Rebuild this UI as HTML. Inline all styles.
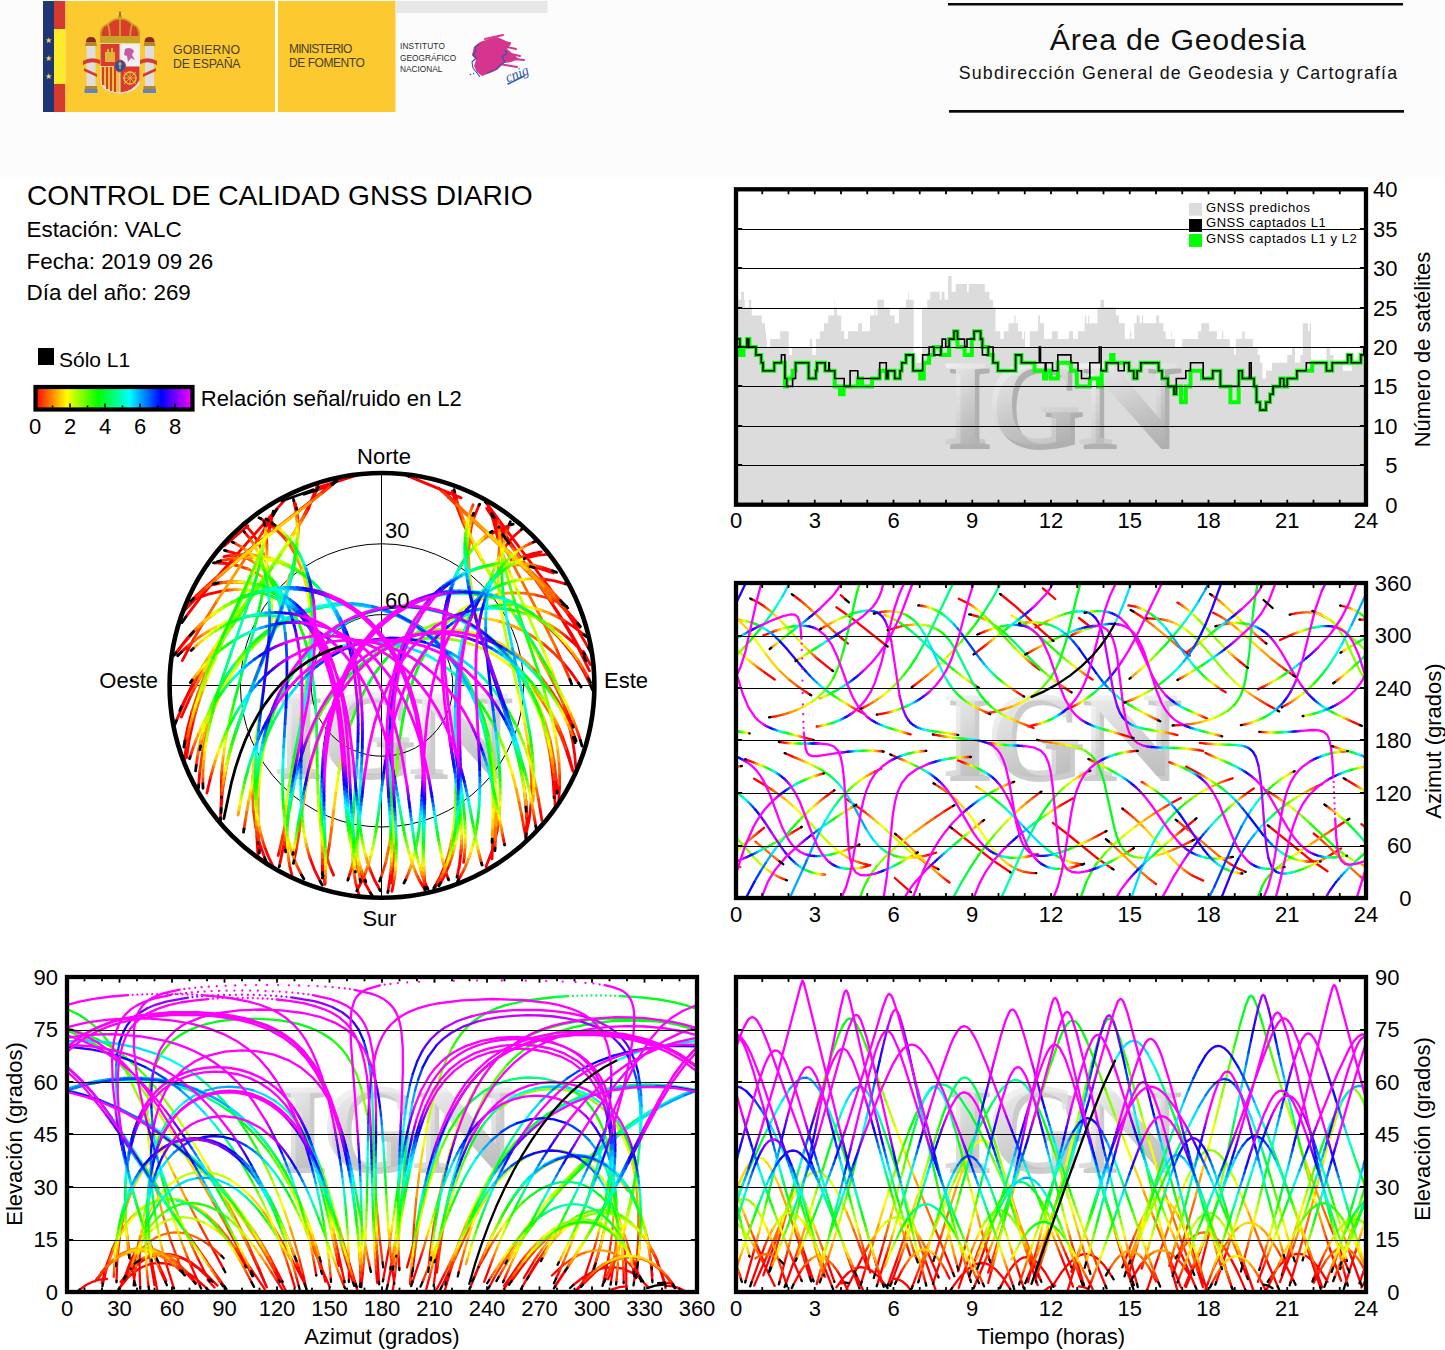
<!DOCTYPE html>
<html><head><meta charset="utf-8"><title>Control de calidad GNSS diario - VALC</title>
<style>html,body{margin:0;padding:0;background:#fff;} svg{display:block;}</style></head>
<body><svg width="1445" height="1350" viewBox="0 0 1445 1350">
<rect x="0" y="0" width="1445" height="177" fill="#fcfcfc"/>
<rect x="43" y="1" width="11" height="111" fill="#1f3676"/>
<text x="48.5" y="43" font-size="8" fill="#f3d34a" text-anchor="middle" font-family="'Liberation Sans', Arial, Helvetica, sans-serif">★</text>
<text x="48.5" y="61" font-size="8" fill="#f3d34a" text-anchor="middle" font-family="'Liberation Sans', Arial, Helvetica, sans-serif">★</text>
<text x="48.5" y="79" font-size="8" fill="#f3d34a" text-anchor="middle" font-family="'Liberation Sans', Arial, Helvetica, sans-serif">★</text>
<rect x="54" y="1" width="11.5" height="28" fill="#d53a2e"/>
<rect x="54" y="29" width="11.5" height="55" fill="#f9ec2b"/>
<rect x="54" y="84" width="11.5" height="28" fill="#d53a2e"/>
<rect x="65.5" y="1" width="209.5" height="111" fill="#fdc931"/>
<rect x="275" y="1" width="3" height="111" fill="#fffdf0"/>
<rect x="278" y="1" width="117.5" height="111" fill="#fdc931"/>
<rect x="395.5" y="1" width="152" height="12" fill="#e7e7e7"/>
<g>
<path d="M101,38 Q99,27 108,24 Q114,18 120,19 Q126,18 132,24 Q141,27 139,38 Z" fill="#d93b2c"/>
<path d="M101,38 Q99,27 108,24 Q114,18 120,19 Q126,18 132,24 Q141,27 139,38 M108,24 Q110,31 110,38 M132,24 Q130,31 130,38 M120,19 L120,38" fill="none" stroke="#c9a227" stroke-width="1.8"/>
<circle cx="120" cy="17" r="2.2" fill="#c9a227"/><rect x="119.2" y="11.5" width="1.6" height="5" fill="#8a6a1a"/>
<rect x="100" y="36" width="40" height="7" rx="1.5" fill="#c9a227"/>
<path d="M100,43.5 L140,43.5 L140,79 Q140,92 120,93.5 Q100,92 100,79 Z" fill="#e4e4e4"/>
<rect x="100.5" y="44" width="19" height="22" fill="#d93b2c"/>
<path d="M105,62 L105,52 L107,52 L107,49 L109,49 L109,52 L111,52 L111,48 L113,48 L113,52 L115,52 L115,62 Z" fill="#e2b23a"/>
<rect x="120.5" y="44" width="19" height="22" fill="#f0f0f0"/>
<path d="M125,49 Q131,46 134,51 L132,55 L135,60 L131,58 L128,62 L127,56 L124,55 Z" fill="#c75aa0"/>
<path d="M100.5,66.5 L119.5,66.5 L119.5,92.5 Q106,91 100.5,80 Z" fill="#e8c13a"/>
<path d="M103,67 L103,85 M107,67 L107,89 M111,67 L111,91 M115,67 L115,92" stroke="#d93b2c" stroke-width="2"/>
<path d="M120.5,66.5 L139.5,66.5 L139.5,80 Q134,91 120.5,92.5 Z" fill="#d93b2c"/>
<circle cx="130" cy="78" r="6" fill="none" stroke="#e8c13a" stroke-width="1.6"/>
<path d="M124,72 L136,84 M136,72 L124,84 M130,71 L130,85 M123,78 L137,78" stroke="#e8c13a" stroke-width="0.9"/>
<ellipse cx="120" cy="66" rx="5.5" ry="6" fill="#2d4fa3" stroke="#d93b2c" stroke-width="1"/>
<path d="M118,64 L122,64 M120,62 L120,69" stroke="#e8c13a" stroke-width="1.2"/>
<rect x="86.5" y="46" width="9" height="41" fill="#dedede"/>
<rect x="145" y="46" width="9" height="41" fill="#dedede"/>
<path d="M85,46 L97,46 L96,42 L86,42 Z M143.5,46 L155.5,46 L154.5,42 L144.5,42 Z" fill="#b5872c"/>
<path d="M86,42 Q86,37 91,37 Q96,37 96,42 Z M144.5,42 Q144.5,37 149.5,37 Q154.5,37 154.5,42 Z" fill="#8c2a1f"/>
<rect x="85" y="86" width="12" height="3" fill="#b5872c"/>
<rect x="143.5" y="86" width="12" height="3" fill="#b5872c"/>
<rect x="84.5" y="89" width="13" height="4" fill="#5f86c0"/>
<rect x="143" y="89" width="13" height="4" fill="#5f86c0"/>
<path d="M83,61 Q91,56 100,60 L100,64 Q91,60 83,65 Z M84,68 L97,74 L97,77 L84,71 Z" fill="#d93b2c"/>
<path d="M157,61 Q149,56 140,60 L140,64 Q149,60 157,65 Z M156,68 L143,74 L143,77 L156,71 Z" fill="#d93b2c"/>
</g>
<g font-family="'Liberation Sans', Arial, Helvetica, sans-serif" font-size="12.3" fill="#45422c" letter-spacing="0.1"><text x="173" y="54.2">GOBIERNO</text><text x="173" y="68" letter-spacing="-0.25">DE ESPAÑA</text></g>
<g font-family="'Liberation Sans', Arial, Helvetica, sans-serif" font-size="12" fill="#45422c" letter-spacing="-0.45"><text x="289" y="53" letter-spacing="-0.75">MINISTERIO</text><text x="289" y="67">DE FOMENTO</text></g>
<g font-family="'Liberation Sans', Arial, Helvetica, sans-serif" font-size="8.3" fill="#2a2a2a"><text x="400" y="48.8" letter-spacing="0.15">INSTITUTO</text><text x="400" y="60.6">GEOGRÁFICO</text><text x="400" y="71.8">NACIONAL</text></g>
<g>
<path d="M474,47 L480,42 L489,39 L497,37 L504,40 L511,44 L507,49 L513,54 L519,59 L511,62 L504,63 L498,69 L490,73 L482,76 L477,72 L474,66 L476,60 L472,55 Z" fill="#d5358c"/>
<path d="M492,40 L510,43 M497,45 L516,49 M503,52 L520,56 M504,58 L524,60 M499,64 L517,67 M485,39 L503,35" stroke="#d5358c" stroke-width="2" stroke-linecap="round"/>
<path d="M479,44 L475,47 L476,51 L473,55 L476,58 L472,62 L473,68 L477,73 L480,77 M487,73 L493,71 L497,69 L500,65 L505,62 L502,57 L507,53 L505,50" fill="none" stroke="#2a55b0" stroke-width="1.1" stroke-linejoin="round"/>
<circle cx="470.5" cy="74.5" r="0.8" fill="#2a55b0"/><circle cx="473.5" cy="73.5" r="0.7" fill="#2a55b0"/>
<text x="505" y="78" font-family="'Liberation Serif', 'Times New Roman', serif" font-style="italic" font-size="14" fill="#2a55b0" transform="rotate(-22 518 74)">cnig</text>
<path d="M508,84 Q516,80 524,76" fill="none" stroke="#2a55b0" stroke-width="1.5" stroke-linecap="round"/>
</g>
<rect x="948" y="3" width="455" height="2.5" fill="#0a0a0a"/>
<rect x="949" y="110" width="455" height="2.7" fill="#0a0a0a"/>
<text x="1178" y="50" text-anchor="middle" font-family="'Liberation Sans', Arial, Helvetica, sans-serif" font-size="30.3" letter-spacing="0.77" fill="#111">Área de Geodesia</text>
<text x="1178.5" y="79" text-anchor="middle" font-family="'Liberation Sans', Arial, Helvetica, sans-serif" font-size="17.8" letter-spacing="1.2" fill="#111">Subdirección General de Geodesia y Cartografía</text>
<g font-family="'Liberation Sans', Arial, Helvetica, sans-serif" fill="#000">
<text x="27" y="204.7" font-size="28.15">CONTROL DE CALIDAD GNSS DIARIO</text>
<text x="26.5" y="236.5" font-size="22.4">Estación: VALC</text>
<text x="26.5" y="268.5" font-size="22.4">Fecha: 2019 09 26</text>
<text x="26.5" y="299.5" font-size="22.4">Día del año: 269</text>
<rect x="38" y="348" width="16" height="17" fill="#000"/>
<text x="59" y="366.5" font-size="21">Sólo L1</text>
<defs><linearGradient id="cb" x1="0" x2="1" y1="0" y2="0"><stop offset="0" stop-color="#ff0000"/><stop offset="0.2" stop-color="#ffff00"/><stop offset="0.4" stop-color="#00ff00"/><stop offset="0.6" stop-color="#00ffff"/><stop offset="0.8" stop-color="#0000ff"/><stop offset="1" stop-color="#ff00ff"/></linearGradient></defs>
<rect x="35.5" y="387" width="157" height="22.5" fill="url(#cb)" stroke="#000" stroke-width="4.2"/>
<rect x="51.7" y="405.5" width="1.6" height="2" fill="#000"/>
<rect x="69.2" y="403.5" width="1.6" height="4" fill="#000"/>
<rect x="86.7" y="405.5" width="1.6" height="2" fill="#000"/>
<rect x="104.2" y="403.5" width="1.6" height="4" fill="#000"/>
<rect x="121.7" y="405.5" width="1.6" height="2" fill="#000"/>
<rect x="139.2" y="403.5" width="1.6" height="4" fill="#000"/>
<rect x="156.7" y="405.5" width="1.6" height="2" fill="#000"/>
<rect x="174.2" y="403.5" width="1.6" height="4" fill="#000"/>
<text x="35.0" y="433.8" font-size="22" text-anchor="middle">0</text>
<text x="70.0" y="433.8" font-size="22" text-anchor="middle">2</text>
<text x="105.0" y="433.8" font-size="22" text-anchor="middle">4</text>
<text x="140.0" y="433.8" font-size="22" text-anchor="middle">6</text>
<text x="175.0" y="433.8" font-size="22" text-anchor="middle">8</text>
<text x="200.8" y="406" font-size="22.05">Relación señal/ruido en L2</text>
</g>
<polygon points="736 504.7 738.1 299.7 741.1 299.7 741.1 291.8 744.1 291.8 744.1 299.7 744.7 299.7 744.7 307.6 748.8 307.6 748.8 299.7 751.2 299.7 751.2 307.6 751.8 307.6 751.8 315.5 761.8 315.5 761.8 323.3 765.0 323.3 765.0 331.2 766.0 331.2 766.0 339.1 766.9 339.1 766.9 347.0 770.1 347.0 770.1 339.1 780.2 339.1 780.2 331.2 788.7 331.2 788.7 354.9 792.1 354.9 792.1 347.0 809.8 347.0 809.8 339.1 812.2 339.1 812.2 354.9 815.8 354.9 815.8 339.1 819.9 339.1 819.9 331.2 824.0 331.2 824.0 323.3 828.2 323.3 828.2 315.5 834.1 315.5 834.1 307.6 834.5 307.6 834.5 299.7 834.9 299.7 834.9 307.6 837.1 307.6 837.1 315.5 841.2 315.5 841.2 331.2 844.2 331.2 844.2 339.1 848.0 339.1 848.0 331.2 858.2 331.2 858.2 323.3 862.0 323.3 862.0 331.2 870.0 331.2 870.0 315.5 874.4 315.5 874.4 307.6 875.6 307.6 875.6 315.5 877.4 315.5 877.4 299.7 883.9 299.7 883.9 307.6 890.0 307.6 890.0 315.5 894.7 315.5 894.7 323.3 898.9 323.3 898.9 307.6 906.0 307.6 906.0 299.7 908.4 299.7 908.4 291.8 909.0 291.8 909.0 299.7 913.7 299.7 913.7 362.8 922.0 362.8 922.0 307.6 927.3 307.6 927.3 299.7 930.3 299.7 930.3 291.8 939.8 291.8 939.8 299.7 941.5 299.7 941.5 291.8 944.5 291.8 944.5 299.7 948.1 299.7 948.1 276.0 951.6 276.0 951.6 291.8 955.8 291.8 955.8 283.9 967.0 283.9 967.0 291.8 968.8 291.8 968.8 283.9 984.8 283.9 984.8 291.8 989.5 291.8 989.5 299.7 993.1 299.7 993.1 307.6 995.5 307.6 995.5 331.2 1000.2 331.2 1000.2 339.1 1003.7 339.1 1003.7 331.2 1008.5 331.2 1008.5 323.3 1014.4 323.3 1014.4 315.5 1015.6 315.5 1015.6 323.3 1018.0 323.3 1018.0 331.2 1022.1 331.2 1022.1 339.1 1023.9 339.1 1023.9 331.2 1025.1 331.2 1025.1 347.0 1029.8 347.0 1029.8 331.2 1038.1 331.2 1038.1 315.5 1039.9 315.5 1039.9 323.3 1044.0 323.3 1044.0 339.1 1046.0 339.1 1046.0 339.1 1051.9 339.1 1051.9 331.2 1057.8 331.2 1057.8 339.1 1069.1 339.1 1069.1 331.2 1073.0 331.2 1073.0 339.1 1078.0 339.1 1078.0 331.2 1084.5 331.2 1084.5 323.3 1085.1 323.3 1085.1 315.5 1086.3 315.5 1086.3 323.3 1088.1 323.3 1088.1 315.5 1089.2 315.5 1089.2 323.3 1097.5 323.3 1097.5 307.6 1100.5 307.6 1100.5 299.7 1104.1 299.7 1104.1 307.6 1115.9 307.6 1115.9 315.5 1118.9 315.5 1118.9 323.3 1124.8 323.3 1124.8 339.1 1130.1 339.1 1130.1 331.2 1131.3 331.2 1131.3 339.1 1134.3 339.1 1134.3 323.3 1136.6 323.3 1136.6 315.5 1139.6 315.5 1139.6 323.3 1142.0 323.3 1142.0 315.5 1143.2 315.5 1143.2 323.3 1156.2 323.3 1156.2 315.5 1159.2 315.5 1159.2 323.3 1163.3 323.3 1163.3 331.2 1165.7 331.2 1165.7 339.1 1171.0 339.1 1171.0 331.2 1171.6 331.2 1171.6 339.1 1175.1 339.1 1175.1 347.0 1182.3 347.0 1182.3 339.1 1198.3 339.1 1198.3 331.2 1201.2 331.2 1201.2 323.3 1202.0 323.3 1202.0 323.3 1209.1 323.3 1209.1 331.2 1216.8 331.2 1216.8 339.1 1222.1 339.1 1222.1 331.2 1223.3 331.2 1223.3 339.1 1229.8 339.1 1229.8 347.0 1234.0 347.0 1234.0 354.9 1235.8 354.9 1235.8 339.1 1242.3 339.1 1242.3 331.2 1244.7 331.2 1244.7 339.1 1252.9 339.1 1252.9 347.0 1257.7 347.0 1257.7 354.9 1260.1 354.9 1260.1 362.8 1262.4 362.8 1262.4 378.5 1266.0 378.5 1266.0 370.7 1271.9 370.7 1271.9 362.8 1287.3 362.8 1287.3 354.9 1292.0 354.9 1292.0 347.0 1295.0 347.0 1295.0 362.8 1300.3 362.8 1300.3 354.9 1302.7 354.9 1302.7 323.3 1308.0 323.3 1308.0 331.2 1309.8 331.2 1309.8 323.3 1311.0 323.3 1311.0 362.8 1326.4 362.8 1326.4 347.0 1330.0 347.0 1330.0 354.9 1333.5 354.9 1333.5 362.8 1343.0 362.8 1343.0 370.7 1351.9 370.7 1351.9 362.8 1358.4 362.8 1358.4 354.9 1360.8 354.9 1360.8 347.0 1363.8 347.0 1363.8 347.0 1366.0 347.0 1366 504.7" fill="#dcdcdc"/>
<defs><linearGradient id="wmg" x1="0" x2="0.3" y1="0" y2="1"><stop offset="0" stop-color="#fff" stop-opacity="1"/><stop offset="0.5" stop-color="#e2e2e2" stop-opacity="0.75"/><stop offset="1" stop-color="#b0b0b0" stop-opacity="0.55"/></linearGradient></defs>
<g font-family="'Liberation Serif', 'Times New Roman', serif" font-weight="bold" font-size="123"><text x="946.0" y="448.6" fill="#000" fill-opacity="0.2">I</text><text x="990.5" y="448.6" fill="#000" fill-opacity="0.2">G</text><text transform="translate(1081.0 448.6) scale(1.15 1)" fill="#000" fill-opacity="0.2">N</text><text x="941.5" y="444.1" fill="url(#wmg)">I</text><text x="986.0" y="444.1" fill="url(#wmg)">G</text><text transform="translate(1076.5 444.1) scale(1.15 1)" fill="url(#wmg)">N</text></g>
<path d="M738.1 339.1L739.9 339.1L739.9 354.9L743.5 354.9L743.5 347.0L747.0 347.0L747.0 339.1L749.4 339.1L749.4 347.0L755.9 347.0L755.9 354.9L761.3 354.9L761.3 362.8L763.0 362.8L763.0 370.7L774.3 370.7L774.3 362.8L781.4 362.8L781.4 362.8L784.9 362.8L784.9 386.4L786.7 386.4L786.7 378.5L792.6 378.5L792.6 370.7L795.6 370.7L795.6 362.8L808.6 362.8L808.6 378.5L815.8 378.5L815.8 370.7L816.9 370.7L816.9 362.8L825.2 362.8L825.2 370.7L834.7 370.7L834.7 386.4L840.0 386.4L840.0 394.3L843.6 394.3L843.6 386.4L857.8 386.4L857.8 378.5L862.0 378.5L862.0 386.4L872.0 386.4L872.0 378.5L879.7 378.5L879.7 370.7L886.3 370.7L886.3 378.5L888.0 378.5L888.0 370.7L890.0 370.7L890.0 370.7L894.7 370.7L894.7 378.5L900.1 378.5L900.1 370.7L901.8 370.7L901.8 362.8L906.0 362.8L906.0 354.9L913.1 354.9L913.1 370.7L920.2 370.7L920.2 378.5L923.8 378.5L923.8 362.8L929.1 362.8L929.1 354.9L933.8 354.9L933.8 347.0L940.9 347.0L940.9 354.9L949.2 354.9L949.2 339.1L954.0 339.1L954.0 331.2L957.5 331.2L957.5 347.0L964.6 347.0L964.6 354.9L971.8 354.9L971.8 339.1L974.1 339.1L974.1 331.2L980.6 331.2L980.6 339.1L982.4 339.1L982.4 347.0L988.3 347.0L988.3 354.9L993.1 354.9L993.1 362.8L997.8 362.8L997.8 370.7L1008.5 370.7L1008.5 370.7L1015.6 370.7L1015.6 354.9L1021.5 354.9L1021.5 362.8L1034.5 362.8L1034.5 370.7L1044.0 370.7L1044.0 378.5L1046.0 378.5L1046.0 370.7L1050.7 370.7L1050.7 378.5L1057.8 378.5L1057.8 362.8L1070.9 362.8L1070.9 370.7L1076.8 370.7L1076.8 386.4L1089.8 386.4L1089.8 378.5L1098.1 378.5L1098.1 386.4L1101.7 386.4L1101.7 370.7L1106.4 370.7L1106.4 362.8L1111.2 362.8L1111.2 354.9L1113.5 354.9L1113.5 362.8L1128.9 362.8L1128.9 370.7L1133.7 370.7L1133.7 378.5L1137.2 378.5L1137.2 370.7L1140.8 370.7L1140.8 362.8L1158.6 362.8L1158.6 370.7L1162.1 370.7L1162.1 378.5L1168.0 378.5L1168.0 386.4L1174.0 386.4L1174.0 394.3L1176.3 394.3L1176.3 386.4L1181.1 386.4L1181.1 402.2L1185.8 402.2L1185.8 386.4L1190.5 386.4L1190.5 370.7L1202.0 370.7L1202.0 378.5L1206.7 378.5L1206.7 378.5L1212.7 378.5L1212.7 370.7L1220.4 370.7L1220.4 386.4L1230.4 386.4L1230.4 402.2L1238.7 402.2L1238.7 370.7L1242.3 370.7L1242.3 378.5L1254.1 378.5L1254.1 386.4L1256.5 386.4L1256.5 402.2L1260.1 402.2L1260.1 410.1L1266.0 410.1L1266.0 402.2L1270.1 402.2L1270.1 394.3L1273.1 394.3L1273.1 386.4L1280.2 386.4L1280.2 378.5L1283.8 378.5L1283.8 386.4L1287.3 386.4L1287.3 378.5L1296.8 378.5L1296.8 370.7L1306.3 370.7L1306.3 370.7L1312.2 370.7L1312.2 362.8L1326.4 362.8L1326.4 370.7L1332.3 370.7L1332.3 362.8L1339.4 362.8L1339.4 362.8L1347.7 362.8L1347.7 354.9L1351.3 354.9L1351.3 362.8L1360.8 362.8L1360.8 354.9L1363.8 354.9L1363.8 354.9L1366.0 354.9" fill="none" stroke="#00ff00" stroke-width="4" stroke-linejoin="miter"/>
<path d="M738.1 339.1L739.9 339.1L739.9 347.0L747.0 347.0L747.0 339.1L748.8 339.1L748.8 347.0L755.9 347.0L755.9 354.9L761.3 354.9L761.3 362.8L763.0 362.8L763.0 370.7L774.3 370.7L774.3 362.8L781.4 362.8L781.4 354.9L784.9 354.9L784.9 378.5L786.7 378.5L786.7 386.4L792.6 386.4L792.6 378.5L795.6 378.5L795.6 362.8L808.6 362.8L808.6 378.5L815.8 378.5L815.8 370.7L816.9 370.7L816.9 362.8L825.2 362.8L825.2 370.7L828.8 370.7L828.8 362.8L829.4 362.8L829.4 370.7L834.7 370.7L834.7 378.5L844.2 378.5L844.2 386.4L850.1 386.4L850.1 370.7L857.8 370.7L857.8 378.5L862.0 378.5L862.0 378.5L872.0 378.5L872.0 378.5L879.7 378.5L879.7 362.8L886.3 362.8L886.3 378.5L888.0 378.5L888.0 370.7L890.0 370.7L890.0 370.7L894.7 370.7L894.7 378.5L900.1 378.5L900.1 370.7L901.8 370.7L901.8 362.8L906.0 362.8L906.0 354.9L913.1 354.9L913.1 370.7L922.6 370.7L922.6 354.9L929.1 354.9L929.1 347.0L933.8 347.0L933.8 354.9L940.9 354.9L940.9 347.0L942.1 347.0L942.1 339.1L945.7 339.1L945.7 347.0L949.2 347.0L949.2 339.1L954.0 339.1L954.0 331.2L957.5 331.2L957.5 339.1L964.6 339.1L964.6 347.0L967.0 347.0L967.0 339.1L971.8 339.1L971.8 339.1L974.1 339.1L974.1 331.2L980.6 331.2L980.6 339.1L982.4 339.1L982.4 354.9L988.3 354.9L988.3 347.0L993.1 347.0L993.1 362.8L997.8 362.8L997.8 370.7L1008.5 370.7L1008.5 370.7L1015.6 370.7L1015.6 354.9L1021.5 354.9L1021.5 362.8L1033.4 362.8L1033.4 362.8L1039.3 362.8L1039.3 347.0L1040.5 347.0L1040.5 362.8L1045.2 362.8L1045.2 370.7L1046.0 370.7L1046.0 362.8L1052.5 362.8L1052.5 370.7L1057.8 370.7L1057.8 354.9L1070.9 354.9L1070.9 362.8L1078.0 362.8L1078.0 370.7L1081.5 370.7L1081.5 378.5L1089.8 378.5L1089.8 362.8L1098.1 362.8L1098.1 362.8L1099.3 362.8L1099.3 347.0L1101.1 347.0L1101.1 370.7L1106.4 370.7L1106.4 362.8L1111.2 362.8L1111.2 362.8L1118.3 362.8L1118.3 370.7L1124.2 370.7L1124.2 362.8L1128.9 362.8L1128.9 370.7L1133.7 370.7L1133.7 378.5L1137.2 378.5L1137.2 370.7L1140.8 370.7L1140.8 362.8L1158.6 362.8L1158.6 370.7L1162.1 370.7L1162.1 378.5L1168.0 378.5L1168.0 386.4L1174.0 386.4L1174.0 394.3L1176.3 394.3L1176.3 378.5L1185.8 378.5L1185.8 370.7L1190.5 370.7L1190.5 362.8L1202.0 362.8L1202.0 362.8L1203.2 362.8L1203.2 378.5L1206.7 378.5L1206.7 378.5L1212.7 378.5L1212.7 370.7L1220.4 370.7L1220.4 386.4L1238.7 386.4L1238.7 370.7L1242.3 370.7L1242.3 378.5L1249.4 378.5L1249.4 362.8L1251.2 362.8L1251.2 378.5L1254.1 378.5L1254.1 386.4L1256.5 386.4L1256.5 402.2L1260.1 402.2L1260.1 410.1L1266.0 410.1L1266.0 402.2L1270.1 402.2L1270.1 394.3L1273.1 394.3L1273.1 386.4L1280.2 386.4L1280.2 378.5L1283.8 378.5L1283.8 386.4L1287.3 386.4L1287.3 378.5L1296.8 378.5L1296.8 370.7L1306.3 370.7L1306.3 362.8L1312.2 362.8L1312.2 362.8L1326.4 362.8L1326.4 370.7L1332.3 370.7L1332.3 362.8L1347.7 362.8L1347.7 354.9L1351.3 354.9L1351.3 362.8L1360.8 362.8L1360.8 354.9L1363.8 354.9L1363.8 347.0L1366.0 347.0" fill="none" stroke="#000" stroke-width="1.6" stroke-linejoin="miter"/>
<g font-family="'Liberation Serif', 'Times New Roman', serif" font-weight="bold" font-size="123"><text x="946.0" y="780.6" fill="#000" fill-opacity="0.2">I</text><text x="990.5" y="780.6" fill="#000" fill-opacity="0.2">G</text><text transform="translate(1081.0 780.6) scale(1.15 1)" fill="#000" fill-opacity="0.2">N</text><text x="941.5" y="776.1" fill="url(#wmg)">I</text><text x="986.0" y="776.1" fill="url(#wmg)">G</text><text transform="translate(1076.5 776.1) scale(1.15 1)" fill="url(#wmg)">N</text></g>
<g font-family="'Liberation Serif', 'Times New Roman', serif" font-weight="bold" font-size="123"><text x="281.0" y="1172.6" fill="#000" fill-opacity="0.2">I</text><text x="325.5" y="1172.6" fill="#000" fill-opacity="0.2">G</text><text transform="translate(416.0 1172.6) scale(1.15 1)" fill="#000" fill-opacity="0.2">N</text><text x="276.5" y="1168.1" fill="url(#wmg)">I</text><text x="321.0" y="1168.1" fill="url(#wmg)">G</text><text transform="translate(411.5 1168.1) scale(1.15 1)" fill="url(#wmg)">N</text></g>
<g font-family="'Liberation Serif', 'Times New Roman', serif" font-weight="bold" font-size="123"><text x="946.0" y="1172.6" fill="#000" fill-opacity="0.2">I</text><text x="990.5" y="1172.6" fill="#000" fill-opacity="0.2">G</text><text transform="translate(1081.0 1172.6) scale(1.15 1)" fill="#000" fill-opacity="0.2">N</text><text x="941.5" y="1168.1" fill="url(#wmg)">I</text><text x="986.0" y="1168.1" fill="url(#wmg)">G</text><text transform="translate(1076.5 1168.1) scale(1.15 1)" fill="url(#wmg)">N</text></g>
<g font-family="'Liberation Serif', 'Times New Roman', serif" font-weight="bold" font-size="123"><text x="277.0" y="778.6" fill="#000" fill-opacity="0.2">I</text><text x="321.5" y="778.6" fill="#000" fill-opacity="0.2">G</text><text transform="translate(412.0 778.6) scale(1.15 1)" fill="#000" fill-opacity="0.2">N</text><text x="272.5" y="774.1" fill="url(#wmg)">I</text><text x="317.0" y="774.1" fill="url(#wmg)">G</text><text transform="translate(407.5 774.1) scale(1.15 1)" fill="url(#wmg)">N</text></g>

<circle cx="382.0" cy="685.4" r="141.60" fill="none" stroke="#000" stroke-width="1"/>
<circle cx="382.0" cy="685.4" r="70.80" fill="none" stroke="#000" stroke-width="1"/>
<rect x="381" y="473.0" width="1" height="424.8" fill="#000"/>
<rect x="169.6" y="685" width="424.8" height="1" fill="#000"/>
<defs><clipPath id="cp"><circle cx="382.0" cy="685.4" r="211.4"/></clipPath></defs><g fill="none" stroke-width="2.8" stroke-linecap="round" stroke-linejoin="round" clip-path="url(#cp)">
<path stroke="#ff0000" d="M544.2 579.2l10.5 1.7 10.7 2.9M273 515.6l-11.1 17.9M193.7 639l-11.4 21.6M405.4 880.2l1.3-2.9M233.5 542.6l2 1M300.2 872.4l1.3 2.5M558.7 801l1-15.9M218.2 582.9l12.5-1.2M358.6 868l5.2 13 6.5 11.8M584.1 656.8l-12.6-22.8-15.5-24.8-52.5-75.4-16.8-25.4M534.6 819l1.2 7M294.1 860.5l2.3-11.9M564.6 713.3l5.3 11.5 4.9 12.4M210.3 585.4l7.6-1.8M364.4 878.4l0.8 1.9M590.3 664.7l-6.9-13.3M181.5 651.9l6.6-6M419.4 880.3l5.6 9.8M279.4 865.9l4.5-21.5M562.1 735.8l5.8 16.4 4.9 18M435.3 885.6l5-9.3 4.1-9.7M525.5 558.1l11.3-2.8 12-1.1M272 521.6l-2.8 8.8M191.9 711.8l-4.1 15.2-2.9 14M525.5 836.1l3.7-16.7 2-17.5M501.4 538.1l2.2-7.4M245 524.6l7.2 8.2 6.1 9.7M255.6 826.7l3.8 16 5.3 15.1M278.2 855.5l1.3-5.2M565.8 748.8l7.1 22.5M357.3 890l6.3-12.6M564.6 620.8l9.8 6.5 9.5 7.4M193.5 720.2l-4.2 19.2-2.7 18.2M440.7 882.8l4.6-8.9 3.9-9.3M524 556.4l8.6-2.7 8.6-1.8M272.8 514.1l-4.4 17.3M575.8 767.6l-1.1-12.9-2-13.4-6.3-27.6M497.9 538.9l-5.6-22.5M226.3 550.8l10.1 2.8 9.9 4.3M310 858l4.6 12.1 5.5 11.1M523.7 826.1l2.4 12.9M264.4 846.3l4.2 10.8 5 10.4M507.1 530.5l2.1-5.9M244.7 532.3l4.4 5.3M370.1 869.7l4.4 10.3 5.1 9.4M588.1 647.4l-13.9-23.7-17.5-26.2-70.6-94.8M195.4 598.9l14.2-5.1 14.6-3.2M481.1 861.8l0.4 1.4M190.1 757l1.5-4.7M244 829l0.1-0.5M539.8 807l2.1 13.4M284.4 500.3l-66.8 76.2-17 20.8-14.6 19.4M557.1 601.7l5.3 2.4M424.7 881.8l2.4 5.7M503.2 838l1.3 6.5M206.9 793l3.7-15.9M323.1 875.7l3.9-16.4M563.7 663.3l7.6 9.3 7.3 10.6M458.5 879.8l3.1-5.5M530.4 543.5l3.3-1.5M207.8 584.8l12.1-2.2 12.3-0.6M356.8 866.1l2.4 6.3M589.5 670.8l-12.7-25.8-16.5-28.2-15.3-23.7-35.9-52.8-14.8-22.6M564.9 635.4l9.8 8.6 8.8 9.1M247.9 525.7l-23.7 20.3M348.3 878.7l2.2-7M186.2 745.7l-1.5 12.9M433.7 889.8l4.7-7.6M215.1 562.9l11 0.6 10.6 1.8M330.2 867.1l3.4 8M500.9 538.8l-7.8-18.7-5.7-17.1M446.1 872.8l2 5.8M264.7 525.3l2 15M221.4 778.8l0 18M486 866.7l6.7-17.4 4.5-18.6M505.3 546.3l7.4-9 8.6-7.6M289.7 865.7l2.6 11.3M580.3 740.1l-1.9-5.8M456.9 500.8l-2.3-8.9M223.9 556.6l7.2-1.1M355.8 883l3.4 12.8M579.8 627.4l-12.4-14.5M448.5 497.5l0 0M451.1 498.9l0 0M176 652.7l11.5-14.8 13.2-13.5M423.4 872.8l1.4 15.1M198.7 784.8l1-12.9M259.2 850.2l-0.5-10.4M556.3 779.8l0.7 11.2M325 884.4l0.1-2.3M587 675.4l1.8 3.6M333 484.1l-3.8 3.2M197.1 596.4l-11.9 12M388.1 890.9l2.6-17.6M528.3 566.3l2 0.4M309 507.9l-2.8 5.1M193.4 682.7l-12.1 24.3M457.3 876l2.1-11.1 1.4-11.8M490 534.6l13.6-7M295.4 503.6l1.6 8.4 0.9 8.7M223.3 782.1l-2 15.6M526.4 833.7l0.5-15.3-0.9-16.7M331.9 484l-19.5 16.1M212.4 582.7l-14.5 13.9-13.6 13.8M391.9 891.4l1.7-8.3M541.3 567.1l11.2 3.8M317 490l-7.4 15.5-9.4 17.1M200 672l-13.4 25.2-10.2 23.4M459.1 868.3l2.2-18.8M487.4 536.2l11.7-6.8 12.4-4.8M296.6 509.2l1.5 14.7M222.4 790.7l-1.2 17.8M473.9 517.5l5.2-12.5M261 518.8l6.5 4.1 6.5 4.9M577.8 623.3l-13.6-15.6M452.5 500.1l-8.5-8.3M175.8 653.9l7-9.4 7.5-8.8M424.6 879l0.9 8.3M461.1 497.9l-52.1-21.5M258 856.4l-1.2-20.3M554.2 779.4l1 28.4M332.5 484.8l-16.2 5.3M324.5 883l0-21.2M562.1 640.5l7.8 9.6 7.6 11 6.8 11.7 6.1 12.3M492.8 841l-0.8 17.9M258 843l-0.6-13.4M551.8 767.3l1.5 15 0.8 14.9M359.6 474.3l-42.8 13.5M322.3 872.5l0-8.9M557.3 635.9l7 7.9 7.2 9M334.5 482.5l-95.3 75.3-25 21.4-20.7 19.2M391.3 882.8l1.8-16.2M517.9 564.3l17.7 2.9 17.7 5.8M317.2 486l-4.9 12.1-5.8 12.4M191.1 695.2l-9.7 21.8M463.6 862.3l0.6-5M293.9 501l2 9.9M221.3 796.7l-0.8 21.3M526.5 818.7l-0.1-2.8M268.2 520.4l7.5 5.5 6.8 6.3M284.9 840.2l0.5 9.7M572.5 725.1l-9-21.8M462.4 521.3l-5.9-15.6-4.3-14.5M220.7 560.9l1.4-0.4M442.3 491.5l-3.6-3.4M424.2 883l0.5 4.4M196.2 765.5l0.2-1.6"/>
<path stroke="#ff3500" d="M538.9 578.8l5.3 0.4M261.9 533.5l-8.2 12.6M202.9 623.4l-9.2 15.6M406.7 877.3l1.8-4.3M498.7 524.9l0-3.9M235.5 543.6l5.5 3.1M296.4 864.5l3.8 7.9M559.7 785.1l-0.1-11.9M230.7 581.7l5.2 0M357.1 863.5l1.5 4.5M533.7 813.5l0.9 5.5M296.4 848.6l2.9-17.7M549.9 688.7l7.8 12 6.9 12.6M553 603.2l-2-2.9M513.3 549l-4.3-5.8M217.9 583.6l5.3-0.9M362.7 874l1.7 4.4M188.1 645.9l7.3-6M416.7 874.7l2.7 5.6M283.9 844.4l0.8-4.6M559.5 729.4l2.6 6.4M444.4 866.6l3.2-9.4M518 560.9l7.5-2.8M269.2 530.4l-4.9 13.7M198 693.1l-6.1 18.7M531.2 801.9l0.5-18.9M499.2 550.2l2.2-12.1M258.3 542.5l4.6 9.8M253.3 809.8l2.3 16.9M279.5 850.3l3.9-17.8M555.5 724.3l5.5 12.1 4.8 12.4M363.6 877.4l2.2-5.5M556.6 616.5l8 4.3M196.2 710.4l-2.7 9.8M449.2 864.6l1.8-5.2M519.7 558.2l4.3-1.8M268.4 531.4l-2 6.8M566.4 713.7l-3.1-10.3M500.2 546.4l-2.3-7.5M246.3 557.9l3.6 2M308.4 852.7l1.6 5.3M521.3 813.3l2.4 12.8M250.2 539l1.4 2.2M262.3 839.4l2.1 6.9M505.9 534.8l1.2-4.3M249.1 537.6l2.5 3.5M368.6 865.3l1.5 4.4M224.2 590.6l5.2-0.6M480 857.6l1.1 4.2M191.6 752.3l2.2-6.4M244.1 828.5l1.4-9.2M538 796.7l1.8 10.3M380.9 877.8l4.9-15.6M534.1 594.6l11.8 2.9 11.2 4.2M423.1 877.8l1.6 4M502.2 832.9l1 5.1M210.6 777.1l1.7-6.3M327 859.3l2.8-17M542.8 643.4l10.6 9.2 10.3 10.7M202.9 777l0 6.6M461.6 874.3l2.9-5.7M526.3 545.5l4.1-2M232.2 582l5.1 0.2M355.4 861.6l1.4 4.5M559.1 631l5.8 4.4M350.5 871.7l1.1-3.9M187.8 736.3l-1.6 9.4M438.4 882.2l2.9-5.4M236.7 565.3l10.9 3.5M326.1 854.7l4.1 12.4M569.9 679.5l-14-31.8M513.9 565.9l-13-27.1M445 869.1l1.1 3.7M572.9 736.2l0.4 1.2M266.7 540.3l0.2 4.9M221.8 771.1l-0.4 7.7M497.2 830.7l0.9-5.9M503.1 549.7l2.2-3.4M471.7 508.2l1.4-3.4M288.9 860.7l0.8 5M578.4 734.3l-2.5-7.2M460 510.4l-3.1-9.6M231.1 555.5l11.6-0.9M354.3 875l1.5 8M567.4 612.9l-16.8-18.2M463.5 511.9l-15-14.4M200.7 624.4l6.7-5.8M423.2 868.2l0.2 4.6M199.7 771.9l3-21.3M495.5 839.5l-0.4 8.5M258.7 839.8l-0.5-14.1M554 760.3l2.3 19.5M325.1 882.1l0.2-4.5M582.3 667.1l4.7 8.3M329.2 487.3l-8.4 6.8M206.5 587.6l-9.4 8.8M390.7 873.3l0.3-4.1M521.7 565.2l6.6 1.1M306.2 513l-3.6 6.3M197.9 674.6l-4.5 8.1M460.8 853.1l0.3-5.1M486.3 537.1l3.7-2.5M297.9 520.7l0.2 4.5M224.4 775.8l-1.1 6.3M526 801.7l-0.7-6.2M312.4 500.1l-11.6 9.3M225 571.5l-12.6 11.2M393.6 883.1l0.8-4.6M534.7 565.5l6.6 1.6M300.2 522.6l-4.2 6.9M204.7 663.9l-4.7 8.1M461.3 849.5l0.2-5.1M483.8 538.8l3.6-2.6M298.1 523.9l0.1 4.5M226.7 764.6l-4.3 26.1M526 807.1l-2.1-20.8M470 534.4l1.6-8.6 2.3-8.3M274 527.8l6.3 5.9 5.7 6.5M564.2 607.7l-9.3-10M460.8 508.1l-8.3-8M190.3 635.7l6.2-6.6M424.3 875l0.3 4M256.8 836.1l-0.2-6.1M553.5 771.9l0.7 7.5M324.5 861.8l-0.1-5M556 633.7l6.1 6.8M493.2 831.7l-0.4 9.3M257.4 829.6l-0.3-10.2M550.3 756.9l1.5 10.4M322.3 863.6l0-6.1M545.9 625.2l11.4 10.7M393.1 866.6l0.4-7.8M507 564l10.9 0.3M306.5 510.5l-2.9 5.6M195.3 686.9l-4.2 8.3M464.2 857.3l0.5-5M489.9 532.8l0.5-0.3M295.9 510.9l0.6 4.3M222 790.3l-0.7 6.4M526.4 815.9l-0.2-5.5M472.3 516.8l0.5-1.5M282.5 532.2l5.4 6.1M284.8 831.1l0.1 9.1M563.5 703.3l-6.6-13.8M467.4 532.4l-5-11.1M222.1 560.5l11.7-2.1M560.5 600.4l-6.1-6.3M456.5 504.6l-14.2-13.1M423.9 878.4l0.3 4.6M196.4 763.9l1.3-8.3"/>
<path stroke="#ff6a00" d="M533.8 578.7l5.1 0.1M253.7 546.1l-13.4 19.9M217.2 600.6l-14.3 22.8M408.5 873l1.8-4.9M499 530.7l-0.3-5.8M241 546.7l4.8 3.3M293.1 856l3.3 8.5M559.6 773.2l-0.7-12.4M499.2 532.8l-0.4-5.4M235.9 581.7l5 0.3M355.8 858.9l1.3 4.6M532.7 807.9l1 5.6M299.3 830.9l2.6-18M532 667.2l9.4 10.3 8.5 11.2M551 600.3l-37.7-51.3M223.2 582.7l5.3-0.6M361.2 869.6l1.5 4.4M195.4 639.9l7.5-5.3M414.5 869.4l2.2 5.3M284.7 839.8l0.8-4.7M556.8 723.2l2.7 6.2M447.6 857.2l2.4-9.2M510.8 564.5l7.2-3.6M264.3 544.1l-6.6 16.3M206 672.1l-8 21M531.7 783l-1.1-19M498 563l1.2-12.8M262.9 552.3l3.6 10.8M252.5 793.3l0.8 16.5M283.4 832.5l3.5-17.8M542 701l7 11.1 6.5 12.2M365.8 871.9l2-5.6M548.9 613l7.7 3.5M199.4 700.1l-3.2 10.3M451 859.4l1.7-5.4M515.9 560.1l3.8-1.9M266.4 538.2l-2.5 7.4M563.3 703.4l-3.3-10.3M502.9 554.4l-2.7-8M249.9 559.9l3.5 2.2M307 847.2l1.4 5.5M518.7 800.2l2.6 13.1M251.6 541.2l2.2 3.3M260.4 832.4l1.9 7M504.8 539.2l1.1-4.4M251.6 541.1l0.5 0.8M367.2 860.9l1.4 4.4M229.4 590l5.1-0.3M479 853.4l1 4.2M193.8 745.9l2.4-6.3M479 853.3l0.7 2.9M245.5 819.3l1.6-9.5M535.9 786.3l2.1 10.4M385.8 862.2l3.5-17.1M513 592.8l10.5 0.3 10.6 1.5M421.7 873.7l1.4 4.1M501.4 828.2l0.8 4.7M212.3 770.8l1.6-5.7M329.8 842.3l2.1-16.7M520.4 629.4l11.2 6.2 11.2 7.8M203.2 767.8l-0.3 9.2M464.5 868.6l2.7-6.3M522.8 547.5l3.5-2M237.3 582.2l4.9 0.5M354 857l1.4 4.6M553.1 626.9l6 4.1M351.6 867.8l1.1-4.4M189.9 726.3l-2.1 10M441.3 876.8l2.4-5.1M247.6 568.8l10.1 5M323.1 842.3l3 12.4M555.9 647.7l-12.3-24.8-29.7-57M192.2 680l0.4-0.5M443.8 864.9l1.2 4.2M570.1 729.2l2.8 7M266.9 545.2l0.1 5.5M222.5 763.4l-0.7 7.7M498.1 824.8l0.9-6.6M500.8 553.6l2.3-3.9M470.2 512.2l1.5-4M288.2 855.6l0.7 5.1M575.9 727.1l-3-7.8M463.9 520.7l-3.9-10.3M242.7 554.6l10 0.3M353.4 867.4l0.9 7.6M550.6 594.7l-27.7-27.4M489.9 536.5l-26.4-24.6M207.4 618.6l6.3-4.9M423 864.1l0.2 4.1M202.7 750.6l4.5-20.3M496 825.5l-0.5 14M258.2 825.7l-0.1-14.5M550.2 740.2l3.8 20.1M325.3 877.6l0.1-4.1M577.3 659.1l5 8M320.8 494.1l-10.4 8.3M217.2 577.9l-10.7 9.7M391 869.2l0.3-4.2M515.8 564.5l5.9 0.7M302.6 519.3l-4.1 6.9M203 665.9l-5.1 8.7M461.1 848l0.2-4.4M482.8 539.8l3.5-2.7M298.1 525.2l0.1 4.5M225.9 768.7l-1.5 7.1M525.3 795.5l-0.7-5.6M300.8 509.4l-17.9 14.3M243.9 555.4l-18.9 16.1M394.4 878.5l0.5-4M528.2 564.2l6.5 1.3M296 529.5l-4.7 7.5M210.5 654.7l-5.8 9.2M461.5 844.4l0.1-4.4M480.4 541.6l3.4-2.8M298.2 528.4l0 4.6M233.5 738.6l-6.8 26M523.9 786.3l-4.6-24.4M468.5 553.8l1.5-19.4M286 540.2l4.7 6.6 4.5 7.7M554.9 597.7l-11.6-12M471.6 518.1l-10.8-10M196.5 629.1l6.6-6.1M424 870.4l0.3 4.6M200.6 745.9l1.6-7.6M492.3 837.1l-0.1 2M256.6 830l-0.2-5.5M552.6 763.6l0.9 8.3M324.4 856.8l-0.2-4.3M549.5 627.4l6.5 6.3M493.4 821.6l-0.2 10.1M257.1 819.4l-0.1-11.2M548.3 745.8l2 11.1M322.3 857.5l-0.1-6.1M533.2 615.5l12.7 9.7M393.5 858.8l0.2-7.3M497 564.6l10-0.6M303.6 516.1l-3.4 6.4M199.6 678.8l-4.3 8.1M464.7 852.3l0.4-5.1M486.3 535.4l3.6-2.6M296.5 515.2l0.4 4.3M223 783.2l-1 7.1M526.2 810.4l-0.4-6.3M471.1 520.9l1.2-4.1M287.9 538.3l4.6 6.2M285.1 821.9l-0.3 9.2M556.9 689.5l-8.1-15.6M473.5 545l-6.1-12.6M233.8 558.4l11-0.8M358.9 871.8l1.1 7.5M554.4 594.1l-23.5-22.8M479.2 524.9l-22.7-20.3M193.6 631.5l4.3-4.4M423.7 874.4l0.2 4M197.7 755.6l1.4-8.4"/>
<path stroke="#ff9f00" d="M528.7 578.8l5.1-0.1M240.3 566l-23.1 34.6M410.3 868.1l1.5-4.5M245.8 550l4.5 3.6M290.6 848.3l2.5 7.7M558.9 760.8l-1.4-12.4M500 540.8l-0.8-8M240.9 582l4.5 0.5M354.6 854.3l1.2 4.6M238.1 815l0.9-4.9M531.7 802.4l1 5.5M301.9 812.9l3-18.6M511.1 650l10.8 8 10.1 9.2M228.5 582.1l5.3-0.3M359.8 865.1l1.4 4.5M202.9 634.6l7.2-4.4M412.5 863.9l2 5.5M285.5 835.1l0.7-4.2M553.5 716.5l3.3 6.7M450 848l1.9-9.4M504.1 568.7l6.7-4.2M257.7 560.4l-11.2 24.7M218.5 643.7l-12.5 28.4M530.6 764l-2.4-20.3M498 578.1l0-15.1M266.5 563.1l2.8 12.4M252.7 776l-0.2 17.3M286.9 814.7l3.9-18.4M525.9 680.6l8.4 9.8 7.7 10.6M367.8 866.3l1.8-5.8M541.1 610.1l7.8 2.9M202.9 689.9l-3.5 10.2M452.7 854l1.3-4.9M512.3 562.1l3.6-2M263.9 545.6l-3 8.1M560 693.1l-4.1-11.4M506.4 563.8l-3.5-9.4M253.4 562.1l3.8 2.7M305.9 842.2l1.1 5M515.7 786.9l3 13.3M253.8 544.5l2.1 3.9M258.9 825.4l1.5 7M533 801.3l0.5-7.5M503.8 544.2l1-5M365.9 856.4l1.3 4.5M234.5 589.7l5.1 0M478.7 852.4l0.3 1M196.2 739.6l2.7-6.8M477.9 848.9l1.1 4.4M247.1 809.8l1.7-9.5M533.4 775.3l2.5 11M389.3 845.1l2.3-16.8M493.7 595.3l9.5-1.8 9.8-0.7M420.6 869.9l1.1 3.8M193.3 648.4l5.4-4.9M500.5 823.5l0.9 4.7M213.9 765.1l2-6.3M331.9 825.6l2.1-17.5M497.6 620.9l11.8 3.7 11 4.8M265.7 528.4l-0.4 3.9M203.9 758.6l-0.7 9.2M467.2 862.3l2.1-5.4M519 549.9l3.8-2.4M242.2 582.7l4.9 0.8M352.8 852.4l1.2 4.6M547.6 623.5l5.5 3.4M352.7 863.4l0.9-3.9M192.4 716.5l-2.5 9.8M443.7 871.7l2.3-5.6M257.7 573.8l9 5.9M321 830.2l2.1 12.1M192.6 679.5l4.6-5.9M442.7 860.6l1.1 4.3M567.3 722.9l2.8 6.3M293.2 852.4l0.1-0.5M267 550.7l-0.1 5.6M223.5 755.1l-1 8.3M499 818.2l0.6-6M498.8 557.3l2-3.7M469 516.3l1.2-4.1M275.1 525.4l2.2 1.7M287.7 850.5l0.5 5.1M572.9 719.3l-3-7M468.6 531.9l-4.7-11.2M252.7 554.9l9.7 1.3M352.7 859.6l0.7 7.8M522.9 567.3l-33-30.8M213.7 613.7l7.2-4.9M423 859.9l0 4.2M207.2 730.3l6.5-20.4M496.3 811.7l-0.3 13.8M258.1 811.2l0.3-15.4M544.7 720.5l5.5 19.7M325.4 873.5l0.1-4.6M571.4 650.8l5.9 8.3M310.4 502.4l-13 10.3M231.2 565.8l-14 12.1M391.3 865l0.1-4.1M509.4 564.2l6.4 0.3M298.5 526.2l-4.7 7.5M208.3 657.3l-5.3 8.6M461.3 843.6l0-5.2M479.4 542.7l3.4-2.9M298.2 529.7l-0.2 5.2M227.3 762.4l-1.4 6.3M524.6 789.9l-1-6.3M282.9 523.7l-39 31.7M394.9 874.5l0.5-4.7M521.7 563.3l6.5 0.9M291.3 537l-5.8 8.9M217.2 644.2l-6.7 10.5M461.6 840l0-5.2M477.1 544.6l3.3-3M298.2 533l-0.3 5.2M289.8 574.5l-1.5 6.4M243.4 708.5l-9.9 30.1M519.3 761.9l-6.6-25.9M469.5 575.2l-1-21.4M295.2 554.5l6.8 15.6M355 869.2l0.3 2.3M543.3 585.7l-17-16.6M487 532.4l-15.4-14.3M203.1 623l6.8-5.7M423.9 866.3l0.1 4.1M202.2 738.3l4.2-15.7M492.7 827.7l-0.4 9.4M256.4 824.5l-0.1-6.2M551.5 756.1l1.1 7.5M324.2 852.5l-0.2-4.4M542.8 621.5l6.7 5.9M493.6 811.3l-0.2 10.3M257 808.2l0.2-10.5M545.7 734.7l2.6 11.1M322.2 851.4l-0.2-6.3M521.1 608.1l12.1 7.4M393.7 851.5l-0.1-8.1M487.3 566.2l9.7-1.6M300.2 522.5l-3.9 6.9M204.2 670.7l-4.6 8.1M465.1 847.2l0.1-4.5M482.9 538.2l3.4-2.8M296.9 519.5l0.2 4.5M224 776.8l-1 6.4M525.8 804.1l-0.5-6.2M470 525.1l1.1-4.2M292.5 544.5l4 6.7M285.7 813.2l-0.6 8.7M548.8 673.9l-10.1-18.2M482 560.9l-8.5-15.9M244.8 557.6l10.6 0.3M358.1 864.1l0.8 7.7M530.9 571.3l-51.7-46.4M197.9 627.1l6.6-6.1M423.5 870.4l0.2 4M199.1 747.2l1.8-8.2"/>
<path stroke="#ffd400" d="M523.7 579.3l5-0.5M411.8 863.6l1.2-4.1M250.3 553.6l4.3 4M288.3 839.9l2.3 8.4M557.5 748.4l-2.1-13M501.3 549.6l-1.3-8.8M245.4 582.5l5 0.8M353.7 850.1l0.9 4.2M239 810.1l1-5.6M530.6 796.7l1.1 5.7M304.9 794.3l3.6-18.5M489 638l11.3 5.4 10.8 6.6M233.8 581.8l5.2 0M358.5 860.5l1.3 4.6M210.1 630.2l7.9-4.1M410.6 858.2l1.9 5.7M286.2 830.9l0.7-4.8M550.4 710.5l3.1 6M451.9 838.6l1.4-9M497.9 573.6l6.2-4.9M246.5 585.1l-28 58.6M528.2 743.7l-3.7-22.1M499.3 596.2l-1.3-18.1M269.3 575.5l1.7 13.7M253.9 758l-1.2 18M290.8 796.3l4.5-18.9M507.2 663.5l9.6 8.1 9.1 9M369.6 860.5l1.6-5.9M533.3 607.8l7.8 2.3M207.4 677.8l-4.5 12.1M454 849.1l1.3-5.4M508.4 564.6l3.9-2.5M260.9 553.7l-3.6 9.4M555.9 681.7l-5-13.2M510.5 574.3l-4.1-10.5M257.2 564.8l3.2 2.6M304.8 836.7l1.1 5.5M512.2 773.4l3.5 13.5M255.9 548.4l2 4M257.7 818.8l1.2 6.6M533.5 793.8l0.3-8.2M503.1 548.9l0.7-4.7M364.8 852.3l1.1 4.1M239.6 589.7l5.1 0.3M198.9 732.8l2.8-6.1M477 844.5l0.9 4.4M248.8 800.3l2-10.2M530.6 764.9l2.8 10.4M391.6 828.3l1.6-17M476.5 601.3l8.4-3.4 8.8-2.6M419.4 865.6l1.2 4.3M198.7 643.5l5.6-4.7M499.6 818.7l0.9 4.8M215.9 758.8l2.1-6.2M334 808.1l2.1-17.4M475.3 617.7l11.4 1 10.9 2.2M265.3 532.3l-0.6 6.1M204.9 750.1l-1 8.5M469.3 856.9l2-6M515.8 552.3l3.2-2.4M247.1 583.5l4.3 0.9M351.8 848.2l1 4.2M541.9 620.5l5.7 3M353.6 859.5l0.8-4.1M266.8 533.7l-1.6 4.7M195.2 706.7l-2.8 9.8M446 866.1l1.9-5.2M521.6 559.6l2.7-1M266.7 579.7l7.9 6.9M319.5 817.8l1.5 12.4M197.2 673.6l4.7-5.7M441.8 856.7l0.9 3.9M564.1 716.2l3.2 6.7M293.3 851.9l0.9-4.5M266.9 556.3l-0.3 6.2M224.7 746.8l-1.2 8.3M499.6 812.2l0.4-6.6M496.9 561.5l1.9-4.2M467.9 520.5l1.1-4.2M277.3 527.1l3.3 2.8M287.4 845.3l0.3 5.2M569.9 712.3l-3.4-7.7M474.5 544.4l-5.9-12.5M262.4 556.2l9.4 2.1M352.4 851.7l0.3 7.9M220.9 608.8l6.7-4M422.9 855.1l0.1 4.8M213.7 709.9l9.2-20.9M496.1 797l0.2 14.7M258.4 795.8l0.9-15M537.2 700.8l7.5 19.7M325.5 868.9l0-4.2M565.7 643.6l5.7 7.2M297.4 512.7l-26.1 20.5M258.3 543.5l-27.1 22.3M391.4 860.9l0.1-4.3M503.6 564.2l5.8 0M293.8 533.7l-5.3 8.2M214.6 647.4l-6.3 9.9M461.3 838.4l0-4.5M476.5 545.3l2.9-2.6M298 534.9l-0.2 4.7M228.9 756.1l-1.6 6.3M523.6 783.6l-1-5.5M395.4 869.8l0.3-4.1M515.9 562.9l5.8 0.4M285.5 545.9l-6.8 10.1M225 632.5l-7.8 11.7M461.6 834.8l-0.1-4.5M474.3 547.3l2.8-2.7M297.9 538.2l-0.4 5.3M288.3 580.9l-5.6 19.7-7.5 22.9M260.5 662.9l-17.1 45.6M512.7 736l-9.1-30.4M473.8 602.5l-4.3-27.3M302 570.1l4.8 17.8M354.5 865l0.5 4.2M526.3 569.1l-39.3-36.7M209.9 617.3l6.4-4.7M423.8 862.2l0.1 4.1M206.4 722.6l5.2-15.3M493 817.5l-0.3 10.2M256.3 818.3l-0.1-5.5M550 747.9l1.5 8.2M324 848.1l-0.2-4.5M536.4 616.5l6.4 5M493.5 800.9l0.1 10.4M257.2 797.7l0.6-11.4M542.6 723.8l3.1 10.9M322 845.1l-0.2-6.3M508.5 602.2l12.6 5.9M393.6 843.4l-0.1-7.5M478.4 568.6l8.9-2.4M296.3 529.4l-4.5 7.6M209.7 661.3l-5.5 9.4M465.2 842.7l0.1-5.1M479.6 541.1l3.3-2.9M297.1 524l0.1 5M225.3 770.5l-1.3 6.3M525.3 797.9l-0.8-6.3M469.1 529.3l0.9-4.2M296.5 551.2l3.3 6.5M286.6 803.8l-0.9 9.4M538.7 655.7l-15-25.2M495.4 584l-13.4-23.1M255.4 557.9l9.8 1.3M357.6 856.3l0.5 7.8M204.5 621l6.9-5.7M423.4 865.7l0.1 4.7M200.9 739l2.1-8.2"/>
<path stroke="#f4ff00" d="M518.7 580l5-0.7M413 859.5l1.3-4.6M254.6 557.6l4 4.3M286.7 832l1.6 7.9M555.4 735.4l-2.8-13.5M503.1 559.1l-1.8-9.5M250.4 583.3l4.8 1.1M352.7 845.3l1 4.8M240 804.5l1-5.6M529.4 791.1l1.2 5.6M308.5 775.8l4.5-18.6M466.1 631.1l11.3 2.7 11.6 4.2M239 581.8l5.1 0.3M357.5 856.3l1 4.2M218 626.1l7.5-3.3M408.9 852.4l1.7 5.8M286.9 826.1l0.8-4.8M547 704.6l3.4 5.9M453.3 829.6l1.1-9.1M492.4 578.8l5.5-5.2M524.5 721.6l-6.1-29M503.1 622.1l-3.8-25.9M271 589.2l0.8 15.6M256.1 738.5l-2.2 19.5M295.3 777.4l5.4-18.4M486.2 650.4l10.7 6 10.3 7.1M371.2 854.6l1.3-5.6M526 606.3l7.3 1.5M212.9 664l-5.5 13.8M455.3 843.7l1-5M505 567l3.4-2.4M257.3 563.1l-4.8 11.7M550.9 668.5l-6.9-16.7M516.6 589.1l-6.1-14.8M260.4 567.4l3.2 2.7M303.9 831.6l0.9 5.1M508.2 760.6l4 12.8M257.9 552.4l1.9 4.2M256.8 812.3l0.9 6.5M533.8 785.6l0-7.5M502.5 554.2l0.6-5.3M363.9 848.2l0.9 4.1M244.7 590l4.9 0.5M201.7 726.7l2.9-6.1M476 840l1 4.5M250.8 790.1l2.1-9.8M527.4 754.5l3.2 10.4M393.2 811.3l1.3-17.5M461.6 610l7.3-4.7 7.6-4M418.4 861.7l1 3.9M204.3 638.8l5.3-3.9M498.6 813.9l1 4.8M218 752.6l2.1-5.7M336.1 790.7l2.7-17.7M454.8 618.9l10.2-1.1 10.3-0.1M264.7 538.4l-0.9 6.1M206.3 741l-1.4 9.1M471.3 850.9l1.6-5.5M512.3 555.2l3.5-2.9M251.4 584.4l4.7 1.3M350.8 843.5l1 4.7M536.2 617.8l5.7 2.7M354.4 855.4l0.8-4.1M265.2 538.4l-2.8 8M198.5 696.4l-3.3 10.3M447.9 860.9l1.6-4.8M517.8 561.3l3.8-1.7M274.6 586.6l7.1 7.8M318.5 805.6l1 12.2M201.9 667.9l5-5.4M440.9 852.3l0.9 4.4M561 710.1l3.1 6.1M294.2 847.4l0.8-4.5M266.6 562.5l-0.6 6.4M226.1 738.5l-1.4 8.3M500 805.6l0.2-6M495.2 565.4l1.7-3.9M467 524.7l0.9-4.2M280.6 529.9l3.2 3.1M287.3 840.1l0.1 5.2M566.5 704.6l-3.6-7.6M482.4 559.7l-7.9-15.3M271.8 558.3l8.5 2.9M352.3 843.6l0.1 8.1M227.6 604.8l6.8-3.6M422.9 850.8l0 4.3M222.9 689l11-18.7M495.4 782.1l0.7 14.9M259.3 780.8l1.7-15.8M527.3 681.5l9.9 19.3M325.5 864.7l0-4.2M559.6 636.8l6.1 6.8M271.3 533.2l-13 10.3M391.5 856.6l0-4.3M497.9 564.5l5.7-0.3M288.5 541.9l-6.4 9.4M222 636.4l-7.4 11M461.3 833.9l-0.1-5.2M473.4 548.5l3.1-3.2M297.8 539.6l-0.5 5.3M230.6 749.8l-1.7 6.3M522.6 778.1l-1.3-6.3M395.7 865.7l0.3-4.2M510.2 562.8l5.7 0.1M278.7 556l-10.4 15.1M236 616.5l-11 16M461.5 830.3l-0.2-4.6M471.3 550.6l3-3.3M297.5 543.5l-0.5 4.8M275.2 623.5l-14.7 39.4M503.6 705.6l-19.9-63.5-5.6-20.7-4.3-18.9M306.8 587.9l2.8 19.3M354.1 860.3l0.4 4.7M216.3 612.6l6.6-4.4M423.7 858l0.1 4.2M211.6 707.3l6.3-14.8M493.1 807.1l-0.1 10.4M256.2 812.8l0-6.3M548.2 739.7l1.8 8.2M323.8 843.6l-0.3-5.1M529.2 611.6l7.2 4.9M493.1 790.3l0.4 10.6M257.8 786.3l0.9-11.5M538.9 713.1l3.7 10.7M321.8 838.8l-0.2-6.5M498.2 598.4l10.3 3.8M393.5 835.9l-0.4-7.7M469.9 571.7l8.5-3.1M291.8 537l-5.1 8.3M215.8 651.4l-6.1 9.9M465.3 837.6l0-4.5M476.4 544.2l3.2-3.1M297.2 529l-0.1 4.6M226.6 764.2l-1.3 6.3M524.5 791.6l-0.8-5.6M468.2 534.3l0.9-5M299.8 557.7l3.2 7.4M287.7 795l-1.1 8.8M523.7 630.5l-28.3-46.5M265.2 559.2l9.4 2.1M357.4 848.3l0.2 8M211.4 615.3l6.5-4.7M423.4 861.5l0 4.2M203 730.8l2.3-8.2"/>
<path stroke="#bfff00" d="M514.4 580.8l4.3-0.8M414.3 854.9l1.1-4.7M258.6 561.9l3.6 4.6M285.3 824l1.4 8M552.6 721.9l-3.5-14.1M505.6 570l-2.5-10.9M255.2 584.4l4.3 1.2M351.9 841.1l0.8 4.2M241 798.9l1.1-5.1M528.3 785.9l1.1 5.2M313 757.2l5.7-18.5M443.7 629.2l11.5 0.4 10.9 1.5M244.1 582.1l5.1 0.6M356.5 851.6l1 4.7M225.5 622.8l7.1-2.5M407.4 846.5l1.5 5.9M287.7 821.3l0.7-4.4M543.1 698.3l3.9 6.3M454.4 820.5l0.7-9.3M487.3 584.5l5.1-5.7M518.4 692.6l-10.1-44.7-5.2-25.8M271.8 604.8l-0.6 21M259.4 715.3l-3.3 23.2M300.7 759l6.8-18.8M464.1 641.9l11 3.6 11.1 4.9M372.5 849l1.3-6.2M518.2 605.2l7.8 1.1M220.2 646.8l-7.3 17.2M456.3 838.7l0.8-5.1M501.7 569.6l3.3-2.6M252.5 574.8l-6.7 15.3M220.3 646.7l-0.8 1.8M544 651.8l-27.4-62.7M263.6 570.1l3 2.9M303.2 826.5l0.7 5.1M503.5 747.2l4.7 13.4M259.8 556.6l1.6 4.3M256.1 805l0.7 7.3M533.8 778.1l-0.2-8.2M502.1 559.6l0.4-5.4M362.9 843.5l1 4.7M249.6 590.5l4.5 0.7M204.6 720.6l3.3-6.5M475.2 836l0.8 4M252.9 780.3l2.4-9.7M523.6 743.6l3.8 10.9M394.5 793.8l1.3-17.3M448.8 620.6l12.8-10.6M417.3 857.3l1.1 4.4M209.6 634.9l5.9-4M497.7 809l0.9 4.9M220.1 746.9l2.4-6.1M338.8 773l3.3-17.3M435.5 623.9l9.8-3 9.5-2M263.8 544.5l-1.2 6.8M208.1 731.3l-1.8 9.7M472.9 845.4l1.5-6.2M509.3 557.9l3-2.7M256.1 585.7l4.2 1.3M350 839.2l0.8 4.3M530.4 615.4l5.8 2.4M355.2 851.3l0.7-4.1M262.4 546.4l-3.1 8.1M202.5 684.9l-4 11.5M449.5 856.1l1.5-5.3M513.7 563.4l4.1-2.1M281.7 594.4l6.4 8.7M317.9 793.3l0.6 12.3M206.9 662.5l4.7-4.7M440.1 848.3l0.8 4M557.3 703.6l3.7 6.5M295 842.9l0.8-4.1M266 568.9l-0.7 6.5M227.8 729.5l-1.7 9M500.2 799.6l0.1-6.1M493.6 569.9l1.6-4.5M466.2 529.1l0.8-4.4M283.8 533l3 3.1M287.2 835.6l0.1 4.5M562.9 697l-4.1-8.2M494.6 581.6l-12.2-21.9M280.3 561.2l8.1 3.5M352.4 836l-0.1 7.6M234.4 601.2l6.3-2.9M422.9 846.5l0 4.3M233.9 670.3l6.9-9.6 7.1-8.5M494 767l1.4 15.1M261 765l2.6-16.5M514.6 662.6l6.4 8.9 6.3 10M325.5 860.5l-0.1-4.9M553.3 630.4l6.3 6.4M391.5 852.3l0-4.3M492.3 565.1l5.6-0.6M282.1 551.3l-8.7 12.6M231.2 622.9l-9.2 13.5M461.2 828.7l-0.3-4.5M470.4 551.9l3-3.4M297.3 544.9l-0.6 5.5M232.5 743.4l-1.9 6.4M521.3 771.8l-0.7-3.5M396 861.5l0.1-4.2M504.5 563l5.7-0.2M268.3 571.1l-32.3 45.4M461.3 825.7l-0.3-4.6M468.5 554.1l2.8-3.5M297 548.3l-0.7 5.5M309.6 607.2l0.9 24.5M353.9 856l0.2 4.3M222.9 608.2l6.7-3.9M423.7 853.1l0 4.9M217.9 692.5l7.9-14.7M492.9 796.5l0.2 10.6M256.2 806.5l0.1-6.4M546.4 732.4l1.8 7.3M323.5 838.5l-0.2-4.5M521.8 607.1l7.4 4.5M233.2 667.6l6.6-8.9M492.4 779.6l0.7 10.7M258.7 774.8l1.3-11.6M534.5 702l4.4 11.1M321.6 832.3l-0.2-6.5M393.1 828.2l-0.3-7.9M462.3 575.3l7.6-3.6M286.7 545.3l-6.1 9.6M222.4 640.9l-6.6 10.5M465.3 833.1l-0.1-5.3M473.4 547.5l3-3.3M297.1 533.6l-0.2 5.3M228.2 757.8l-1.6 6.4M523.7 786l-1-6.2M467.6 538.7l0.6-4.4M303 565.1l2.6 7.7M289 786.1l-1.3 8.9M274.6 561.3l8.5 2.9M357.4 840.9l0 7.4M217.9 610.6l6.6-4.3M423.4 857.3l0 4.2M205.3 722.6l2.9-8.7"/>
<path stroke="#8aff00" d="M509.6 582l4.8-1.2M415.4 850.2l0.9-4.3M262.2 566.5l3.4 4.9M284.3 815.8l1 8.2M549.1 707.8l-4.4-15.9M509.1 583.4l-3.5-13.4M259.5 585.6l4.1 1.4M351.2 836.7l0.7 4.4M242.1 793.8l1.2-5.6M527 780.2l1.3 5.7M318.7 738.7l7.2-18.6M421.5 631.9l11.3-2 10.9-0.7M249.2 582.7l5 0.8M355.7 847.4l0.8 4.2M232.6 620.3l7.6-2.2M406.1 841l1.3 5.5M288.4 816.9l0.8-5M539.4 692.8l3.7 5.5M455.1 811.2l0.5-9.4M482.7 590.6l4.6-6.1M271.2 625.8l-3.5 34-8.3 55.5M307.5 740.2l8.2-18.3M441.7 638.2l11.3 1.3 11.1 2.4M373.8 842.8l1.1-5.7M511.5 604.8l6.7 0.4M221.6 643.7l-1.4 3.1M457.1 833.6l0.9-5.6M498.6 572.4l3.1-2.8M245.8 590.1l-25.5 56.6M266.6 573l2.8 3.1M302.6 821.3l0.6 5.2M497.9 734.1l5.6 13.1M261.4 560.9l1.5 4.4M255.6 798.4l0.5 6.6M533.6 769.9l-0.6-8.2M501.9 565.6l0.2-6M362 839.2l0.9 4.3M254.1 591.2l4.8 1M207.9 714.1l3.3-5.8M474.3 831.3l0.9 4.7M255.3 770.6l2.8-9.8M519.3 733l4.3 10.6M395.8 776.5l1.6-17.6M437.5 633.3l11.3-12.7M416.5 853.3l0.8 4M215.5 630.9l5.5-3.3M496.7 804.1l1 4.9M222.5 740.8l2.5-6.1M342.1 755.7l4.2-17.3M418.3 632l8.7-4.5 8.5-3.6M262.6 551.3l-1.5 6.9M210.2 721.6l-2.1 9.7M474.4 839.2l1.2-5.6M506.2 561.2l3.1-3.3M260.3 587l4.1 1.6M349.2 834.3l0.8 4.9M524.6 613.3l5.8 2.1M355.9 847.2l0.7-4.2M259.3 554.5l-3.9 9.9M207.1 672.9l-4.6 12M451 850.8l1.4-5.5M510.1 565.6l3.6-2.2M288.1 603.1l5.7 9.5M317.5 780.1l0.4 13.2M211.6 657.8l5.3-4.8M439.3 844.2l0.8 4.1M553.8 697.9l3.5 5.7M295.8 838.8l0.8-4.7M265.3 575.4l-1.1 7.7M229.7 720.6l-1.9 8.9M500.3 793.5l0-6.8M492.1 574.5l1.5-4.6M465.6 533.5l0.6-4.4M286.8 536.1l2.9 3.4M287.3 830.3l-0.1 5.3M558.8 688.8l-4.2-8.2M524.4 632l-29.8-50.4M288.4 564.7l7.2 4M352.6 828.3l-0.2 7.7M240.7 598.3l7-2.8M423 842.1l-0.1 4.4M247.9 652.2l8-8.5 8.5-7.7M491.7 751.2l2.3 15.8M263.6 748.5l3.8-16.4M499.6 645.8l7.5 7.9 7.5 8.9M325.4 855.6l-0.1-4.3M546.7 624.4l6.6 6M391.5 848l-0.1-4.4M486.8 566l5.5-0.9M273.4 563.9l-42.2 59M460.9 824.2l-0.2-4.6M468 554.9l2.4-3M296.7 550.4l-0.8 5.5M234.6 736.4l-2.1 7M396.1 857.3l0.1-4.3M498.9 563.4l5.6-0.4M461 821.1l-0.3-4.6M466.1 557.2l2.4-3.1M296.3 553.8l-1 6.2M310.5 631.7l-0.8 18.7-1.9 19.8-3 22.3-4.6 27.5M353.7 851.8l0.2 4.2M229.6 604.3l6.8-3.5M423.7 848.8l0 4.3M225.8 677.8l9-13.8M492.5 785.9l0.4 10.6M256.3 800.1l0.2-5.7M544.1 724.3l2.3 8.1M323.3 834l-0.2-4.6M514.9 603.5l6.9 3.6M239.8 658.7l10.7-12M491.4 768.9l1 10.7M260 763.2l2-12.2M529.4 691.2l5.1 10.8M321.4 825.8l-0.2-6.7M392.8 820.3l-0.5-7.3M455 579.5l7.3-4.2M280.6 554.9l-8.4 12.7M231.8 626.6l-9.4 14.3M465.2 827.8l-0.3-4.5M470.9 550.5l2.5-3M296.9 538.9l-0.4 5.3M229.8 751.5l-1.6 6.3M522.7 779.8l-1.1-5.6M467.2 543.3l0.4-4.6M305.6 572.8l2.1 7.5M290.6 776.5l-1.6 9.6M283.1 564.2l7.6 3.3M357.6 832.6l-0.2 8.3M224.5 606.3l6.8-3.9M423.4 853l0 4.3M208.2 713.9l3-7.8"/>
<path stroke="#55ff00" d="M505.4 583.4l4.2-1.4M416.3 845.9l0.9-4.8M265.6 571.4l3.2 5.2M283.6 808.2l0.7 7.6M544.7 691.9l-6.3-20.1M514.3 600.5l-5.2-17.1M263.6 587l4.1 1.7M350.6 832.3l0.6 4.4M243.3 788.2l1.3-5.7M525.5 774.5l1.5 5.7M325.9 720.1l9.5-18.8M399.6 639.3l10.8-4.3 11.1-3.1M254.2 583.5l4.4 1M354.9 843.1l0.8 4.3M240.2 618.1l7.2-1.4M404.8 835.4l1.3 5.6M289.2 811.9l0.8-4.4M535.4 687.4l4 5.4M455.6 801.8l0.2-9.5M478.4 597.3l4.3-6.7M315.7 721.9l10.2-17.9M419.1 639l11.3-1 11.3 0.2M374.9 837.1l1-5.9M504.3 604.8l7.2 0M458 828l0.6-5.2M495.6 575.3l3-2.9M269.4 576.1l2.8 3.2M302.1 816.1l0.5 5.2M491.3 720.9l6.6 13.2M262.9 565.3l1.3 4.6M255.3 791.7l0.3 6.7M533 761.7l-0.7-8.2M501.9 571.3l0-5.7M361.3 834.9l0.7 4.3M258.9 592.2l4.2 1.2M211.2 708.3l3.5-5.7M473.4 826.6l0.9 4.7M258.1 760.8l3.1-9.7M514.7 723l4.6 10M397.4 758.9l2-17.7M427.7 647.9l9.8-14.6M415.7 849.2l0.8 4.1M221 627.6l5.6-3M495.7 799.2l1 4.9M225 734.7l2.5-5.5M346.3 738.4l5.2-17M402.8 642.7l7.6-5.7 7.9-5M261.1 558.2l-1.7 7.6M212.5 712l-2.3 9.6M475.6 833.6l1.1-5.7M503.5 564.2l2.7-3M264.4 588.6l3.9 1.8M348.5 830l0.7 4.3M519.3 611.8l5.3 1.5M356.6 843l0.6-4.3M255.4 564.4l-5.3 12.3M213.2 657.9l-6.1 15M452.4 845.3l1-4.9M506.6 567.9l3.5-2.3M293.8 612.6l5.2 10.9M317.3 766.8l0.2 13.3M216.9 653l5-4.1M438.6 840l0.7 4.2M549.7 691.8l4.1 6.1M296.6 834.1l0.7-4.2M264.2 583.1l-1.4 8.4M232.1 710.5l-2.4 10.1M500.3 786.7l-0.2-6.1M490.8 579.3l1.3-4.8M465.2 538.1l0.4-4.6M289.7 539.5l2.7 3.5M287.5 825.7l-0.2 4.6M554.6 680.6l-4.5-8.1M295.6 568.7l6.8 4.6M353 820.5l-0.4 7.8M247.7 595.5l6.4-2.1M423 837.7l0 4.4M264.4 636l9.1-7 9.4-6.1M488.5 735.4l3.2 15.8M267.4 732.1l5.4-17.6M481.6 630.8l9 6.9 9 8.1M325.3 851.3l-0.1-4.4M540.4 619.3l6.3 5.1M391.4 843.6l-0.2-4.4M481.9 567.1l4.9-1.1M460.7 819.6l-0.4-4.7M465.3 558.6l2.7-3.7M295.9 555.9l-1 5.5M236.9 729.4l-2.3 7M396.2 853l0.1-4.3M493.4 564.2l5.5-0.8M460.7 816.5l-0.5-5.3M463.5 561l2.6-3.8M295.3 560l-1.1 5.6M353.6 847.5l0.1 4.3M236.4 600.8l6.9-3.1M423.7 844.5l0 4.3M234.8 664l10.1-12.7M491.8 775.1l0.7 10.8M256.5 794.4l0.3-6.4M541.6 716.4l2.5 7.9M323.1 829.4l-0.2-4.7M507.9 600.3l7 3.2M250.5 646.7l12.1-11.3M489.9 757.4l1.5 11.5M262 751l2.5-12.3M523.6 680.7l5.8 10.5M321.2 819.1l-0.1-6.7M493.5 597.9l1.9 0.6M392.3 813l-0.4-8M448 584.3l7-4.8M272.2 567.6l-40.4 59M464.9 823.3l-0.2-4.7M468.2 554l2.7-3.5M296.5 544.2l-0.6 5.4M231.8 744.5l-2 7M521.6 774.2l-1.3-6.3M466.9 547.9l0.3-4.6M307.7 580.3l1.8 8.4M292.2 767.4l-1.6 9.1M290.7 567.5l7.8 4.3M357.9 824.9l-0.3 7.7M231.3 602.4l6.9-3.5M423.5 848.7l-0.1 4.3M211.2 706.1l3.6-8.4"/>
<path stroke="#20ff00" d="M501.3 584.9l4.1-1.5M417.2 841.1l0.7-4.4M268.8 576.6l2.8 5.5M283 799.9l0.6 8.3M538.4 671.8l-24.1-71.3M267.7 588.7l4 1.8M350 827.9l0.6 4.4M244.6 782.5l1.3-5.1M524 768.8l1.5 5.7M335.4 701.3l7.2-11.7 8.1-11M376.1 653.5l11.7-8 11.8-6.2M258.6 584.5l4.3 1.2M354.3 838.7l0.6 4.4M247.4 616.7l7.2-1M403.7 829.6l1.1 5.8M290 807.5l0.7-4.5M530.9 681.7l4.5 5.7M455.8 792.3l0.1-9.6M474.5 604.3l3.9-7M325.9 704l7-10.1 7.2-9.1M395 645.2l11.9-3.8 12.2-2.4M375.9 831.2l0.9-5.9M497.8 605.4l6.5-0.6M458.6 822.8l0.5-5.2M492.7 578.4l2.9-3.1M272.2 579.3l2.6 3.4M301.7 810.9l0.4 5.2M483.7 708.2l7.6 12.7M264.2 569.9l1.2 4.7M255.1 785l0.2 6.7M532.3 753.5l-0.9-8.2M502 578.1l-0.1-6.8M360.6 830.6l0.7 4.3M263.1 593.4l4.2 1.3M214.7 702.6l4-6M472.6 822.4l0.8 4.2M261.2 751.1l3.7-10.2M509.3 712.9l5.4 10.1M399.4 741.2l3-19.5M418.9 665.2l8.8-17.3M415 845.1l0.7 4.1M226.6 624.6l5.6-2.7M494.6 794.2l1.1 5M227.5 729.2l3-5.9M351.5 721.4l6.6-17.1M389.1 655.5l13.7-12.8M259.4 565.8l-2.3 8.8M215.4 701.1l-2.9 10.9M476.7 827.9l0.8-5.8M501 567.5l2.5-3.3M268.3 590.4l3.9 2M347.9 825.5l0.6 4.5M513.4 610.4l5.9 1.4M357.2 838.7l0.6-4.3M250.1 576.7l-8.5 18.9M222.4 637.1l-9.2 20.8M453.4 840.4l1-5M503.3 570.4l3.3-2.5M299 623.5l4.5 12.1M317.1 752.7l0.2 14.1M221.9 648.9l5.7-4.2M437.9 835.8l0.7 4.2M545.7 686.4l4 5.4M297.3 829.9l0.8-4.8M262.8 591.5l-1.9 9.7M234.8 699.7l-2.7 10.8M500.1 780.6l-0.2-6.2M489.6 584.2l1.2-4.9M524.1 771.5l-0.6-2.8M464.9 543.2l0.3-5.1M292.4 543l2.2 3.2M287.8 820.4l-0.3 5.3M550.1 672.5l-5.3-9.4M302.4 573.3l6.5 5.2M353.5 812.6l-0.5 7.9M254.1 593.4l7.1-1.9M423.1 833.2l-0.1 4.5M282.9 622.9l10.5-5.7 10.8-4.6M483.8 718.4l4.7 17M272.8 714.5l7.1-17.6M459.9 618.2l11.1 5.8 10.6 6.8M325.2 846.9l-0.2-4.4M533.4 614.3l7 5M391.2 839.2l-0.1-3.8M477.2 568.4l4.7-1.3M460.3 814.9l-0.4-4.6M463 561.8l2.3-3.2M294.9 561.4l-1.2 6.3M239.3 722.4l-2.4 7M396.3 848.7l0-4.3M488 565.3l5.4-1.1M460.2 811.2l-0.5-4.7M461.4 564.4l2.1-3.4M294.2 565.6l-1.3 6.4M353.5 843.1l0.1 4.4M243.3 597.7l6.4-2.4M423.8 840.1l-0.1 4.4M244.9 651.3l11.8-11.9M490.6 763.6l1.2 11.5M256.8 788l0.4-6.5M538.4 707.9l3.2 8.5M322.9 824.7l-0.2-4.7M500.8 597.6l7.1 2.7M262.6 635.4l13.8-10M488 745.9l1.9 11.5M264.5 738.7l3.1-12.1M516.9 670.2l6.7 10.5M321.1 812.4l-0.1-6.1M483.7 595.5l9.8 2.4M391.9 805l-0.5-7.5M441.9 589.3l6.1-5M464.7 818.6l-0.4-4.6M465.9 557.3l2.3-3.3M295.9 549.6l-0.8 5.5M233.7 738.2l-1.9 6.3M520.3 767.9l-1.4-6.2M466.8 552.6l0.1-4.7M309.5 588.7l1.4 8.6M294 757.6l-1.8 9.8M298.5 571.8l6.4 4.2M358.3 817.7l-0.4 7.2M238.2 598.9l7-3M423.6 844.3l-0.1 4.4M214.8 697.7l3.9-8.2"/>
<path stroke="#00ff15" d="M497.3 586.6l4-1.7M417.9 836.7l0.7-4.3M271.6 582.1l2.8 6.2M282.7 791.6l0.3 8.3M271.7 590.5l3.9 2M349.5 823.5l0.5 4.4M245.9 777.4l1.5-5.7M522.3 763.1l1.7 5.7M350.7 678.6l12-13.5 13.4-11.6M262.9 585.7l4.2 1.4M353.7 834.4l0.6 4.3M254.6 615.7l7.2-0.4M402.5 823.8l1.2 5.8M290.7 803l0.9-5M526.6 676.8l4.3 4.9M455.9 782.7l0-9.7M470.9 612.3l3.6-8M340.1 684.8l12.3-12.8 13.5-11.1 14.1-8.9 15-6.8M376.8 825.3l0.8-5.5M491.3 606.3l6.5-0.9M459.1 817.6l0.4-4.6M489.9 581.7l2.8-3.3M274.8 582.7l2.4 3.6M301.4 805.6l0.3 5.3M475.2 696.1l8.5 12.1M265.4 574.6l1.1 5.3M255.2 777.6l-0.1 7.4M531.4 745.3l-1.2-8.9M502.4 585l-0.4-6.9M360 826.2l0.6 4.4M267.3 594.7l4.2 1.6M218.7 696.6l3.9-5.3M471.7 817.6l0.9 4.8M264.9 740.9l4-9.5M503 702.6l6.3 10.3M402.4 721.7l3.2-15.7 3.8-14.6 4.5-13.7 5-12.5M414.3 840.9l0.7 4.2M232.2 621.9l5.8-2.3M493.5 789.2l1.1 5M230.5 723.3l3.1-5.8M358.1 704.3l5.1-11 5.5-10M374.7 673.7l6.9-9.4 7.5-8.8M257.1 574.6l-2.9 10.1M219 689.1l-3.6 12M477.5 822.1l0.7-5.8M498.3 571.2l2.7-3.7M272.2 592.4l3.8 2.1M347.3 821.1l0.6 4.4M508 609.4l5.4 1M357.8 834.4l0.5-4.4M241.6 595.6l-19.2 41.5M454.4 835.4l0.8-5.1M499.7 573.3l3.6-2.9M303.5 635.6l4.1 13.9M316.9 736.7l0.2 16M227.6 644.7l5.3-3.6M437.2 831.6l0.7 4.2M541.2 680.7l4.5 5.7M298.1 825.1l0.7-4.3M260.9 601.2l-2.7 11.7M238.5 685.8l-3.7 13.9M499.9 774.4l-0.5-6.8M488.6 589.2l1-5M523.5 768.7l-1.3-5.6M464.8 547.9l0.1-4.7M294.6 546.2l2.4 3.7M288.1 815.8l-0.3 4.6M544.8 663.1l-5.9-10M308.9 578.5l5.6 5.3M354 804.6l-0.5 8M261.2 591.5l6.5-1.3M423.2 829.4l-0.1 3.8M304.2 612.6l11.8-3.8 12-2.7M477.2 700.5l6.6 17.9M279.9 696.9l10.3-19.3M434.6 609.6l12.5 3.5 12.8 5.1M325 842.5l-0.1-5.1M526.7 610.1l6.7 4.2M391.1 835.4l-0.2-4.5M472 570.1l5.2-1.7M459.9 810.3l-0.5-4.7M460.6 565.8l2.4-4M293.7 567.7l-1.4 6.4M241.8 715.4l-2.5 7M396.3 844.4l-0.1-4.4M483.2 566.5l4.8-1.2M459.7 806.5l-0.5-4.7M459.4 567.9l2-3.5M292.9 572l-1.4 5.7M353.5 838.7l0 4.4M249.7 595.3l7.1-2.2M423.8 835.7l0 4.4M256.7 639.4l12.7-10.5M489.1 752.7l1.5 10.9M257.2 781.5l0.5-5.7M535.2 700.2l3.2 7.7M322.7 820l-0.2-4.7M493.6 595.3l7.2 2.3M276.4 625.4l14-8M485.5 734.4l2.5 11.5M267.6 726.6l4.1-12.6M509.4 660.2l7.5 10M321 806.3l0-6.9M474.4 594.1l9.3 1.4M391.4 797.5l-0.4-7.6M436 594.8l5.9-5.5M464.3 814l-0.5-5.3M463.5 561.1l2.4-3.8M295.1 555.1l-0.9 5.5M235.9 731.2l-2.2 7M518.9 761.7l-1.5-6.3M466.8 558l0-5.4M310.9 597.3l0.9 9M295.9 747.7l-1.9 9.9M304.9 576l6.5 5.2M358.7 809.7l-0.4 8M245.2 595.9l7.1-2.6M423.7 839.9l-0.1 4.4M218.7 689.5l3.9-7.3"/>
<path stroke="#00ff4a" d="M493.4 588.6l3.9-2M418.6 832.4l0.6-5M274.4 588.3l2.3 6M282.6 783.7l0.1 7.9M275.6 592.5l3.8 2.2M349 818.9l0.5 4.6M247.4 771.7l1.4-5.2M520.5 757.4l1.8 5.7M267.1 587.1l4.6 1.8M353.2 829.9l0.5 4.5M261.8 615.3l6.6 0.1M401.5 817.9l1 5.9M291.6 798l0.9-4.5M522.1 672l4.5 4.8M455.9 773l-0.1-10.5M467.7 620.7l3.2-8.4M377.6 819.8l0.9-6.1M484.9 607.8l6.4-1.5M459.5 813l0.3-5.3M487.3 585.1l2.6-3.4M277.2 586.3l2.4 3.7M301.1 800.3l0.3 5.3M465.4 684.6l9.8 11.5M266.5 579.9l0.9 4.9M255.3 770.8l-0.1 6.8M530.2 736.4l-1.5-9.4M503.1 592.7l-0.7-7.7M359.4 821.8l0.6 4.4M271.5 596.3l4 1.8M222.6 691.3l4-5.2M470.9 813.3l0.8 4.3M268.9 731.4l4.6-9.8M496.5 693.3l6.5 9.3M413.6 836.6l0.7 4.3M238 619.6l5.7-2M492.3 784.2l1.2 5M233.6 717.5l2.9-5.2M368.7 683.3l6-9.6M254.2 584.7l-3.8 12M223.6 674.7l-4.6 14.4M478.2 816.3l0.5-5.3M496 574.7l2.3-3.5M276 594.5l3.7 2.4M346.8 816.6l0.5 4.5M502.6 608.7l5.4 0.7M358.3 830l0.5-3.8M455.2 830.3l0.7-5.1M496.6 576.2l3.1-2.9M307.6 649.5l4 19.8M316.2 715.7l0.7 21M232.9 641.1l5.4-3.3M436.6 827.3l0.6 4.3M536.9 675.7l4.3 5M298.8 820.8l0.7-4.4M258.2 612.9l-4.8 19.1M244.2 665.2l-5.7 20.6M499.4 767.6l-0.5-6.9M487.8 594.4l0.8-5.2M522.2 763.1l-1.6-6.3M464.8 552.7l0-4.8M297 549.9l2 3.4M288.6 811.1l-0.5 4.7M538.9 653.1l-7.6-12.6M314.5 583.8l5.3 5.7M354.6 797.1l-0.6 7.5M267.7 590.2l5.9-0.9M423.3 824.8l-0.1 4.6M328 606.1l12.8-1.4 13.6-0.1M467.7 680.8l9.5 19.7M290.2 677.6l7.5-11.4 8.4-10.7M403.6 606.5l15.5 0.6 15.5 2.5M324.9 837.4l-0.2-4.6M519.3 606l7.4 4.1M390.9 830.9l-0.2-3.9M467.4 571.9l4.6-1.8M459.4 805.6l-0.5-4.7M458.7 569.3l1.9-3.5M292.3 574.1l-1.8 7.1M244.6 707.7l-2.8 7.7M396.2 840l-0.1-3.8M478.6 567.9l4.6-1.4M459.2 801.8l-0.6-4.8M457.2 572l2.2-4.1M353.6 834.9l-0.1 3.8M256.8 593.1l6.5-1.6M423.9 831.2l-0.1 4.5M269.4 628.9l14.3-9.2M486.8 740.4l2.3 12.3M257.7 775.8l0.6-6.6M531.4 692.1l3.8 8.1M322.5 815.3l-0.1-4.8M487 593.6l6.6 1.7M290.4 617.4l16-6.5M482 721.7l3.5 12.7M271.7 714l5.3-13.7M500.8 650.4l8.6 9.8M321 799.4l0.1-6.9M465.2 593.4l9.2 0.7M391 789.9l-0.5-7.6M430.6 600.7l5.4-5.9M463.8 808.7l-0.5-4.7M461.5 564.5l2-3.4M294.2 560.6l-1.3 6.3M238.2 724.1l-2.3 7.1M517.4 755.4l-1.5-5.6M467 563.5l-0.2-5.5M311.8 606.3l0.7 10.4M298.1 736.9l-2.2 10.8M311.4 581.2l5.8 5.2M359.3 801.7l-0.6 8M252.3 593.3l6.5-1.9M423.8 835.4l-0.1 4.5M222.6 682.2l4.7-7.7"/>
<path stroke="#00ff80" d="M489.6 590.7l3.8-2.1M419.2 827.4l0.5-4.5M276.7 594.3l2.2 6.7M282.7 775.2l-0.1 8.5M279.4 594.7l3.7 2.4M348.6 814.4l0.4 4.5M248.8 766.5l1.7-5.6M518.6 751.7l1.9 5.7M271.7 588.9l3.6 1.7M352.7 825.4l0.5 4.5M268.4 615.4l6.5 0.5M400.4 812l1.1 5.9M292.5 793.5l1-5.2M517.4 667.5l4.7 4.5M455.8 762.5l-0.2-10.5M464.7 630l3-9.3M378.5 813.7l0.7-5.6M479.1 609.5l5.8-1.7M459.8 807.7l0.3-5.3M484.8 588.7l2.5-3.6M279.6 590l2.2 3.8M301 794.9l0.1 5.4M453.8 673.3l11.6 11.3M267.4 584.8l0.7 5.6M255.7 763.4l-0.4 7.4M528.7 727l-1.9-10.7M504.1 601l-1-8.3M358.8 817.3l0.6 4.5M275.5 598.1l3.9 1.9M226.6 686.1l4.2-5M470.1 809l0.8 4.3M273.5 721.6l5.2-9.5M489 684l7.5 9.3M244.9 617.2l4.2-1.2M413 832.3l0.6 4.3M243.7 617.6l5.3-1.5M491 779.2l1.3 5M236.5 712.3l3.5-5.6M250.4 596.7l-6.6 19.9M231 653l-7.4 21.7M478.7 811l0.5-5.9M493.9 578.4l2.1-3.7M279.7 596.9l3.6 2.5M346.4 812l0.4 4.6M497.3 608.3l5.3 0.4M358.8 826.2l0.5-4.5M455.9 825.2l0.6-5.1M493.7 579.2l2.9-3M311.6 669.3l2.8 21.3 1.8 25.1M238.3 637.8l5.5-2.9M435.9 823l0.7 4.3M532 670.4l4.9 5.3M299.5 816.4l0.8-4.9M253.4 632l-9.2 33.2M498.9 760.7l-0.6-6.8M487 600.2l0.8-5.8M520.6 756.8l-1.7-6.3M465 558.2l-0.2-5.5M299 553.3l2.1 4.1M289.2 805.7l-0.6 5.4M531.3 640.5l-11.1-17.7M319.8 589.5l5 6.2M355.1 789.6l-0.5 7.5M273.6 589.3l6.5-0.6M423.4 820.2l-0.1 4.6M354.4 604.6l16.1 1.9 16.4 4.2M451.2 656.3l8.5 11.6 8 12.9M306.1 655.5l10.2-10.8 10.6-9.3 11.8-8.5 12-6.8 13.1-5.8 13-4 13.3-2.6 13.5-1.2M324.7 832.8l-0.1-4.5M512.4 602.6l6.9 3.4M390.7 827l-0.3-4.6M463 573.9l4.4-2M458.9 800.9l-0.6-4.8M456.8 572.9l1.9-3.6M290.5 581.2l-2.1 7.8M247.8 699.2l-3.2 8.5M396.1 836.2l-0.2-4.5M473.5 569.8l5.1-1.9M458.6 797l-0.6-4.7M455.4 575.7l1.8-3.7M353.6 834.3l0 0.6M263.3 591.5l6.5-1.2M424 827.3l-0.1 3.9M283.7 619.7l15.2-7.2M484.1 729l2.7 11.4M258.3 769.2l0.8-6.5M527.6 684.8l3.8 7.3M322.4 810.5l-0.2-4.8M479.6 592.2l7.4 1.4M306.4 610.9l16.5-4.3M477.8 709.2l4.2 12.5M277 700.3l6.3-13.2M491.6 641.4l9.2 9M321.1 792.5l0.1-6.3M456 593.5l9.2-0.1M390.5 782.3l-0.3-7.8M425.8 606.5l4.8-5.8M463.3 804l-0.5-4.8M459.4 568.6l2.1-4.1M292.9 566.9l-1.4 6.3M240.9 716.4l-2.7 7.7M515.9 749.8l-1.9-7.1M467.3 568.4l-0.3-4.9M312.5 616.7l0.1 10.8M300.4 724.7l-2.3 12.2M317.2 586.4l5.3 5.8M359.8 794.2l-0.5 7.5M258.8 591.4l6.5-1.6M424 830.9l-0.2 4.5M227.3 674.5l4.9-7.4"/>
<path stroke="#00ffb5" d="M485.9 593l3.7-2.3M419.7 822.9l0.5-4.5M278.9 601l1.9 7M282.9 766.1l-0.2 9.1M283.1 597.1l3.2 2.3M348.2 809.8l0.4 4.6M250.5 760.9l1.9-5.7M516.6 746.1l2 5.6M275.3 590.6l4 2M352.3 820.9l0.4 4.5M274.9 615.9l6.5 0.9M399.5 806.5l0.9 5.5M293.5 788.3l0.9-4.5M512.1 662.8l5.3 4.7M455.6 752l-0.2-11.8M462.1 640.2l2.6-10.2M379.2 808.1l0.8-6.2M472.9 611.7l6.2-2.2M460.1 802.4l0.2-5.3M482.5 592.4l2.3-3.7M281.8 593.8l2.1 3.9M300.9 789.6l0.1 5.3M439.7 662.6l14.1 10.7M268.1 590.4l0.7 6.3M256.1 756l-0.4 7.4M526.8 716.3l-2.2-11.4M505.4 610.7l-1.3-9.7M358.3 812.8l0.5 4.5M279.4 600l3.9 2.2M230.8 681.1l4.4-4.7M469.1 804.1l1 4.9M278.7 712.1l5.9-9.8M480.8 675.4l8.2 8.6M249.1 616l5.3-1.2M412.5 828.5l0.5 3.8M249 616.1l0 0M489.8 774.7l1.2 4.5M240 706.7l3.6-5.4M243.8 616.6l-12.8 36.4M479.2 805.1l0.3-5.9M491.7 582.6l2.2-4.2M283.3 599.4l3.1 2.4M345.9 807.5l0.5 4.5M492 608.2l5.3 0.1M359.3 821.7l0.4-3.9M456.5 820.1l0.5-5.2M490.8 582.4l2.9-3.2M243.8 634.9l5.6-2.7M435.3 818.6l0.6 4.4M527.3 665.9l4.7 4.5M300.3 811.5l0.8-4.4M498.3 753.9l-0.8-7.5M486.4 606.1l0.6-5.9M518.9 750.5l-1.8-6.3M465.3 563.1l-0.3-4.9M301.1 557.4l1.7 3.6M289.7 801l-0.5 4.7M520.2 622.8l-4.1-6.5M324.8 595.7l4.2 6M355.7 781.3l-0.6 8.3M280.1 588.7l6.4-0.3M423.5 815.6l-0.1 4.6M386.9 610.7l8.9 3.3 8.7 4 8.4 4.7 8.7 5.7 7.7 5.9 7.9 6.9 14 15.1M324.6 828.3l-0.2-4.7M506 600l6.4 2.6M390.4 822.4l-0.2-4M458.6 576.1l4.4-2.2M458.3 796.1l-0.6-4.8M455 576.6l1.8-3.7M288.4 589l-2.6 8.6M251.5 689.4l-3.7 9.8M395.9 831.7l-0.1-3.8M469.1 571.7l4.4-1.9M458 792.3l-0.5-4.2M453.8 579.5l1.6-3.8M269.8 590.3l6.5-0.9M424.1 822.7l-0.1 4.6M298.9 612.5l16.3-5.4M480.4 716.3l3.7 12.7M259.1 762.7l1-6.5M523.1 677.1l4.5 7.7M322.2 805.7l-0.1-4.8M473 591.4l6.6 0.8M322.9 606.6l17.5-2M472.6 696.3l5.2 12.9M283.3 687.1l8.9-15M481.1 632.9l10.5 8.5M321.2 786.2l0.3-7M447.5 594.1l8.5-0.6M390.2 774.5l-0.3-7.8M421 613.3l4.8-6.8M462.8 799.2l-0.6-4.7M457.6 572.3l1.8-3.7M291.5 573.2l-1.7 7.1M243.7 708.7l-2.8 7.7M514 742.7l-1.8-6.3M467.8 574l-0.5-5.6M312.6 627.5l-0.4 13.8M303.1 711l-2.7 13.7M322.5 592.2l5.1 6.1M360.3 786.6l-0.5 7.6M265.3 589.8l6.6-1.2M424.1 826.3l-0.1 4.6M232.2 667.1l1.7-2.4"/>
<path stroke="#00ffea" d="M482.3 595.5l3.6-2.5M420.2 818.4l0.4-4.6M280.8 608l1.6 7.3M283.2 756.9l-0.3 9.2M286.3 599.4l3.5 2.8M347.8 805.2l0.4 4.6M252.4 755.2l1.9-5.7M514.4 740.5l2.2 5.6M279.3 592.6l3.8 2.2M351.9 816.4l0.4 4.5M281.4 616.8l6.4 1.4M398.4 800.4l1.1 6.1M294.4 783.8l1-4.6M507.1 658.8l5 4M455.4 740.2l-0.2-13.7M459.7 652.5l2.4-12.3M380 801.9l0.7-5.7M467.4 614.2l5.5-2.5M460.3 797.1l0.1-5.4M480.3 596.2l2.2-3.8M283.9 597.7l1.9 4.1M300.8 784.1l0.1 5.5M341.2 646.3l10.7-2.5M421.5 652.5l9 4.5 9.2 5.6M268.8 596.7l0.4 6.3M256.8 747.9l-0.7 8.1M524.6 704.9l-3-14.4M507.5 623.5l-2.1-12.8M357.8 808.3l0.5 4.5M283.3 602.2l3.3 2.1M235.2 676.4l4.9-5M468.3 799.7l0.8 4.4M284.6 702.3l6.6-9.2M471.7 667.2l9.1 8.2M254.4 614.8l5.9-1.1M411.9 824.2l0.6 4.3M488.4 769.7l1.4 5M243.6 701.3l3.8-5.3M479.5 799.2l0.2-5.4M489.8 586.6l1.9-4M286.4 601.8l3.3 2.9M345.6 802.9l0.3 4.6M487.2 608.3l4.8-0.1M359.7 817.8l0.5-4.5M457 814.9l0.4-5.2M488.2 585.7l2.6-3.3M249.4 632.2l5.7-2.3M434.6 814.2l0.7 4.4M522.5 661.6l4.8 4.3M301.1 807.1l0.7-4.5M497.5 746.4l-0.8-7.6M486 612.7l0.4-6.6M517.1 744.2l-1.9-6.3M465.8 568.7l-0.5-5.6M302.8 561l1.8 4.2M290.4 796.3l-0.7 4.7M329 601.7l4 6.4M356.3 773.6l-0.6 7.7M286.5 588.4l5.8 0.1M423.5 811.6l0 4M324.4 823.6l-0.1-4.6M498.9 597.5l7.1 2.5M390.2 818.4l-0.4-4.6M454.9 578.2l3.7-2.1M457.7 791.3l-0.7-4.8M453.2 581l1.8-4.4M285.8 597.6l-3.2 10M255.9 678.2l-4.4 11.2M395.8 827.9l-0.2-4.6M464.8 573.8l4.3-2.1M457.5 788.1l-0.7-4.8M452.2 583.4l1.6-3.9M276.3 589.4l5.8-0.4M424.2 818.1l-0.1 4.6M315.2 607.1l17.5-3.1M475.8 703.1l4.6 13.2M260.1 756.2l1.1-6.5M518.2 669.6l4.9 7.5M322.1 800.9l0-4.2M466.3 590.9l6.7 0.5M340.4 604.6l9.5-0.1 10 0.8M465.5 682l7.1 14.3M292.2 672.1l12-16.1M470 625.4l11.1 7.5M321.5 779.2l0.3-6.4M439.2 595.5l8.3-1.4M389.9 766.7l-0.3-7.8M416.9 619.8l4.1-6.5M462.2 794.5l-0.7-4.8M456 576.1l1.6-3.8M289.8 580.3l-1.9 7.2M246.8 700.3l-3.1 8.4M512.2 736.4l-1.9-6.3M468.5 580.4l-0.7-6.4M312.2 641.3l-1.8 21.9M306.9 688.5l-3.8 22.5M327.6 598.3l4.3 6M360.8 778.9l-0.5 7.7M271.9 588.6l6.5-0.8M424.3 821.7l-0.2 4.6"/>
<path stroke="#00dfff" d="M479.2 597.9l3.1-2.4M420.6 813.8l0.4-4.6M282.4 615.3l1.5 8.5M283.7 747l-0.5 9.9M289.8 602.2l3 2.6M347.5 801.1l0.3 4.1M254.3 749.5l1.9-5M512 735l2.4 5.5M283.1 594.8l3.8 2.5M351.6 812.4l0.3 4M287.8 618.2l5.8 1.6M397.5 794.8l0.9 5.6M295.4 779.2l1.2-5.2M502 655l5.1 3.8M455.2 726.5l0.1-19.9M457.2 671.2l2.5-18.7M380.7 796.2l0.7-5.8M462 617l5.4-2.8M460.4 791.7l0.1-5.4M478.2 600.2l2.1-4M285.8 601.8l2.1 4.7M300.8 778.7l0 5.4M351.9 643.8l17.5-1.9 17.6 0.8 17.3 3.5 17.2 6.3M269.2 603l0.3 7.1M257.5 739.8l-0.7 8.1M521.6 690.5l-5.7-26M512.5 648.6l-5-25.1M357.4 804.3l0.4 4M286.6 604.3l3.7 2.5M240.1 671.4l4.8-4.3M467.3 795.3l1 4.4M291.2 693.1l7.1-8.8M462 659.8l9.7 7.4M260.3 613.7l5.3-0.7M411.3 819.7l0.6 4.5M486.9 764.6l1.5 5.1M247.4 696l4-5.1M479.7 793.8l0.1-6M487.9 591.1l1.9-4.5M289.7 604.7l3.3 3M345.2 798.2l0.4 4.7M481.9 608.8l5.3-0.5M360.2 813.3l0.4-4M457.4 809.7l0.3-5.3M485.6 589.2l2.6-3.5M255.1 629.9l5.3-1.9M433.9 809.8l0.7 4.4M517.5 657.5l5 4.1M301.8 802.6l0.9-4.5M496.7 738.8l-1.1-8.8M485.7 620l0.3-7.3M515.2 737.9l-1.9-6.4M466.5 574.4l-0.7-5.7M304.6 565.2l1.5 3.8M291.1 791.5l-0.7 4.8M333 608.1l3.9 7.2M356.8 765.8l-0.5 7.8M292.3 588.5l5.8 0.4M423.6 806.9l-0.1 4.7M324.3 819l-0.1-4.7M491.7 595.5l7.2 2M389.8 813.8l-0.2-4.1M450.8 580.7l4.1-2.5M457 786.5l-0.7-4.8M451.7 584.9l1.5-3.9M282.6 607.6l-5.5 15.7M262 662.8l-6.1 15.4M395.6 823.3l-0.2-3.9M461.1 575.8l3.7-2M456.8 783.3l-0.7-4.8M450.6 587.9l1.6-4.5M282.1 589l6.5-0.2M424.2 813.5l0 4.6M332.7 604l9.5-0.6 9.5 0.1M469.6 689l6.2 14.1M261.2 749.7l1.5-7.2M512.6 661.9l5.6 7.7M322.1 796.7l0-4.9M459.7 590.7l6.6 0.2M359.9 605.3l10.7 1.7 11.1 2.9M454.9 664.8l10.6 17.2M304.2 656l10.6-11.5 11.1-9.7M457.1 618.6l12.9 6.8M321.8 772.8l0.5-7.1M430.9 597.4l8.3-1.9M389.6 758.9l-0.1-7.9M413.4 626l3.5-6.2M461.5 789.7l-0.6-4.8M454.4 579.9l1.6-3.8M287.9 587.5l-2.5 8.5M250.2 691.2l-3.4 9.1M510.3 730.1l-2.3-7.8M469.4 586.8l-0.9-6.4M310.4 663.2l-3.5 25.3M331.9 604.3l4.4 6.9M361.2 771.2l-0.4 7.7M278.4 587.8l6.5-0.4M424.4 817.1l-0.1 4.6"/>
<path stroke="#00aaff" d="M475.8 600.7l3.4-2.8M421 809.2l0.3-4M283.9 623.8l1.3 9.3M284.3 736.4l-0.6 10.6M292.8 604.8l3.3 3.1M347.2 796.4l0.3 4.7M256.2 744.5l2.2-5.6M509.6 729.5l2.4 5.5M286.9 597.3l3.2 2.3M351.3 807.7l0.3 4.7M293.6 619.8l5.7 2M396.5 789.2l1 5.6M296.6 774l1.1-4.6M496.7 651.5l5.3 3.5M455.3 706.6l0.6-18.5 1.3-16.9M381.4 790.4l0.8-5.8M457.2 619.9l4.8-2.9M460.5 786.3l0-5.4M476.2 604.3l2-4.1M287.9 606.5l1.7 4.3M300.9 772.6l-0.1 6.1M269.5 610.1l0.1 7.7M258.5 730.5l-1 9.3M515.9 664.5l-3.4-15.9M357 799.7l0.4 4.6M290.3 606.8l3.6 2.7M244.9 667.1l4.8-4.1M466.3 790.3l1 5M298.3 684.3l8.5-9M450.8 652.9l11.2 6.9M265.6 613l5.4-0.3M410.8 815.8l0.5 3.9M485.3 759.6l1.6 5M251.4 690.9l3.8-4.5M479.8 787.8l0.1-6M486.3 595.3l1.6-4.2M293 607.7l2.8 2.9M344.9 794.1l0.3 4.1M477.2 609.4l4.7-0.6M360.6 809.3l0.5-4.6M457.7 804.4l0.3-5.3M483.1 592.8l2.5-3.6M260.4 628l5.8-1.7M433.4 805.8l0.5 4M512.4 653.8l5.1 3.7M302.7 798.1l0.8-4.5M495.6 730l-1.1-8.8M485.7 628.5l0-8.5M513.3 731.5l-2.3-7M467.5 580.8l-1-6.4M306.1 569l1.5 4.5M291.9 786l-0.8 5.5M336.9 615.3l3.3 7M357.2 758l-0.4 7.8M298.1 588.9l5.7 0.7M423.6 802.1l0 4.8M324.2 814.3l-0.1-4.8M485.1 594.1l6.6 1.4M389.6 809.7l-0.3-4M447.3 583.2l3.5-2.5M456.3 781.7l-0.7-4.9M450.3 588.9l1.4-4M277.1 623.3l-15.1 39.5M395.4 819.4l-0.3-4.7M456.9 578.2l4.2-2.4M456.1 778.5l-0.8-4.9M449.3 592l1.3-4.1M288.6 588.8l5.8 0.2M424.3 809.5l-0.1 4M351.7 603.5l10.1 0.9 10.6 1.9M461.2 673.7l8.4 15.3M262.7 742.5l1.5-6.5M507.1 655.1l5.5 6.8M322.1 791.8l0-4.9M453.1 591l6.6-0.3M381.7 609.9l9.6 3.4 9.3 4.1 9.1 4.9 9.2 6.1M428.2 635.6l14.2 13.7 12.5 15.5M325.9 634.8l9.6-7 9.5-5.8 10.4-5.2 10.2-4M443 613l14.1 5.6M322.3 765.7l0.6-7.1M422.9 599.9l8-2.5M389.5 751l0-7.3M409.9 633.1l3.5-7.1M460.9 784.9l-0.8-4.8M452.8 584.5l1.6-4.6M285.4 596l-3.4 10.7M254.6 679.9l-4.4 11.3M508 722.3l-2.2-7M470.5 593.4l-1.1-6.6M336.3 611.2l3.7 6.7M361.7 763.4l-0.5 7.8M284.9 587.4l5.9-0.1M424.5 813l-0.1 4.1"/>
<path stroke="#0075ff" d="M421.4 803.9l0.2-3.4M472.8 603.4l3-2.7M421.3 805.2l0.3-4.7M285.2 633.1l1 11.3M285 724l-0.7 12.4M296.1 607.9l2.9 2.8M346.9 791.7l0.3 4.7M258.4 738.9l2.4-5.5M506.9 724.1l2.7 5.4M290.1 599.6l3.6 2.8M351 803.1l0.3 4.6M299.3 621.8l6.1 2.6M395.4 782.9l1.1 6.3M297.7 769.4l1.2-4.6M491.3 648.3l5.4 3.2M382.2 784.6l0.8-5.8M452.1 623.3l5.1-3.4M460.5 780.9l0-5.5M474.3 608.6l1.9-4.3M289.6 610.8l1.7 5M301 767.1l-0.1 5.5M269.6 617.8l-0.1 8.5M259.7 720.5l-1.2 10M356.5 795.1l0.5 4.6M293.9 609.5l3 2.5M249.7 663l5-3.8M465.2 785.8l1.1 4.5M306.8 675.3l9.5-8.6M439 647.2l11.8 5.7M271 612.7l4.7-0.2M410.3 811.3l0.5 4.5M483.6 754.5l1.7 5.1M255.2 686.4l4.3-4.8M479.9 781.8l-0.1-6.1M484.7 600.1l1.6-4.8M295.8 610.6l2.7 2.9M344.5 789.4l0.4 4.7M472.6 610.2l4.6-0.8M361.1 804.7l0.4-4M458 799.1l0.1-5.3M481.1 596.2l2-3.4M266.2 626.3l5.3-1.3M432.7 801.3l0.7 4.5M506.7 649.9l5.7 3.9M303.5 793.6l0.9-4.5M494.5 721.2l-1.4-11.3M485.9 638.5l-0.2-10M511 724.5l-2.3-7.1M468.6 587.3l-1.1-6.5M307.6 573.5l1.2 4M292.7 781.2l-0.8 4.8M340.2 622.3l3 7.2M357.6 750.1l-0.4 7.9M303.8 589.6l5.6 1M423.6 798l0 4.1M324.1 809.5l-0.1-4.7M478.5 593l6.6 1.1M389.3 805.7l-0.3-4.1M443.4 586.1l3.9-2.9M455.6 776.8l-0.7-4.8M449 593l1.3-4.1M395.1 814.7l-0.2-3.9M452.9 580.9l4-2.7M455.3 773.6l-0.7-4.9M448.1 596.2l1.2-4.2M294.4 589l5.7 0.5M424.3 804.7l0 4.8M372.4 606.3l13.1 3.7 12.6 5.1M446.6 653.2l7.5 9.6 7.1 10.9M264.2 736l1.8-7.1M500.7 648.2l6.4 6.9M322.1 786.9l0.1-5M446.5 591.7l6.6-0.7M418.9 628.4l9.3 7.2M426.4 608.8l16.6 4.2M322.9 758.6l0.8-7.2M415 603l7.9-3.1M389.5 743.7l0.1-7.9M406.9 639.9l3-6.8M460.1 780.1l-0.7-4.9M451.5 588.5l1.3-4M282 606.7l-4.9 14.2M260.3 665.2l-5.7 14.7M505.8 715.3l-2.7-8.5M471.9 600.6l-1.4-7.2M340 617.9l3.4 7M362 755.5l-0.3 7.9M290.8 587.3l6.5 0.3M424.6 808.3l-0.1 4.7"/>
<path stroke="#0040ff" d="M421.6 800.5l0.3-4.7M469.7 606.6l3.1-3.2M421.6 800.5l0.1-1.1M286.2 644.4l0.7 15.8M286 707.2l-1 16.8M299 610.7l3 3.4M346.6 787l0.3 4.7M260.8 733.4l2.5-5.4M504.2 718.8l2.7 5.3M293.7 602.4l3.1 2.6M350.8 798.9l0.2 4.2M305.4 624.4l5 2.5M394.4 777.2l1 5.7M298.9 764.8l1.3-4.6M485.7 645.4l5.6 2.9M383 778.8l0.8-5.9M447.6 626.8l4.5-3.5M460.5 775.4l-0.1-5.5M472.4 613.4l1.9-4.8M291.3 615.8l1.4 4.6M301.1 761l-0.1 6.1M269.5 626.3l-0.5 11M261.2 708.6l-1.5 11.9M356.2 791l0.3 4.1M296.9 612l3.4 3M254.7 659.2l5.2-3.6M464.2 781.3l1 4.5M316.3 666.7l11.7-8.6M424.6 642.2l14.4 5M275.7 612.5l5.3 0.2M409.8 807.4l0.5 3.9M481.8 749.5l1.8 5M259.5 681.6l4.5-4.5M479.8 775.7l-0.1-6.1M483.3 605l1.4-4.9M298.5 613.5l3 3.5M344.2 784.7l0.3 4.7M468 611.3l4.6-1.1M361.5 800.7l0.5-4.1M458.1 793.8l0.2-4.8M478.9 600.1l2.2-3.9M271.5 625l5.3-1M432 796.8l0.7 4.5M501.3 646.7l5.4 3.2M304.4 789.1l0.9-4.6M493.1 709.9l-1.9-14.5M486.6 652.2l-0.7-13.7M508.7 717.4l-2.6-7.8M470 594.5l-1.4-7.2M308.8 577.5l1.1 4.1M293.6 776.3l-0.9 4.9M343.2 629.5l2.7 7.5M357.9 741.4l-0.3 8.7M309.4 590.6l5.6 1.3M423.6 793.2l0 4.8M324 804.8l0-4.2M471.9 592.3l6.6 0.7M389 801.6l-0.3-4.8M440.1 588.8l3.3-2.7M454.9 772l-0.8-5M447.7 597.8l1.3-4.8M394.9 810.8l-0.3-4.1M449.5 583.4l3.4-2.5M454.6 768.7l-0.8-4.9M446.9 601l1.2-4.8M300.1 589.5l5.7 0.7M424.3 800l0 4.7M398.1 615.1l13.3 7.2 12.5 8.8 11.7 10.1 11 12M266 728.9l2.1-7.1M494 641.6l6.7 6.6M322.2 781.9l0.1-5M440.7 592.6l5.8-0.9M408.2 606.8l18.2 2M323.7 751.4l0.9-7.2M407.9 606.4l7.1-3.4M389.6 735.8l0.2-8M404 647.5l2.9-7.6M459.4 775.2l-0.8-4.9M450.4 592.7l1.1-4.2M277.1 620.9l-16.8 44.3M503.1 706.8l-2.8-8.5M473.8 609.4l-1.9-8.8M343.4 624.9l3.1 7.2M362.3 747.6l-0.3 7.9M297.3 587.6l5.7 0.6M424.7 803.6l-0.1 4.7"/>
<path stroke="#000bff" d="M421.9 795.8l0.3-4.8M466.9 609.5l2.8-2.9M286.9 660.2l0 21.1-0.9 25.9M302 614.1l2.7 3.2M346.4 782.8l0.2 4.2M263.3 728l2.7-5.4M501.2 713.6l3 5.2M296.8 605l2.9 2.8M350.5 794.2l0.3 4.7M310.4 626.9l5.3 3M393.3 771.5l1.1 5.7M300.2 760.2l1.5-5.2M480.1 642.7l5.6 2.7M383.8 772.9l0.8-5.9M443.2 630.5l4.4-3.7M460.4 769.9l-0.1-5.5M470.8 617.9l1.6-4.5M292.7 620.4l1.5 5.2M301.3 754.8l-0.2 6.2M269 637.3l-1.2 16M263.4 691.2l-2.2 17.4M355.7 786.3l0.5 4.7M300.3 615l2.9 2.9M259.9 655.6l5.3-3.3M463.1 776.8l1.1 4.5M328 658.1l14.8-8.4M407.1 638.7l17.5 3.5M281 612.7l4.7 0.4M409.2 802.8l0.6 4.6M479.9 744.6l1.9 4.9M264 677.1l4.7-4.4M479.7 769.6l-0.2-6.7M481.9 610l1.4-5M301.5 617l2.5 3.2M343.9 779.9l0.3 4.8M463.5 612.6l4.5-1.3M362 796.6l0.4-4.1M458.3 789l0-5.4M476.6 604.5l2.3-4.4M276.8 624l5.4-0.8M431.3 792.8l0.7 4M496.3 644.1l5 2.6M305.3 784.5l1-4.5M491.2 695.4l-4.6-43.2M506.1 709.6l-3-8.5M471.7 601.9l-1.7-7.4M309.9 581.6l1.1 4.8M294.4 771.4l-0.8 4.9M345.9 637l2.4 7.7M358.1 733.5l-0.2 7.9M315 591.9l5.5 1.6M423.6 789.1l0 4.1M324 800.6l0-4.8M465.3 592l6.6 0.3M388.7 796.8l-0.3-4.1M436.8 591.7l3.3-2.9M454.1 767l-0.8-4.9M446.6 602.1l1.1-4.3M394.6 806.7l-0.3-4.7M446.2 586l3.3-2.6M453.8 763.8l-0.8-5M445.9 605.4l1-4.4M305.8 590.2l5.6 1.1M424.3 795.9l0 4.1M268.1 721.8l2.3-7M486.3 635.1l7.7 6.5M322.3 776.9l0.2-5M434.3 593.9l6.4-1.3M383.3 608.5l12.7-1.5 12.2-0.2M324.6 744.2l1.1-7.1M400.5 610.6l7.4-4.2M389.8 727.8l0.4-8M401.6 654.6l2.4-7.1M458.6 770.3l-0.8-4.9M449.1 597.5l1.3-4.8M500.3 698.3l-3.7-11.4M476.2 619.6l-2.4-10.2M346.5 632.1l2.5 6.9M362.4 739l-0.1 8.6M303 588.2l5.7 0.9M424.8 799.4l-0.1 4.2"/>
<path stroke="#2a00ff" d="M422.2 791l0.3-4.7M464 613l2.9-3.5M304.7 617.3l2.5 3.3M346.1 778l0.3 4.8M266 722.6l2.8-5.3M497.8 707.9l3.4 5.7M299.7 607.8l3.3 3.2M350.3 790l0.2 4.2M315.7 629.9l5.2 3.4M392.1 765.7l1.2 5.8M301.7 755l1.4-4.5M474.4 640.4l5.7 2.3M384.6 767l0.9-5.9M438.6 634.8l4.6-4.3M460.3 764.4l-0.1-6.1M469.2 623l1.6-5.1M294.2 625.6l1.5 5.8M301.4 748.6l-0.1 6.2M267.8 653.3l-4.4 37.9M355.4 782.2l0.3 4.1M303.2 617.9l2.8 2.9M265.2 652.3l5.3-3M461.8 771.7l1.3 5.1M342.8 649.7l15.8-6.3 15.7-3.8 16.7-1.6 16.1 0.7M285.7 613.1l5.2 0.6M408.7 798.8l0.5 4M477.9 739.6l2 5M268.7 672.7l4.8-4.1M479.5 762.9l-0.3-6.2M480.7 615.7l1.2-5.7M304 620.2l2.8 3.8M343.6 775.1l0.3 4.8M459 614.1l4.5-1.5M362.4 792.5l0.5-4.7M458.3 783.6l0.1-5.4M474.6 608.7l2-4.2M282.2 623.2l5.3-0.5M430.6 788.2l0.7 4.6M490.7 641.4l5.6 2.7M306.3 780l1.1-5.2M503.1 701.1l-3.4-9.9M474 611.3l-2.3-9.4M311 586.4l0.9 4.2M295.5 765.8l-1.1 5.6M348.3 644.7l2.3 8.6M358.2 724.7l-0.1 8.8M320.5 593.5l4.8 1.6M423.5 784.2l0.1 4.9M324 795.8l0-4.9M458.8 592.1l6.5-0.1M388.4 792.7l-0.2-4.2M433.7 594.7l3.1-3M453.3 762.1l-0.8-4.9M445.6 606.4l1-4.3M394.3 802l-0.2-4.1M442.5 589.2l3.7-3.2M453 758.8l-0.9-5.7M445 609.8l0.9-4.4M311.4 591.3l5.6 1.4M424.3 791l0 4.9M270.4 714.8l2.5-6.9M478.4 629.2l7.9 5.9M322.5 771.9l0.3-5M428.6 595.5l5.7-1.6M352.7 617.8l15.4-5.8 15.2-3.5M325.7 737.1l1.3-7.2M393.3 615.3l7.2-4.7M390.2 719.8l0.6-8M399.2 662.6l2.4-8M457.8 765.4l-0.8-4.9M448.2 601.8l0.9-4.3M496.6 686.9l-4.9-14.9M480.3 634.7l-4.1-15.1M349 639l2.8 8.3M362.5 731l-0.1 8M308.7 589.1l5.7 1.1M424.8 794.6l0 4.8"/>
<path stroke="#6000ff" d="M422.5 786.3l0.2-4.2M461.4 616.2l2.6-3.2M307.2 620.6l2.8 3.8M345.9 773.2l0.2 4.8M268.8 717.3l3-5.2M494.6 702.9l3.2 5M303 611l2.7 3.1M350.1 785.3l0.2 4.7M320.9 633.3l4.7 3.3M390.9 759.9l1.2 5.8M303.1 750.5l1.7-5.2M468.6 638.4l5.8 2M385.5 761.1l1-5.9M434.6 639l4-4.2M460.2 758.3l-0.1-6.2M467.7 628.2l1.5-5.2M295.7 631.4l1.2 6M301.6 741.8l-0.2 6.8M355 777.4l0.4 4.8M306 620.8l3.1 3.5M270.5 649.3l5-2.5M460.5 767.2l1.3 4.5M290.9 613.7l4.7 0.8M408.2 794.7l0.5 4.1M475.8 734.7l2.1 4.9M273.5 668.6l5-3.9M479.2 756.7l-0.3-7.4M479.5 621.5l1.2-5.8M306.8 624l2.3 3.5M343.3 770.3l0.3 4.8M454.6 615.8l4.4-1.7M362.9 787.8l0.5-4.2M458.4 778.2l0-6.1M472.8 613l1.8-4.3M287.5 622.7l5.4-0.2M429.9 784.1l0.7 4.1M485 639.1l5.7 2.3M307.4 774.8l1.1-4.6M499.7 691.2l-4.2-12M477.2 623l-3.2-11.7M311.9 590.6l0.8 5M296.4 760.9l-0.9 4.9M350.6 653.3l1.9 8.7M358 714.6l0.2 10.1M325.3 595.1l4.7 1.8M423.4 780l0.1 4.2M324 790.9l0.1-4.9M452.3 592.5l6.5-0.4M388.2 788.5l-0.3-4.2M430.7 597.8l3-3.1M452.5 757.2l-0.8-5M444.7 611.5l0.9-5.1M394.1 797.9l-0.3-4.1M439.4 592.1l3.1-2.9M452.1 753.1l-0.8-5M444.1 614.9l0.9-5.1M317 592.7l4.8 1.4M424.2 786.9l0.1 4.1M272.9 707.9l3.1-7.5M470.1 623.9l8.3 5.3M322.8 766.9l0.3-5.1M423 597.3l5.6-1.8M327 729.9l1.7-7.8M386.9 620.2l6.4-4.9M390.8 711.8l0.8-8.6M397.1 670.7l2.1-8.1M457 760.5l-0.9-5.7M447.2 606.8l1-5M491.7 672l-11.4-37.3M351.8 647.3l2.2 7.9M362.4 722.3l0.1 8.7M314.4 590.2l4.9 1.3M424.8 790.4l0 4.2"/>
<path stroke="#9500ff" d="M422.7 782.1l0.2-4.8M458.7 620l2.7-3.8M310 624.4l2.3 3.5M345.6 769l0.3 4.2M271.8 712.1l3.1-5.1M490.8 697.6l3.8 5.3M305.7 614.1l2.7 3.2M349.9 781l0.2 4.3M325.6 636.6l4.4 3.6M389.6 754.2l1.3 5.7M304.8 745.3l1.6-4.5M462.7 636.7l5.9 1.7M386.5 755.2l1-6M430.7 643.5l3.9-4.5M460.1 752.1l-0.2-6.9M466.3 634.1l1.4-5.9M296.9 637.4l1.3 6.7M301.9 734.3l-0.3 7.5M354.5 772.7l0.5 4.7M309.1 624.3l2.6 3.2M275.5 646.8l5.6-2.4M459.2 762.7l1.3 4.5M295.6 614.5l4.6 1.1M407.7 790.7l0.5 4M473.6 729.9l2.2 4.8M278.5 664.7l5.1-3.6M478.9 749.3l-0.4-6.8M478.5 628l1-6.5M309.1 627.5l2.5 4M343 765.5l0.3 4.8M450.7 617.5l3.9-1.7M363.4 783.6l0.5-4.1M458.4 772.1l-0.1-5.5M471.1 617.4l1.7-4.4M292.9 622.5l5.3 0.1M429 779.5l0.9 4.6M479.2 637l5.8 2.1M308.5 770.2l1.2-4.6M495.5 679.2l-8-23.4M484.2 645.9l-7-22.9M312.7 595.6l0.8 5M297.5 755.2l-1.1 5.7M352.5 662l2.1 11.8M357.5 703l0.5 11.6M330 596.9l5.3 2.3M423.2 775.1l0.2 4.9M324.1 786l0.1-4.9M446.4 593.2l5.9-0.7M387.9 784.3l-0.2-4.2M427.7 601.1l3-3.3M451.7 752.2l-0.9-5.8M443.9 616.6l0.8-5.1M393.8 793.8l-0.2-4.1M436.4 595.2l3-3.1M451.3 748.1l-0.9-5.7M443.4 620.1l0.7-5.2M321.8 594.1l5.4 1.9M424.1 782l0.1 4.9M276 700.4l3.3-7.3M460.8 618.9l9.3 5M323.1 761.8l0.4-5M417.4 599.4l5.6-2.1M328.7 722.1l1.8-7.8M380.3 625.9l6.6-5.7M391.6 703.2l1.5-11.5M394.6 682.5l2.5-11.8M456.1 754.8l-0.8-5M446.5 611.2l0.7-4.4M354 655.2l2 8.8M362.1 712.9l0.3 9.4M319.3 591.5l5.5 1.7M424.8 785.6l0 4.8"/>
<path stroke="#ca00ff" d="M422.9 777.3l0.2-4.8M456.4 623.5l2.3-3.5M312.3 627.9l2.3 3.6M345.3 764.1l0.3 4.9M274.9 707l3.3-5M487.2 692.8l3.6 4.8M308.4 617.3l2.6 3.2M349.6 776.2l0.3 4.8M330 640.2l4.4 3.9M388.3 748.4l1.3 5.8M306.4 740.8l1.7-4.5M456.7 635.3l6 1.4M387.5 749.2l1.3-6.5M426.9 648.1l3.8-4.6M459.9 745.2l-0.2-6.8M465 640.1l1.3-6M298.2 644.1l1.2 7.9M302.1 725.6l-0.2 8.7M354.2 768.5l0.3 4.2M311.7 627.5l2.6 3.3M281.1 644.4l5.7-2.2M457.9 758.2l1.3 4.5M300.2 615.6l4.5 1.3M407.1 786l0.6 4.7M471.3 725.1l2.3 4.8M283.6 661.1l5.3-3.3M478.5 742.5l-0.4-8.1M477.6 635.2l0.9-7.2M311.6 631.5l2.2 3.7M342.6 760.7l0.4 4.8M446.5 619.6l4.2-2.1M363.9 779.5l0.6-4.2M458.3 766.6l0-5.5M469.4 622.4l1.7-5M298.2 622.6l4.8 0.3M428.2 775.4l0.8 4.1M473.4 635.3l5.8 1.7M309.7 765.6l1.2-4.6M487.5 655.8l-3.3-9.9M313.5 600.6l0.5 4.5M298.5 750.3l-1 4.9M354.6 673.8l2.9 29.2M335.3 599.2l4.5 2.3M423 770.9l0.2 4.2M324.2 781.1l0.2-5M440 594.4l6.4-1.2M387.7 780.1l-0.2-4.2M424.9 604.5l2.8-3.4M450.8 746.4l-0.8-5M443.2 621.2l0.7-4.6M393.6 789.7l-0.2-4.2M433.5 598.4l2.9-3.2M450.4 742.4l-0.9-5.8M442.8 625.4l0.6-5.3M327.2 596l4.8 1.9M424 777.8l0.1 4.2M279.3 693.1l4-7.8M451.3 614.7l9.5 4.2M323.5 756.8l0.5-5.1M411.4 602l6-2.6M330.5 714.3l2.4-8.4M373.6 632.5l6.7-6.6M393.1 691.7l1.5-9.2M455.3 749.8l-1-5.7M445.8 616.4l0.7-5.2M356 664l2.2 11M361.4 702l0.7 10.9M324.8 593.2l5.4 2M424.7 781.4l0.1 4.2"/>
<path stroke="#ff00ff" d="M423.1 772.5l1.7-29.3 2-22.1 2.7-20 3.5-18.4 4.4-17 5.4-15.7 6.4-14.1 7.2-12.4M314.6 631.5l6.4 12 5.5 12.9 4.9 14.1 4.1 15.5 3.3 16.5 2.7 18.2 2.1 19.6 1.7 23.8M278.2 702l9.9-13.2 11.2-12 12.3-10.7 12.7-8.7 13.6-7.2 14.1-5.3 14.7-3.5 14.3-1.5 14.4 0.2 14.8 2.2 14.5 4.1 14 5.9 13.3 7.7 12.5 9.3 11.9 11.1 10.8 12.4M311 620.5l8.6 13 7.5 14.7 6.2 16.1 5.3 18.1 4 19 3.1 21.3 2.2 23.5 1.7 30M334.4 644.1l9 9.2 8.3 10.2 7.8 11.6 7 12.4 6.4 13.7 5.6 14.2 5.1 15.8 4.7 17.2M308.1 736.3l5.6-13.4 6.1-12.3 7-11.9 7.4-10.8 8.1-10.1 8.4-8.9 9-8 9.6-7.2 10.1-6.2 10.5-5.1 10.9-4.1 10.7-2.8 11.3-1.8 11.5-0.6 11 0.5 11.4 1.7M388.8 742.7l6.8-28.8 8.5-24.7 4.9-11.2 5.5-10.8 6.1-10.1 6.3-9M459.7 738.4l-0.4-31.8 0.7-24.5 1.8-22.1 3.2-19.9M299.4 652l1.6 15.8 1 16.9 0.1 40.9M342.5 693.8l3.6 15.8 3.1 17.3 5 41.6M314.3 630.8l9 14 7.9 15.9 6.8 17.7 5.6 19.9M286.8 642.2l13.1-3.8 12.9-2.2 12.9-0.6 13.5 1 12.7 2.5 13 4.2 12.5 5.6 11.9 7.2 11.2 8.5 10.4 9.7 10 11.2 9 12.2 8.3 13.6 7.2 14.3 6.7 15.8 5.8 16.8M304.7 616.9l9.9 3.5 9.5 4.6 9.1 5.6 9.1 6.8 8.1 7.4 8 8.6 7.3 9.4 7 10.6 6 10.8 5.6 11.8 5.2 12.9 4.4 13.2 7.3 28.9 5.9 35M399.9 651.2l10.9 5.8 10.4 6.8 9.8 7.8 9.2 8.8 8.8 10 8.1 10.8 7.4 11.4 6.8 12.5M288.9 657.8l13.9-7.4 14-5.3 14.4-3.4 14.8-1.6 14.7 0.4 14.6 2.3 14.3 4.1 14.3 6.2M478.1 734.4l-1.8-34.8-0.6-23.9 0.4-21.5 1.5-19M313.8 635.2l5.8 11.7 5.1 12.4 4.5 13.7 3.7 14.2 3.2 15.9 2.6 16.8 3.9 40.8M434.2 627l12.3-7.4M364.5 775.3l4.3-27.6 5.5-24 6.8-21.5 8.4-20 10-17.9 11.4-15.6 12.7-13.2 14.1-10.8M458.3 761.1l-0.4-50.8 1.4-33 1.6-15.4 2.2-14.3 2.8-13.2 3.5-12M303 622.9l11.1 1.6 10.8 2.7 10.6 3.9 10.7 5.2 10.1 6.4 9.7 7.5 9 8.5 8.3 9.4 7.7 10.1 7.3 11.4 6.5 12.1 5.7 12.6 5.2 13.5 4.8 15 4.1 15.7 3.6 16.9M336.4 699.7l6.1-9.4 6.7-9 7.1-8.4 7.3-7.4 8.2-7.1 8.1-6.1 8.5-5.4 8.9-4.6 9.1-3.9 9.4-3 9.5-2.2 9.7-1.3 9.8-0.4 9.7 0.4 9.2 1.3 9.7 2.1M310.9 761l5.7-18.3 6.4-16.8 7.5-15.7 8.3-14.4M314 605.1l0.9 13.1 0.2 14.2-0.6 15.4-1.4 16.4-5 35.5-9.6 50.6M339.8 601.5l8.8 5.2 8.5 6 7.9 6.7 8 7.9 7.3 8.7 6.8 9.3 6.2 9.9 5.6 10.4 4.9 10.9 4.6 12 7.1 24.8 4.9 27.7 2.6 29.9M324.4 776.1l1.2-17.8 2.1-17.2 2.9-16.5 3.7-15.6 4.5-14.5 5.5-14.1 6.4-13.5 7-12.2 8-11.4 8.8-10.6 9.6-9.5 10.3-8.4 11.1-7.2 11-5.6 11.6-4.4 11.9-3.2M387.5 775.9l-0.9-29.5 0.7-25.5 2.2-23.9 3.8-21.9 5.4-20.4 7.1-18.5 8.9-17 10.2-14.7M450 741.4l-5.3-37.7-2.7-30.5-0.5-27.6 1.7-24.4M393.4 785.5l-1.4-34.1 0.4-28.2 2.2-26 4-23.9 5.9-22.2 7.9-20.1 9.8-17.6 11.3-15M449.5 736.6l-4.8-34.1-2.5-28.3-0.7-25.6 1.3-23.2M332 597.9l9.7 4.7 9.8 6.1 9.3 7 8.8 7.9 8.1 8.8 7.4 9.6 6.8 10.2 6.4 11.5 5.7 12.1 4.8 12.6 4.1 13 3.6 13.9 2.9 14.9 2.1 15 2.5 32.6M283.3 685.3l7-12 7.4-10.6 8.6-10.6 9-9.1 9.5-8.4 10.2-7.3 10.7-6.4 11.2-5.3 11.6-4.2 11.8-3.1 12.1-1.9 11.5-0.6 12.2 0.5 11.5 1.6 12 2.8 11.7 4M324 751.7l3.8-26 6-24.2 8.1-22.5 4.9-10.5 5.4-10 6-9.5 6.2-8.4 7.1-8.5 7.2-7.3 7.6-6.7 8-6.1 8.4-5.3 8.7-4.7M332.9 705.9l7.4-21.1 9.3-19.3 11.2-17.7 12.8-15.3M454.3 744.1l-6.2-41.3-3.3-32.6-0.8-28.2 1.8-25.6M358.2 675l3.2 27M330.2 595.2l10.5 4.8 10 5.9 9.5 6.9 9.4 8.2 8.2 8.8 8 10 7.2 10.9 6.4 11.6 5.6 12.1 5.1 13.4 4.3 13.7 3.4 14.1 2.7 15 2.1 15.8 1.4 17.2 0.7 17.8"/>
<path stroke="#000" d="M565.4 583.8l0.6 0.2M276.9 509.1l-3.9 6.5M404 883l1.4-2.8M232.2 542l1.3 0.6M301.5 874.9l2.4 4.1M498.8 527.4l0-0.5M213.4 583.8l4.8-0.9M370.3 892.8l2 3M586 660.6l-1.9-3.8M535.8 826l0.4 2.7M293.4 863.4l0.7-2.9M574.8 737.2l1.3 3.6M509 543.2l-6.4-8.8M365.2 880.3l0.6 1.4M177.7 655.8l3.8-3.9M279.2 866.8l0.2-0.9M433.8 888l1.5-2.4M184.9 741l-1 6.1M244.4 524l0.6 0.6M264.7 857.8l1.7 3.9M356.8 890.8l0.5-0.8M583.9 634.7l2.4 2M439 885.7l1.7-2.9M273.3 511.2l-0.5 2.9M492.3 516.4l-0.2-1M224.4 550.4l1.9 0.4M320.1 881.2l2.2 3.9M223.8 818.7l7.6-35.9 4.1-15.2 4.7-14.1 5.1-13.3 5.7-12.4 6.5-12 7-11 8-10.9 8.4-9.8 9.1-8.9 9.3-7.7 9.8-6.8 10.3-5.8 10.7-4.8 11.1-3.8M509.2 524.6l1.1-2.8M244.1 531.6l0.6 0.7M379.6 889.4l0.8 1.3M591.5 653.7l-3.4-6.3M486.1 502.7l-0.7-0.9M481.5 863.2l0.6 1.8M189.6 758.7l0.5-1.7M243.5 832.2l0.5-3.2M186 616.7l-4.1 5.9M379.6 881.1l1.3-3.3M562.4 604.1l4.2 2.1M427.1 887.5l0.9 1.7M191.1 650.6l2.2-2.2M504.5 844.5l0.1 0.5M322.4 878l0.7-2.3M578.6 683.2l2.5 3.8M202.9 783.6l0.1 4.7M457.6 881.3l0.9-1.5M533.7 542l3.1-1.1M494.3 517.7l-2.5-4M583.5 653.1l1.2 1.4M347.8 880.1l0.5-1.4M524.3 558.6l0.8-0.4M213.5 562.9l1.6 0M571.6 684l-1.7-4.5M487.4 503l-0.3-1M190.4 682.6l1.8-2.6M448.1 878.6l0.5 1.3M573.3 737.4l1.9 5.3M292.8 854.4l0.4-2M263.9 521.7l0.8 3.6M221.4 796.8l0.1 0.7M521.3 529.7l1-0.8M271.9 523.1l3.2 2.3M582 746l-1.7-5.9M454.6 491.9l-0.5-2.2M174.2 655.3l1.8-2.6M424.8 887.9l0.3 2.2M198.6 787.9l0.1-3.1M495.1 848l-0.2 2.6M259.4 852.8l-0.2-2.6M557 791l0.1 2.3M313.1 489.7l-31.3 11.3M588.8 679l1.8 3.6M336.8 481l-3.8 3.1M185.2 608.4l-1.7 1.8M387.8 892.6l0.3-1.7M530.3 566.7l3.9 0.9M181.3 707l-1.5 3.5M457 877.2l0.3-1.2M525.9 839.2l0.5-5.5M335.6 480.8l-3.7 3.2M552.5 570.9l4 1.5M318.4 486.7l-1.4 3.3M176.4 720.6l-1.3 3.6M511.5 524.6l1.7-0.5M296.4 508.1l0.2 1.1M221.2 808.5l-0.1 4.2M526.2 811.3l-0.2-4.2M479.1 505l0.5-0.9M259 517.8l2 1M355.3 871.5l0.1 0.6M580.3 626.4l-2.5-3.1M425.5 887.3l0.2 1.6M409 476.4l-2.1-0.8M199.9 749.7l0.7-3.8M492.2 839.1l-0.2 3.3M316.3 490.1l-12.3 4.1M590.4 685.1l2 4.5M258 843.6l0-0.6M554.1 797.2l0 0.7M322.2 874.8l0.1-2.3M336.7 480.7l-2.2 1.8M193.5 598.4l-2.8 2.9M490.4 532.5l1.9-1.2M293.5 499.5l0.4 1.5M220.5 818l0.1 2.2M472.8 515.3l0.8-2M265.9 518.9l2.3 1.5M285.4 849.9l0.2 2M573.3 727.2l-0.8-2.1M217.4 561.7l3.3-0.8M360 879.3l0.4 2.3M567.7 607.9l-7.2-7.5M190 635.4l3.6-3.9M424.7 887.4l0.2 1.6M195.6 770.8l0.6-5.3"/>
</g>
<defs><clipPath id="c2"><rect x="736" y="583" width="630" height="315"/></clipPath></defs><g fill="none" stroke-width="2.3" stroke-linecap="round" stroke-linejoin="round" clip-path="url(#c2)">
<path stroke="#ff0000" d="M850.4 848.3l8.8-3.7M1133.5 611.6l7.6 4.9M1182.2 649.6l7.7 6M1333 746.5l1.3 0.4M1019.7 623.4l1.1-0.2M1157.3 719.8l1.1 0.6M1266.5 790.2l5.2 3.4M979.2 633.7l5.3-2.1M1120.3 734.1l11.6 3.6M1269.1 826.3l40.9 33 17.5 11.9M1010.3 783.2l2.9-1.1M770.3 717.2l5.3-0.9M944 811.6l9-5.5M1071.3 635.3l3.1-1.4M1220.5 735.9l0.9 0.3M1361.4 824.2l4.6 3.4M1027.2 653.5l3.2-1.8M1197.8 750l5.2 0.9M877.1 714.6l9.6-1.8M1060.4 805.6l12.7-7.3M785.7 753.5l8.3 3.6M925.7 855.6l10.5-2.9M1213.1 612.7l3.7 1.8M1284 668.7l9.6 6.8M754.2 778.7l12 7.3M864 863.8l3.7 0.8M1147 618.4l11.2 0.4M1266 703.9l11.6 6.6M988.2 713l2.4-0.4M1172.4 802.6l8.5-4.5M933.3 734.5l6.4 1.2M1096.7 836.3l8.8-4.7M762.5 670.9l12.2 8.6M891.5 755l7.9 3.5M1029.6 856.2l8.1-2M1313.7 611.5l7.5 3.4M846.5 799.1l17.7 12.5M928.5 864.4l9.6 4.6M1216.2 626l9.8-2.1M1350.2 720.7l9.9 4.4M1227.1 780.1l5.5-1.8M855.2 708.9l8.3 4.7M1078.1 863.9l3.1 0.5M1359.9 619.6l3.5 0.1M803.6 737.3l9.4 2.6M952.1 828.4l40.7 32 17.3 11.6M1280 640l12.1-5.4M740.4 766.2l0.6-0.1M1178.1 679.6l1.7-0.9M1125.8 702.1l0.2 0M1317 786.3l5.2-2.2M836.4 607.3l15.3 10.8 33.7 26.8M1190.3 841.6l2.2-1.1M879.9 751.2l2.9 0.3M820.9 774.2l2.8-0.8M1257.9 689.4l6.2-3M1173.7 725.4l7.5-0.3M1339.3 825.3l8.5-5.5M1089.1 759.3l2.4 1.2M1229.7 857.5l1.8-0.3M763.3 635.5l10.3-4M907.7 733.6l2.9 0.8M1052.8 822.8l14.6 11.2 29.1 23.7 15.3 10.7M792.2 832.6l9-5.4M1079 618l9.6 7.5M1259.9 731.8l3.3 0.3M1088.4 676.7l4.2 2.9M1205.4 752.9l3.5 1.6M888.2 630l9.7-2.9M1030 726.6l3.5 1.4M1229.9 863.8l7.7 4.4 7.6 3.5M967.4 757l2.9 0M970.9 614.7l7 2M1065.2 688.2l6.1 4M1186 766.6l13.8 7.5M1308.7 861.6l11.4-0.2M1203 716.8l4 1.7M1326.2 805.7l1.7 1.3M782.6 878.7l3.5 1.3M1035.5 627.5l2.4-1.4M1172.4 733.9l5 1.2M1313.7 833.5l5.3 4.4M1366 881l0 0M736 880.2l0 0M974.4 653.8l10.8-8.3M1131.1 751.4l5.9-0.5M912.5 686.7l3.7-2.7M861.6 708.4l3.5-1.7M1037.4 794.4l3.3-2.4M816.7 726.5l0.9-0.1M981.9 821.7l1.1-0.9M1211.6 595l1.5 1.1M1261.2 639.3l4.6 3.8M779.5 742l6.8 0.8M915.8 853.5l0.7-0.4M1177.4 602.6l2 1.2M1239.1 661l7.7 6.1M745.6 759.4l8.1 3.1M864.4 866.8l5.9-1.7M1128.4 605.3l7 1.4M1220.8 689.2l4.8 3.1M1345.4 779.2l10.1 6M793.3 595.2l7.7 5.8M837.3 634.5l10.7 9.1M988.2 742.9l3.3 0.5M1128.9 851.3l3.7-2.4M751.5 599.1l6.4 3.2 6.3 4M816.7 658.1l15.3 12.2M958.2 760.5l6.6 2.6M1073.1 867.2l10.3-3.2M1340.6 605.6l5.9 1.4M804.5 691l5.4 3.5M1030.2 872.9l5.7 0.3M1290.5 614.5l6.4-1.4M896.1 834.6l5.7 4.9M945.8 879.8l3.7 2.7M1184.7 654.2l6.5-5.2M1343.9 751.4l3.3-0.3M894.8 878l15.5 13.6M1067.8 709l6.8-3.3M1245.5 794.2l8.3-5.8M840.8 595.1l4.6 4.2M1028 726.3l7.9-1.6M1180.5 831.5l14.7-12.2M875.1 771.5l6.1-2.7M1282 707.1l4.4-2.3M825.5 796.7l8.7-6.3M1042.9 588.3l12.3 10.7M1241.8 725l3.2-0.7M757.7 833l6.3-5.2M1000.9 594.5l14.4 11.6 25.4 23.8 11.6 10.2M1199.8 742.9l6.1 0.7M1329.2 855.7l11.9-7.3M958.7 598.7l9.6 4.7M1032.6 664.3l6.8 5.3M1169.3 762.2l1.8 0.7M918.9 605.4l4.1 0.6M1016.9 692.1l6.5 4.1M1141.8 781.9l0.9 0.5M874.9 613.3l7.4-1.4M986.2 712.4l3.3 1.5M1123 809l6.8 5.3M1191.7 875.2l11.5 5.4M820.9 628.8l0.4-0.3M1154.5 882.9l1.5 1.1M923.9 751.1l1.8-0.2M1334.7 682.2l0.5-0.4"/>
<path stroke="#ff3500" d="M848.2 849.2l2.2-0.9M1141.1 616.5l5.3 3.8M1176.6 645l5.6 4.6M1334.3 746.9l1.9 0.6M738.6 866.5l1.8 0.6M1020.8 623.2l3.1-0.4M1154 718.2l3.3 1.6M1271.7 793.6l4 2.6M984.5 631.6l2.2-0.8M1118.4 733.5l1.9 0.6M1008.1 784.1l2.2-0.9M775.6 716.3l7.4-1.7M934 818.3l10-6.7M755.5 841.7l1.1 0.9M777.1 859.6l2.4 1.8M1074.4 633.9l2.2-0.9M1218.6 735.4l1.9 0.5M1030.4 651.7l3.5-1.9M1194.9 749.6l2.9 0.4M886.7 712.8l2-0.5M1058 807.1l2.4-1.5M794 757.1l3.9 1.7M921.9 856.4l3.8-0.8M1216.8 614.5l5.7 3.3M1277.6 663.8l6.4 4.9M766.2 786l6.6 4.3M858.3 862.2l5.7 1.6M1158.2 618.8l5.2 0.8M1259.9 700.3l6.1 3.6M990.6 712.6l7.9-1.7M1162.8 808.2l9.6-5.6M939.7 735.7l2.6 0.5M1093.2 838.1l3.5-1.8M759.2 668.5l3.3 2.4M899.4 758.5l2.2 0.9M1027.4 856.6l2.2-0.4M1321.2 614.9l2.8 1.5M864.2 811.6l3.5 2.7M925.4 862.7l3.1 1.7M1226 623.9l2-0.2M1348.1 719.7l2.1 1M1221.8 782l5.3-1.9M736 619.8l1.3 0M852.6 707.4l2.6 1.5M1075.9 863.5l2.2 0.4M1363.4 619.7l2.2 0.1M801.6 736.8l2 0.5M1292.1 634.6l2.1-0.9M738.4 766.4l2-0.2M1179.8 678.7l2.4-1.3M1126 702.1l3.8-1.5M1313.1 788.2l3.9-1.9M1038.5 740.2l7 1.4M1180.9 846.2l9.4-4.6M878 751.1l1.9 0.1M818.7 774.8l2.2-0.6M1264.1 686.4l2.4-1.3M1181.2 725.1l7.2-0.7M1329 832l10.3-6.7M975.3 685.5l2.2 1.4M1091.5 760.5l2.4 1.2M1227.5 857.9l2.2-0.4M773.6 631.5l2.2-0.8M905.8 733l1.9 0.6M789.6 834.2l2.6-1.6M1263.2 732.1l1.7 0.1M1085.3 674.6l3.1 2.1M1208.9 754.5l2.4 1.1M897.9 627.1l5.2-1.2M1024.8 724.5l5.2 2.1M1177.2 820.8l11.2 9.2M1219 856.2l10.9 7.6M965.7 757.1l1.7-0.1M853.9 806.2l0.4-0.3M977.9 616.7l2.2 0.7M1062.6 686.4l2.6 1.8M1199.8 774.1l2.1 1.2M1306.7 861.5l2 0.1M823.5 874.5l1.5 0.1M1201.3 716l1.7 0.8M1327.9 807l2.2 1.6M778.9 877l3.7 1.7M1037.9 626.1l3.9-2.1M1169.3 733.2l3.1 0.7M1319 837.9l6.8 6.1M1359.7 876l6.3 5M985.2 645.5l2.6-2.1M1129.3 751.6l1.8-0.2M916.2 684l6.2-4.8M1086.7 772.3l2.8-1.3M865.1 706.7l4.6-2.4M1031.8 798.7l5.6-4.3M817.6 726.4l1.7-0.3M979.2 823.8l2.7-2.1M1213.1 596.1l3.3 2.4M1257.7 636.3l3.5 3M786.3 742.8l1.5 0.2M913.6 854.9l2.2-1.4M1179.4 603.8l2.4 1.5M1236.5 658.8l2.6 2.2M753.7 762.5l1.8 0.7M862.7 867.3l1.7-0.5M1135.4 606.7l1.8 0.5M1218.8 687.9l2 1.3M1355.5 785.2l2 1.2M801 601l4.3 3.7M832.7 630.3l4.6 4.2M991.5 743.4l1.7 0.3M1126.7 852.6l2.2-1.3M764.2 606.3l2.6 2M814.1 655.7l2.6 2.4M964.8 763.1l1.8 0.6M1071.3 867.6l1.8-0.4M1346.5 607l1.8 0.6M796.4 685.4l8.1 5.6M934.8 784.1l6.6 4.2M1023.2 871.6l7 1.3M1296.9 613.1l7-0.8M901.8 839.5l3.7 3.3M942.3 877l3.5 2.8M1191.2 649l2.6-2M1342.4 751.5l1.5-0.1M1074.6 705.7l2-1M1243.3 795.8l2.2-1.6M1035.9 724.7l1.8-0.5M1177.9 833.7l2.6-2.2M872.1 773.1l3-1.6M1286.4 704.8l3.3-1.9M822.4 799.1l3.1-2.4M1245 724.3l2.2-0.5M753.1 836.9l4.6-3.9M1205.9 743.6l2.8 0.2M1325.5 857.9l3.7-2.2M968.3 603.4l2.2 1.3M1030 662.2l2.6 2.1M1171.1 762.9l1.7 0.7M1283.5 867.1l0.3 0M923 606l1.8 0.3M1014.9 690.8l2 1.3M1142.7 782.4l1.7 1.1M1240.9 873.3l0.6 0.1M882.3 611.9l3.3-0.4M983.2 711l3 1.4M1129.8 814.3l4.3 3.8M1187.5 872.5l4.2 2.7M821.3 628.5l3.9-2.3M1108.8 841.5l2.4 2.2M1148.6 878.4l5.9 4.5M922.2 751.2l1.7-0.1M1335.2 681.8l2.4-1.8"/>
<path stroke="#ff6a00" d="M846 850l2.2-0.8M1146.4 620.3l8.1 6.3M1168 637.9l8.6 7.1M1336.2 747.5l2.2 0.7M736 865.5l2.6 1M1023.9 622.8l2.8-0.3M1150.5 716.4l3.5 1.8M1275.7 796.2l4.1 2.9M1363.4 865.2l2.4 0.9M986.7 630.8l2.2-0.8M1116.4 733l2 0.5M1005.9 785l2.2-0.9M783 714.6l7.2-2.2M923.9 825.3l10.1-7M756.6 842.6l20.5 17M1076.6 633l2.2-0.9M1216.6 734.9l2 0.5M1033.9 649.8l3.5-1.9M1192.3 749.3l2.6 0.3M888.7 712.3l2-0.5M1055.6 808.6l2.4-1.5M797.9 758.8l3.7 1.6M918.2 857l3.7-0.6M1222.5 617.8l6.6 4.4M1270.4 658l7.2 5.8M772.8 790.3l6.5 4.6M852.6 860l5.7 2.2M1163.4 619.6l5.3 1.3M1254 696.6l5.9 3.7M998.5 710.9l7.4-2.2M1152.9 814.4l9.9-6.2M942.3 736.2l2.6 0.4M1089.9 839.8l3.3-1.7M755.7 665.8l3.5 2.7M901.6 759.4l2.2 1M1025.4 857l2-0.4M1324 616.4l3.1 1.8M867.7 814.3l3.5 2.8M922.2 860.6l3.2 2.1M1228 623.7l1.9-0.3M1345.9 718.7l2.2 1M1216.6 784.2l5.2-2.2M737.3 619.8l2 0.2M850 705.9l2.6 1.5M1073.8 863l2.1 0.5M1365.6 619.8l0.4 0.1M799.7 736.3l1.9 0.5M1294.2 633.7l2.2-0.8M736.4 766.7l2-0.3M1182.2 677.4l2.5-1.4M1364.7 766.8l1.3-0.3M1129.8 700.6l3.7-1.5M1309.1 790.1l4-1.9M1045.5 741.6l7.3 1.2M1172.2 850.1l8.7-3.9M876 750.9l2 0.2M816.7 775.4l2-0.6M1266.5 685.1l2.2-1.2M1188.4 724.4l6.8-1.1M1319.2 838.5l9.8-6.5M972.2 683.4l3.1 2.1M1093.9 761.7l2.6 1.3M1225.6 858.1l1.9-0.2M775.8 630.7l2.2-0.7M903.8 732.4l2 0.6M787 835.8l2.6-1.6M1264.9 732.2l2 0.1M1082.1 672.3l3.2 2.3M1211.3 755.6l2.2 0.9M903.1 625.9l5.3-0.8M1019.7 722.5l5.1 2M1188.4 830l30.6 26.2M796.6 660.3l0.2-0.1M963.7 757.1l2 0M851.3 807.8l2.6-1.6M980.1 617.4l2.4 1M1060 684.6l2.6 1.8M1201.9 775.3l2.4 1.4M1304.5 861.2l2.2 0.3M821.8 874.4l1.7 0.1M1199.5 715.3l1.8 0.7M1330.1 808.6l2.4 1.8M774.9 874.9l4 2.1M1041.8 624l3.5-1.9M1166.5 732.7l2.8 0.5M1325.8 844l10.7 10.2M1349.2 866.6l10.5 9.4M987.8 643.4l2.4-1.9M1127.8 751.8l1.5-0.2M922.4 679.2l5.9-4.8M1082.1 774.8l4.6-2.5M869.7 704.3l4.5-2.8M1025.8 803.5l6-4.8M819.3 726.1l1.6-0.2M976.6 826l2.6-2.2M1216.4 598.5l3.9 3.2M1253.8 632.8l3.9 3.5M787.8 743l1.6 0.1M911.7 856.1l1.9-1.2M1181.8 605.3l2.6 1.9M1233.7 656.3l2.8 2.5M755.5 763.2l1.5 0.6M860.9 867.6l1.8-0.3M1137.2 607.2l1.7 0.6M1216.6 686.3l2.2 1.6M1357.5 786.4l1.7 1.1M805.3 604.7l6.6 5.9M825.9 623.9l6.8 6.4M993.2 743.7l1.6 0.2M1124.5 854l2.2-1.4M766.8 608.3l2.9 2.2M811 652.9l3.1 2.8M966.6 763.7l1.5 0.6M1069.6 867.9l1.7-0.3M1348.3 607.6l1.7 0.6M788.3 679l8.1 6.4M941.4 788.3l7.7 5.5M1015.8 868.9l7.4 2.7M1303.9 612.3l6.8 0M905.5 842.8l4.6 4.2M937.9 873.4l4.4 3.6M1193.8 647l2.7-2.1M1340.6 751.7l1.8-0.2M1130.6 677.9l2.2-1.8M1292.9 772l0.7-0.3M1076.6 704.7l1.7-1M1240.9 797.7l2.4-1.9M1037.7 724.2l1.5-0.4M1175.2 836l2.7-2.3M868.8 774.9l3.3-1.8M1289.7 702.9l3.5-2.2M819.1 801.8l3.3-2.7M1247.2 723.8l2.2-0.6M748.2 840.9l4.9-4M1208.7 743.8l2.6 0.2M1322 859.8l3.5-1.9M970.5 604.7l2.4 1.6M1027.4 659.9l2.6 2.3M1172.8 763.6l1.8 0.7M1281.8 867.5l1.7-0.4M924.8 606.3l1.7 0.5M1012.7 689.4l2.2 1.4M1144.4 783.5l2 1.2M1239.1 873.1l1.8 0.2M885.6 611.5l3.1-0.1M980.1 709.5l3.1 1.5M1134.1 818.1l5.1 4.6M1182.9 869l4.6 3.5M825.2 626.2l3.8-2M954.5 734.3l2.9 0.5M1111.2 843.7l8.9 8.3M1139.6 870.7l9 7.7M771.2 647.8l1.8-1.4M920.6 751.4l1.6-0.2M1337.6 680l2.4-1.9"/>
<path stroke="#ff9f00" d="M843.8 850.8l2.2-0.8M1154.5 626.6l13.5 11.3M1338.4 748.2l2 0.6M1026.7 622.5l2.9-0.1M1147.5 714.9l3 1.5M1279.8 799.1l4.2 2.9M1359.9 863.7l3.5 1.5M988.9 630l1.9-0.6M1114.4 732.4l2 0.6M819.8 698.5l2-0.8M1003.8 786l2.1-1M790.2 712.4l7.3-2.8M913.8 832.7l10.1-7.4M1078.8 632.1l2.2-0.9M1214.6 734.3l2 0.6M1037.4 647.9l3.3-1.7M1189.7 749l2.6 0.3M890.7 711.8l1.7-0.5M1053 810.3l2.6-1.7M801.6 760.4l3.7 1.6M914.5 857.5l3.7-0.5M1229.1 622.2l9.6 7.6M1260.3 649.2l10.1 8.8M779.3 794.9l7 5.3M846.2 856.7l6.4 3.3M1168.7 620.9l5.7 2.1M1247.9 692.4l6.1 4.2M1005.9 708.7l7.5-2.7M1143.3 820.9l9.6-6.5M944.9 736.6l2.6 0.3M1086.7 841.4l3.2-1.6M752.2 663l3.5 2.8M903.8 760.4l2 0.9M1023.4 857.2l2-0.2M1327.1 618.2l3.2 2.1M871.2 817.1l3.9 3.2M918.4 858.1l3.8 2.5M1229.9 623.4l2.2-0.2M1343.9 717.8l2 0.9M1211.3 786.7l5.3-2.5M739.3 620l2.2 0.3M847.3 704.3l2.7 1.6M976.2 786.4l2.6 1.7M1071.3 862.3l2.5 0.7M797.7 735.8l2 0.5M1296.4 632.9l2.2-0.8M736 766.8l0.4-0.1M1184.7 676l2.6-1.5M1362.7 767.1l2-0.3M1133.5 699.1l3.7-1.7M1305 792.4l4.1-2.3M1052.8 742.8l6.7 1.1M1163.9 853.3l8.3-3.2M874.2 750.8l1.8 0.1M1341.5 652.1l2.6-1.6M814.8 776l1.9-0.6M1268.7 683.9l2.4-1.3M1195.2 723.3l6.7-1.5M1309.8 844.8l9.4-6.3M884.5 615l1.8 0.6M969.2 681.3l3 2.1M1096.5 763l2.2 1.1M1223.4 858.3l2.2-0.2M778 630l2.2-0.7M901.8 731.8l2 0.6M784.6 837.2l2.4-1.4M1266.9 732.3l1.8 0.1M1078.8 669.9l3.3 2.4M1213.5 756.5l2.4 1.1M908.4 625.1l5-0.5M1014.9 720.5l4.8 2M796.8 660.2l2.6-1.6M961.8 757.2l1.9-0.1M848.9 809.2l2.4-1.4M1303.4 716l0.3 0M982.5 618.4l2.4 1.1M1057.1 682.5l2.9 2.1M1204.3 776.7l2.2 1.3M1302.6 860.9l1.9 0.3M820 874.2l1.8 0.2M1086.2 612.5l1.1-0.2M1197.8 714.5l1.7 0.8M1332.5 810.4l2.2 1.7M770.8 872.2l4.1 2.7M1045.3 622.1l3.5-1.7M1163.7 732.2l2.8 0.5M1336.5 854.2l12.7 12.4M990.2 641.5l2.6-2M1126.2 752.1l1.6-0.3M928.3 674.4l6.1-5.4M1077.7 777.4l4.4-2.6M874.2 701.5l4.9-3.2M1019.9 808.6l5.9-5.1M820.9 725.9l1.7-0.4M973.8 828.3l2.8-2.3M1220.3 601.7l4.8 4.1M1248.8 628.1l5 4.7M789.4 743.1l1.5 0.1M909.5 857.4l2.2-1.3M1184.4 607.2l2.9 2.2M1230.8 653.7l2.9 2.6M757 763.8l1.8 0.7M859.2 868l1.7-0.4M1138.9 607.8l2 0.7M1214.6 684.9l2 1.4M1359.2 787.5l2 1.3M811.9 610.6l14 13.3M994.8 743.9l1.7 0.2M1122.3 855.3l2.2-1.3M769.7 610.5l3.3 2.8M807.5 649.5l3.5 3.4M968.1 764.3l1.7 0.7M1067.8 868.2l1.8-0.3M1350 608.2l2 0.8M736 617.8l2.2 1.9M778.9 670l9.4 9M949.1 793.8l8.1 6.9M1008.1 864.3l7.7 4.6M1310.7 612.3l6.5 1.1M748.5 733.2l0.8 0.2M910.1 847l6.6 6.3M931.8 867.8l6.1 5.6M1196.5 644.9l2.6-2M1339.1 751.9l1.5-0.2M1132.8 676.1l4.6-3.9M1289.9 773.6l3-1.6M1078.3 703.7l2-1.2M1238.7 799.4l2.2-1.7M1039.2 723.8l1.5-0.5M1172.6 838.2l2.6-2.2M865.5 776.8l3.3-1.9M1293.2 700.7l3.2-2.2M815.8 804.6l3.3-2.8M1249.4 723.2l2.2-0.7M743.9 844.7l4.3-3.8M1211.3 744l2.9 0.2M1318.5 861.7l3.5-1.9M972.9 606.3l2.6 1.9M1024.8 657.6l2.6 2.3M1174.6 764.3l1.5 0.6M1280 867.9l1.8-0.4M926.5 606.8l1.8 0.5M1010.8 688.1l1.9 1.3M1146.4 784.7l1.9 1.2M1237.4 872.8l1.7 0.3M888.7 611.4l3.1 0M977.3 708.1l2.8 1.4M1139.2 822.7l5.9 5.9M1177.2 864.1l5.7 4.9M829 624.2l3.7-2M951.7 733.8l2.8 0.5M1120.1 852l19.5 18.7M773 646.4l2.6-2.1M919.1 751.6l1.5-0.2M1340 678.1l2.4-1.9"/>
<path stroke="#ffd400" d="M841.7 851.5l2.1-0.7M1340.4 748.8l1.8 0.5M1029.6 622.4l2.8-0.1M1144.2 713.2l3.3 1.7M1284 802l4.3 3.2M1356.2 861.9l3.7 1.8M990.8 629.4l2.2-0.7M1112.7 732l1.7 0.4M821.8 697.7l2.1-1M1001.6 787l2.2-1M797.5 709.6l7-3.3M904.2 840.2l9.6-7.5M1081 631.2l2.2-0.9M1212.7 733.8l1.9 0.5M1040.7 646.2l3.5-1.8M1187.1 748.7l2.6 0.3M892.4 711.3l2-0.6M1050.6 811.8l2.4-1.5M805.3 762l3.5 1.5M910.8 857.7l3.7-0.2M1238.7 629.8l21.6 19.4M786.3 800.2l7.7 6.6M839 851.9l7.2 4.8M1174.4 623l5.9 3M1241.5 687.6l6.4 4.8M1013.4 706l7.4-3.4M1133.7 827.9l9.6-7M947.5 736.9l2.7 0.4M1083.4 843l3.3-1.6M748 659.6l4.2 3.4M905.8 761.3l2.1 0.9M1021.2 857.5l2.2-0.3M1330.3 620.3l3.8 2.5M875.1 820.3l4.6 4M914.3 855l4.1 3.1M1232.1 623.2l2-0.1M1341.7 716.8l2.2 1M1206.1 789.4l5.2-2.7M741.5 620.3l2.2 0.3M844.9 702.9l2.4 1.4M978.8 788.1l2.9 1.9M1069.2 861.6l2.1 0.7M795.9 735.4l1.8 0.4M1298.6 632.1l2.2-0.8M1187.3 674.5l2.4-1.5M1360.8 767.5l1.9-0.4M1137.2 697.4l3.9-1.9M1301 794.6l4-2.2M1059.5 743.9l6.6 1M1156 855.7l7.9-2.4M872.3 750.7l1.9 0.1M1344.1 650.5l2.7-1.6M812.8 776.7l2-0.7M1271.1 682.6l2.4-1.4M1201.9 721.8l6.6-1.9M1300.8 850.7l9-5.9M886.3 615.6l2.6 1.2M966.3 679.3l2.9 2M1098.7 764.1l2.4 1.2M1221.4 858.5l2-0.2M780.2 629.3l2-0.6M900.1 731.3l1.7 0.5M782.2 838.6l2.4-1.4M1268.7 732.4l1.7 0M1011.4 615.6l2 1.1M1075.5 667.4l3.3 2.5M1215.9 757.6l2.2 0.9M1345.2 856l1.3-0.2M913.4 624.6l4.8-0.1M1010.1 718.4l4.8 2.1M799.4 658.6l2.7-1.7M960 757.3l1.8-0.1M846.2 810.9l2.7-1.7M1303.7 716l1.9-0.4M984.9 619.5l2.7 1.3M1054.3 680.4l2.8 2.1M1206.5 778l2.4 1.4M1300.4 860.5l2.2 0.4M818.2 873.9l1.8 0.3M1087.3 612.3l1.8-0.3M1196 713.7l1.8 0.8M1334.7 812.1l2.4 1.9M766.2 868.9l4.6 3.3M1048.8 620.4l3.5-1.6M1160.8 731.7l2.9 0.5M992.8 639.5l2.4-1.9M1124.5 752.4l1.7-0.3M934.4 669l6.6-6.1M1073.1 780.4l4.6-3M879.1 698.3l4.6-3.4M1013.8 814.3l6.1-5.7M822.6 725.5l1.6-0.3M971.2 830.5l2.6-2.2M1225.1 605.8l9.4 8.7M1239.1 618.9l9.7 9.2M790.9 743.2l1.5 0.1M907.5 858.5l2-1.1M1187.3 609.4l3 2.5M1227.5 650.6l3.3 3.1M758.8 764.5l1.5 0.6M857.6 868.2l1.6-0.2M1140.9 608.5l1.8 0.8M1212.7 683.4l1.9 1.5M1361.2 788.8l1.7 1.2M996.5 744.1l1.6 0.2M1120.3 856.4l2-1.1M773 613.3l3.7 3.5M803.6 645.5l3.9 4M969.8 765l1.6 0.6M1066.3 868.4l1.5-0.2M1352 609l2 0.9M738.2 619.7l6.8 6.8 7.2 8.9M764.7 652.6l7.4 9.7 6.8 7.7M957.2 800.7l9.4 10.3M998.9 856.1l9.2 8.2M1317.2 613.4l6.8 2.6M746.9 732.9l1.6 0.3M916.7 853.3l15.1 14.5M1199.1 642.9l2.4-1.9M1337.6 752.1l1.5-0.2M1137.4 672.2l4.6-4M1286.6 775.5l3.3-1.9M1080.3 702.5l1.8-1.1M1236.3 801.4l2.4-2M1040.7 723.3l1.5-0.5M1170.2 840.3l2.4-2.1M862.2 779l3.3-2.2M1296.4 698.5l3.5-2.6M812.6 807.5l3.2-2.9M1251.6 722.5l2.2-0.7M739.5 848.4l4.4-3.7M1214.2 744.2l2.6 0.1M1315.2 863.4l3.3-1.7M975.5 608.2l2.9 2.2M1021.7 654.8l3.1 2.8M1176.1 764.9l1.8 0.7M1278.3 868.2l1.7-0.3M928.3 607.3l1.9 0.6M1008.8 686.7l2 1.4M1148.3 785.9l2 1.2M1235.6 872.5l1.8 0.3M891.8 611.4l2.8 0.3M974.2 706.5l3.1 1.6M1145.1 828.6l8.3 9.2M1169.1 855.8l8.1 8.3M832.7 622.2l3.5-1.8M948.8 733.4l2.9 0.4M775.6 644.3l2.6-2.1M917.3 751.8l1.8-0.2M1342.4 676.2l2.4-2"/>
<path stroke="#f4ff00" d="M839.5 852.2l2.2-0.7M1342.2 749.3l1.9 0.6M1032.4 622.3l2.8 0.1M1141.1 711.6l3.1 1.6M1288.3 805.2l4.6 3.5M1352.2 859.7l4 2.2M993 628.7l2.2-0.7M1110.7 731.4l2 0.6M823.9 696.7l2.2-1M999.4 788.1l2.2-1.1M804.5 706.3l7-4.2M894.8 848l9.4-7.8M1083.2 630.3l2.1-0.8M1210.9 733.4l1.8 0.4M1044.2 644.4l3.3-1.7M1184.4 748.5l2.7 0.2M894.4 710.7l1.9-0.6M1048.2 813.4l2.4-1.6M808.8 763.5l3.5 1.7M907.3 857.8l3.5-0.1M794 806.8l10 9.8M829.2 843.4l9.8 8.5M1180.3 626l6.3 4.1M1234.8 681.8l6.7 5.8M1020.8 702.6l7.2-4M1124.1 835.5l9.6-7.6M950.2 737.3l2.4 0.3M1080.3 844.4l3.1-1.4M743.2 655.5l4.8 4.1M907.9 762.2l2 0.9M1019.3 857.7l1.9-0.2M1334.1 622.8l4.6 3.5M879.7 824.3l5.9 5.2M908.6 850.4l5.7 4.6M1234.1 623.1l2-0.1M1339.8 715.9l1.9 0.9M1201.1 792.3l5-2.9M743.7 620.6l2.1 0.5M842.5 701.5l2.4 1.4M981.7 790l2.6 1.8M1066.8 860.8l2.4 0.8M794.2 734.9l1.7 0.5M1300.8 631.3l2.2-0.7M1189.7 673l2.4-1.4M1358.8 767.9l2-0.4M1141.1 695.5l3.7-2M1297.1 797l3.9-2.4M1066.1 744.9l6.6 1.4M1148.6 857.3l7.4-1.6M870.5 750.7l1.8 0M1346.8 648.9l2.4-1.4M810.8 777.5l2-0.8M1273.5 681.2l2.2-1.2M1208.5 719.9l6.6-2.4M1292.5 856.4l8.3-5.7M888.9 616.8l2.6 1.2M963.3 677.1l3 2.2M1101.1 765.3l2.2 1.1M1219.2 858.6l2.2-0.1M782.2 628.7l2.1-0.5M898.1 730.7l2 0.6M779.8 840l2.4-1.4M1270.4 732.4l1.8 0.1M1013.4 616.7l3.3 1.9M1072 664.7l3.5 2.7M1218.1 758.5l2 0.9M1343.2 856.4l2-0.4M918.2 624.5l4.8 0.3M1005.5 716.2l4.6 2.2M802.1 656.9l2.6-1.7M958 757.5l2-0.2M843.8 812.4l2.4-1.5M1305.6 715.6l2-0.4M987.6 620.8l2.6 1.5M1051.4 678.2l2.9 2.2M1208.9 779.4l2.2 1.4M1298.4 860.1l2 0.4M816.5 873.6l1.7 0.3M1089.1 612l1.7-0.3M1194.3 713l1.7 0.7M1337.1 814l2.4 2M760.7 864.2l5.5 4.7M1052.3 618.8l3.3-1.4M1158 731.2l2.8 0.5M995.2 637.6l2.4-1.8M1123 752.7l1.5-0.3M941 662.9l6.3-6.2M1068.5 783.8l4.6-3.4M883.7 694.9l4.8-4M1007.5 820.6l6.3-6.3M824.2 725.2l1.5-0.4M968.5 832.6l2.7-2.1M1234.5 614.5l4.6 4.4M792.4 743.3l1.6 0.1M905.5 859.7l2-1.2M1190.3 611.9l3.5 3.2M1223.8 646.9l3.7 3.7M760.3 765.1l1.7 0.7M855.9 868.5l1.7-0.3M1142.7 609.3l1.9 0.9M1210.7 681.9l2 1.5M1362.9 790l2 1.4M998.1 744.3l1.5 0.2M1118.4 857.5l1.9-1.1M776.7 616.8l5.5 5.4M798.1 639.7l5.5 5.8M971.4 765.6l1.5 0.7M1064.6 868.7l1.7-0.3M1354 609.9l1.7 0.9M752.2 635.4l12.5 17.2M966.6 811l7.6 10.3 16.2 24.1 8.5 10.7M1324 616l6.8 4.5M745.2 732.6l1.7 0.3M1201.5 641l2.4-1.9M1336 752.4l1.6-0.3M1142 668.2l4.6-4.3M1283.3 777.6l3.3-2.1M1082.1 701.4l1.9-1.2M1233.9 803.4l2.4-2M1042.2 722.8l1.8-0.6M1167.6 842.5l2.6-2.2M858.9 781.3l3.3-2.3M1299.9 695.9l3.5-2.7M809.3 810.5l3.3-3M1253.8 721.8l2.2-0.9M736 851.5l3.5-3.1M1216.8 744.3l2.6 0.1M1312 865l3.2-1.6M978.4 610.4l3 2.6M1018.4 651.6l3.3 3.2M1177.9 765.6l1.5 0.6M1276.5 868.5l1.8-0.3M930.2 607.9l1.8 0.7M1006.8 685.3l2 1.4M1150.3 787.1l1.8 1.2M1233.7 872l1.9 0.5M894.6 611.7l3.1 0.4M971.4 704.9l2.8 1.6M1153.4 837.8l15.7 18M836.2 620.4l3.5-1.6M946 733l2.8 0.4M778.2 642.2l2.4-1.9M915.8 752.1l1.5-0.3M1344.8 674.2l2.4-2"/>
<path stroke="#bfff00" d="M837.5 852.8l2-0.6M1344.1 749.9l2 0.6M1035.2 622.4l2.9 0.2M1138.1 710l3 1.6M1292.9 808.7l4.9 3.9M1347.8 856.9l4.4 2.8M995.2 628l2-0.5M1109 730.9l1.7 0.5M826.1 695.7l2-0.9M997.4 789.1l2-1M811.5 702.1l7-5.3M885.8 856.3l9-8.3M1085.3 629.5l2.2-0.8M1208.9 732.9l2 0.5M1047.5 642.7l3.1-1.6M1181.8 748.3l2.6 0.2M896.3 710.1l1.8-0.6M1045.5 815.2l2.7-1.8M812.3 765.2l3.5 1.7M903.8 857.6l3.5 0.2M804 816.6l25.2 26.8M1186.6 630.1l8.1 6.9M1226.7 673.7l8.1 8.1M1028 698.6l7.5-5.1M1114.7 843.7l9.4-8.2M952.6 737.6l2.6 0.3M1077 845.9l3.3-1.5M737.1 650l6.1 5.5M909.9 763.1l2 0.9M1017.3 857.8l2-0.1M1338.7 626.3l5.9 4.8M1365.3 650l0.7 0.6M885.6 829.5l23 20.9M1236.1 623l1.9 0M1337.8 715l2 0.9M1195.8 795.6l5.3-3.3M745.8 621.1l2.2 0.5M839.9 699.8l2.6 1.7M984.3 791.8l2.8 2M1064.3 859.8l2.5 1M792.2 734.5l2 0.4M1303 630.6l2-0.7M1192.1 671.6l2.6-1.6M1357 768.3l1.8-0.4M1144.8 693.5l3.8-2.1M1292.9 799.7l4.2-2.7M1072.7 746.3l6.3 1.8M1141.6 857.9l7-0.6M868.6 750.7l1.9 0M1349.2 647.5l2.6-1.6M808.8 778.2l2-0.7M1275.7 680l2.4-1.5M1215.1 717.5l6.3-2.9M1284.4 862.1l8.1-5.7M891.5 618l2.9 1.5M960 674.7l3.3 2.4M1103.3 766.4l2.4 1.2M1217.2 858.7l2-0.1M784.3 628.2l2-0.5M896.3 730.2l1.8 0.5M777.3 841.3l2.5-1.3M1272.2 732.5l1.7 0M1016.7 618.6l3.2 2.1M1068.1 661.6l3.9 3.1M1220.1 759.4l2.2 0.9M1341.1 856.7l2.1-0.3M923 624.8l4.8 0.9M1000.9 713.6l4.6 2.6M804.7 655.2l2.4-1.5M956.3 757.7l1.7-0.2M841.2 814l2.6-1.6M1307.6 715.2l1.7-0.4M990.2 622.3l2.6 1.6M1048.4 675.7l3 2.5M1211.1 780.8l2.2 1.4M1296.2 859.5l2.2 0.6M814.8 873.2l1.7 0.4M1090.8 611.7l1.8-0.2M1192.8 712.3l1.5 0.7M1339.5 816l2.7 2.3M753.1 856.6l7.6 7.6M1055.6 617.4l3.3-1.3M1155.3 730.8l2.7 0.4M997.6 635.8l2.2-1.7M1121.4 753l1.6-0.3M947.3 656.7l6.8-7.1M1063.9 787.7l4.6-3.9M888.5 690.9l5-4.6M1000.7 827.8l6.8-7.2M825.7 724.8l1.7-0.4M965.9 834.8l2.6-2.2M794 743.4l1.5 0M903.6 860.8l1.9-1.1M1193.8 615.1l4.6 4.5M1219.2 642.1l4.6 4.8M762 765.8l1.6 0.6M854.1 868.7l1.8-0.2M1144.6 610.2l2 1M1208.7 680.3l2 1.6M1364.9 791.4l1.1 0.8M999.6 744.5l1.5 0.1M1116.4 858.6l2-1.1M782.2 622.2l15.9 17.5M972.9 766.3l1.5 0.6M1062.8 868.8l1.8-0.1M1355.7 610.8l2 1.1M1330.8 620.5l4.1 4 4 5M743.7 732.3l1.5 0.3M1203.9 639.1l2.4-1.9M1334.3 752.7l1.7-0.3M1146.6 663.9l4.8-4.6M1280 779.8l3.3-2.2M1084 700.2l2-1.4M1231.7 805.3l2.2-1.9M1044 722.2l1.5-0.6M1165 844.8l2.6-2.3M736 655.8l3.3-3.3M855.7 783.8l3.2-2.5M1303.4 693.2l3.5-3M805.8 813.8l3.5-3.3M1256 720.9l2.2-0.8M1219.4 744.4l2.7 0.1M1308.9 866.4l3.1-1.4M981.4 613l3.5 3.1M1014.9 648.1l3.5 3.5M1179.4 766.2l1.8 0.8M1274.8 868.7l1.7-0.2M932 608.6l2 0.8M1004.8 683.8l2 1.5M1152.1 788.3l1.9 1.3M1231.9 871.5l1.8 0.5M897.7 612.1l3 0.8M968.5 703.1l2.9 1.8M839.7 618.8l3.3-1.5M943.4 732.6l2.6 0.4M780.6 640.3l2.4-1.9M914.3 752.3l1.5-0.2M1347.2 672.2l2.6-2.3"/>
<path stroke="#8aff00" d="M835.3 853.4l2.2-0.6M1346.1 750.5l1.7 0.5M1038.1 622.6l2.8 0.3M1135 708.3l3.1 1.7M1297.8 812.6l5.4 4.6M1342.6 853.2l5.2 3.7M997.2 627.5l2-0.5M1107.2 730.4l1.8 0.5M828.1 694.8l2.2-1.1M995.2 790.2l2.2-1.1M818.5 696.8l7.2-7.2M876.9 866.1l8.9-9.8M1087.5 628.7l2.2-0.7M1207.2 732.4l1.7 0.5M1050.6 641.1l3.2-1.6M1179.4 748.2l2.4 0.1M898.1 709.5l2-0.7M1043.1 816.9l2.4-1.7M815.8 766.9l3.5 1.9M900.3 857.1l3.5 0.5M1194.7 637l8.5 9.1 23.5 27.6M1035.5 693.5l7.4-6.5M1105.5 852.8l9.2-9.1M955.2 737.9l2.4 0.2M1074.2 847.2l2.8-1.3M736 649l1.1 1M911.9 764l2.2 1M1015.3 857.8l2 0M1344.6 631.1l20.7 18.9M1238 623l2 0.1M1335.8 714l2 1M1190.6 799.3l5.2-3.7M748 621.6l2.2 0.6M837.5 698.3l2.4 1.5M987.1 793.8l2.9 2M1061.7 858.6l2.6 1.2M790.5 734l1.7 0.5M1305 629.9l2.2-0.6M1194.7 670l2.4-1.6M1355.1 768.8l1.9-0.5M1148.6 691.4l3.7-2.2M1288.8 802.5l4.1-2.8M1079 748.1l6.3 2.7M1134.6 857l7 0.9M866.8 750.7l1.8 0M1351.8 645.9l2.4-1.4M806.9 779l1.9-0.8M1278.1 678.5l2.4-1.5M1221.4 714.6l6.4-3.8M1276.8 868.1l7.6-6M894.4 619.5l2.8 1.6M956.7 672.2l3.3 2.5M1105.7 767.6l2.2 1.2M1215.1 858.6l2.1 0.1M786.3 627.7l2-0.5M894.4 729.6l1.9 0.6M774.9 842.7l2.4-1.4M1273.9 732.5l1.8 0M1019.9 620.7l4 2.8M1063.9 658.2l4.2 3.4M1222.3 760.3l2.2 1M1339.1 857l2-0.3M927.8 625.7l4.9 1.5M996.1 710.5l4.8 3.1M807.1 653.7l2.6-1.7M954.5 757.9l1.8-0.2M838.8 815.6l2.4-1.6M1309.3 714.8l2-0.4M992.8 623.9l3.1 2M1045.3 673.1l3.1 2.6M1213.3 782.2l2.4 1.5M1294 858.8l2.2 0.7M813 872.8l1.8 0.4M1092.6 611.5l1.7-0.2M1191 711.5l1.8 0.8M1342.2 818.3l2.6 2.3M736 837.2l17.1 19.4M1058.9 616.1l3-1.1M1152.7 730.3l2.6 0.5M999.8 634.1l2.4-1.9M1119.9 753.3l1.5-0.3M954.1 649.6l7-7.8M1059.1 792.2l4.8-4.5M893.5 686.3l5-5.2M993.9 835.5l6.8-7.7M827.4 724.4l1.6-0.4M963.3 837l2.6-2.2M795.5 743.4l1.5 0.1M901.6 861.9l2-1.1M1198.4 619.6l20.8 22.5M763.6 766.4l1.5 0.7M852.6 868.8l1.5-0.1M1146.6 611.2l2 1.2M1206.5 678.5l2.2 1.8M1001.1 744.6l1.6 0.1M1114.4 859.7l2-1.1M974.4 766.9l1.6 0.7M1061.3 868.9l1.5-0.1M1357.7 611.9l2.2 1.4M1338.9 629.5l7 11.7 13.3 28.3 6.8 12.3M742.1 732l1.6 0.3M1206.3 637.2l2.4-1.8M1332.8 753l1.5-0.3M1151.4 659.3l4.8-4.8M1276.8 782.3l3.2-2.5M1086 698.8l1.8-1.2M1229.3 807.4l2.4-2.1M1045.5 721.6l1.6-0.6M1162.6 846.9l2.4-2.1M739.3 652.5l4.8-5.1M852.4 786.6l3.3-2.8M1306.9 690.2l3.8-3.4M802.3 817.3l3.5-3.5M1258.2 720.1l2.1-1M1222.1 744.5l2.4 0.1M1305.8 867.8l3.1-1.4M984.9 616.1l4.6 4.5M1010.1 643l4.8 5.1M1181.2 767l1.5 0.7M1273.2 868.8l1.6-0.1M934 609.4l1.9 0.9M1002.9 682.3l1.9 1.5M1154 789.6l1.8 1.2M1230.2 870.9l1.7 0.6M900.7 612.9l2.9 1M965.5 701l3 2.1M843 617.3l3-1.3M940.5 732.3l2.9 0.3M783 638.4l2.4-1.9M912.8 752.6l1.5-0.3M1349.8 669.9l2.4-2.1"/>
<path stroke="#55ff00" d="M833.3 853.9l2-0.5M1347.8 751l2 0.6M1040.9 622.9l2.9 0.5M1132.2 706.6l2.8 1.7M1303.2 817.2l7 6.4M1336 847.8l6.6 5.4M999.2 627l1.9-0.5M1105.5 729.9l1.7 0.5M830.3 693.7l2.2-1.1M993 791.4l2.2-1.2M825.7 689.6l4.1-5.6 3.5-5.8M867.7 879.7l4.1-6.8 5.1-6.8M1089.7 628l2-0.6M1205.4 732l1.8 0.4M1053.8 639.5l3.1-1.4M1177 748.1l2.4 0.1M900.1 708.8l1.7-0.7M1040.7 818.6l2.4-1.7M819.3 768.8l3.5 2M896.8 856.4l3.5 0.7M1042.9 687l7.7-9.2M1096.3 864.1l9.2-11.3M957.6 738.1l2.4 0.3M1071.1 848.4l3.1-1.2M914.1 765l1.9 1M1013.4 857.8l1.9 0M1240 623.1l2 0.2M1333.8 713l2 1M1185.1 803.5l5.5-4.2M750.2 622.2l2.2 0.7M835.1 696.7l2.4 1.6M990 795.8l2.8 2.1M1059.3 857.4l2.4 1.2M788.7 733.6l1.8 0.4M1307.2 629.3l1.9-0.6M1197.1 668.4l2.4-1.5M1353.1 769.3l2-0.5M1152.3 689.2l3.7-2.5M1284.8 805.4l4-2.9M1085.3 750.8l6.4 4.8M1127.6 853.7l3.2 2 3.8 1.3M865.1 750.7l1.7 0M1354.2 644.5l2.4-1.4M804.9 779.8l2-0.8M1280.5 677l2.2-1.4M1227.8 710.8l6.3-5.6M1269.3 875.3l7.5-7.2M897.2 621.1l3.1 1.9M953.4 669.5l3.3 2.7M1107.9 768.8l2.2 1.1M1213.1 858.6l2 0M788.3 627.2l1.9-0.4M892.6 729.1l1.8 0.5M772.8 843.9l2.1-1.2M1275.7 732.5l1.7 0M1023.9 623.5l4.8 3.7M1058.7 653.7l5.2 4.5M1224.5 761.3l1.9 0.8M1337.1 857.2l2-0.2M932.7 627.2l5 2.4M991.3 706.8l4.8 3.7M809.7 652l2.4-1.5M952.8 758.1l1.7-0.2M836.2 817.3l2.6-1.7M1311.3 714.4l1.8-0.5M995.9 625.9l3.3 2.4M1041.8 670.1l3.5 3M1215.7 783.7l2.2 1.6M1291.8 858l2.2 0.8M811.2 872.2l1.8 0.6M1094.3 611.3l1.8-0.1M1189.5 710.8l1.5 0.7M1344.8 820.6l2.6 2.5M1061.9 615l3.1-1.1M1150.1 729.9l2.6 0.4M1002.2 632.2l2.2-1.7M1118.4 753.7l1.5-0.4M961.1 641.8l7-8.3M1054.3 797.3l4.8-5.1M898.5 681.1l5.5-6.3M986.7 844.4l7.2-8.9M829 724l1.5-0.5M960.9 839.1l2.4-2.1M797 743.5l1.6 0M899.8 862.8l1.8-0.9M765.1 767.1l1.5 0.7M850.8 868.9l1.8-0.1M1148.6 612.4l1.9 1.3M1204.3 676.5l2.2 2M1002.7 744.7l1.5 0.2M1112.5 860.7l1.9-1M976 767.6l1.7 0.8M1059.5 868.9l1.8 0M1359.9 613.3l1.9 1.4M740.6 731.8l1.5 0.2M1208.7 635.4l2.4-1.9M1331.2 753.4l1.6-0.4M1156.2 654.5l4.8-5M1273.5 784.9l3.3-2.6M1087.8 697.6l1.9-1.4M1226.9 809.6l2.4-2.2M1047.1 721l1.5-0.6M1160.2 849l2.4-2.1M744.1 647.4l5-5.5M848.9 789.8l3.5-3.2M1310.7 686.8l3.7-3.7M798.8 820.9l3.5-3.6M1260.3 719.1l2.2-1M1365.3 852.6l0.7-0.6M1224.5 744.6l2.6 0M1302.8 869l3-1.2M989.5 620.6l20.6 22.4M1182.7 767.7l1.5 0.6M1271.5 868.9l1.7-0.1M935.9 610.3l2 1M1000.7 680.5l2.2 1.8M1155.8 790.8l2 1.5M1228.4 870.3l1.8 0.6M903.6 613.9l3 1.4M962.6 698.8l2.9 2.2M846 616l3.3-1.2M937.9 731.9l2.6 0.4M785.4 636.5l2.4-1.9M911.2 753l1.6-0.4M1352.2 667.8l2.6-2.4"/>
<path stroke="#20ff00" d="M831.4 854.3l1.9-0.4M1349.8 751.6l1.8 0.6M1043.8 623.4l2.8 0.6M1129.1 704.8l3.1 1.8M1310.2 823.6l25.8 24.2M1001.1 626.5l2-0.4M1103.7 729.4l1.8 0.5M832.5 692.6l1.9-1.1M990.8 792.6l2.2-1.2M833.3 678.2l5.3-11.7 4.8-15.5M857 592.1l2.6-8.6M859.8 897.9l3.7-9.8 4.2-8.4M1091.7 627.4l2-0.6M1203.7 731.5l1.7 0.5M1056.9 638.1l3.1-1.4M1174.6 748l2.4 0.1M901.8 708.1l1.8-0.7M1038.1 820.5l2.6-1.9M822.8 770.8l3.5 2.3M893.3 855.3l3.5 1.1M1050.6 677.8l4.8-7.9 4.1-8.9M1086.2 882.3l4.6-9.4 5.5-8.8M960 738.4l2.4 0.2M1068.3 849.6l2.8-1.2M916 766l2 1M1011.4 857.8l2 0M1242 623.3l1.9 0.2M1331.9 712l1.9 1M1179.6 808.2l5.5-4.7M752.4 622.9l2.2 0.7M832.7 695.1l2.4 1.6M992.8 797.9l2.9 2.2M1056.5 855.8l2.8 1.6M787 733.2l1.7 0.4M1309.1 628.7l2-0.5M1199.5 666.9l2.7-1.7M1351.3 769.8l1.8-0.5M1156 686.7l3.9-2.8M1280.7 808.6l4.1-3.2M1091.7 755.6l3.7 4.6 3.3 6M1120.1 844.4l3.5 5.4 4 3.9M863.3 750.7l1.8 0M1356.6 643.1l2.4-1.4M802.9 780.7l2-0.9M1282.7 675.6l2.4-1.6M1234.1 705.2l3.5-4.4 3.1-5.6M1262.1 886.2l3.3-5.8 3.9-5.1M900.3 623l3.5 2.4M949.7 666.5l3.7 3M1110.1 769.9l2.1 1.2M1211.1 858.4l2 0.2M790.2 626.8l2-0.3M890.9 728.5l1.7 0.6M770.3 845.3l2.5-1.4M1277.4 732.5l1.8-0.1M1028.7 627.2l7.2 6M1051.2 647l7.5 6.7M1226.4 762.1l2 0.9M1335.2 857.3l1.9-0.1M937.7 629.6l5.2 3.8M986.2 702l5.1 4.8M812.1 650.5l2.7-1.7M951 758.3l1.8-0.2M833.8 819l2.4-1.7M1313.1 713.9l1.9-0.5M999.2 628.3l3.7 3M1038.1 666.6l3.7 3.5M1217.9 785.3l2.2 1.5M1289.7 857.1l2.1 0.9M736 792l0.9 0.6M809.3 871.5l1.9 0.7M1096.1 611.2l1.5-0.1M1187.7 710l1.8 0.8M1347.4 823.1l3.1 3M1065 613.9l3.1-0.8M1147.5 729.4l2.6 0.5M1004.4 630.5l2.4-1.9M1116.8 754.1l1.6-0.4M968.1 633.5l7.4-9.5M1049 803.5l5.3-6.2M904 674.8l5.7-7.4M978.8 854.9l7.9-10.5M830.5 723.5l1.5-0.4M958.2 841.3l2.7-2.2M798.6 743.5l1.3 0M898.1 863.8l1.7-1M766.6 767.8l1.6 0.7M849.3 868.9l1.5 0M1150.5 613.7l2.2 1.6M1202.2 674.5l2.1 2M1004.2 744.9l1.5 0.1M1110.5 861.8l2-1.1M977.7 768.4l1.5 0.7M1058 868.9l1.5 0M1361.8 614.7l2.2 1.7M739.1 731.5l1.5 0.3M1211.1 633.5l2.2-1.7M1329.7 753.7l1.5-0.3M1161 649.5l5.1-5.4M1270 788l3.5-3.1M1089.7 696.2l2-1.6M1224.2 812.1l2.7-2.5M1048.6 720.4l1.5-0.7M1157.8 851.2l2.4-2.2M749.1 641.9l5.3-6.1M845.4 793.3l3.5-3.5M1314.4 683.1l3.7-4M795.1 824.9l3.7-4M1262.5 718.1l2-1M1362.1 855.5l3.2-2.9M1227.1 744.6l2.4 0.1M1299.9 870.1l2.9-1.1M1184.2 768.3l1.6 0.7M1270 868.9l1.5 0M937.9 611.3l2 1.2M998.7 678.9l2 1.6M1157.8 792.3l1.9 1.5M1226.7 869.5l1.7 0.8M906.6 615.3l3.1 1.8M959.6 696.2l3 2.6M849.3 614.8l2.9-1M935.5 731.6l2.4 0.3M787.8 634.6l2.4-1.9M909.7 753.3l1.5-0.3M1354.8 665.4l2.7-2.4"/>
<path stroke="#00ff15" d="M829.4 854.8l2-0.5M1351.6 752.2l1.7 0.5M1046.6 624l3.1 0.9M1126 702.8l3.1 2M1003.1 626.1l2-0.3M1102 728.9l1.7 0.5M834.4 691.5l2.2-1.2M988.7 793.9l2.1-1.3M843.4 651l13.6-58.9M1093.7 626.8l1.9-0.5M1201.9 731.1l1.8 0.4M1060 636.7l3-1.4M1172.2 747.9l2.4 0.1M903.6 707.4l1.9-0.8M1035.7 822.2l2.4-1.7M826.3 773.1l3.5 2.5M889.6 853.8l3.7 1.5M1059.5 661l6.8-20.6 10.1-42.2 4.1-15.2M1080.8 897.3l5.4-15M962.4 738.6l2.2 0.3M1065.4 850.7l2.9-1.1M918 767l1.8 0.9M1009.4 857.6l2 0.2M1243.9 623.5l2 0.3M1329.9 710.9l2 1.1M1174.2 813.5l5.4-5.3M754.6 623.6l2.4 1M830.1 693.3l2.6 1.8M995.7 800.1l3 2.5M1053.6 854.1l2.9 1.7M785.2 732.7l1.8 0.5M1311.1 628.2l2-0.5M1202.2 665.2l2.4-1.6M1349.4 770.4l1.9-0.6M1159.9 683.9l3.8-2.8M1276.3 812.2l4.4-3.6M1098.7 766.2l2.8 7.2 2.9 9.8 10.3 46.4 2.6 8.2 2.8 6.6M861.6 750.8l1.7-0.1M1359 641.7l2.4-1.4M801 781.6l1.9-0.9M1285.1 674l2.4-1.6M1240.7 695.2l2.6-6.9 2.2-8.6 3.7-25.8M1253.3 611l2.2-16.3 2.4-11.7M1258.2 897.2l3.9-11M903.8 625.4l3.9 2.9M945.6 662.9l4.1 3.6M1112.2 771.1l2.2 1.2M1208.9 858.2l2.2 0.2M792.2 626.5l2-0.3M889.1 728l1.8 0.5M768.2 846.5l2.1-1.2M1279.2 732.4l1.7 0M1035.9 633.2l15.3 13.8M1228.4 763l2 0.9M1333 857.4l2.2-0.1M942.9 633.4l5.7 5.8M980.6 695.2l5.6 6.8M814.8 648.8l2.4-1.5M949.3 758.6l1.7-0.3M831.2 820.7l2.6-1.7M1315 713.4l1.8-0.5M1002.9 631.3l4.3 3.9M1033.3 661.9l4.8 4.7M1220.1 786.8l2.4 1.8M1287.5 856l2.2 1.1M736.9 792.6l1.7 1.3M807.5 870.8l1.8 0.7M1097.6 611.1l1.7 0M1186.2 709.2l1.5 0.8M1350.5 826.1l3.3 3.3M1068.1 613.1l2.8-0.7M1144.8 728.9l2.7 0.5M1006.8 628.6l2.2-1.7M1115.5 754.5l1.3-0.4M975.5 624l7.9-11M1043.3 811.4l5.7-7.9M909.7 667.4l6.5-9.9M970.3 867.6l8.5-12.7M832 723.1l1.8-0.6M955.8 843.3l2.4-2M799.9 743.5l1.5 0.1M896.1 864.8l2-1M768.2 768.5l1.5 0.7M847.6 868.8l1.7 0.1M1152.7 615.3l2.2 1.7M1200 672.3l2.2 2.2M1005.7 745l1.5 0.1M1108.8 862.6l1.7-0.8M979.2 769.1l1.6 0.8M1056.5 868.8l1.5 0.1M1364 616.4l2 1.6M737.5 731.3l1.6 0.2M1213.3 631.8l2.4-1.9M1328.2 754.1l1.5-0.4M1166.1 644.1l5-5.7M1266.7 791.1l3.3-3.1M1091.7 694.6l1.7-1.3M1221.8 814.4l2.4-2.3M1050.1 719.7l1.6-0.7M1155.3 853.3l2.5-2.1M754.4 635.8l5-6.1M841.9 797.1l3.5-3.8M1318.1 679.1l3.9-4.6M791.3 829l3.8-4.1M1264.5 717.1l2.2-1.2M1359 858.3l3.1-2.8M1229.5 744.7l2.4 0.1M1297.1 871l2.8-0.9M1185.8 769l1.7 0.9M1268.2 868.9l1.8 0M939.9 612.5l1.9 1.3M996.5 677l2.2 1.9M1159.7 793.8l2 1.5M1224.7 868.6l2 0.9M909.7 617.1l3.1 2.3M956.5 693.1l3.1 3.1M852.2 613.8l3-1M932.9 731.2l2.6 0.4M790.2 632.7l2.5-1.9M908.2 753.7l1.5-0.4M1357.5 663l2.4-2.2"/>
<path stroke="#00ff4a" d="M827.4 855.1l2-0.3M1353.3 752.7l2 0.7M1049.7 624.9l2.8 1.1M1123.2 700.9l2.8 1.9M1005.1 625.8l1.9-0.3M1100.2 728.4l1.8 0.5M836.6 690.3l2-1.1M986.5 795.2l2.2-1.3M1095.6 626.3l2.2-0.6M1200.2 730.6l1.7 0.5M1063 635.3l2.9-1.2M1169.8 747.8l2.4 0.1M905.5 706.6l1.8-0.8M1033.3 824l2.4-1.8M829.8 775.6l3.8 3.2M885.8 851.7l3.8 2.1M964.6 738.9l2.4 0.2M1062.6 851.7l2.8-1M919.8 767.9l1.9 1M1007.5 857.4l1.9 0.2M1245.9 623.8l2 0.3M1327.9 709.7l2 1.2M1168.5 819.8l5.7-6.3M757 624.6l2.2 1.1M827.7 691.5l2.4 1.8M998.7 802.6l3.3 2.8M1050.6 852l3 2.1M783.5 732.3l1.7 0.4M1313.1 627.7l1.9-0.4M1204.6 663.6l2.4-1.6M1347.6 771l1.8-0.6M1163.7 681.1l3.9-3.2M1272.2 815.8l4.1-3.6M859.8 750.8l1.8 0M1361.4 640.3l2.4-1.4M799 782.6l2-1M1287.5 672.4l2.2-1.5M1249.2 653.9l4.1-42.9M907.7 628.3l4.6 3.7M940.5 658.4l5.1 4.5M1114.4 772.3l2 1.1M1207 857.9l1.9 0.3M794.2 626.2l2-0.2M887.4 727.4l1.7 0.6M766 847.6l2.2-1.1M1280.9 732.4l1.5-0.1M1230.4 763.9l1.9 1M1331 857.4l2 0M948.6 639.2l7.7 11.3M973.1 683.4l7.5 11.8M817.2 647.3l2.4-1.6M947.5 758.9l1.8-0.3M828.8 822.4l2.4-1.7M1316.8 712.9l1.7-0.6M1007.2 635.2l7 6.8M1026.1 654.4l7.2 7.5M1222.5 788.6l2.4 2M1285.3 854.9l2.2 1.1M738.6 793.9l2 1.5M805.8 870l1.7 0.8M1099.3 611.1l1.6 0M1184.7 708.5l1.5 0.7M1353.8 829.4l4.1 4.5M1070.9 612.4l2.9-0.6M1142.4 728.4l2.4 0.5M1009 626.9l2-1.5M1114 754.9l1.5-0.4M983.4 613l8.5-13.5M1036.8 821.9l6.5-10.5M916.2 657.5l8.4-14.6M960.2 884.6l10.1-17M833.8 722.5l1.5-0.6M953.2 845.5l2.6-2.2M801.4 743.6l1.3 0M894.4 865.7l1.7-0.9M769.7 769.2l1.5 0.8M846 868.7l1.6 0.1M1154.9 617l2.4 2.1M1197.6 669.8l2.4 2.5M1007.2 745.1l1.4 0.1M1107 863.5l1.8-0.9M980.8 769.9l1.5 0.8M1054.7 868.7l1.8 0.1M736.2 731.1l1.3 0.2M1215.7 629.9l2.2-1.7M1326.6 754.5l1.6-0.4M1171.1 638.4l5.2-6.2M1263 795l3.7-3.9M1093.4 693.3l2-1.7M1219.2 817l2.6-2.6M1051.7 719l1.5-0.8M1153.2 855.3l2.1-2M759.4 629.7l5.5-7M837.9 801.8l4-4.7M1322 674.5l4.4-5.7M787.4 833.6l3.9-4.6M1266.7 715.9l2.2-1.3M1355.9 861.1l3.1-2.8M1231.9 744.8l2.4 0.1M1294.2 871.9l2.9-0.9M1187.5 769.9l1.5 0.7M1266.7 868.8l1.5 0.1M941.8 613.8l2.2 1.5M994.3 674.9l2.2 2.1M1161.7 795.3l1.7 1.5M1222.7 867.5l2 1.1M912.8 619.4l3.4 3.3M953.2 689.4l3.3 3.7M855.2 612.8l2.9-0.7M930.2 730.8l2.7 0.4M792.7 630.8l2.1-1.7M906.6 754.1l1.6-0.4M1359.9 660.8l2.6-2.6"/>
<path stroke="#00ff80" d="M825.5 855.4l1.9-0.3M1355.3 753.4l1.7 0.5M1052.5 626l3.1 1.4M1120.1 698.6l3.1 2.3M1007 625.5l2-0.3M1098.5 727.8l1.7 0.6M838.6 689.2l2.2-1.3M984.3 796.6l2.2-1.4M1097.8 625.7l1.8-0.4M1198.4 730.2l1.8 0.4M1065.9 634.1l2.8-1.2M1167.4 747.7l2.4 0.1M907.3 705.8l1.9-0.9M1030.9 825.9l2.4-1.9M833.6 778.8l3.7 3.6M881.9 848.8l3.9 2.9M967 739.1l2.2 0.3M1060 852.5l2.6-0.8M921.7 768.9l2 1.1M1005.5 857.1l2 0.3M1247.9 624.1l1.9 0.5M1326 708.6l1.9 1.1M1162.3 827.6l6.2-7.8M759.2 625.7l2.4 1.2M825 689.5l2.7 2M1002 805.4l3.7 3.3M1047.3 849.6l3.3 2.4M781.7 731.8l1.8 0.5M1315 627.3l2-0.3M1207 662l2.4-1.7M1345.9 771.5l1.7-0.5M1167.6 677.9l3.9-3.5M1267.8 819.9l4.4-4.1M736 638.6l1.8-1M858.1 750.9l1.7-0.1M1363.8 638.9l2.2-1.3M797 783.6l2-1M1289.7 670.9l2.4-1.7M912.3 632l7.5 6.6M932.9 651.1l7.6 7.3M1116.4 773.4l2.2 1.3M1205 857.5l2 0.4M796.2 626l1.9-0.2M885.6 726.8l1.8 0.6M763.8 848.8l2.2-1.2M1282.4 732.3l1.8-0.1M1232.3 764.9l2 0.9M1329 857.4l2 0M956.3 650.5l16.8 32.9M819.6 645.7l2.4-1.5M945.8 759.2l1.7-0.3M826.1 824.2l2.7-1.8M1318.5 712.3l2-0.6M1014.2 642l11.9 12.4M1224.9 790.6l2.4 2M1282.9 853.4l2.4 1.5M740.6 795.4l2 1.6M803.8 869l2 1M1100.9 611.1l1.7 0.2M1182.9 707.6l1.8 0.9M1357.9 833.9l5.9 6.7M1073.8 611.8l2.8-0.3M1140 727.8l2.4 0.6M1011 625.4l2.2-1.7M1112.5 755.4l1.5-0.5M991.9 599.5l9-16.3M1001.1 897.8l1.6-3.1M1027.8 839.2l9-17.3M924.6 642.9l28.4-59.5M953.2 897.9l7-13.3M835.3 721.9l1.5-0.6M950.8 847.6l2.4-2.1M802.7 743.6l1.5 0M892.6 866.5l1.8-0.8M771.2 770l1.6 0.8M844.5 868.6l1.5 0.1M1157.3 619.1l2.6 2.5M1194.9 666.9l2.7 2.9M1008.6 745.2l1.5 0.1M1105 864.4l2-0.9M982.3 770.7l1.5 0.8M1053.2 868.4l1.5 0.3M736 731l0.2 0.1M1217.9 628.2l2.2-1.7M1325.3 754.9l1.3-0.4M1176.3 632.2l5.3-6.5M1259.5 799l3.5-4M1095.4 691.6l2-1.7M1216.8 819.5l2.4-2.5M1053.2 718.2l1.5-0.8M1150.8 857.5l2.4-2.2M764.9 622.7l5.4-7.4M834 807.1l3.9-5.3M1326.4 668.8l4.4-6.2M783.5 838.4l3.9-4.8M1268.9 714.6l1.9-1.3M1352.9 864l3-2.9M1234.3 744.9l2.4 0.2M1291.6 872.6l2.6-0.7M1189 770.6l1.6 0.8M1264.9 868.7l1.8 0.1M944 615.3l2.2 1.7M991.9 672.6l2.4 2.3M1163.4 796.8l2.2 1.9M1221 866.4l1.7 1.1M916.2 622.7l3.6 4.2M949.5 684.3l3.7 5.1M858.1 612.1l2.8-0.6M927.8 730.4l2.4 0.4M794.8 629.1l2.2-1.8M905.1 754.6l1.5-0.5M1362.5 658.2l2.6-2.5"/>
<path stroke="#00ffb5" d="M823.5 855.7l2-0.3M1357 753.9l1.8 0.6M1055.6 627.4l3.1 1.6M1116.8 696l3.3 2.6M1009 625.2l1.8-0.2M1096.7 727.2l1.8 0.6M840.8 687.9l2.2-1.4M982.1 798l2.2-1.4M1099.6 625.3l1.9-0.4M1196.7 729.7l1.7 0.5M1068.7 632.9l2.9-1.2M1165.2 747.7l2.2 0M909.2 704.9l1.8-0.9M1028.2 827.9l2.7-2M837.3 782.4l4.1 4.7M877.8 845l4.1 3.8M969.2 739.4l2.4 0.2M1057.1 853.4l2.9-0.9M923.7 770l2 1.2M1003.5 856.7l2 0.4M1249.8 624.6l2 0.6M1324 707.3l2 1.3M1155.6 838.1l6.7-10.5M761.6 626.9l2.6 1.5M822.4 687.4l2.6 2.1M1005.7 808.7l4 3.7M1043.6 846.5l3.7 3.1M780 731.3l1.7 0.5M1317 627l2-0.4M1209.4 660.3l2.4-1.6M1343.9 772.2l2-0.7M1171.5 674.4l4.2-4M1263.4 824.3l4.4-4.4M737.8 637.6l2.1-1.2M856.5 751l1.6-0.1M1366 637.6l0 0M795.3 784.6l1.7-1M1292.1 669.2l2.4-1.7M919.8 638.6l13.1 12.5M1118.6 774.7l2.2 1.3M1202.8 857l2.2 0.5M798.1 625.8l1.8-0.1M883.9 726.1l1.7 0.7M761.6 849.9l2.2-1.1M1284.2 732.2l1.5-0.1M1234.3 765.8l2 1M1327.1 857.2l1.9 0.2M822 644.2l2.4-1.6M944 759.6l1.8-0.4M823.7 825.9l2.4-1.7M1320.5 711.7l1.7-0.6M1227.3 792.6l2.6 2.3M1280.5 851.8l2.4 1.6M742.6 797l1.9 1.7M802.1 868l1.7 1M1102.6 611.3l1.6 0.1M1181.4 706.7l1.5 0.9M1363.8 840.6l2.2 2.5M1076.6 611.5l2.6-0.2M1137.4 727.1l2.6 0.7M1013.2 623.7l2.1-1.7M1110.9 756l1.6-0.6M1002.7 894.7l25.1-55.5M836.8 721.3l1.6-0.6M948.6 849.5l2.2-1.9M804.2 743.6l1.4 0M890.9 867.3l1.7-0.8M772.8 770.8l1.5 0.8M843 868.4l1.5 0.2M1159.9 621.6l2.9 3.1M1191.9 663.3l3 3.6M1010.1 745.3l1.3 0M1103.3 865.2l1.7-0.8M983.8 771.5l1.4 0.8M1051.7 868.1l1.5 0.3M1220.1 626.5l2.2-1.7M1323.8 755.4l1.5-0.5M1181.6 625.7l5.5-7.3M1255.5 804l4-5M1097.4 689.9l1.9-1.8M1214.2 822.2l2.6-2.7M1054.7 717.4l1.5-0.9M1148.6 859.5l2.2-2M770.3 615.3l5.7-8.5M829.8 813.3l4.2-6.2M1330.8 662.6l5.2-8.2M779.3 843.7l4.2-5.3M1270.8 713.3l2.2-1.5M1350 866.8l2.9-2.8M1236.7 745.1l2.4 0.2M1288.8 873.1l2.8-0.5M1190.6 771.4l1.5 0.9M1263.4 868.5l1.5 0.2M946.2 617l2.4 2.1M989.5 670.1l2.4 2.5M1165.6 798.7l2 1.8M1219 865.1l2 1.3M919.8 626.9l4.3 6.6M945.3 677.4l4.2 6.9M860.9 611.5l2.9-0.5M925.4 729.9l2.4 0.5M797 627.3l2.2-1.7M903.6 755.1l1.5-0.5M1365.1 655.7l0.9-0.9"/>
<path stroke="#00ffea" d="M821.5 855.9l2-0.2M1358.8 754.5l1.7 0.6M1058.7 629l3 2M1113.6 693.1l3.2 2.9M1010.8 625l1.9-0.1M1095 726.6l1.7 0.6M843 686.5l2.2-1.4M979.9 799.5l2.2-1.5M1101.5 624.9l2-0.3M1194.9 729.2l1.8 0.5M1071.6 631.7l2.8-1M1162.8 747.6l2.4 0.1M911 704l1.8-0.9M1025.8 829.8l2.4-1.9M841.4 787.1l4.8 6.5M872.9 839.3l4.9 5.7M971.6 739.6l2.2 0.3M1054.5 854.1l2.6-0.7M925.7 771.2l1.9 1.2M1001.6 856.2l1.9 0.5M1251.8 625.2l2 0.7M1322 706l2 1.3M1114.9 623.5l4.3-9.1M1147.5 854.1l8.1-16M764.2 628.4l2.6 1.7M819.6 685l2.8 2.4M1009.7 812.4l5 5M1038.8 842.2l4.8 4.3M778.2 730.8l1.8 0.5M1319 626.6l1.7-0.2M1211.8 658.7l2.6-1.9M1342.2 772.9l1.7-0.7M1175.7 670.4l4.1-4.4M1258.8 829.3l4.6-5M739.9 636.4l2.4-1.3M854.8 751.1l1.7-0.1M793.3 785.7l2-1.1M1294.5 667.5l2.4-1.8M1120.8 776l2 1.3M1200.8 856.4l2 0.6M799.9 625.7l1.9 0M882.1 725.4l1.8 0.7M759.6 850.9l2-1M1285.7 732.1l1.8-0.1M1236.3 766.8l1.9 1M1325.1 857.1l2 0.1M824.4 642.6l2.4-1.5M942.3 759.9l1.7-0.3M821.3 827.7l2.4-1.8M1322.2 711.1l1.8-0.7M1229.9 794.9l2.7 2.5M1277.8 849.8l2.7 2M744.5 798.7l2 1.7M800.1 866.8l2 1.2M1104.2 611.4l1.7 0.3M1179.8 705.9l1.6 0.8M1079.2 611.3l2.6 0M1135 726.3l2.4 0.8M1015.3 622l2-1.6M1109.6 756.4l1.3-0.4M838.4 720.7l1.5-0.6M946.2 851.6l2.4-2.1M805.6 743.6l1.5 0M889.3 868.1l1.6-0.8M774.3 771.6l1.5 0.9M841.2 868l1.8 0.4M1162.8 624.7l3.3 3.8M1188.4 658.9l3.5 4.4M1011.4 745.3l1.5 0.1M1101.5 866l1.8-0.8M985.2 772.3l1.5 0.9M1050.1 867.8l1.6 0.3M1222.3 624.8l1.9-1.5M1322.2 755.9l1.6-0.5M1187.1 618.4l5.7-8.1M1251.4 809.9l4.1-5.9M1099.3 688.1l2-1.8M1211.6 825l2.6-2.8M1056.2 716.5l1.4-0.8M1146.4 861.5l2.2-2M776 606.8l6.4-10.3M825 821.3l4.8-8M1336 654.4l6.2-10.8M775.2 849.2l4.1-5.5M1273 711.8l2-1.5M1347.2 869.6l2.8-2.8M1239.1 745.3l2.4 0.4M1286.2 873.5l2.6-0.4M1192.1 772.3l1.5 0.9M1261.9 868.2l1.5 0.3M948.6 619.1l2.4 2.3M986.9 667.2l2.6 2.9M1167.6 800.5l2 2M1216.8 863.5l2.2 1.6M924.1 633.5l6.8 13.2M938.6 663.8l6.7 13.6M863.8 611l2.6-0.3M923 729.3l2.4 0.6M799.2 625.6l2.2-1.7M902 755.6l1.6-0.5"/>
<path stroke="#00dfff" d="M819.8 856l1.7-0.1M1360.5 755.1l1.8 0.7M1061.7 631l3.5 2.6M1110.1 689.8l3.5 3.3M1012.7 624.9l1.8 0M1093.4 726l1.6 0.6M845.2 685.1l1.9-1.3M977.7 801l2.2-1.5M1103.5 624.6l2-0.3M1193.4 728.7l1.5 0.5M1074.4 630.7l2.6-1M1160.6 747.6l2.2 0M912.8 703.1l1.9-1M1023.4 831.7l2.4-1.9M846.2 793.6l7 11.5M865.9 828.6l7 10.7M973.8 739.9l2.2 0.3M1051.9 854.7l2.6-0.6M927.6 772.4l2 1.2M999.6 855.6l2 0.6M1253.8 625.9l2.2 0.9M1320.1 704.6l1.9 1.4M1119.2 614.4l5.5-13.2 6.4-17.6M1131.3 897.9l9.4-27 6.8-16.8M766.8 630.1l2.9 2.1M816.7 682.4l2.9 2.6M1014.7 817.4l9.2 9.6M1029.6 833l9.2 9.2M776.7 730.3l1.5 0.5M1320.7 626.4l2-0.2M1214.4 656.8l2.4-1.7M1340.4 773.6l1.8-0.7M1179.8 666l4.2-4.9M1254.2 834.8l4.6-5.5M742.3 635.1l2.2-1.2M853 751.3l1.8-0.2M791.3 786.8l2-1.1M1296.9 665.7l2.4-1.8M1122.8 777.3l2.1 1.4M1198.7 855.7l2.1 0.7M801.8 625.7l2 0.1M880.4 724.7l1.7 0.7M757.4 852l2.2-1.1M1287.5 732l1.5-0.1M1238.2 767.8l2 1.1M1323.1 856.8l2 0.3M826.8 641.1l2.2-1.5M940.5 760.3l1.8-0.4M818.9 829.4l2.4-1.7M1324 710.4l1.8-0.6M1232.6 797.4l3 3.1M1275 847.5l2.8 2.3M746.5 800.4l2 1.9M798.1 865.4l2 1.4M1105.9 611.7l1.5 0.3M1178.3 705l1.5 0.9M1081.8 611.3l2.9 0.4M1132.6 725.3l2.4 1M1017.3 620.4l2-1.5M1108.1 757l1.5-0.6M839.9 720.1l1.5-0.7M943.8 853.7l2.4-2.1M807.1 743.6l1.3 0M887.6 868.8l1.7-0.7M775.8 772.5l1.5 1M839.7 867.6l1.5 0.4M1166.1 628.5l5 6.4M1183.6 652.4l4.8 6.5M1012.9 745.4l1.3 0.1M1100 866.7l1.5-0.7M986.7 773.2l1.5 1M1048.4 867.3l1.7 0.5M1224.2 623.3l2.2-1.8M1320.7 756.5l1.5-0.6M1192.8 610.3l6.1-9.5M1246.8 817.2l4.6-7.3M1101.3 686.3l2.2-2.2M1208.7 828.2l2.9-3.2M1057.6 715.7l1.5-0.9M1144.2 863.5l2.2-2M782.4 596.5l7.2-13.3M818.9 833.1l6.1-11.8M1342.2 643.6l9.4-18.7M770.6 855.7l4.6-6.5M1275 710.3l2.2-1.9M1344.3 872.6l2.9-3M1241.5 745.7l2.4 0.5M1283.8 873.6l2.4-0.1M1193.6 773.2l1.6 0.9M1260.3 867.8l1.6 0.4M951 621.4l2.9 2.9M984.1 663.9l2.8 3.3M1169.6 802.5l2.4 2.5M1214.6 861.6l2.2 1.9M930.9 646.7l7.7 17.1M866.4 610.7l2.8 0M920.6 728.6l2.4 0.7M801.4 623.9l2.2-1.8M900.5 756.1l1.5-0.5"/>
<path stroke="#00aaff" d="M817.8 856.1l2-0.1M1362.3 755.8l1.5 0.6M1065.2 633.6l3.7 3.3M1106.3 685.9l3.8 3.9M1014.5 624.9l1.9 0M1091.7 725.3l1.7 0.7M847.1 683.8l2.2-1.6M975.5 802.6l2.2-1.6M1105.5 624.3l1.7-0.2M1191.7 728.2l1.7 0.5M1077 629.7l2.7-0.8M1158.4 747.5l2.2 0.1M914.7 702.1l1.8-1M1021 833.7l2.4-2M853.2 805.1l12.7 23.5M976 740.2l2.2 0.4M1049.5 855.2l2.4-0.5M929.6 773.6l2 1.4M997.6 854.9l2 0.7M1256 626.8l1.9 0.9M1317.9 702.9l2.2 1.7M769.7 632.2l3.1 2.4M813.4 679.3l3.3 3.1M1023.9 827l5.7 6M774.9 729.7l1.8 0.6M1322.7 626.2l2-0.1M1216.8 655.1l2.4-1.7M1338.4 774.4l2-0.8M1184 661.1l4.6-6M1249.2 841.4l5-6.6M744.5 633.9l2.2-1.2M851.5 751.4l1.5-0.1M789.4 788l1.9-1.2M1299.3 663.9l2.2-1.8M1124.9 778.7l2.2 1.6M1196.7 855l2 0.7M803.8 625.8l1.8 0.1M878.8 724l1.6 0.7M755.5 853l1.9-1M1289 731.9l1.8-0.1M1240.2 768.9l2 1.1M1321.2 856.4l1.9 0.4M829 639.6l2.4-1.5M939 760.7l1.5-0.4M816.5 831.2l2.4-1.8M1325.8 709.8l1.7-0.8M1235.6 800.5l3.1 3.3M1271.7 844.4l3.3 3.1M748.5 802.3l2.2 2.2M795.9 863.7l2.2 1.7M1107.4 612l1.8 0.4M1176.6 703.9l1.7 1.1M1084.7 611.7l2.6 0.6M1130.2 724l2.4 1.3M1019.3 618.9l1.9-1.6M1106.6 757.7l1.5-0.7M841.4 719.4l1.6-0.8M941.6 855.6l2.2-1.9M808.4 743.6l1.3-0.1M886.1 869.5l1.5-0.7M777.3 773.5l1.6 1M838.2 867.1l1.5 0.5M1171.1 634.9l12.5 17.5M1014.2 745.5l1.6 0.1M1098.2 867.4l1.8-0.7M988.2 774.2l1.6 1.1M1046.8 866.7l1.6 0.6M1226.4 621.5l2-1.5M1319.4 757l1.3-0.5M1198.9 600.8l6.8-11.8M1241.5 826.6l5.3-9.4M1103.5 684.1l2-2M1206.1 831.2l2.6-3M1059.1 714.8l1.5-1M1142 865.6l2.2-2.1M789.6 583.2l0 0M789.8 897.8l13.1-28.6M806.7 860.5l12.2-27.4M1351.6 624.9l14.4-30.8M765.8 862.9l4.8-7.2M1277.2 708.4l2.2-2M1341.5 875.6l2.8-3M1243.9 746.2l2.2 0.7M1281.1 873.4l2.7 0.2M1195.2 774.1l1.5 1M1258.6 867.3l1.7 0.5M953.9 624.3l3.5 4M980.6 659.6l3.5 4.3M1172 805l2.2 2.4M1212.4 859.6l2.2 2M869.2 610.7l2.6 0.2M918.2 727.7l2.4 0.9M803.6 622.1l2-1.5M899.2 756.6l1.3-0.5"/>
<path stroke="#0075ff" d="M736 756.6l1.3 0.5M816.1 856.1l1.7 0M1363.8 756.4l1.8 0.7M1068.9 636.9l4.4 4.6M1102 680.7l4.3 5.2M1016.4 624.9l1.8 0.1M1089.9 724.5l1.8 0.8M849.3 682.2l2.2-1.5M973.3 804.2l2.2-1.6M1107.2 624.1l2-0.2M1189.9 727.6l1.8 0.6M1079.7 628.9l2.8-0.9M1156 747.4l2.4 0.1M916.5 701.1l1.7-1.1M1018.6 835.7l2.4-2M978.2 740.6l2.1 0.4M1046.8 855.6l2.7-0.4M931.6 775l1.9 1.4M995.7 854l1.9 0.9M1257.9 627.7l2.2 1.2M1315.9 701.3l2 1.6M772.8 634.6l3.2 2.9M809.9 675.8l3.5 3.5M773.2 729.1l1.7 0.6M1324.7 626.1l1.7 0M1219.2 653.4l2.4-1.8M1336.7 775.2l1.7-0.8M1188.6 655.1l4.8-7.2M1244.2 848.9l5-7.5M746.7 632.7l2-1.1M849.8 751.6l1.7-0.2M787.4 789.3l2-1.3M1301.5 662.1l2.4-1.9M1127.1 780.3l2.2 1.6M1194.5 854l2.2 1M805.6 625.9l1.7 0.2M877.1 723.2l1.7 0.8M753.5 854l2-1M1290.8 731.8l1.5-0.1M1242.2 770l2 1.2M1319.4 856l1.8 0.4M831.4 638.1l2.2-1.4M937.2 761.2l1.8-0.5M813.9 833.1l2.6-1.9M1327.5 709l1.7-0.7M1238.7 803.8l3.9 4.6M1268 840.5l3.7 3.9M750.7 804.5l2.1 2.3M793.8 861.7l2.1 2M1109.2 612.4l1.5 0.5M1175 702.9l1.6 1M1087.3 612.3l2.6 1.1M1127.8 722.4l2.4 1.6M1021.2 617.3l2-1.5M1105.2 758.2l1.4-0.5M843 718.6l1.5-0.8M939.4 857.5l2.2-1.9M809.7 743.5l1.3 0M884.3 870.2l1.8-0.7M778.9 774.5l1.5 1.1M836.6 866.5l1.6 0.6M1015.8 745.6l1.3 0M1096.5 868.1l1.7-0.7M989.8 775.3l1.5 1.1M1045.3 866l1.5 0.7M1228.4 620l2-1.6M1317.9 757.6l1.5-0.6M1205.7 589l3-5.7M1208.9 897.8l5.5-11.1M1233.9 842.4l7.6-15.8M1105.5 682.1l2.2-2.4M1203.2 834.5l2.9-3.3M1060.6 713.8l1.6-1.1M1139.8 867.8l2.2-2.2M802.9 869.2l3.8-8.7M760.3 871.7l5.5-8.8M1279.4 706.4l2.2-2.2M1338.7 878.9l2.8-3.3M1246.1 746.9l2.4 1.1M1278.7 872.9l2.4 0.5M1196.7 775.1l1.5 1.1M1257.1 866.8l1.5 0.5M957.4 628.3l4.6 5.8M976 653.5l4.6 6.1M1174.2 807.4l2.6 3.1M1210 857.1l2.4 2.5M871.8 610.9l2.7 0.6M915.8 726.6l2.4 1.1M805.6 620.6l2.2-1.8M897.7 757.2l1.5-0.6"/>
<path stroke="#0040ff" d="M737.3 757.1l1.8 0.8M814.1 856l2 0.1M1365.6 757.1l0.4 0.2M1073.3 641.5l5.9 7.3M1096.1 672.9l5.9 7.8M1018.2 625l2 0.3M1088.2 723.7l1.7 0.8M851.5 680.7l2.2-1.7M971.2 805.9l2.1-1.7M1109.2 623.9l1.7-0.1M1188.4 727l1.5 0.6M1082.5 628l2.4-0.6M1153.8 747.2l2.2 0.2M918.2 700l1.8-1.1M1016.2 837.7l2.4-2M980.3 741l2.2 0.5M1044.4 855.8l2.4-0.2M933.5 776.4l2 1.6M993.5 853l2.2 1M1260.1 628.9l2 1.3M1313.7 699.4l2.2 1.9M776 637.5l4.2 4.1M805.8 671.3l4.1 4.5M771.7 728.5l1.5 0.6M1326.4 626.1l2 0M1221.6 651.6l2.4-1.8M1334.9 776l1.8-0.8M1193.4 647.9l5.5-9.6M1238.2 859l6-10.1M748.7 631.6l2.2-1.1M848.2 751.7l1.6-0.1M785.4 790.6l2-1.3M1303.9 660.2l2.4-2M1129.3 781.9l2.2 1.7M1192.3 852.9l2.2 1.1M807.3 626.1l2 0.3M875.3 722.3l1.8 0.9M751.5 854.9l2-0.9M1292.3 731.7l1.5-0.1M1244.2 771.2l1.7 1.1M1317.4 855.5l2 0.5M833.6 636.7l2.2-1.5M935.5 761.6l1.7-0.4M811.5 835l2.4-1.9M1329.2 708.3l1.8-0.8M1242.6 808.4l5.1 6.3M1263 834.7l5 5.8M752.8 806.8l2.4 2.8M791.3 859.4l2.5 2.3M1110.7 612.9l1.5 0.5M1173.5 701.8l1.5 1.1M1089.9 613.4l2.7 1.7M1125.2 720.1l2.6 2.3M1023.2 615.8l2-1.6M1103.7 759l1.5-0.8M844.5 717.8l1.3-0.7M937.2 859.5l2.2-2M811 743.5l1.6 0M882.8 870.9l1.5-0.7M780.4 775.6l1.5 1.2M834.9 865.7l1.7 0.8M1017.1 745.6l1.3 0.1M1095 868.7l1.5-0.6M991.3 776.4l1.5 1.3M1043.6 865.1l1.7 0.9M1230.4 618.4l1.9-1.5M1316.3 758.2l1.6-0.6M1214.4 886.7l19.5-44.3M1107.7 679.7l2.1-2.4M1200.4 837.9l2.8-3.4M1062.2 712.7l1.5-1.2M1137.8 869.7l2-1.9M754.4 881.9l5.9-10.2M1281.6 704.2l2.2-2.5M1336 882.1l2.7-3.2M1248.5 748l2.4 1.7M1276.1 871.7l2.6 1.2M1198.2 776.2l1.6 1.1M1255.5 866.2l1.6 0.6M962 634.1l14 19.4M1176.8 810.5l2.6 3.3M1207.2 853.9l2.8 3.2M874.5 611.5l2.6 1M913.4 725.1l2.4 1.5M807.8 618.8l1.9-1.6M896.1 757.9l1.6-0.7"/>
<path stroke="#000bff" d="M739.1 757.9l1.7 0.8M812.3 855.8l1.8 0.2M1079.2 648.8l16.9 24.1M1020.2 625.3l1.7 0.2M1086.7 722.9l1.5 0.8M853.7 679l2.2-1.7M969 807.6l2.2-1.7M1110.9 623.8l1.8 0M1186.6 726.4l1.8 0.6M1084.9 627.4l2.6-0.6M1151.6 747l2.2 0.2M920 698.9l1.9-1.3M1013.8 839.8l2.4-2.1M982.5 741.5l2.2 0.6M1042 855.9l2.4-0.1M935.5 778l2 1.7M991.5 851.8l2 1.2M1262.1 630.2l2.2 1.6M1311.5 697.3l2.2 2.1M780.2 641.6l5.9 6.4M799.7 664.2l6.1 7.1M769.9 727.7l1.8 0.8M1328.4 626.1l1.7 0.1M1224 649.8l2.4-1.9M1333.2 776.9l1.7-0.9M1198.9 638.3l6.5-13.6M1231.2 873.3l7-14.3M750.9 630.5l1.9-1.1M846.5 751.9l1.7-0.2M783.5 792l1.9-1.4M1306.3 658.2l2.4-2M1131.5 783.6l2.4 2M1190.1 851.6l2.2 1.3M809.3 626.4l1.7 0.5M873.6 721.3l1.7 1M749.6 855.8l1.9-0.9M1293.8 731.6l1.5-0.2M1245.9 772.3l2 1.3M1315.2 854.7l2.2 0.8M835.8 635.2l2.1-1.4M934 762.1l1.5-0.5M809.3 836.7l2.2-1.7M1331 707.5l1.8-0.9M1247.7 814.7l15.3 20M755.2 809.6l2.7 3.2M788.9 856.8l2.4 2.6M1112.2 613.4l1.8 0.8M1172 700.7l1.5 1.1M1092.6 615.1l2.6 2.6M1122.8 717.4l2.4 2.7M1025.2 614.2l2-1.6M1102.4 759.6l1.3-0.6M845.8 717.1l1.5-0.9M935.1 861.5l2.1-2M812.6 743.5l1.3 0M881.2 871.5l1.6-0.6M781.9 776.8l1.6 1.3M833.3 864.9l1.6 0.8M1018.4 745.7l1.5 0.1M1093.4 869.2l1.6-0.5M992.8 777.7l1.5 1.3M1042 864.2l1.6 0.9M1232.3 616.9l2-1.6M1315 758.8l1.3-0.6M1109.8 677.3l2.2-2.6M1197.3 841.8l3.1-3.9M1063.7 711.5l1.5-1.2M1135.7 872l2.1-2.3M746.3 897.2l8.1-15.3M1283.8 701.7l2.1-2.7M1333.2 885.9l2.8-3.8M1250.9 749.7l2.4 2.6M1273.7 869.6l2.4 2.1M1199.8 777.3l1.5 1.2M1253.8 865.3l1.7 0.9M1179.4 813.8l3.5 4.8M1203.9 849.8l3.3 4.1M877.1 612.5l2.4 1.5M910.8 723l2.6 2.1M809.7 617.2l2-1.6M894.8 758.5l1.3-0.6"/>
<path stroke="#2a00ff" d="M740.8 758.7l1.8 0.9M810.4 855.5l1.9 0.3M1021.9 625.5l1.8 0.4M1084.9 722l1.8 0.9M855.9 677.3l2.2-1.8M966.6 809.6l2.4-2M1112.7 623.8l2 0.1M1185.1 725.8l1.5 0.6M1087.5 626.8l2.7-0.5M1149.4 746.8l2.2 0.2M921.9 697.6l1.8-1.3M1011.4 842l2.4-2.2M984.7 742.1l2.2 0.7M1039.4 855.8l2.6 0.1M937.5 779.7l2.2 1.9M989.3 850.4l2.2 1.4M1264.3 631.8l2.4 1.9M1309.3 695.1l2.2 2.2M786.1 648l13.6 16.2M768.4 727l1.5 0.7M1330.1 626.2l1.8 0.2M1226.4 647.9l2.4-1.8M1331.2 777.9l2-1M1205.4 624.7l6.4-15.6 9.4-25.6M1221.4 897.9l9.8-24.6M752.8 629.4l2.2-1.1M844.9 752.1l1.6-0.2M781.5 793.5l2-1.5M1308.7 656.2l2.4-2.1M1133.9 785.6l2.2 1.9M1187.7 850.1l2.4 1.5M811 626.9l2 0.5M871.8 720.2l1.8 1.1M747.6 856.7l2-0.9M1295.3 731.4l1.8-0.1M1247.9 773.6l1.9 1.4M1313.3 853.9l1.9 0.8M837.9 633.8l2.2-1.4M932.2 762.6l1.8-0.5M806.9 838.5l2.4-1.8M1332.8 706.6l1.9-0.9M757.9 812.8l3 4M785.9 853.2l3 3.6M1114 614.2l1.5 0.7M1170.2 699.3l1.8 1.4M1095.2 617.7l2.8 4.1M1120.1 713.2l2.7 4.2M1027.2 612.6l1.7-1.5M1100.9 760.4l1.5-0.8M847.3 716.2l1.6-0.9M932.9 863.5l2.2-2M813.9 743.5l1.3 0M879.7 872l1.5-0.5M783.5 778.1l1.5 1.3M831.8 864l1.5 0.9M1019.9 745.8l1.3 0.1M1091.7 869.8l1.7-0.6M994.3 779l1.8 1.7M1040.5 863.2l1.5 1M1234.3 615.3l2-1.6M1313.5 759.6l1.5-0.8M1112 674.7l2.2-2.7M1194.3 845.7l3-3.9M1065.2 710.3l1.6-1.3M1133.7 874l2-2M736 603.5l9.8-20.5M746.1 897.6l0.2-0.4M1285.9 699l2.2-3.1M1330.3 890l2.9-4.1M1253.3 752.3l2.5 4.3M1271.1 865.6l2.6 4M1201.3 778.5l1.5 1.4M1252.2 864.4l1.6 0.9M1182.9 818.6l4.6 6.7M1199.1 843.1l4.8 6.7M879.5 614l2.8 2.7M908.4 720.2l2.4 2.8M811.7 615.6l2-1.6M893.3 759.2l1.5-0.7"/>
<path stroke="#6000ff" d="M742.6 759.6l1.5 0.9M808.6 855.2l1.8 0.3M1023.7 625.9l1.9 0.6M1083.2 720.9l1.7 1.1M858.1 675.5l2.1-1.8M964.4 811.5l2.2-1.9M1114.7 623.9l1.7 0.2M1183.3 725l1.8 0.8M1090.2 626.3l2.4-0.3M1147.2 746.5l2.2 0.3M923.7 696.3l2-1.4M1009 844.2l2.4-2.2M986.9 742.8l2.2 0.9M1037 855.5l2.4 0.3M939.7 781.6l2.1 2.2M987.1 848.7l2.2 1.7M1266.7 633.7l2.4 2.3M1306.9 692.4l2.4 2.7M766.6 726.2l1.8 0.8M1331.9 626.4l1.9 0.4M1228.8 646.1l2.2-1.8M1329.5 778.8l1.7-0.9M755 628.3l2-1M843.4 752.3l1.5-0.2M779.5 795l2-1.5M1311.1 654.1l2.4-2.2M1136.1 787.5l2.6 2.5M1185.3 848.3l2.4 1.8M813 627.4l1.8 0.7M870.1 719.1l1.7 1.1M745.6 857.6l2-0.9M1297.1 731.3l1.5-0.2M1249.8 775l2.2 1.7M1311.3 853l2 0.9M840.1 632.4l2.2-1.5M930.7 763.1l1.5-0.5M804.5 840.4l2.4-1.9M1334.7 705.7l1.8-1M760.9 816.8l3.8 5.2M782.2 848.4l3.7 4.8M1115.5 614.9l1.8 1M1168.7 698l1.5 1.3M1098 621.8l2.9 6.4M1117.1 706l3 7.2M1028.9 611.1l1.8-1.5M1099.6 761.2l1.3-0.8M848.9 715.3l1.5-1M930.7 865.5l2.2-2M815.2 743.5l1.3 0M878.2 872.6l1.5-0.6M785 779.4l1.5 1.6M830.1 862.7l1.7 1.3M1021.2 745.9l1.4 0.1M1090.2 870.3l1.5-0.5M996.1 780.7l1.5 1.7M1038.8 861.8l1.7 1.4M1236.3 613.7l1.7-1.5M1312.2 760.3l1.3-0.7M1114.2 672l2.4-3.2M1191.2 849.8l3.1-4.1M1066.8 709l1.5-1.4M1131.7 876.2l2-2.2M1288.1 695.9l2.4-4M1327.7 894.2l2.6-4.2M1255.8 756.6l2.6 8.8M1268.4 857.9l2.7 7.7M1202.8 779.9l1.8 1.6M1250.5 863.3l1.7 1.1M1187.5 825.3l11.6 17.8M882.3 616.7l2.7 3.8M905.8 716l2.6 4.2M813.7 614l1.7-1.5M892 759.9l1.3-0.7"/>
<path stroke="#9500ff" d="M744.1 760.5l1.7 1M806.7 854.6l1.9 0.6M1025.6 626.5l1.8 0.7M1081.6 719.9l1.6 1M860.2 673.7l2.2-2M962 813.7l2.4-2.2M1116.4 624.1l1.8 0.2M1181.8 724.3l1.5 0.7M1092.6 626l2.4-0.1M1145.1 746l2.1 0.5M925.7 694.9l1.7-1.4M1006.6 846.5l2.4-2.3M989.1 743.7l2.2 1.1M1034.6 854.9l2.4 0.6M941.8 783.8l2.4 2.6M984.7 846.7l2.4 2M1269.1 636l2.6 2.8M1304.3 689.2l2.6 3.2M764.9 725.2l1.7 1M1333.8 626.8l1.8 0.4M1231 644.3l2.4-1.9M1327.7 779.9l1.8-1.1M757 627.3l2-1M841.9 752.5l1.5-0.2M777.6 796.6l1.9-1.6M1313.5 651.9l2.4-2.3M1138.7 790l2.4 2.5M1182.7 846.1l2.6 2.2M814.8 628.1l1.9 0.9M868.3 717.8l1.8 1.3M743.9 858.3l1.7-0.7M1298.6 731.1l1.6-0.1M1252 776.7l2 1.6M1309.3 851.9l2 1.1M842.3 630.9l2.2-1.4M928.9 763.7l1.8-0.6M802.1 842.4l2.4-2M1336.5 704.7l1.7-1M764.7 822l7.2 11M774.9 837.7l7.3 10.7M1117.3 615.9l1.7 1.2M1166.9 696.4l1.8 1.6M1100.9 628.2l3.7 13.5M1113.6 693l3.5 13M1030.7 609.6l1.9-1.7M1098 762.1l1.6-0.9M850.4 714.3l1.5-1M928.7 867.4l2-1.9M816.5 743.5l1.3 0M876.7 873.1l1.5-0.5M786.5 781l1.8 1.9M828.3 861.3l1.8 1.4M1022.6 746l1.3 0.1M1088.6 870.8l1.6-0.5M997.6 782.4l1.8 2M1037 860.2l1.8 1.6M1238 612.2l2-1.7M1310.7 761.1l1.5-0.8M1116.6 668.8l2.4-3.3M1187.9 854.4l3.3-4.6M1068.3 707.6l1.5-1.5M1129.8 878.4l1.9-2.2M1290.5 691.9l2.4-4.5M1324.9 584.4l0.6-1.2M1325.8 897.7l1.9-3.5M1258.4 765.4l1.7 10.7 1.8 17.2M1264.7 830.4l1.8 16.5 1.9 11M1204.6 781.5l1.5 1.6M1249 862.1l1.5 1.2M885 620.5l2.8 6.7M902.9 709l2.9 7M815.4 612.5l2-1.7M890.4 760.7l1.6-0.8"/>
<path stroke="#ca00ff" d="M745.8 761.5l1.8 1.1M804.9 854.1l1.8 0.5M1027.4 627.2l1.7 0.8M1079.9 718.6l1.7 1.3M862.4 671.7l2.2-2M959.8 815.7l2.2-2M1118.2 624.3l1.7 0.3M1180.1 723.3l1.7 1M1095 625.9l2.4 0M1142.9 745.5l2.2 0.5M927.4 693.5l1.8-1.5M1004.2 848.8l2.4-2.3M991.3 744.8l2.4 1.6M1032.2 854l2.4 0.9M944.2 786.4l2.5 2.8M982.3 844.3l2.4 2.4M1271.7 638.8l3.1 3.7M1301.2 685.1l3.1 4.1M763.3 724.3l1.6 0.9M1335.6 627.2l1.7 0.5M1233.4 642.4l2.4-2M1326 780.9l1.7-1M759 626.3l1.9-0.9M840.1 752.7l1.8-0.2M775.6 798.3l2-1.7M1315.9 649.6l2.4-2.3M1141.1 792.5l2.9 3.1M1179.8 843.5l2.9 2.6M816.7 629l1.8 1M866.6 716.3l1.7 1.5M741.9 859.2l2-0.9M1300.2 731l1.5-0.2M1254 778.3l2 1.8M1307.2 850.6l2.1 1.3M844.5 629.5l2-1.3M927.4 764.3l1.5-0.6M799.7 844.4l2.4-2M1338.2 703.7l1.8-1M771.9 833l3 4.7M1119 617.1l1.6 1.1M1165.4 694.9l1.5 1.5M1104.6 641.7l9 51.3M1032.6 607.9l1.8-1.5M1096.7 762.9l1.3-0.8M851.9 713.3l1.6-1.1M926.5 869.5l2.2-2.1M817.8 743.5l1.3 0M875.1 873.6l1.6-0.5M788.3 782.9l1.5 1.8M826.8 859.8l1.5 1.5M1023.9 746.1l1.3 0.1M1087.1 871.2l1.5-0.4M999.4 784.4l1.7 2.3M1035.2 858.3l1.8 1.9M1240 610.5l1.8-1.5M1309.3 761.9l1.4-0.8M1119 665.5l2.7-3.8M1184.7 859.1l3.2-4.7M1069.8 706.1l1.5-1.6M1127.6 881l2.2-2.6M1292.9 687.4l2.7-5.8M1321.8 590.9l3.1-6.5M1261.9 793.3l2.8 37.1M1206.1 783.1l1.7 2M1247.2 860.6l1.8 1.5M887.8 627.2l3.5 14M899.6 695.8l3.3 13.2M817.4 610.8l1.9-1.7M889.1 761.5l1.3-0.8"/>
<path stroke="#ff00ff" d="M747.6 762.6l4.8 3.8 4.4 4.5 3.9 5.2 3.5 6 5.9 13 11.8 31.7 6.6 12.9 3.5 4.9 3.9 4.1 4.2 3.1 4.8 2.3M1029.1 628l4 2.4 3.7 3.2 3.3 4 3.2 5.1 5.9 13 10.6 30.6 5.2 12.8 6.8 11.4 3.7 4.3 4.4 3.8M864.6 669.7l7.5-7.6 6.7-8.1 6.2-8.6 5.7-9.4 10-21.1 11.8-31.4M912.8 897.9l10.9-28.5 10.1-20.3 5.6-9.2 6.2-8.5 6.7-8.1 7.5-7.6M1119.9 624.6l5.3 1.8 4.8 3 4.1 4 3.7 5.1 3.3 6.2 3.3 8 11.6 36.5 5.7 14 3.7 6.5 4.2 5.4 4.8 4.5 5.7 3.7M1097.4 625.9l5.2 1.1 4.2 2.4 3.3 3.8 2.8 5.8 2.2 7.3 2 10 6.3 50.9 3.7 19.3 2.7 7.3 3.2 5.3 4.4 3.9 5.5 2.5M929.2 692l6.7-6.7 5.7-7.3 5.1-8.3 4.5-9.9 6.6-19.3 10.7-40.8 5.1-16.5M973.8 897.5l5.7-14.1 6.5-12.1 8.1-11.4 10.1-11.1M993.7 746.4l3.7 3.4 3.3 4.6 2.6 5.5 2.4 7.1 3.5 15.2 7 40.4 4.2 15.7 2.4 5.7 2.6 4.3 3.1 3.2 3.7 2.5M946.7 789.2l8.7 12.6 17.7 30.6 4.6 6.5 4.6 5.4M1274.8 642.5l6.5 9.6 13.6 23.2 6.3 9.8M736 672.2l6.8 21.8 5.7 13.4 6.5 9.8 4 3.9 4.3 3.2M1337.3 627.7l4.6 2.2 4 2.9 3.7 4.1 3.3 5 5.9 13.2 7.2 22.9M1235.8 640.4l14.7-13.6 10.7-13 7.9-13.7 6.3-16.7M1275.7 897.7l4.3-16.3 10.3-45.4 3.5-11.9 3.7-9.8 5.3-10.3 6.3-8.8 7.7-7.6 9.2-6.7M760.9 625.4l12.3-5.6 10-3.7 7-1.6 4.6 0.2 2.9 2.2 1.7 4.1 1.1 6.2 0.9 11.5M801.6 643.7l0 0M801.8 650.2l0 0M802.1 658.4l0 0M802.3 668.7l0 0M802.5 680.6l0 0M802.7 693l0 0M802.9 704.5l0 0M803.2 714.2l0 0M803.4 721.9l0 0M803.6 727.9l0 0M803.8 732.6l1.8 15.9 1.5 4.2 2.4 2.5 3.1 1 4.6 0 22.9-3.5M736 873.8l9.2-28.1 8.3-18.9 4.6-8 5.2-7.5 5.9-6.9 6.4-6.1M1318.3 647.3l12.5-13.8 10-14.5 8.4-16.2 7.4-19.5M1356.8 897.7l9.2-29.6M1144 795.6l8.7 11.2 17.7 25.7 9.4 11M818.5 630l7 5.8 6.1 8.8 5.7 12.1 10.5 28.8 5 11.9 6.4 10.8 7.4 8.1M736 861.4l5.9-2.2M1301.7 730.8l10.9-0.8 6.6 0.3 4.6 1.5 3.3 3 2.1 4.7 1.8 7.8 1.3 11.8 1.1 18.1M1333.6 781.9l0 0M1333.8 787.1l0 0M1334.1 792.4l0 0M1334.3 797.9l0 0M1334.5 803.4l0 0M1334.7 808.8l0 0M1334.9 813.9l0 0M1335.2 818.7l1 18.1 1.4 11.8 1.7 7.8 2.2 4.5 3.5 2.9 4.8 0.9 7-1 9.2-2.9M1256 780.1l7 7.4 6.5 8.8 17.7 30.8 6.4 9.8 6.6 7.8 7 5.9M846.5 628.2l16.4-11.8 9.8-9.4 3.5-4.8 2.9-5.3 2.4-6.3 1.9-7.3M883.7 897.4l3.2-21.5 5.9-60.8 2.2-13.2 2.4-9.2 4.4-9.7 5.9-7.3 8.5-6.2 11.2-5.2M736 677l4.8-10.8 4.4-13.8 11.4-51.3 4.8-17.8M761.6 897.6l6.1-15.4 7.7-12.8 10.3-12.2 14-12.8M1340 702.7l8.3-5.9 7-6.8 5.9-7.7 4.8-8.7M1120.6 618.2l5.9 5.9 5.7 8.2 5.4 10.6 15.6 34.5 5.9 9.7 6.3 7.8M1034.4 606.4l11.1-11.6 4.2-5.7 3.5-6.1M1053.4 897.6l4.4-10.9 3.7-14 3.1-16.6 6.5-42.6 2.4-11.8 2.7-9.7 3.7-9.5 4.3-7.6 5.5-6.4 7-5.6M853.5 712.2l6.7-6 5.7-6.8 4.9-7.7 4.3-9.6 6.4-20 13.1-54.3 4.6-13.5 5-11M904.4 897.9l4.2-7 5-7 12.9-14.4M819.1 743.5l9 0.8 5.9 2.2 3.9 4.1 2.9 6.9 1.7 8.6 1.6 13.6 4.6 68.4 1.7 11.9 2.2 7.5 3.3 5.1 4.3 2.4 6.4 0.4 8.5-1.8M789.8 784.7l5 7.4 4.9 9.4 12.9 33.5 4.6 10.5 4.6 8 5 6.3M1025.2 746.2l9.4 1.5 6.1 2.9 4.4 4.7 3.3 7.3 2.2 9 1.7 11.6 6.1 61.2 2.2 11.6 2.9 8.1 3.7 5.2 4.8 2.7 6.6 0.6 8.5-1.4M1001.1 786.7l4.6 7.3 4.4 8.9 16.2 41 4.4 8.1 4.5 6.3M1241.8 609l7.4-6.8 5.7-6.2 4.6-6.1 3.9-6.8M1263.6 897.7l4.4-10.8 3.7-13.7 3.1-16.3 7-44.4 2.4-11.4 2.8-10 4-9.5 4.8-7.7 6.1-6.6 7.4-5.4M1121.7 661.7l7.2-11.6 7.4-13.7 25.6-53.2M1162.1 897.8l11.2-20.6 11.4-18.1M1071.3 704.5l4.6-5.7 4-6.1 3.7-7.3 3.3-8.1 5.4-17.7 12.9-50.5 4.9-13.7 5.7-12.1M1116 897.9l5.2-8.5 6.4-8.4M1295.6 681.6l6.7-20.6 12.5-50.1 7-20M1207.8 785.1l5.5 7.6 5 9.3 13.6 33.5 4.8 10.4 5.1 8.4 5.4 6.3M891.3 641.2l8.3 54.6M819.3 609.1l13.2-13 4.8-6.3 3.9-6.5M841.4 897.9l4.8-11.2 4-13.9 3-15.3 7.7-45.8 2.6-11.7 2.9-9.4 3.9-9.2 5-7.9 6.2-6.5 7.6-5.5"/>
<path stroke="#000" d="M859.2 844.6l0.2-0.1M1130.6 610l2.9 1.6M1331.7 746.1l1.3 0.4M1019.1 623.5l0.6-0.1M1158.4 720.4l1.8 0.9M1365.8 866.1l0.2 0.1M977.3 634.5l1.9-0.8M1131.9 737.7l1.6 0.5M1267.8 825.3l1.3 1M1013.2 782.1l1-0.4M769 717.4l1.3-0.2M953 806.1l1.3-0.8M779.5 861.4l3.7 2.8M1221.4 736.2l0.7 0.2M1025.2 654.5l2-1M876.7 714.6l0.4 0M784.6 753.1l1.1 0.4M1293.6 675.5l2 1.4M1146.6 618.4l0.4 0M1277.6 710.5l1.6 0.9M932.9 734.4l0.4 0.1M1105.5 831.6l1.1-0.6M890.2 754.4l1.3 0.6M1312.4 611l1.3 0.5M938.1 869l0.5 0.2M1215.3 626.3l0.9-0.3M1360.1 725.1l1.7 0.8M1031.5 696.9l13.2-5.8 12.9-7.2 12.4-8.3 11.4-9.2 10.1-9.7 8.7-10.2 7.7-10.8 7-12.2M1081.2 864.4l1.5 0.3M1359.4 619.6l0.5 0M813 739.9l0.7 0.2M949.9 826.8l2.2 1.6M1010.1 872l0.4 0.3M741 766.1l0.9-0.1M1177.4 680l0.7-0.4M1124.5 702.6l1.3-0.5M885.4 644.9l2.2 1.6M1037 739.9l1.5 0.3M1192.5 840.5l1.8-0.9M882.8 751.5l0.9 0.1M1340.4 652.7l1.1-0.6M823.7 773.4l0.2 0M1172.6 725.5l1.1-0.1M1347.8 819.8l1.6-1M977.5 686.9l1.5 1M1088.4 759l0.7 0.3M1231.5 857.2l1.5-0.3M1111.8 868.4l1.8 1.1M801.2 827.2l0.6-0.4M1259.2 731.8l0.7 0M1346.5 855.8l0.5-0.1M887.6 630.2l0.6-0.2M1175.7 819.6l1.5 1.2M1245.2 871.7l0.5 0.2M795.5 661l1.1-0.7M970.3 757l0.6 0M854.3 805.9l2-1.1M1302.6 716.1l0.8-0.1M969.2 614.3l1.7 0.4M1071.3 692.2l0.3 0.1M1320.1 861.4l0.6 0M1084.7 612.9l1.5-0.4M1324.4 804.5l1.8 1.2M786.1 880l0.9 0.3M973.6 654.5l0.8-0.7M1137 750.9l0.8 0M911.7 687.3l0.8-0.6M1089.5 771l0.9-0.4M860.7 708.8l0.9-0.4M1040.7 792l0.7-0.4M1263.6 600l9 8M983 820.8l1.1-0.9M1210 593.9l1.6 1.1M1265.8 643.1l0.7 0.5M778.9 741.9l0.6 0.1M916.5 853.1l1.3-0.8M1246.8 667.1l1.1 0.8M745.2 759.2l0.4 0.2M1343.7 778.2l1.7 1M791.8 594.2l1.5 1M1132.6 848.9l1.3-0.8M750.2 598.5l1.3 0.6M832 670.3l1.1 0.8M1083.4 864l0.6-0.2M1340.2 605.6l0.4 0M809.9 694.5l1.3 0.8M933.5 783.3l1.3 0.8M1035.9 873.2l0.4 0M1289.7 614.7l0.8-0.2M749.3 733.4l0.3 0M895 833.7l1.1 0.9M1347.2 751.1l0.6 0M910.3 891.6l0.7 0.5M1129.5 678.8l1.1-0.9M1293.6 771.7l1.1-0.6M845.4 599.3l3.5 3.1M1195.2 819.3l1.3-1.1M1281.8 707.2l0.2-0.1M834.2 790.4l0.2-0.2M1240.9 725.2l0.9-0.2M1000 593.9l0.9 0.6M1052.3 640.1l1.1 0.9M1283.8 867.1l0.8-0.2M918.2 605.3l0.7 0.1M1023.4 696.2l0.7 0.4M1241.5 873.4l0.9 0.1M873.8 613.5l1.1-0.2M989.5 713.9l0.7 0.3M1122.3 808.5l0.7 0.5M819.8 629.4l1.1-0.6M957.4 734.8l0.8 0.2M1105.9 839.1l2.9 2.4M769.7 649l1.5-1.2M925.7 750.9l0.6 0M1333.2 683.3l1.5-1.1"/>
</g>
<defs><clipPath id="c3"><rect x="67" y="977" width="630" height="315"/></clipPath></defs><g fill="none" stroke-width="2.3" stroke-linecap="round" stroke-linejoin="round" clip-path="url(#c3)">
<path stroke="#ff0000" d="M166.4 1264.5l7.4 23.4M639.8 1276.2l-4.9-6.6-5-5.4M563.7 1264.6l-11.8 10.9M370 1268l-0.8-4M616.3 1282.5l0.3-3.2M423.4 1279.7l-1.1 2.7M282.6 1290.1l-6.8-10.9M595.6 1263.6l4.1-14.7M394.8 1250l-7.1 35M210.4 1279.7l-12.4-11.5-12.4-8.3-6.1-2.8-5.8-1.9-5.9-1.1-5.8-0.3-5.7 0.5-5.7 1.5-5.5 2.3-5.3 3.1-5.1 3.9-5.1 5-9 11.8M296.6 1277.8l2.2 8.2M428.7 1267.6l1.7-17.3M239.7 1250.9l11.1 22.1M592.4 1271.7l2.8-8.3M391.1 1264.4l-0.5 2.7M214.5 1287.5l-6.8-7.6M556.1 1278.5l3.6-8M363 1271.3l-1.8 15.8M433.8 1284.9l3.6-30.8M251.8 1254.4l14.6 32.3M355.9 1284.3l-7.1-23.1M151.7 1261.5l5.9 30.2M637.7 1269.7l-3.8-8.4M525.7 1261.7l-13.8 19M305.7 1285.6l-14.8-27.9M135.3 1258.2l-1.5 10.6M626.3 1290.3l0-16.8-0.8-16.2M455.2 1258.2l-13.3 28M436.9 1272.6l0.9-7.6M257.8 1265.4l9.1 22M394.1 1282.6l-2.5-19.6M190.4 1264.2l9.5 21.6M521.2 1261.2l-17.2 24.7M353 1282.5l-7-21.6M150.6 1261.5l3.9 23.6M640.1 1278.3l-6.8-17.5M264.7 1289.2l-13.8-20.6-11.1-15M134.1 1254l-4.9 10.7-4.2 11.6M611 1282.2l4.1-29M421.6 1254.4l-8.9 27.1M302.9 1273.1l3.5 16.2M445.3 1272.6l-9.5 18.7M135.1 1272.3l-1 8.7M623.7 1282l-0.1-10.2M388.4 1250.9l-5.2 28.6M206.2 1287.9l-12.2-11-11.7-7.7-5.9-2.8-5.7-1.9-5.7-1.2-5.6-0.3-5.6 0.4-5.5 1.3-5.4 2.1-5.2 2.8-5 3.7-4.8 4.4-9 11.1M583 1282l10.7-32M330.7 1277.1l0.1 2.1M503.7 1280.7l1.9-4.4M458.7 1272.3l0.2-0.6M290.3 1272.4l4.5 14.9M648.3 1287.4l-8.1-8.6-8.4-6.2-9-3.9-9.8-1.6-9.5 0.9-10 3.3-10.1 5.7-10.1 8M179.8 1264.9l2.2 5.6M360.6 1275.1l-0.6 9M314.7 1266l1.5 8.8M484.2 1281.9l6.1-16.6M412.1 1272.4l0.6-24.9M212.4 1248.4l11 20.2M344.4 1286.9l-2.4-5.9M148 1281.5l0.6 5.1M592 1275.3l8.1-28.4M395.9 1247.6l-1.7 8.9M217.5 1285.6l-12.8-13-12.1-9.3-6-3.5-6.1-2.8-5.8-1.8-5.8-1-6.2-0.1-5.7 0.7-5.6 1.5-5.4 2.4-5.3 3.2-5 4-4.8 4.7-4.7 5.8M197.7 1258.2l10.9 21.4M627 1286.3l-7.5 0.8-7.5 2.2M399.3 1268l-0.5-10.8M509.5 1280.8l-5.6 8.3M357.2 1289.6l-3.2-9M603 1284.1l5.7-27.5M409.8 1257.2l-2.8 10.2M135.3 1256.9l-8.5 14.6-7.3 17.9M348.9 1270.8l0 9.1M633.6 1271.4l-3.9-19.5M486.7 1252.6l-8 14.3M329.8 1287l-15-35M139.7 1252.7l-0.2 16.5 0.7 17.6M429.4 1277.4l-3.5 13.3M251.5 1282.1l-2.5-4.9M105.7 1272.5l-2.7 11M608 1279.4l2.8-7.1M395.2 1272.6l-2.4 18.2M195.9 1282.7l-8.8-10.5M101.1 1272.6l0 0M102.6 1271.9l0 0M555.3 1286.3l16.7-25.5M360.2 1261.7l0.9 22.3M489.6 1286.2l5.5-10M446.2 1281.8l3.4-11.8M274.3 1270.9l4.7 9.2M410 1284l0.2-3.3M219.6 1281.4l1.8 2.5M673.1 1284.2l-2.2-3.2M584.5 1281.3l-7.6 9.1M379 1281.9l-1.6-25.9M156 1256.8l0.8 1.9M657.9 1261.6l-2.4-5.3M540.9 1256.8l-12.1 19.5M344.3 1280.8l-6.3-29M129.3 1252.1l3.5 20.4M652.4 1275.6l-2.7-24.3M484.6 1252.6l-6.3 15.2M304.6 1284l-12-32.4M672.6 1284.8l-5.8-7.8-5.8-6.4M594.1 1270.9l-9.2 8.9-9 10.7M377.2 1282.9l-1.1-12.3M160.5 1271.3l4.7 10.3M664.8 1282.4l-6.7-19.1-7.8-16M546.9 1247.6l-11.7 17-12.7 21.7M342 1271.3l-5.1-24M128.7 1248l2.7 17.6 3.6 17.6M651.7 1267.4l-2.7-20.4M481 1260.6l-7 16.8M117.2 1260.8l-0.7 20M634 1282.3l2.8-21.9M193.7 1281.6l-9.6-10.9M103.5 1271l-5.4 7.5M554.7 1286.3l10.2-15.5M360.3 1270.9l0.4 12.4M107 1278.8l-6.7 0.7-7 2-6.8 3.3-6.6 4.7M444.9 1290.3l6.6-22.8M274.6 1268l11.6 23.5M672.7 1283.4l-8.2-0.8M410.4 1282.1l3.2-30M200 1252.3l24.4 33.8M319.9 1260.3l5.5 21.4M448.9 1274.4l4.6-14.7M269.6 1256.7l12.7 24.6M686.4 1291.9l-5.2-2.8-5.3-1.9-5.4-1.2-5.5-0.4M413 1268.2l1.4-12.5M196.9 1247.1l10.5 15M673.9 1286.1l-9.7-12.5-5.4-5-5.2-4-5.8-3.3-5.6-2.3-5.8-1.4-5.8-0.5-5.9 0.4-5.9 1.2-5.8 2.1-6.2 3.1-6 3.9-5.9 4.8-12.1 12.2M377.3 1270l-1.5-23.8M151.5 1247l7.2 17.4 7.6 16.5M665.5 1288l-4.2-14.6-5.1-13.8M534.4 1260.5l-10.6 17.6M338.7 1265.9l-1.4-6.3M652.3 1280.1l-1.3-14.5M478.8 1266.9l-8.3 20M299.2 1268.5l-1-2.8M636.5 1274.2l2.8-26.3M438.2 1248.1l-3 11.8M245.1 1265.6l-10.7-18.1M112.7 1248.1l-6.1 16.7-4.8 18.5M605.4 1279.2l0.6-1.3M97.2 1278.1l-2.1 3.3M360.9 1276.6l0.2 6.6M498.7 1277l0.7-1.1"/>
<path stroke="#ff3500" d="M164.7 1258.4l1.7 6.1M629.9 1264.2l-7.6-6.3M572.9 1258.1l-9.2 6.5M369.2 1264l-1.3-6M130 1271.3l-1.1 4.6M616.6 1279.3l0.8-9M426.7 1271.4l-3.3 8.3M275.8 1279.2l-5.3-8.3M599.7 1248.9l1.7-6.2M395.9 1243.7l-1.1 6.3M294.8 1271.5l1.8 6.3M430.4 1250.3l3.4-25M226.5 1226.1l13.2 24.8M179.6 1258.4l-1.9-0.8M143.8 1257.8l-3.7 2M595.2 1263.4l1.8-6M392.2 1258.2l-1.1 6.2M559.7 1270.5l3.8-8.6M363.8 1262.4l-0.8 8.9M437.4 1254.1l1-6.4M248.9 1248.3l2.9 6.1M348.8 1261.2l-3.4-11.5M150.2 1250.4l1.5 11.1M633.9 1261.3l-6.5-11.5M535.3 1250.2l-9.6 11.5M290.9 1257.7l-8.5-15.7M138.6 1242.3l-3.3 15.9M625.5 1257.3l-1.7-15.5M462.4 1242.5l-7.2 15.7M437.8 1265l3.4-25.4M246.6 1240.7l11.2 24.7M391.6 1263l-0.9-8.4M186.8 1255.3l3.6 8.9M526.1 1255l-4.9 6.2M346 1260.9l-1.9-6.3M149.7 1255l0.9 6.5M633.3 1260.8l-3.1-6.2M239.8 1253.6l-5.4-6.4M137.6 1247.6l-3.5 6.4M615.1 1253.2l0.6-6M423.6 1248l-2 6.4M299 1257.5l3.9 15.6M623.5 1269.1l-0.2-3.8M448.3 1266.3l-3 6.3M136 1266.2l-0.9 6.1M623.6 1271.8l-0.3-6.4M389.5 1244.6l-1.1 6.3M593.7 1250l1.8-6.1M330.1 1270.9l0.6 6.2M505.6 1276.3l2.7-6.1M458.9 1271.7l2.8-11.2M286.7 1261.2l3.6 11.2M382.6 1262.4l-2.8-23.1M170.5 1239.8l9.3 25.1M360.9 1268.8l-0.3 6.3M313.4 1259.2l1.3 6.8M490.3 1265.3l2.5-6.5M412.7 1247.5l1.5-25.2M198.9 1223.4l13.5 25M492.1 1275.4l-2.9 4.6M342 1281l-2.4-6.1M147.3 1275.1l0.7 6.4M600.1 1246.9l1.5-6.3M397 1241.3l-1.1 6.3M194.6 1251.7l3.1 6.5M398.8 1257.2l-0.3-5.9M513.8 1274.7l-4.3 6.1M354 1280.6l-2.1-6.5M608.7 1256.6l2.4-15.7M414 1241.4l-4.2 15.8M221.4 1255.8l-9.2-8.4-9.1-6.5M150.7 1240.9l-8.1 7.1-7.3 8.9M348.9 1265.1l0 5.7M250.6 1269.9l0.5 1.1M629.7 1251.9l-1.6-5.9M490.2 1246.4l-3.5 6.2M314.8 1252l-2.4-5.9M140 1246.8l-0.3 5.9M114 1271.5l-0.2 5.4M431 1271.3l-1.6 6.1M249 1277.2l-3.2-6.1M109 1261.2l-3.3 11.3M610.8 1272.3l4.3-11.9M396.5 1261.1l-1.3 11.5M187.1 1272.2l-12.1-11.4M111 1261.3l-4.9 5.1-5 6.2M572 1260.8l4.1-6.5M359.8 1254.9l0.4 6.8M495.1 1276.2l9.5-16.2M318.4 1260.9l2.7 9.9M449.6 1270l4.9-15.6M265.7 1255.3l8.6 15.6M410.2 1280.7l0.6-6.5M215.4 1275.3l4.2 6.1M670.9 1281l-5-6.2M590.5 1275l-6 6.3M377.4 1256l-0.3-6.1M153.2 1250.4l2.8 6.4M655.5 1256.3l-3.2-6.2M545.4 1250.5l-4.5 6.3M338 1251.8l-1.4-6.6M128.5 1245.9l0.8 6.2M649.7 1251.3l-1.1-6M487.3 1246.4l-2.7 6.2M292.6 1251.6l-2.4-6.6M661 1270.6l-7.3-6.2M602.4 1264.7l-8.3 6.2M376.1 1270.6l-0.5-6.6M157.8 1265l2.7 6.3M650.3 1247.3l-3.8-6.2M551.6 1241.8l-4.7 5.8M336.9 1247.3l-1.4-6.6M127.9 1241.7l0.8 6.3M649 1247l-1.1-6.1M492.2 1235.5l-11.2 25.1M294.9 1256.6l-8.4-21.4M119.9 1236.2l-2.7 24.6M636.8 1260.4l1.6-25.2M184.1 1270.7l-6.6-6.1M108.9 1264.8l-5.4 6.2M564.9 1270.8l4.2-6.4M360 1265.1l0.3 5.8M451.5 1267.5l2.1-6.7M271.3 1261.9l3.3 6.1M413.6 1252.1l0.9-6.9M195.5 1246.1l4.5 6.2M316.9 1249.5l3 10.8M453.5 1259.7l3.7-11.1M264.8 1248.2l4.8 8.5M414.4 1255.7l1.1-8.5M189.2 1236l7.7 11.1M375.8 1246.2l-0.5-11.4M147.2 1235.5l4.3 11.5M656.2 1259.6l-2.7-6M538.7 1253.9l-4.3 6.6M337.3 1259.6l-1.4-6.4M128.7 1254.2l0.1 0.8M651 1265.6l-0.7-6M481.3 1260.7l-2.5 6.2M298.2 1265.7l-2.1-5.7M116.3 1260.7l-0.1 2.3M639.3 1247.9l0.6-12M441 1236.8l-2.8 11.3M234.4 1247.5l-7.5-11M118 1236.8l-5.3 11.3M606 1277.9l4.5-11.5M179.9 1270.3l-4.2-3.9M106.2 1267l-9 11.1M360.6 1270l0.3 6.6M499.4 1275.9l3.6-6.4"/>
<path stroke="#ff6a00" d="M163 1252.2l1.7 6.2M622.3 1257.9l-6.3-3.7-6.3-2.4M587.1 1251.9l-6.9 2.5-7.3 3.7M367.9 1258l-1.3-6.8M131.9 1264.6l-1.9 6.7M617.4 1270.3l0.6-8.5M430.2 1262.3l-3.5 9.1M270.5 1270.9l-5.6-8.8M132.6 1262.3l-1.8 6.1M601.4 1242.7l1.5-6.4M397 1237.3l-1.1 6.4M292.9 1265.1l1.9 6.4M433.8 1225.3l4.4-25M212.4 1201.1l14.1 25M177.7 1257.6l-8.7-2.8-8.5-0.8-8.6 1-8.1 2.8M597 1257.4l1.9-6.1M393.3 1251.9l-1.1 6.3M563.5 1261.9l3.7-8.8M364.5 1254.1l-0.7 8.3M438.4 1247.7l1-6.5M245.9 1242.2l3 6.1M345.4 1249.7l-3.1-11.3M148.9 1239.1l1.3 11.3M627.4 1249.8l-8.9-11.3M547 1238.8l-11.7 11.4M282.4 1242l-9.1-15.6M143.1 1227.1l-4.5 15.2M623.8 1241.8l-2.7-15.3M469.9 1227.1l-7.5 15.4M441.2 1239.6l4.4-24.6M234.2 1215.4l12.4 25.3M390.7 1254.6l-0.8-8.5M183.4 1246.8l3.4 8.5M531.4 1248.7l-5.3 6.3M344.1 1254.6l-1.9-6.5M149.1 1249l0.6 6M630.2 1254.6l-3.6-6.2M234.4 1247.2l-5.6-6M141.8 1241.4l-4.2 6.2M615.7 1247.2l0.4-6M425.5 1241.5l-1.9 6.5M294.5 1241.7l4.5 15.8M623.3 1265.3l-0.4-5.8M451.3 1259.9l-3 6.4M137.1 1260.2l-1.1 6M623.3 1265.4l-0.1-1.3M390.4 1238.2l-0.9 6.4M595.5 1243.9l1.7-6.2M329.5 1264.6l0.6 6.3M508.3 1270.2l2.7-6.1M329.5 1264.5l0.4 4.2M461.7 1260.5l3.1-11.3M282.7 1249.9l4 11.3M379.8 1239.3l-2.4-25.2M162.8 1214.9l7.7 24.9M361.2 1262.3l-0.3 6.5M312.2 1253l1.2 6.2M492.8 1258.8l2.3-6M414.2 1222.3l2.2-24.6M185.9 1198.4l13 25M496.2 1269l-4.1 6.4M339.6 1274.9l-2.6-6.7M146.8 1269.3l0.5 5.8M601.6 1240.6l1.4-6.4M398.2 1234.9l-1.2 6.4M191.5 1245.2l3.1 6.5M398.5 1251.3l-0.2-6.7M518.4 1268.2l-4.6 6.5M351.9 1274.1l-1.9-6M611.1 1240.9l1.8-16.1M418 1225.6l-4 15.8M203.1 1240.9l-6.8-3.7-6.9-2.7-6.9-1.6-6.6-0.6-6.5 0.6-6.3 1.6-6.2 2.6-6.2 3.8M542.3 1258.5l0.3-0.5M348.7 1258.6l0.2 6.5M247.5 1263.4l3.1 6.5M628.1 1246l-1.9-6.3M493.9 1240.3l-3.7 6.1M312.4 1246.1l-2.8-6.6M140.5 1240.1l-0.5 6.7M114.2 1265.3l-0.2 6.2M432.5 1265.2l-1.5 6.1M245.8 1271.1l-3.7-6.6M113.3 1249.7l-4.3 11.5M615.1 1260.4l3.6-11M397.7 1250.2l-1.2 10.9M175 1260.8l-10.3-6.8-10.1-4.4M129.8 1249.7l-9.7 4.6-9.1 7M576.1 1254.3l3.8-6M359.4 1248.9l0.4 6M504.6 1260l9.7-15.3M313.5 1244.9l4.9 16M454.5 1254.4l5.5-15.5M256.1 1239.4l9.6 15.9M410.8 1274.2l0.5-5.8M211.1 1269.2l4.3 6.1M665.9 1274.8l-6.3-6.4M597.5 1268.8l-7 6.2M377.1 1249.9l-0.3-6.1M150.8 1244.5l2.4 5.9M652.3 1250.1l-3.7-6.4M550.4 1244l-5 6.5M336.6 1245.2l-1.2-5.8M127.7 1239.6l0.8 6.3M648.6 1245.3l-1.1-6M490.3 1239.5l-3 6.9M290.2 1245l-2.3-5.8M653.7 1264.4l-5.8-3.6-6-2.6M615.2 1258.3l-6.2 2.6-6.6 3.8M375.6 1264l-0.4-5.9M155.1 1258.6l2.7 6.4M646.5 1241.1l-4.5-6.2M557.3 1235.5l-5.7 6.3M335.5 1240.7l-1.2-5.9M127.2 1235.4l0.7 6.3M647.9 1240.9l-1.3-5.9M505 1210.9l-12.8 24.6M286.5 1235.2l-11-25.1M125.3 1210.5l-3.1 12.7-2.3 13M638.4 1235.2l-0.1-25.2M177.5 1264.6l-8.5-6.4M116.3 1258.4l-7.4 6.4M569.1 1264.4l4.1-6.4M359.6 1258.3l0.4 6.8M507.2 1260.5l3.6-5.6M319 1255.2l0.6 2.3M453.6 1260.8l2-5.8M267.6 1255.3l3.7 6.6M414.5 1245.2l0.9-6M191.1 1239.9l4.4 6.2M313.2 1238l3.7 11.5M457.2 1248.6l4.4-11.7M259.4 1239.3l5.4 8.9M415.5 1247.2l1.2-8.5M181.1 1224.1l8.1 11.9M375.3 1234.8l-0.3-10.8M143.3 1224.3l3.9 11.2M653.5 1253.6l-3.1-6.2M543.2 1247.6l-4.5 6.3M335.9 1253.2l-1.5-6.5M127.9 1248l0.8 6.2M650.3 1259.6l-0.8-6.1M484.2 1253.9l-2.9 6.8M296.1 1260l-2.4-6.4M116.8 1254.4l-0.5 6.3M639.9 1235.9l0.3-11.4M443.9 1225.3l-2.9 11.5M226.9 1236.5l-9.3-11.5M124.9 1225.6l-6.9 11.2M610.5 1266.4l4.2-11.3M394.4 1255.6l-1.1 10.8M175.7 1266.4l-8.5-6.5-8.3-4.7M121.6 1255.3l-7.8 4.9-7.6 6.8M567.5 1267.6l2.7-4.2M360.2 1264.1l0.4 5.9M503 1269.5l3.8-6.2"/>
<path stroke="#ff9f00" d="M161.5 1245.9l1.5 6.3M609.7 1251.8l-5.4-1.2-5.8-0.4-5.5 0.4-5.9 1.3M366.6 1251.2l-1.2-6.3M618 1261.8l0.3-8.5M433.3 1254l-3.1 8.3M264.9 1262.1l-5.9-8.6M135.6 1253.7l-3 8.6M602.9 1236.3l1.3-5.8M398.1 1230.7l-1.1 6.6M466 1264.2l1.6-5.8M291 1258.7l1.9 6.4M438.2 1200.3l5.6-25.5M197.6 1175.6l14.8 25.5M598.9 1251.3l1.8-6.1M394.3 1245.5l-1 6.4M567.2 1253.1l3.5-8.3M365 1245.5l-0.5 8.6M439.4 1241.2l1-5.8M242.5 1235.5l3.4 6.7M342.3 1238.4l-3.2-11.6M148 1227.5l0.9 11.6M618.5 1238.5l-7.2-6.5-7.9-4.9M564.6 1227.3l-9 5-8.6 6.5M273.3 1226.4l-10.7-15.9M149.6 1211.3l-6.5 15.8M621.1 1226.5l-4.1-16M478.2 1211.2l-8.3 15.9M445.6 1215l5.4-25.1M221.2 1190.5l13 24.9M389.9 1246.1l-0.8-8.8M180.2 1238.1l3.2 8.7M537 1242.7l-5.6 6M342.2 1248.1l-1.7-5.8M148.5 1243l0.6 6M626.6 1248.4l-4.1-6.1M228.8 1241.2l-6.4-6.2M146.9 1235l-5.1 6.4M616.1 1241.2l0.4-6.8M427.3 1235.6l-1.8 5.9M289.6 1225.9l4.9 15.8M622.9 1259.5l-0.5-6.4M454.3 1253.4l-3 6.5M290.2 1259.3l-3.4-6M138.4 1253.5l-1.3 6.7M391.4 1231.7l-1 6.5M597.2 1237.7l1.6-6.3M329.4 1263.2l0.1 1.4M511 1264.1l3.1-6.6M328.8 1258.2l0.7 6.3M464.8 1249.2l3.4-11.3M278.3 1238.1l4.4 11.8M377.4 1214.1l-2.1-24.7M156.4 1189.8l6.4 25.1M361.3 1256.6l-0.1 5.7M558.9 1262.2l3.2-6.4M310.9 1246.8l1.3 6.2M495.1 1252.8l2.7-6.5M416.4 1197.7l3-25.3M173.5 1173.3l12.4 25.1M633.1 1266.8l-1.4-4.4M500.4 1262.5l-4.2 6.5M337 1268.2l-2.2-5.8M146.3 1262.7l0.5 6.6M603 1234.2l1.4-6.5M399.3 1228.4l-1.1 6.5M188.7 1239.1l2.8 6.1M398.3 1244.6l-0.1-6M523.2 1261.9l-4.8 6.3M350 1268.1l-2.1-6.8M612.9 1224.8l1-15.9M422 1210l-4 15.6M542.6 1258l3.3-6.3M348.5 1252l0.2 6.6M244.5 1257.4l3 6M431 1257.5l0.1-0.7M626.2 1239.7l-2.2-6.2M498 1233.8l-4.1 6.5M309.6 1239.5l-2.5-6M141.1 1234.2l-0.6 5.9M114.6 1259l-0.4 6.3M637.9 1262.4l0.5-3.9M434 1258.9l-1.5 6.3M242.1 1264.5l-3.4-5.9M118.5 1238.4l-5.2 11.3M618.7 1249.4l3.5-11.3M398.7 1238.9l-1 11.3M154.6 1249.6l-6.5-1.4-6-0.5-6.4 0.6-5.9 1.4M579.9 1248.3l4.1-6.7M358.9 1242.8l0.5 6.1M514.3 1244.7l10.7-15.5M308.3 1229.7l5.2 15.2M460 1238.9l6.4-16.1M245.8 1223.9l10.3 15.5M411.3 1268.4l0.6-6.7M206.4 1262.6l4.7 6.6M659.6 1268.4l-8.2-6.2M606.7 1262.5l-9.2 6.3M376.8 1243.8l-0.2-6.2M148.2 1237.8l2.6 6.7M648.6 1243.7l-4.4-6.4M555.6 1237.9l-5.2 6.1M335.4 1239.4l-1.4-6.7M127 1233.2l0.7 6.4M647.5 1239.3l-1.5-6.7M493.2 1233.3l-2.9 6.2M287.9 1239.2l-2.6-6.6M641.9 1258.2l-6.6-1.7-6.6-0.5-6.8 0.6-6.7 1.7M375.2 1258.1l-0.5-6.9M152.5 1252.1l2.6 6.5M642 1234.9l-5.6-6.3M564.1 1228.9l-6.8 6.6M334.3 1234.8l-1.4-6.8M126.6 1229l0.6 6.4M646.6 1235l-1.6-6.6M627.5 1190.9l-3.8-5.7M523 1185.3l-9.3 12-8.7 13.6M275.5 1210.1l-6.8-13.2-7.2-12.1M134.3 1185.6l-4.9 11.8-4.1 13.1M638.3 1210l-2.1-24.9M396.6 1252.5l-0.3 3.4M169 1258.2l-6.2-3.6-6.3-2.7M127.3 1252.2l-5.6 2.7-5.4 3.5M573.2 1258l4.1-6.5M359.2 1252.4l0.4 5.9M510.8 1254.9l7.8-11.7M315.7 1244.4l3.3 10.8M455.6 1255l2.4-6.6M264.1 1249.3l3.5 6M415.4 1239.2l0.9-6M186.6 1233.6l4.5 6.3M309.3 1226.5l3.9 11.5M461.6 1236.9l4.4-11M253.8 1230.5l5.6 8.8M416.7 1238.7l1.3-8.6M173.7 1213l7.4 11.1M375 1224l-0.4-12M139.6 1212.8l3.7 11.5M650.4 1247.4l-3.8-6.4M547.8 1241.6l-4.6 6M334.4 1246.7l-1.2-5.7M127.2 1241.7l0.7 6.3M649.5 1253.5l-1-6M486.9 1247.7l-2.7 6.2M293.7 1253.6l-2.5-6.5M117.3 1248.2l-0.5 6.2M640.2 1224.5l-0.1-11.5M446.8 1214.4l-2.9 10.9M217.6 1225l-11.9-11.5M134.8 1213.9l-5.1 5.5-4.8 6.2M614.7 1255.1l3.9-11.7M395.3 1244.4l-0.9 11.2M158.9 1255.2l-9.7-3.3-9.4-1.1-9.2 1.2-9 3.3M570.2 1263.4l4.2-6.4M359.9 1258.1l0.3 6M506.8 1263.3l3.9-6.2"/>
<path stroke="#ffd400" d="M160 1239.5l1.5 6.4M365.4 1244.9l-1.1-5.6M618.3 1253.3l0.1-8.6M436.6 1245l-3.3 9M259 1253.5l-6.3-8.9M139.3 1245l-3.7 8.7M604.2 1230.5l1.4-6.5M399.1 1224.8l-1 5.9M467.6 1258.4l1.9-6.5M289 1252.4l2 6.3M443.8 1174.8l6.6-25M182.7 1150.6l14.9 25M600.7 1245.2l1.6-6.3M395.4 1239l-1.1 6.5M570.7 1244.8l3.6-9.1M365.5 1236.8l-0.5 8.7M440.4 1235.4l1.2-6.5M239.3 1229.4l3.2 6.1M339.1 1226.8l-3.1-11.2M147.5 1215.8l0.5 11.7M603.4 1227.1l-9.1-3.4-9.8-1.1-10 1.2-9.9 3.5M262.6 1210.5l-6.6-8.3-6.6-7.2M159.3 1195.6l-5 7.3-4.7 8.4M617 1210.5l-5.9-15.7M487.8 1195.3l-9.6 15.9M451 1189.9l6.8-25.4M207.1 1165.4l14.1 25.1M389.1 1237.3l-0.7-8.9M177 1229.2l3.2 8.9M543.8 1236.3l-6.8 6.4M340.5 1242.3l-2-6.7M148 1236.3l0.5 6.7M622.5 1242.3l-5.2-6.3M222.4 1235l-7.9-6.3M153 1228.9l-6.1 6.1M616.5 1234.4l0.3-6.1M429.3 1228.9l-2 6.7M284.1 1210l5.5 15.9M622.4 1253.1l-0.7-6.4M457.2 1247.4l-2.9 6M286.8 1253.3l-3.8-6.5M139.8 1247.6l-1.4 5.9M392.3 1225.8l-0.9 5.9M598.8 1231.4l1.6-6.4M514.1 1257.5l2.8-6.1M328 1251.8l0.8 6.4M468.2 1237.9l3.8-11.9M273.8 1226.9l4.5 11.2M375.3 1189.4l-2.2-24.9M151.6 1164.6l4.8 25.2M361.5 1250l-0.2 6.6M562.1 1255.8l3.1-6.4M309.5 1240.6l1.4 6.2M497.8 1246.3l2.7-6.5M419.4 1172.4l3.8-25M161.5 1148l12 25.3M631.7 1262.4l-2.2-6.4M504.4 1256.6l-4 5.9M334.8 1262.4l-2.4-6.5M146 1256.8l0.3 5.9M604.4 1227.7l1.1-5.9M400.4 1222.6l-1.1 5.8M185.8 1233l2.9 6.1M398.2 1238.6l-0.1-6.2M631.9 1259.5l-2.2-4.1M528.1 1255.8l-4.9 6.1M347.9 1261.3l-1.9-6.3M151 1255.7l0.5 4M613.9 1208.9l0.2-15.4M426.2 1194.1l-4.2 15.9M545.9 1251.7l3.3-6.4M348.3 1246.1l0.2 5.9M241.3 1250.9l3.2 6.5M431.1 1256.8l0.7-6.5M624 1233.5l-2.6-6.5M502.2 1227.5l-4.2 6.3M307.1 1233.5l-2.9-6.7M141.9 1227.6l-0.8 6.6M115.1 1252.8l-0.5 6.2M638.4 1258.5l0.7-6.2M435.5 1252.5l-1.5 6.4M238.7 1258.6l-3.8-6.4M125.2 1227.1l-6.7 11.3M622.2 1238.1l3.2-11.7M399.7 1227.5l-1 11.4M584 1241.6l3.7-6.2M358.3 1235.9l0.6 6.9M525 1229.2l12.2-16.2M302.2 1213.8l6.1 15.9M466.4 1222.8l6.8-15.2M234.4 1208.2l11.4 15.7M411.9 1261.7l0.7-5.9M202.1 1256.4l4.3 6.2M651.4 1262.2l-8.8-4.1-8.7-2M625.1 1256.2l-9.2 2.1-9.2 4.2M376.6 1237.6l-0.2-6.3M145.9 1231.7l2.3 6.1M644.2 1237.3l-5.1-6.3M561.9 1231.5l-6.3 6.4M334 1232.7l-1.2-6M126.5 1227.6l0.5 5.6M646 1232.6l-1.5-5.9M496.1 1227.1l-2.9 6.2M285.3 1232.6l-2.4-5.9M374.7 1251.2l-0.3-6M150.2 1246.1l2.3 6M636.4 1228.6l-6.9-6.1M572.1 1222.7l-8 6.2M332.9 1228l-1.2-6M126.1 1223.3l0.5 5.7M645 1228.4l-1.8-6.6M623.7 1185.2l-7.2-8.8-7.6-7-8.3-5.5-8.4-3.8M557.9 1160.2l-8.8 3.8-9 5.5-8.9 7.2-8.2 8.6M261.5 1184.8l-9.8-13.6-10.7-11.5M150.8 1160.4l-8.7 11.2-7.8 14M636.2 1185.1l-2.2-13.2-2.9-12.3M397.2 1246.5l-0.6 6M156.5 1251.9l-7.7-2-7.3-0.5-7.1 0.7-7.1 2.1M577.3 1251.5l3.7-6M358.7 1246.4l0.5 6M518.6 1243.2l8.1-11.4M311.9 1232.9l3.8 11.5M458 1248.4l2.1-5.9M260.2 1242.8l3.9 6.5M416.3 1233.2l1-6.1M182.4 1227.7l4.2 5.9M305 1215l4.3 11.5M466 1225.9l5.1-11.6M248 1221.9l5.8 8.6M418 1230.1l1.5-8.7M166.2 1201.6l7.5 11.4M374.6 1212l-0.2-11.2M136.2 1201.6l3.4 11.2M646.6 1241l-4.4-6.5M553.4 1235l-5.6 6.6M333.2 1241l-1.4-6.7M126.6 1235.3l0.6 6.4M648.5 1247.5l-1.3-6.7M489.6 1241.5l-2.7 6.2M291.2 1247.1l-2.5-6.5M118 1242l-0.7 6.2M640.1 1213l-0.4-10.8M450 1202.5l-3.2 11.9M205.7 1213.5l-8.9-6.4-9.3-4.7M151.3 1202.6l-8.3 4.6-8.2 6.7M618.6 1243.4l3.5-11.3M396.2 1233l-0.9 11.4M574.4 1257l4.2-6.5M359.4 1251.3l0.5 6.8M510.7 1257.1l3.9-6.2"/>
<path stroke="#f4ff00" d="M158.6 1233.1l1.4 6.4M364.3 1239.3l-1.2-6.5M618.4 1244.7l-0.1-8.7M439.8 1236.4l-3.2 8.6M252.7 1244.6l-7.1-8.9M143.7 1236.5l-4.4 8.5M605.6 1224l1.3-6.6M400.2 1218.1l-1.1 6.7M469.5 1251.9l2-6.5M286.8 1246l2.2 6.4M450.4 1149.8l8.3-25.1M167 1125.5l15.7 25.1M602.3 1238.9l1.7-6.4M396.3 1233.1l-0.9 5.9M574.3 1235.7l3.3-8.7M366 1227.9l-0.5 8.9M441.6 1228.9l1.2-6.6M236.1 1223.4l3.2 6M336 1215.6l-3.3-11.3M147.5 1204.6l0 11.2M249.4 1195l-9.9-8.9-9.7-6.6M176.2 1179.7l-8.8 6.8-8.1 9.1M611.1 1194.8l-4-8.2-4.3-7.1M499.5 1179.7l-11.7 15.6M457.8 1164.5l8-24.8M192 1140l15.1 25.4M388.4 1228.4l-0.6-8.4M174.1 1220.7l2.9 8.5M552.1 1229.8l-8.3 6.5M338.5 1235.6l-1.7-6M147.7 1230.2l0.3 6.1M617.3 1236l-6.9-6.4M214.5 1228.7l-10.5-6.3M162.3 1222.5l-9.3 6.4M616.8 1228.3l0.1-6.2M431.2 1222.8l-1.9 6.1M278.3 1194.9l5.8 15.1M621.7 1246.7l-0.8-6.3M460.1 1241.3l-2.9 6.1M283 1246.8l-3.5-6M141.5 1241.2l-1.7 6.4M393.1 1219.9l-0.8 5.9M600.4 1225l1.5-6.5M516.9 1251.4l3-6.1M327.2 1245.4l0.8 6.4M472 1226l3.9-11.3M269 1215.8l4.8 11.1M373.1 1164.5l-2.6-25.6M148.4 1139.6l3.2 25M361.6 1244l-0.1 6M565.2 1249.4l2.9-6M308.1 1234.4l1.4 6.2M500.5 1239.8l2.6-5.9M423.2 1147.4l4.7-25.6M150.3 1123.3l11.2 24.7M629.5 1256l-2.5-6.2M508.8 1250.3l-4.4 6.3M332.4 1255.9l-2.2-6M145.8 1250.2l0.2 6.6M605.5 1221.8l1.2-6.7M401.5 1216l-1.1 6.6M183.1 1226.7l2.7 6.3M398.1 1232.4l-0.1-6.1M629.7 1255.4l-3.9-6.5M533.5 1249.6l-5.4 6.2M346 1255l-1.7-5.7M150.3 1249.8l0.7 5.9M614.1 1193.5l-0.7-15.6M430.7 1178.6l-4.5 15.5M549.2 1245.3l3.3-6.4M348 1239.4l0.3 6.7M238.3 1244.9l3 6M431.8 1250.3l0.8-6.5M621.4 1227l-2.9-6.2M506.6 1221.3l-4.4 6.2M304.2 1226.8l-2.7-6.1M142.8 1221.7l-0.9 5.9M115.8 1246.6l-0.7 6.2M639.1 1252.3l0.5-6.4M437.1 1246.1l-1.6 6.4M234.9 1252.2l-4-6.3M134.6 1215.6l-9.4 11.5M625.4 1226.4l2.8-11.3M400.6 1215.7l-0.9 11.8M587.7 1235.4l3.8-6.3M357.7 1229.7l0.6 6.2M537.2 1213l12.5-15.2M295.3 1198l6.9 15.8M473.2 1207.6l7.9-15.7M221.8 1192.6l12.6 15.6M412.6 1255.8l0.7-6M197.7 1250.1l4.4 6.3M633.9 1256.1l-8.8 0.1M376.4 1231.3l-0.1-6.3M143.6 1225.4l2.3 6.3M639.1 1231l-6.3-6.1M569.3 1225.2l-7.4 6.3M332.8 1226.7l-1.4-6.9M126 1221.1l0.5 6.5M644.5 1226.7l-1.9-6.4M499.2 1220.9l-3.1 6.2M282.9 1226.7l-2.8-6.6M374.4 1245.2l-0.3-6.2M148 1240l2.2 6.1M629.5 1222.5l-5.6-3.7-5.4-2.7M583.7 1216.4l-11.6 6.3M331.7 1222l-1.3-6M125.7 1216.8l0.4 6.5M643.2 1221.8l-1.8-5.7M592.2 1160.1l-8.3-2.1-8.4-0.7-8.6 0.7-9 2.2M241 1159.7l-10.7-8.5-11.7-6.4-11.8-3.7-12-1.2-12 1.3-11.3 3.9-11 6.5-9.7 8.8M631.1 1159.6l-4.1-12.9-4.9-11.6M397.9 1239.6l-0.7 6.9M581 1245.5l3.8-6.2M358.2 1240.3l0.5 6.1M526.7 1231.8l8.4-11.3M307.8 1221.4l4.1 11.5M460.1 1242.5l2.6-6.6M256.2 1236.4l4 6.4M417.3 1227.1l1.3-7.1M177.9 1221.2l4.5 6.5M300.4 1203.6l4.6 11.4M471.1 1214.3l5.5-11.4M242 1213.4l6 8.5M419.5 1221.4l1.6-8.8M160.1 1192.3l6.1 9.3M374.4 1200.8l-0.2-11.4M133 1190.1l3.2 11.5M642.2 1234.5l-5.1-6.2M559.7 1228.6l-6.3 6.4M331.8 1234.3l-1.3-5.9M126.1 1228.9l0.5 6.4M647.2 1240.8l-1.3-5.9M492.5 1235.3l-2.9 6.2M288.7 1240.6l-2.3-5.8M119 1235.1l-1 6.9M639.7 1202.2l-1-11.7M453.2 1191.4l-3.2 11.1M187.5 1202.4l-9.1-2.8-9.2-0.9-9.1 1-8.8 2.9M622.1 1232.1l3.4-11.8M397 1221.4l-0.8 11.6M578.6 1250.5l3.8-6M358.9 1245.3l0.5 6M514.6 1250.9l4.1-6.1"/>
<path stroke="#bfff00" d="M157.5 1227.2l1.1 5.9M363.1 1232.8l-1.1-6.5M618.3 1236l-0.4-8.7M443.1 1227.6l-3.3 8.8M245.6 1235.7l-7.7-8.6M149.2 1227.8l-5.5 8.7M606.9 1217.4l1.1-6M401.1 1212.1l-0.9 6M471.5 1245.4l1.9-5.9M284.9 1240.3l1.9 5.7M458.7 1124.7l10.6-24.9M150.4 1100.8l16.6 24.7M604 1232.5l1.5-6.5M397.3 1226.4l-1 6.7M577.6 1227l3.1-8.3M366.3 1218.9l-0.3 9M442.8 1222.3l1.2-5.9M232.5 1216.7l3.6 6.7M332.7 1204.3l-3.5-11.5M147.9 1193.3l-0.4 11.3M229.8 1179.5l-7-3.4-6.6-2.3-7.2-1.5-6.8-0.5-6.7 0.5-6.5 1.5-6.3 2.4-6.5 3.5M602.8 1179.5l-6.7-8.8-7.1-7.1M515.5 1164.2l-8.1 7-7.9 8.5M465.8 1139.7l10.2-25.5M175.7 1114.8l16.3 25.2M387.8 1220l-0.6-9.2M171.1 1211.5l3 9.2M563 1223.7l-10.9 6.1M336.8 1229.6l-1.8-6.1M147.4 1224l0.3 6.2M610.4 1229.6l-9.7-6.2M563.1 1223.6l-1.2 0.6M204 1222.4l-10.9-4-10.5-1.2-10.4 1.3-9.9 4M616.9 1222.1l0-6.2M433.1 1216.7l-1.9 6.1M271.7 1179.1l6.6 15.8M620.9 1240.4l-1-6.3M463.3 1234.6l-3.2 6.7M279.5 1240.8l-4-6.5M143.4 1235l-1.9 6.2M394.1 1213.1l-1 6.8M601.9 1218.5l1.2-5.9M519.9 1245.3l3.2-6.7M326.4 1239.6l0.8 5.8M475.9 1214.7l4.3-11.3M263.6 1204.1l5.4 11.7M370.5 1138.9l-3.6-25.2M147.3 1115.1l1.1 24.5M361.7 1237.2l-0.1 6.8M568.1 1243.4l3.1-6.5M306.6 1228.1l1.5 6.3M503.1 1233.9l2.9-6.5M427.9 1121.8l5.9-24.9M138.8 1097.9l11.5 25.4M627 1249.8l-3-6.5M513.6 1243.7l-4.8 6.6M330.2 1249.9l-2.5-6.8M145.7 1244.2l0.1 6M606.7 1215.1l0.9-6M402.6 1210l-1.1 6M180.3 1220.4l2.8 6.3M398 1226.3l0-6.3M625.8 1248.9l-4.3-5.9M539.8 1243.2l-6.3 6.4M344.3 1249.3l-1.9-6.5M149.6 1243.2l0.7 6.6M613.4 1177.9l-1.7-15.7M435.7 1163.1l-5 15.5M552.5 1238.9l3.1-5.9M347.6 1233.4l0.4 6M234.9 1238.4l3.4 6.5M432.6 1243.8l0.8-5.8M618.5 1220.8l-3.2-6M511.5 1214.9l-4.9 6.4M301.5 1220.7l-2.8-6M144 1215.2l-1.2 6.5M116.5 1240.3l-0.7 6.3M639.6 1245.9l0.5-6.4M438.5 1240.4l-1.4 5.7M230.9 1245.9l-4.5-6.6M149.8 1204.1l-7.7 4.8-7.5 6.7M628.2 1215.1l2.7-11.6M401.5 1204.7l-0.9 11M591.5 1229.1l3.4-5.9M357.1 1223.5l0.6 6.2M549.7 1197.8l14.1-15.9M287.6 1182.5l7.7 15.5M481.1 1191.9l9.3-16M207.4 1176.5l14.4 16.1M413.3 1249.8l0.9-6.8M193.3 1243.8l4.4 6.3M376.3 1225l-0.1-6.5M141.4 1219l2.2 6.4M632.8 1224.9l-8.9-6.3M578.9 1219l-9.6 6.2M331.4 1219.8l-1.3-6M125.6 1214.5l0.4 6.6M642.6 1220.3l-2.1-6.4M502.4 1214.9l-3.2 6M280.1 1220.1l-1.6-3.6M374.1 1239l-0.3-6.2M145.8 1233.8l2.2 6.2M618.5 1216.1l-8.4-2.6-8.6-0.8-8.7 0.9-9.1 2.8M330.4 1216l-1.3-6.1M125.4 1210.1l0.3 6.7M641.4 1216.1l-2.3-6.2M622.1 1135.1l-8.1-13.8-4.7-6-5.2-5.6M398.4 1233.5l-0.5 6.1M584.8 1239.3l3.7-6.2M357.6 1233.3l0.6 7M535.1 1220.5l9.2-11.5M303.3 1209.9l4.5 11.5M462.7 1235.9l2.6-6.5M252.4 1230.6l3.8 5.8M418.6 1220l1.1-6.1M173.3 1214.7l4.6 6.5M551.4 1199.2l6.7-7.7M295.3 1192.3l5.1 11.3M476.6 1202.9l6-11.3M235.3 1204.4l6.7 9M421.1 1212.6l1.8-8.9M374.2 1189.4l-0.2-11.7M130.2 1179.1l2.8 11M637.1 1228.3l-6.3-6.2M566.8 1222.7l-7.1 5.9M330.5 1228.4l-1.5-6.8M125.7 1222.4l0.4 6.5M645.9 1234.9l-1.7-6.6M495.4 1229.2l-2.9 6.1M286.4 1234.8l-2.6-6.6M120 1228.9l-1 6.2M638.7 1190.5l-1.5-11.8M456.8 1180.3l-3.6 11.1M625.5 1220.3l2.9-11.3M397.7 1210.4l-0.7 11M582.4 1244.5l3.8-6.1M358.3 1239.2l0.6 6.1M518.7 1244.8l4.5-6.6"/>
<path stroke="#8aff00" d="M156.2 1220.6l1.3 6.6M362 1226.3l-1.1-5.9M617.9 1227.3l-0.7-8.7M446.5 1218.7l-3.4 8.9M237.9 1227.1l-9.4-8.6M156.7 1218.8l-7.5 9M608 1211.4l1-6.2M402.1 1206l-1 6.1M473.4 1239.5l2.2-6.5M282.6 1233.9l2.3 6.4M469.3 1099.8l6.9-13 7.7-12M130.7 1075.6l9.7 11.7 10 13.5M605.5 1226l1.5-6.5M398.2 1220.4l-0.9 6M580.7 1218.7l3.2-9M366.6 1210.5l-0.3 8.4M444 1216.4l1.4-6.7M229.2 1210.6l3.3 6.1M329.2 1192.8l-3.7-11.5M148.8 1182l-0.9 11.3M589 1163.6l-8.4-6.1-8.7-4.2-9.3-2.5-9.5-0.7-9.7 1-9.5 2.7-9.2 4.3-9.2 6.1M476 1114.2l6.4-13.3 6.6-11.7M157.4 1089.9l18.3 24.9M387.2 1210.8l-0.5-8.6M168.7 1203.3l2.4 8.2M565 1222.8l-2 0.9M335 1223.5l-2.1-6.9M147.3 1217.8l0.1 6.2M600.7 1223.4l-8.8-3.1-9.5-1-9.7 1.1-9.6 3.2M616.9 1215.9l-0.1-6.2M435 1210.5l-1.9 6.2M264.4 1163.5l7.3 15.6M619.9 1234.1l-1.2-6.3M466.4 1228.5l-3.1 6.1M275.5 1234.3l-4.1-6.3M145.8 1228.3l-2.4 6.7M394.9 1207l-0.8 6.1M603.1 1212.6l1.4-6.6M523.1 1238.6l3-6.1M325.4 1233.1l1 6.5M480.2 1203.4l4.5-11.3M257.9 1192.5l5.7 11.6M366.9 1113.7l-5.6-25.3M148.9 1089.9l-1.2 11.9-0.4 13.3M361.7 1231.1l0 6.1M571.2 1236.9l2.9-6.2M305 1221.8l1.6 6.3M506 1227.4l3-6.4M433.8 1096.9l7.7-25.1M126.8 1072.7l12 25.2M624 1243.3l-3.2-6.1M518.7 1237.4l-5.1 6.3M327.7 1243.1l-2.2-6.2M145.7 1237.5l0 6.7M607.6 1209.1l0.9-6.2M403.8 1203.2l-1.2 6.8M177.6 1213.9l2.7 6.5M398 1220l0-6.3M621.5 1243l-5.5-6.2M546.7 1237.1l-6.9 6.1M342.4 1242.8l-2-6.7M149.1 1237.1l0.5 6.1M611.7 1162.2l-3-15.6M441.9 1146.9l-6.2 16.2M555.6 1233l3.3-6.5M347.3 1227.3l0.3 6.1M231.8 1232.4l3.1 6M433.4 1238l0.9-6.7M615.3 1214.8l-4.1-6.4M516.7 1208.8l-5.2 6.1M298.7 1214.7l-3.2-6.7M145.4 1208.7l-1.4 6.5M117.5 1234.1l-1 6.2M640.1 1239.5l0.3-6.4M440 1233.8l-1.5 6.6M226.4 1239.3l-4.7-6.3M188.5 1202.6l-10-2.9-9.6-0.7-9.5 1.4-9.6 3.7M630.9 1203.5l2.2-11.2M402.3 1193.4l-0.8 11.3M594.9 1223.2l3.7-6.5M356.4 1217.2l0.7 6.3M563.8 1181.9l15.6-15.8M278.6 1166.7l9 15.8M490.4 1175.9l10.3-15.4M192 1161.1l15.4 15.4M414.2 1243l0.8-6M188.9 1237.5l4.4 6.3M376.2 1218.5l-0.1-6.5M139.2 1212.5l2.2 6.5M623.9 1218.6l-5.4-2.6-5.6-1.8-5.2-1-5.8-0.4-5.8 0.4-5.8 1.2-11.4 4.6M330.1 1213.8l-1.3-6.2M125.4 1208.7l0.2 5.8M640.5 1213.9l-2.3-6.2M506.1 1208.3l-3.7 6.6M373.8 1232.8l-0.3-6.3M143.6 1227.5l2.2 6.3M329.1 1209.9l-1.3-6.2M125.2 1204.3l0.2 5.8M639.1 1209.9l-2.7-6.8M604.1 1109.7l-10.8-8.7-6.1-3.6-6.6-3.1-13.3-3.9-14.2-1.5-14.4 1.1-13.8 3.7-13.6 6.4-11.9 8.6M398.9 1227.3l-0.5 6.2M588.5 1233.1l3.8-6.4M357 1227.1l0.6 6.2M544.3 1209l9.6-11.4M298.5 1198.5l4.8 11.4M465.3 1229.4l2.5-5.8M248.1 1224.3l4.3 6.3M419.7 1213.9l1.2-6.2M169.1 1208.6l4.2 6.1M558.1 1191.5l10.1-11.1M289.8 1181.1l5.5 11.2M482.6 1191.6l6.8-11.8M228.4 1195.7l6.9 8.7M422.9 1203.7l1.9-8.9M374 1177.7l-0.1-10.8M127.5 1167.7l2.7 11.4M630.8 1222.1l-9-6.3M576.9 1216.1l-10.1 6.6M329 1221.6l-1.3-6M125.4 1216.6l0.3 5.8M644.2 1228.3l-1.8-6.5M498.4 1223.1l-3 6.1M283.8 1228.2l-2.5-5.8M121.2 1222.8l-1.2 6.1M637.2 1178.7l-1.9-10.8M460.9 1168.4l-4.1 11.9M628.4 1209l2.5-10.9M398.5 1198.3l-0.8 12.1M586.2 1238.4l3.8-6.2M357.7 1233l0.6 6.2M523.2 1238.2l4.2-6"/>
<path stroke="#55ff00" d="M155.2 1214.5l1 6.1M360.9 1220.4l-1.2-6.7M617.2 1218.6l-1-8.8M449.8 1210.4l-3.3 8.3M228.5 1218.5l-6.2-4.7-6.5-4M167.3 1210.1l-5.5 4-5.1 4.7M609 1205.2l0.9-6.2M403.1 1199.9l-1 6.1M475.6 1233l2.2-6.5M280.2 1227.6l2.4 6.3M483.9 1074.8l11.1-13.8 11.6-11M103.6 1050.2l13.6 11.4 13.5 14M607 1219.5l1.2-6M399 1214.3l-0.8 6.1M583.9 1209.7l2.9-8.6M366.9 1202l-0.3 8.5M445.4 1209.7l1.4-5.9M225.8 1204.5l3.4 6.1M325.5 1181.3l-4.1-11.6M150.2 1170.7l-1.4 11.3M489 1089.2l8.7-12.8 9.7-11.8M134.7 1065.1l11.1 11.2 11.6 13.6M386.7 1202.2l-0.5-8.7M166.1 1194.3l2.6 9M332.9 1216.6l-1.9-6.3M147.3 1211.6l0 6.2M616.8 1209.7l-0.3-6.3M437 1204.2l-2 6.3M256 1147.4l8.4 16.1M618.7 1227.8l-1.4-6.2M469.5 1222.3l-3.1 6.2M271.4 1228l-4.3-6.3M148.2 1222.5l-2.4 5.8M395.8 1200.9l-0.9 6.1M604.5 1206l1.1-6.1M526.1 1232.5l3.1-6.1M324.4 1226.5l1 6.6M484.7 1192.1l4.9-11.2M252.2 1181.6l5.7 10.9M361.3 1088.4l-4.2-12.9-5.4-11.8M155.6 1064.6l-4 11.8-2.7 13.5M361.7 1225l0 6.1M574.1 1230.7l2.8-6.2M303.3 1215.5l1.7 6.3M509 1221l2.8-5.9M441.5 1071.8l5.1-12.9 6-11.9M112.4 1047.4l6.9 11.3 7.5 14M620.8 1237.2l-3.8-6.2M523.9 1231.4l-5.2 6M325.5 1236.9l-2.3-6.2M145.9 1231.5l-0.2 6M608.5 1202.9l0.8-6.2M404.8 1197.1l-1 6.1M175.1 1208l2.5 5.9M398 1213.7l0.1-6.4M616 1236.8l-7.4-6.3M555.7 1230.6l-9 6.5M340.4 1236.1l-1.7-6M148.7 1231l0.4 6.1M608.7 1146.6l-5-16M449.3 1131.2l-7.4 15.7M558.9 1226.5l3.1-6M346.8 1221.2l0.5 6.1M228.3 1225.9l3.5 6.5M434.3 1231.3l0.9-5.9M611.2 1208.4l-4.8-6.3M522.9 1202.4l-6.2 6.4M295.5 1208l-3-6M147 1202.3l-1.6 6.4M118.5 1227.9l-1 6.2M640.4 1233.1l0.3-6.5M441.4 1227.9l-1.4 5.9M221.7 1233l-4.9-5.9M633.1 1192.3l2-11.5M403.2 1182l-0.9 11.4M598.6 1216.7l3.4-6.1M355.6 1210.9l0.8 6.3M579.4 1166.1l16.6-15.4M268.5 1151.4l10.1 15.3M500.7 1160.5l12.7-15.9M174.2 1145.5l17.8 15.6M415 1237l0.9-6.1M184.9 1231.6l4 5.9M376.1 1212l-0.1-6.5M137.3 1206.7l1.9 5.8M328.8 1207.6l-1.3-6.1M125.2 1202l0.2 6.7M638.2 1207.7l-2.6-6M510 1201.9l-3.9 6.4M373.5 1226.5l-0.2-6.3M141.5 1221.1l2.1 6.4M327.8 1203.7l-1.6-7.1M125.1 1197.6l0.1 6.7M636.4 1203.1l-2.8-5.9M399.4 1221l-0.5 6.3M592.3 1226.7l3.7-6.4M356.3 1220.9l0.7 6.2M553.9 1197.6l10-11.1M293.2 1187.3l5.3 11.2M467.8 1223.6l2.9-6.5M243.7 1218.1l4.4 6.2M420.9 1207.7l1.3-6.3M164.9 1202.4l4.2 6.2M568.2 1180.4l11.1-11.5M283.5 1169.4l6.3 11.7M489.4 1179.8l7.4-11.4M221.2 1187.1l7.2 8.6M424.8 1194.8l2-8.9M157.8 1187.2l1.1 1.8M373.9 1166.9l-0.2-11.9M125 1156l2.5 11.7M621.8 1215.8l-5.5-2.6-5.6-1.8-5.3-1-5.8-0.4-5.3 0.4-5.9 1.2-11.5 4.5M327.7 1215.6l-1.4-6.1M125.2 1210l0.2 6.6M642.4 1221.8l-2.1-6.3M501.9 1216.4l-3.5 6.7M281.3 1222.4l-2.9-6.5M122.5 1216.7l-1.3 6.1M635.3 1167.9l-2.8-11.6M465.3 1157.4l-4.4 11M630.9 1198.1l2.5-12M399.2 1186.9l-0.7 11.4M590 1232.2l3.8-6.3M357.1 1226.8l0.6 6.2M527.4 1232.2l4.7-6.5"/>
<path stroke="#20ff00" d="M154.3 1208.4l0.9 6.1M359.7 1213.7l-1.1-6M616.2 1209.8l-1.3-8.6M453.5 1201.5l-3.7 8.9M215.8 1209.8l-6.2-2.9-6.2-2.1-6.4-1.3-6.3-0.4-6.3 0.5-5.7 1.3-5.6 2.1-5.8 3.1M609.9 1199l0.9-6.2M404.2 1193.6l-1.1 6.3M477.8 1226.5l2.1-5.8M277.8 1221.2l2.4 6.4M506.6 1050l11.6-8.3 13.1-7.1 14.3-5.7 15.4-4.3M678.8 1025.2l17.2 5.1M67.3 1030.7l9.7 4 9.7 4.7 8.5 5 8.4 5.8M608.2 1213.5l1.2-6.1M399.9 1208.1l-0.9 6.2M586.8 1201.1l2.9-8.8M367.1 1193.3l-0.2 8.7M446.8 1203.8l1.4-6M222 1197.9l3.8 6.6M321.4 1169.7l-4.6-11.5M152.4 1159.4l-2.2 11.3M507.4 1064.6l7.3-7.3 8.5-7 8.7-6 9-5.2M98.4 1039.7l9.5 5.2 9.3 6 8.9 6.7 8.6 7.5M386.2 1193.5l-0.5-8.9M163.8 1185.7l2.3 8.6M331 1210.3l-1.9-6.3M147.5 1205.3l-0.2 6.3M616.5 1203.4l-0.4-6.2M439.1 1198l-2.1 6.2M246.6 1131.6l9.4 15.8M617.3 1221.6l-1.6-6M472.8 1216.2l-3.3 6.1M267.1 1221.7l-4.4-6M151.4 1215.8l-3.2 6.7M396.7 1194.7l-0.9 6.2M605.6 1199.9l1-6.1M529.2 1226.4l3.4-6.7M323.4 1220.7l1 5.8M489.6 1180.9l5.5-11.8M245.8 1170.2l6.4 11.4M351.7 1063.7l-4.4-7.4-4.8-6.4-5.8-6.1-6.1-5.1M174.3 1039.4l-6.1 5.6-4.9 5.9-4.3 6.8-3.4 6.9M361.6 1218.8l0.1 6.2M576.9 1224.5l2.8-6.3M301.5 1209.2l1.8 6.3M511.8 1215.1l3.1-6.4M452.6 1047l4.6-7.6 4.9-6.7 5.2-5.7 5.2-4.8M90.5 1022.6l5.9 5.2 5.7 6 10.3 13.6M617 1231l-4.8-6.4M530 1225.1l-6.1 6.3M323.2 1230.7l-2.4-6.4M146.2 1225.5l-0.3 6M609.3 1196.7l0.7-6.3M405.9 1190.9l-1.1 6.2M172.5 1201.4l2.6 6.6M398.1 1207.3l0.1-6.4M608.6 1230.5l-6.1-3.7-5.9-2.6M569 1224.3l-6.7 2.7-6.6 3.6M338.7 1230.1l-1.8-6.1M148.4 1224.9l0.3 6.1M603.7 1130.6l-3.4-8-4.1-7.7M458.9 1115.7l-9.6 15.5M562 1220.5l3.4-6.7M346.3 1215l0.5 6.2M225.1 1219.8l3.2 6.1M435.2 1225.4l1-6.7M606.4 1202.1l-6-6.3M529.8 1196.4l-6.9 6M292.5 1202l-3.1-6M148.8 1196.1l-1.8 6.2M279.1 1223.4l-1.3-2.9M119.9 1221l-1.4 6.9M640.7 1226.6l0.1-5.8M443.1 1221.2l-1.7 6.7M216.8 1227.1l-6-6.4M635.1 1180.8l1.8-11.7M404.1 1170.4l-0.9 11.6M602 1210.6l3.8-6.7M354.8 1204.6l0.8 6.3M596 1150.7l19-15.7M255.9 1135.7l12.6 15.7M513.4 1144.6l14.9-15.3M153.1 1129.5l21.1 16M415.9 1230.9l1-6.1M180.5 1225.1l4.4 6.5M376 1205.5l-0.1-5.7M135.5 1200.7l1.8 6M327.5 1201.5l-1.4-6.2M125.2 1196.1l0 5.9M635.6 1201.7l-3.1-6.5M514.1 1195.6l-4.1 6.3M373.3 1220.2l-0.3-6.5M139.5 1214.5l2 6.6M326.2 1196.6l-1.4-6.2M125.2 1191.6l-0.1 6M633.6 1197.2l-3.4-6.3M399.9 1214.7l-0.5 6.3M596 1220.3l3.4-6M355.6 1214.6l0.7 6.3M563.9 1186.5l10.9-11.5M287 1175.4l6.2 11.9M470.7 1217.1l3-6.5M238.8 1211.4l4.9 6.7M422.2 1201.4l1.4-6.2M160.7 1196.1l4.2 6.3M579.3 1168.9l12-11.7M276.5 1157.9l7 11.5M496.8 1168.4l8-11.1M213.2 1178.3l8 8.8M426.8 1185.9l2-8.1M151.9 1178.2l5.9 9M373.7 1155l-0.1-11.2M122.9 1144.9l2.1 11.1M326.3 1209.5l-1.4-6.1M125.1 1204.2l0.1 5.8M640.3 1215.5l-2.3-6.2M505.2 1210.5l-3.3 5.9M278.4 1215.9l-2.9-6.5M124 1210.7l-1.5 6M632.5 1156.3l-3.6-11.4M470.6 1145.8l-5.3 11.6M633.4 1186.1l2-10.7M399.8 1176.3l-0.6 10.6M593.8 1225.9l3.8-6.4M356.3 1220.6l0.8 6.2M532.1 1225.7l4.9-6.5"/>
<path stroke="#00ff15" d="M153.5 1202.2l0.8 6.2M358.6 1207.7l-1-6.1M614.9 1201.2l-1.8-9.3M457.4 1192.6l-3.9 8.9M610.8 1192.8l0.7-6.4M405.2 1187.4l-1 6.2M479.9 1220.7l2.5-6.5M275.2 1214.9l2.6 6.3M561 1024.6l13.9-2.8 15.2-2 16.2-1.1 14.5-0.2 14.4 0.5 15.7 1.3 14.6 2.1 13.3 2.8M609.4 1207.4l1.1-6.2M400.8 1201.9l-0.9 6.2M589.7 1192.3l2.7-8.9M367.2 1184.5l-0.1 8.8M448.2 1197.8l1.6-6.7M218.5 1191.8l3.5 6.1M316.8 1158.2l-5.1-11.3M155.5 1147.7l-3.1 11.7M540.9 1039.1l15.2-6.6 16.7-5.1 19.4-3.9 19.9-2.3 21-0.7 22.7 0.8 21.1 2.5 20.1 4.3M68.4 1028.4l15.6 5.1 14.4 6.2M385.7 1184.6l-0.4-8.1M161.7 1177l2.1 8.7M329.1 1204l-1.8-5.6M147.8 1199l-0.3 6.3M616.1 1197.2l-0.6-6.3M441.2 1191.7l-2.1 6.3M236 1116.2l10.6 15.4M615.7 1215.6l-2-6.6M476.5 1209.6l-3.7 6.6M262.7 1215.7l-4.9-6.3M154.8 1209.5l-3.4 6.3M397.6 1188.4l-0.9 6.3M606.6 1193.8l0.9-6.2M532.6 1219.7l3.2-6.1M322.2 1214l1.2 6.7M495.1 1169.1l5.7-11M238.6 1158.3l7.2 11.9M330.6 1038.7l-7.2-4.7-7.2-3.8-8.4-3.3-9.6-3-10.7-2.3-11.8-1.7-23.3-1.3-23.2 1.2-11.6 1.7-10.5 2.3-9.3 2.8-9.3 3.9-7.8 4.3-6.4 4.6M361.5 1212.5l0.1 6.3M579.7 1218.2l2.8-6.4M299.7 1202.9l1.8 6.3M514.9 1208.7l3.2-6.5M472.5 1022.2l7.4-5.5 7.9-4.5 8-3.6 9.9-3.4 20.8-4.7 28.8-3.5M640.9 997.4l18 2.1 14.7 2.6 11.9 3 11.4 3.9M68.6 1009.7l11.3 5.6 10.6 7.3M612.2 1224.6l-5.8-6.3M537.2 1218.8l-7.2 6.3M320.8 1224.3l-2.4-6.4M146.7 1218.7l-0.5 6.8M610 1190.4l0.6-6.3M407.1 1184.7l-1.2 6.2M170.1 1195.2l2.4 6.2M398.2 1200.9l0.1-6.5M596.6 1224.2l-6.6-1.7-7.1-0.6-6.8 0.6-7.1 1.8M336.9 1224l-1.8-6.2M148.2 1218l0.2 6.9M596.2 1114.9l-5.3-8-6.3-7.3M472.6 1100l-7.3 7.5-6.4 8.2M565.4 1213.8l3.1-6.1M345.8 1208.8l0.5 6.2M221.5 1213.3l3.6 6.5M436.2 1218.7l1.1-6M600.4 1195.8l-7.8-6.1M539.2 1189.9l-9.4 6.5M289.4 1196l-3.7-6.4M150.9 1189.9l-2.1 6.2M277.8 1220.5l-2.6-5.8M121.3 1215l-1.4 6M640.8 1220.8l0-6.6M444.6 1215.3l-1.5 5.9M210.8 1220.7l-6.7-6.1M636.9 1169.1l1.3-11.2M405.1 1158.6l-1 11.8M605.8 1203.9l3.3-6.3M354 1199.1l0.8 5.5M615 1135l22-15.8M240.2 1120l15.7 15.7M528.3 1129.3l9.5-8.1 10.2-7.5M127.8 1113.8l12.7 7.4 12.6 8.3M416.9 1224.8l1.2-7M176.4 1219l4.1 6.1M375.9 1199.8l0-6.7M133.5 1193.9l2 6.8M326.1 1195.3l-1.5-6.3M125.3 1189.3l-0.1 6.8M632.5 1195.2l-3.5-6.2M518.4 1189.7l-4.3 5.9M373 1213.7l-0.2-6.5M137.7 1208.6l1.8 5.9M324.8 1190.4l-1.5-6.3M125.4 1185.7l-0.2 5.9M630.2 1190.9l-3.3-5.3M400.4 1208.3l-0.5 6.4M599.4 1214.3l3.8-6.7M354.8 1208.3l0.8 6.3M574.8 1175l11.4-11.2M280.8 1164.6l6.2 10.8M473.7 1210.6l2.8-5.7M234.2 1205.3l4.6 6.1M423.6 1195.2l1.5-6.3M156.4 1189.7l4.3 6.4M591.3 1157.2l12.2-11.1M268.9 1146.8l7.6 11.1M504.8 1157.3l9.3-11.3M204.9 1169.6l8.3 8.7M428.8 1177.8l2.4-9M146.4 1169.7l5.5 8.5M373.6 1143.8l-0.2-11.2M120.9 1133.5l2 11.4M324.9 1203.4l-1.6-7M125.2 1197.4l-0.1 6.8M638 1209.3l-2.5-6M509.1 1204.1l-3.9 6.4M275.5 1209.4l-3.2-6.4M125.9 1204l-1.9 6.7M628.9 1144.9l-4.6-11.1M476.7 1134.5l-6.1 11.3M635.4 1175.4l1.9-11.7M400.5 1164.6l-0.7 11.7M597.6 1219.5l3.8-6.6M355.6 1214.3l0.7 6.3M537 1219.2l4.5-5.8"/>
<path stroke="#00ff4a" d="M152.8 1195.9l0.7 6.3M357.6 1201.6l-1.3-6.9M613.1 1191.9l-2.1-8.4M461.3 1184.3l-3.9 8.3M611.5 1186.4l0.6-6.4M406.3 1181l-1.1 6.4M482.4 1214.2l2.2-5.9M272.6 1208.5l2.6 6.4M610.5 1201.2l1.1-6.9M401.8 1195.6l-1 6.3M592.4 1183.4l2.5-8.4M367.4 1175.7l-0.2 8.8M449.8 1191.1l1.6-6M214.9 1185.7l3.6 6.1M311.7 1146.9l-6.2-11.6M159.6 1136.2l-4.1 11.5M385.3 1176.5l-0.5-9.1M159.7 1168.1l2 8.9M327.3 1198.4l-2.1-6.4M148.2 1192.7l-0.4 6.3M615.5 1190.9l-0.8-6.3M443.5 1185.4l-2.3 6.3M223.5 1100.7l12.5 15.5M613.7 1209l-2-5.9M480 1203.6l-3.5 6M257.8 1209.4l-5.6-6.2M159 1203.2l-4.2 6.3M398.5 1182.1l-0.9 6.3M607.5 1187.6l0.9-6.3M535.8 1213.6l3.2-6.1M321.1 1208.1l1.1 5.9M500.8 1158.1l6.4-11.5M231.4 1147.2l7.2 11.1M361.3 1206.1l0.2 6.4M582.5 1211.8l2.7-6.4M297.8 1196.6l1.9 6.3M518.1 1202.2l3.1-5.8M555.3 997l12.9-0.8M572.8 996l0 0M577.4 995.8l0 0M582.1 995.7l0 0M586.8 995.6l0 0M591.5 995.5l0 0M596.3 995.5l0 0M601.1 995.5l0 0M605.8 995.6l0 0M610.5 995.7l0 0M615.1 995.8l0 0M619.7 996l21.2 1.4M606.4 1218.3l-7.4-6M546.3 1212.5l-9.1 6.3M318.4 1217.9l-2.2-5.8M147.3 1212.7l-0.6 6M610.6 1184.1l0.4-6.4M408.3 1178.4l-1.2 6.3M167.7 1189l2.4 6.2M398.3 1194.4l0.1-5.8M335.1 1217.8l-1.8-6.2M148.2 1211.8l0 6.2M584.6 1099.6l-10.6-8.9-11.9-6.6M496.3 1084.5l-12.7 6.8-11 8.7M568.5 1207.7l3.1-6.2M345.2 1202.5l0.6 6.3M218.2 1207.2l3.3 6.1M437.3 1212.7l1-6M592.6 1189.7l-6.6-3.7-7-2.5M554.1 1183.5l-7.3 2.6-7.6 3.8M285.7 1189.6l-3.8-6.3M153.3 1184l-2.4 5.9M275.2 1214.7l-3-6.5M122.9 1208.9l-1.6 6.1M640.8 1214.2l-0.1-5.9M446.1 1209.3l-1.5 6M204.1 1214.6l-8.9-6.4M638.2 1157.9l1.1-11.4M406.1 1147.7l-1 10.9M609.1 1197.6l3.1-5.7M353.1 1192.7l0.9 6.4M637 1119.2l13.4-8.2 13.6-7.3M219.1 1104.2l11 7.5 10.1 8.3M548 1113.7l14-8.5 15.1-7.2M93.8 1098.3l16.9 6.9 17.1 8.6M418.1 1217.8l1.1-6.2M171.9 1212.3l4.5 6.7M375.9 1193.1l0-5.8M131.7 1187.7l1.8 6.2M324.6 1189l-1.5-6.3M125.5 1183.4l-0.2 5.9M629 1189l-4.2-6.3M523.4 1183.4l-5 6.3M372.8 1207.2l-0.1-5.6M136 1202.6l1.7 6M323.3 1184.1l-1.6-6.3M125.7 1178.8l-0.3 6.9M400.8 1202.7l-0.4 5.6M603.2 1207.6l3.4-6.1M353.9 1202l0.9 6.3M586.2 1163.8l12.4-11.5M273 1152.6l7.8 12M476.5 1204.9l3.3-6.3M229 1198.8l5.2 6.5M425.1 1188.9l1.5-6.3M152.5 1183.8l3.9 5.9M603.5 1146.1l14-11.7M259.4 1134.8l9.5 12M514.1 1146l11.2-11.8M195.8 1160.7l9.1 8.9M431.2 1168.8l2.6-9M140.7 1161l5.7 8.7M373.4 1132.6l-0.2-11.4M119.2 1121.8l1.7 11.7M323.3 1196.4l-1.6-6.2M125.3 1191.5l-0.1 5.9M635.5 1203.3l-3.1-6.5M513.1 1197.8l-4 6.3M272.3 1203l-2.9-5.7M128 1197.4l-2.1 6.6M624.3 1133.8l-6.7-11.9M484.3 1123.1l-7.6 11.4M637.3 1163.7l1.5-11.3M401.4 1152.7l-0.9 11.9M601.4 1212.9l3.5-6M354.7 1207.9l0.9 6.4M541.5 1213.4l5-6.3"/>
<path stroke="#00ff80" d="M152.1 1189.6l0.7 6.3M356.3 1194.7l-1.2-6.2M611 1183.5l-2.8-8.9M465.8 1175.6l-4.5 8.7M612.1 1180l0.5-6.4M407.4 1174.6l-1.1 6.4M484.6 1208.3l2.7-6.5M269.8 1202.2l2.8 6.3M611.6 1194.3l0.8-5.6M402.7 1189.2l-0.9 6.4M594.9 1175l2.4-8.7M367.5 1166.7l-0.1 9M451.4 1185.1l1.8-6.8M211.3 1179.6l3.6 6.1M305.5 1135.3l-7.2-11.1M165.3 1124.7l-5.7 11.5M384.8 1167.4l-0.5-8.3M157.9 1159.8l1.8 8.3M325.2 1192l-2.2-6.3M148.8 1186.4l-0.6 6.3M614.7 1184.6l-0.9-6.3M445.9 1179.1l-2.4 6.3M207.8 1085l15.7 15.7M611.7 1203.1l-2.5-6.2M484 1197.2l-4 6.4M252.2 1203.2l-6.7-6.6M163.9 1197l-4.9 6.2M399.4 1175.7l-0.9 6.4M608.4 1181.3l0.7-6.4M539 1207.5l3.3-6.2M319.9 1202.1l1.2 6M507.2 1146.6l7-11.3M223.2 1135.6l8.2 11.6M585.8 1204.1l1.9-4.8M361.2 1199.7l0.1 6.4M585.2 1205.4l2.5-6M295.7 1190.2l2.1 6.4M521.2 1196.4l3.4-6.4M599 1212.3l-6.5-3.7-6.7-2.6M560.7 1206.1l-7.1 2.6-7.3 3.8M316.2 1212.1l-2.6-6.4M148 1206.6l-0.7 6.1M611 1177.7l0.3-6.5M409.5 1172.1l-1.2 6.3M165.4 1182.7l2.3 6.3M398.4 1188.6l0.1-6.6M333.3 1211.6l-1.9-6.3M148.3 1205.5l-0.1 6.3M562.1 1084.1l-7.9-3-8.4-2.1-8.7-1.2-8-0.3-8.1 0.5-8.9 1.4-7.7 2-8.1 3.1M571.6 1201.5l3.1-6.3M344.6 1196.2l0.6 6.3M214.5 1200.6l3.7 6.6M438.3 1206.7l1.3-6.9M579 1183.5l-5.9-1.2-6.5-0.5-6 0.4-6.5 1.3M281.9 1183.3l-4-6.1M156.1 1177.6l-2.8 6.4M272.2 1208.2l-3.2-6.4M125 1202.3l-2.1 6.6M640.7 1208.3l-0.2-6.7M447.9 1202.4l-1.8 6.9M195.2 1208.2l-6.8-3.7-6.5-2.5M639.3 1146.5l0.8-11.6M407.3 1136.6l-1.2 11.1M612.2 1191.9l3.4-6.5M352.1 1186.2l1 6.5M664 1103.7l16-7.4 16.6-6.1M67.4 1089.9l6.1-1.9M184.6 1088.3l17.6 6.8 16.9 9.1M577.1 1098l13.7-5 14.3-3.9 13.9-2.6 15.1-1.6 15.2-0.5 16.1 0.8 15.7 1.9 15.2 2.9M67.1 1090.2l13.7 3.7 13 4.4M419.2 1211.6l1.1-6.3M167.8 1206l4.1 6.3M375.9 1187.3l0-6.8M130 1181.4l1.7 6.3M323.1 1182.7l-1.6-6.3M125.8 1177.3l-0.3 6.1M624.8 1182.7l-5.1-6.4M529.2 1177.1l-5.8 6.3M372.7 1201.6l-0.2-6.6M134.1 1195.7l1.9 6.9M321.7 1177.8l-1.7-6.3M126.1 1172.8l-0.4 6M400.9 1201.8l-0.1 0.9M606.6 1201.5l3.4-6.3M353.2 1196.5l0.7 5.5M598.6 1152.3l13.1-11.3M264.9 1141.7l8.1 10.9M479.8 1198.6l3.4-6.3M224.1 1192.9l4.9 5.9M426.6 1182.6l1.6-6.4M148.1 1177.2l4.4 6.6M617.5 1134.4l15-11.3M248.9 1123.5l10.5 11.3M525.3 1134.2l12.4-10.9M186.2 1152.1l9.6 8.6M433.8 1159.8l2.6-8.2M135 1152.1l5.7 8.9M373.2 1121.2l-0.4-11.4M117.9 1110.8l1.3 11M321.7 1190.2l-1.6-6.2M125.7 1184.7l-0.4 6.8M632.4 1196.8l-3.5-6.1M517.8 1191.3l-4.7 6.5M269.4 1197.3l-3.8-6.8M130.2 1191.7l-2.2 5.7M617.6 1121.9l-8.4-10.9M494.5 1111.3l-10.2 11.8M638.8 1152.4l1.3-11.4M402.2 1141.6l-0.8 11.1M604.9 1206.9l3.4-6.2M353.8 1201.5l0.9 6.4M546.5 1207.1l5.2-6.3"/>
<path stroke="#00ffb5" d="M151.6 1183.2l0.5 6.4M355.1 1188.5l-1.2-6.3M608.2 1174.6l-3.3-8.7M471 1166.5l-5.2 9.1M612.6 1173.6l0.3-5.9M408.6 1168.2l-1.2 6.4M487.3 1201.8l2.7-6.4M267 1195.9l2.8 6.3M612.4 1188.7l0.8-6.4M403.7 1182.8l-1 6.4M597.3 1166.3l2.2-8.7M367.6 1158.4l-0.1 8.3M453.2 1178.3l1.7-6M207.3 1172.9l4 6.7M298.3 1124.2l-9.5-11.4M173 1113.4l-7.7 11.3M384.3 1159.1l-0.6-9.3M156.2 1150.6l1.7 9.2M323 1185.7l-2.3-6.4M149.6 1180.1l-0.8 6.3M613.8 1178.3l-1.2-6.2M448.4 1172.8l-2.5 6.3M186.8 1069l10.7 7.5 10.3 8.5M609.2 1196.9l-3-6.6M488.2 1191l-4.2 6.2M245.5 1196.6l-7.4-6.1M169.9 1190.9l-6 6.1M400.4 1169.3l-1 6.4M609.1 1174.9l0.6-6.4M542.3 1201.3l3.4-6.1M318.5 1195.4l1.4 6.7M514.2 1135.3l8-11.7M214.4 1124.3l8.8 11.3M587.7 1199.3l2.5-6.1M361 1194l0.2 5.7M587.7 1199.4l0 0M293.9 1184.6l1.8 5.6M524.6 1190l3.4-6.4M585.8 1206l-6.2-1.4-6.2-0.4-6.4 0.5-6.3 1.4M313.6 1205.7l-2.6-6.5M149 1199.9l-1 6.7M611.3 1171.2l0.2-5.8M410.8 1165.8l-1.3 6.3M163.1 1176.2l2.3 6.5M398.5 1182l0.2-5.8M331.4 1205.3l-2-6.4M148.5 1199.3l-0.2 6.2M574.7 1195.2l3.1-6.4M343.9 1189.8l0.7 6.4M211.1 1194.5l3.4 6.1M439.6 1199.8l1.3-6.1M277.9 1177.2l-4.7-6.5M159.4 1171.5l-3.3 6.1M269 1201.8l-3.4-6.3M127 1196.5l-2 5.8M640.5 1201.6l-0.3-5.8M449.5 1196.4l-1.6 6M181.9 1202l-5.1-1.3M640.1 1134.9l0.3-11M408.8 1124.4l-1.5 12.2M615.6 1185.4l3.4-6.6M351.1 1179.6l1 6.6M73.5 1088l14.5-3.6 14.2-2.5 14.7-1.5 13.9-0.4 14.1 0.6 13.9 1.6 12.7 2.4 13.1 3.7M420.3 1205.3l1.3-6.2M164 1200.3l3.8 5.7M375.9 1180.5l0-5.8M128.3 1175l1.7 6.4M321.5 1176.4l-1.7-6.3M126.3 1171.3l-0.5 6M619.7 1176.3l-6-6.1M536.4 1170.6l-7.2 6.5M372.5 1195l-0.2-5.7M132.5 1189.4l1.6 6.3M320 1171.5l-1.5-5.4M126.7 1166.7l-0.6 6.1M610 1195.2l3.4-6.4M352.2 1190l1 6.5M611.7 1141l14.5-11.4M255 1130l9.9 11.7M483.2 1192.3l3.5-6.2M218.6 1186.6l5.5 6.3M428.2 1176.2l1.7-6.3M144.1 1171.1l4 6.1M632.5 1123.1l16.9-11.3M236.5 1112.4l12.4 11.1M537.7 1123.3l16.5-11.6M175.6 1143.3l10.6 8.8M436.4 1151.6l3.1-9M129.5 1143.6l5.5 8.5M372.8 1109.8l-0.5-11.6M116.7 1098.7l1.2 12.1M320.1 1184l-1.6-6.2M126.1 1178.7l-0.4 6M628.9 1190.7l-4.1-6.4M522.8 1185l-5 6.3M265.6 1190.5l-3.7-6.1M132.8 1185.5l-2.6 6.2M609.2 1111l-6.2-6.1-7-5.5M508.1 1100.1l-6.8 5-6.8 6.2M640.1 1141l0.9-11.7M403.2 1130.5l-1 11.1M608.3 1200.7l3.5-6.3M352.9 1195.1l0.9 6.4M551.7 1200.8l1.7-2.1"/>
<path stroke="#00ffea" d="M151.2 1176.7l0.4 6.5M353.9 1182.2l-1.2-6.3M604.9 1165.9l-3.9-8.2M476.7 1157.8l-5.7 8.7M612.9 1167.7l0.2-6.5M409.9 1161.8l-1.3 6.4M490 1195.4l2.8-6.5M264.1 1189.7l2.9 6.2M613.2 1182.3l0.7-6.5M404.7 1176.3l-1 6.5M599.5 1157.6l2.1-9M367.8 1149.3l-0.2 9.1M454.9 1172.3l1.8-6M203.5 1166.7l3.8 6.2M288.8 1112.8l-6.2-5.9-6.8-5.4M184.4 1102.1l-6.1 5.4-5.3 5.9M383.7 1149.8l-0.5-8.5M154.8 1141.9l1.4 8.7M320.7 1179.3l-2.4-6.4M150.6 1173.8l-1 6.3M612.6 1172.1l-1.4-6.2M451 1166.6l-2.6 6.2M616.1 1060.8l18.2-7.7M154.8 1053.3l16.6 7.1 15.4 8.6M606.2 1190.3l-3.4-6.2M493.1 1184.6l-4.9 6.4M238.1 1190.5l-9.9-6.3M178.6 1184.6l-8.7 6.3M401.5 1162.8l-1.1 6.5M609.7 1168.5l0.5-5.8M545.7 1195.2l3.7-6.8M317.2 1189.4l1.3 6M522.2 1123.6l8.9-11.4M204.4 1112.8l10 11.5M590.2 1193.2l2.7-6.7M360.7 1187.5l0.3 6.5M291.7 1178.2l2.2 6.4M528 1183.6l3.6-6.4M311 1199.2l-2.5-5.8M150.1 1193.9l-1.1 6M611.5 1165.4l0.1-6.6M412.2 1159.4l-1.4 6.4M161.1 1170.4l2 5.8M398.7 1176.2l0.2-6.8M329.4 1198.9l-2.1-6.3M148.9 1193l-0.4 6.3M577.8 1188.8l3.1-6.4M343.1 1183.3l0.8 6.5M207.7 1188.4l3.4 6.1M440.9 1193.7l1.2-6.1M273.2 1170.7l-5-6M163.3 1165.2l-3.9 6.3M265.6 1195.5l-3.5-6.2M129.5 1190.1l-2.5 6.4M640.2 1195.8l-0.6-6.8M451.3 1190.3l-1.8 6.1M640.4 1123.9l-0.1-11.1M410.5 1113.2l-1.7 11.2M619 1178.8l3.1-6M350.1 1174l1 5.6M421.6 1199.1l1.3-6.3M159.9 1193.9l4.1 6.4M375.9 1174.7l0-7M126.9 1169.3l1.4 5.7M319.8 1170.1l-1.8-6.4M127 1164.4l-0.7 6.9M613.7 1170.2l-7.7-6M545.2 1164.3l-8.8 6.3M372.3 1189.3l-0.1-6.8M131 1183.1l1.5 6.3M318.5 1166.1l-1.9-6.4M127.4 1160.7l-0.7 6M613.4 1188.8l3.1-5.9M351.2 1183.5l1 6.5M626.2 1129.6l16.2-11.4M243.2 1118.5l11.8 11.5M486.7 1186.1l3.7-6.2M213 1180.4l5.6 6.2M429.9 1169.9l1.6-5.4M140 1164.9l4.1 6.2M649.4 1111.8l20.7-11.5M220.4 1101l16.1 11.4M554.2 1111.7l10.5-6 11.1-5.3M164.5 1134.9l11.1 8.4M439.5 1142.6l3-8.2M123.8 1135.1l5.7 8.5M372.3 1098.2l-0.7-11.6M116 1087.2l0.7 11.5M318.5 1177.8l-1.8-6.3M126.6 1172.7l-0.5 6M624.8 1184.3l-4.6-5.9M528.5 1178.7l-5.7 6.3M261.9 1184.4l-3.8-5.8M136.1 1178.8l-3.3 6.7M596 1099.4l-6.2-3.7-6.6-3.3-13.6-4.2M535.4 1088.4l-13.9 4.5-6.9 3.3-6.5 3.9M641 1129.3l0.5-11M404.4 1119.2l-1.2 11.3M611.8 1194.4l3.5-6.4M351.9 1188.6l1 6.5"/>
<path stroke="#00dfff" d="M151 1170.9l0.2 5.8M352.7 1175.9l-1.3-6.3M601 1157.7l-5.3-8.9M483.4 1149l-6.7 8.8M613.1 1161.2l0.1-5.9M411 1156.1l-1.1 5.7M492.8 1188.9l2.7-5.8M261 1183.4l3.1 6.3M613.9 1175.8l0.5-6.5M405.6 1170.6l-0.9 5.7M601.6 1148.6l1.9-8.4M367.9 1140.8l-0.1 8.5M456.7 1166.3l2.2-6.8M199.6 1160.5l3.9 6.2M275.8 1101.5l-11-6.5-12.1-4.9M205.8 1090.5l-11.4 5-10 6.6M383.2 1141.3l-0.7-8.5M153.6 1133.1l1.2 8.8M318.3 1172.9l-2.6-6.3M151.8 1167.5l-1.2 6.3M611.2 1165.9l-1.8-6.8M453.8 1160.4l-2.8 6.2M634.3 1053.1l14.2-4.5 15.6-3.6 15.5-2.4 16.3-1.5M67.1 1041.1l23.1-0.1 22.6 2 22.2 4.2 19.8 6.1M602.8 1184.1l-4.1-6.4M498.2 1178.5l-5.1 6.1M228.2 1184.2l-9.5-4-9.7-2.1M196.9 1178.1l-9.4 2.3-8.9 4.2M402.5 1157.1l-1 5.7M610.2 1162.7l0.4-6.6M549.4 1188.4l3.4-6.2M315.8 1183.3l1.4 6.1M531.1 1112.2l9.7-11M193.5 1101.6l10.9 11.2M592.9 1186.5l2.4-6.3M360.5 1180.9l0.2 6.6M289.4 1171.9l2.3 6.3M531.6 1177.2l3.7-6.4M308.5 1193.4l-2.9-6.4M151.6 1187.4l-1.5 6.5M611.6 1158.8l-0.1-6.6M413.6 1153l-1.4 6.4M158.9 1163.8l2.2 6.6M398.9 1169.4l0.2-5.9M327.3 1192.6l-2.1-6.4M149.5 1186.7l-0.6 6.3M580.9 1182.4l2.8-5.9M342.3 1176.9l0.8 6.4M204.2 1182.2l3.5 6.2M442.1 1187.6l1.4-6.1M268.2 1164.7l-6.2-6.6M168.1 1158.9l-4.8 6.3M262.1 1189.3l-3.7-6M132.3 1183.9l-2.8 6.2M639.6 1189l-0.6-5.9M453.1 1184.2l-1.8 6.1M640.3 1112.8l-0.6-12.2M412.5 1102l-2 11.2M622.1 1172.8l3.1-6.2M348.9 1167.4l1.2 6.6M422.9 1192.8l1.4-6.3M155.7 1187.3l4.2 6.6M375.9 1167.7l0-5.9M125.3 1162.8l1.6 6.5M318 1163.7l-1.9-6.3M127.8 1158.3l-0.8 6.1M606 1164.2l-6.5-3.8-6.4-2.6M558.2 1158.1l-6.6 2.7-6.4 3.5M372.2 1182.5l-0.2-5.8M129.6 1177.5l1.4 5.6M316.6 1159.7l-2-6.3M128.5 1153.7l-1.1 7M616.5 1182.9l3.4-6.6M350.1 1177l1.1 6.5M642.4 1118.2l19-11.6M228.6 1107l14.6 11.5M490.4 1179.9l4.3-6.7M206.7 1173.8l6.3 6.6M431.5 1164.5l1.9-6.4M135.9 1158.6l4.1 6.3M670.1 1100.3l13.2-6.2 13.3-5.1M196.9 1089.3l12.1 5.4 11.4 6.3M575.8 1100.4l18.5-6.8 18.9-4.5M151.6 1126l12.9 8.9M442.5 1134.4l3.6-9M117.9 1126.4l5.9 8.7M371.6 1086.6l-1-11.7M115.8 1076.6l0.2 10.6M316.7 1171.5l-1.9-6.2M127.3 1166.7l-0.7 6M620.2 1178.4l-5.8-6.2M535.1 1172.6l-6.6 6.1M258.1 1178.6l-5-6.9M139.8 1172.4l-3.7 6.4M569.6 1088.2l-8.6-1.4-8.9-0.3-7.9 0.4-8.8 1.5M641.5 1118.3l0.1-12.1M405.8 1107.9l-1.4 11.3M615.3 1188l3.4-6.4M350.8 1182.1l1.1 6.5"/>
<path stroke="#00aaff" d="M150.9 1164.4l0.1 6.5M351.4 1169.6l-1.2-5.6M595.7 1148.8l-6.6-8.6M491.3 1140.5l-7.9 8.5M613.2 1155.3l-0.1-6.7M412.4 1149.6l-1.4 6.5M495.5 1183.1l3-6.4M257.9 1177.2l3.1 6.2M614.4 1169.3l0.4-5.9M406.7 1164l-1.1 6.6M603.5 1140.2l1.7-8.6M368.1 1132.4l-0.2 8.4M458.9 1159.5l2-6M195.7 1154.3l3.9 6.2M252.7 1090.1l-12.1-2.6-11.6-0.8-11.5 1-11.7 2.8M382.5 1132.8l-0.7-8.6M152.6 1124.9l1 8.2M315.7 1166.6l-2.7-6.3M153.2 1161.3l-1.4 6.2M609.4 1159.1l-1.8-6M457.1 1153.6l-3.3 6.8M598.7 1177.7l-4.9-6.2M504.4 1171.9l-6.2 6.6M209 1178.1l-6.1-0.4-6 0.4M403.6 1150.5l-1.1 6.6M610.6 1156.1l0.2-6.6M552.8 1182.2l3.5-6.2M314.1 1176.5l1.7 6.8M540.8 1101.2l12.1-11.6M180.2 1089.8l13.3 11.8M595.3 1180.2l2.3-6.3M360.2 1175.1l0.3 5.8M287 1165.6l2.4 6.3M535.3 1170.8l3.4-5.8M305.6 1187l-3.1-6.3M153.1 1181.5l-1.5 5.9M611.5 1152.2l-0.3-5.9M415 1147.4l-1.4 5.6M157 1157.7l1.9 6.1M399.1 1163.5l0.3-6.9M325.2 1186.2l-2.2-6.4M150.2 1180.3l-0.7 6.4M583.7 1176.5l3.1-6.6M341.6 1171.2l0.7 5.7M200.6 1176l3.6 6.2M443.5 1181.5l1.4-6.2M262 1158.1l-6.6-6M174.2 1152.3l-6.1 6.6M258.4 1183.3l-4.4-6.4M135.7 1177.3l-3.4 6.6M639 1183.1l-0.8-6.8M455.2 1177.2l-2.1 7M639.7 1100.6l-1.4-11.3M415 1090.7l-2.5 11.3M625.2 1166.6l3.1-6.2M347.7 1160.8l1.2 6.6M424.3 1186.5l1.5-6.3M151.8 1181.3l3.9 6M375.9 1161.8l0-6.1M124 1156.9l1.3 5.9M316.1 1157.4l-2.1-6.3M128.8 1152.3l-1 6M593.1 1157.8l-8.4-2.2-8.6-0.7-8.7 0.8-9.2 2.4M372 1176.7l-0.1-6.9M128.2 1170.9l1.4 6.6M314.6 1153.4l-2.1-6.3M129.6 1147.7l-1.1 6M619.9 1176.3l3.1-6.1M349.1 1171.4l1 5.6M661.4 1106.6l11.8-6.1 11.7-5.3M209.8 1095.8l9.7 5.3 9.1 5.9M494.7 1173.2l4.1-6M200.7 1167.8l6 6M433.4 1158.1l2.1-6.4M131.7 1152.2l4.2 6.4M696.6 1089l0 0M67.5 1088.7l14.2-4.3 14.1-3.2 14.6-2.3 14.2-1.1M142 1077.8l14.4 1.2 14 2.4 13.6 3.4 12.9 4.5M613.2 1089.1l14.8-2.2 15-1 16 0.1 15.8 1.3M137.2 1117.4l14.4 8.6M446.1 1125.4l4-8.9M111.7 1117.5l6.2 8.9M370.6 1074.9l-1.4-10.7M116.2 1064.9l-0.4 11.7M314.8 1165.3l-2-6.3M128.4 1159.9l-1.1 6.8M614.4 1172.2l-8-6.5M543.8 1166.1l-8.7 6.5M253.1 1171.7l-4.9-5.9M143.8 1166.4l-4 6M641.6 1106.2l-0.5-11.3M407.6 1096.6l-1.8 11.3M618.7 1181.6l3.2-6M349.8 1176.5l1 5.6"/>
<path stroke="#0075ff" d="M349.8 1162.3l-1.1-4.8M150.9 1158.5l0 5.9M350.2 1164l-1.4-6.4M589.1 1140.2l-9.1-8.7M501.5 1131.8l-10.2 8.7M613.1 1148.6l-0.2-6M414 1143.1l-1.6 6.5M498.5 1176.7l3.2-6.4M254.6 1171l3.3 6.2M614.8 1163.4l0.4-6.6M407.8 1157.4l-1.1 6.6M605.2 1131.6l1.7-9.4M368.3 1123l-0.2 9.4M460.9 1153.5l2.1-6.1M191.7 1148.1l4 6.2M381.8 1124.2l-0.8-8.7M151.9 1115.9l0.7 9M313 1160.3l-2.9-6.2M154.9 1155.2l-1.7 6.1M607.6 1153.1l-2.5-6.6M460.3 1147.6l-3.2 6M593.8 1171.5l-5.8-6M511.5 1165.7l-7.1 6.2M404.9 1144l-1.3 6.5M610.8 1149.5l0.1-5.9M556.3 1176l3.5-6.3M312.6 1170.4l1.5 6.1M552.9 1089.6l14.4-11.3M165.3 1078.8l14.9 11M597.6 1173.9l2.2-5.8M359.9 1168.4l0.3 6.7M284.4 1159.2l2.6 6.4M538.7 1165l3.9-6.3M302.5 1180.7l-3.2-6.3M155 1175.1l-1.9 6.4M611.2 1146.3l-0.4-5.9M416.7 1141l-1.7 6.4M155 1151.6l2 6.1M399.4 1156.6l0.2-6M323 1179.8l-2.4-6.4M151 1174.7l-0.8 5.6M586.8 1169.9l2.9-6.1M340.7 1164.6l0.9 6.6M196.7 1169.2l3.9 6.8M444.9 1175.3l1.5-6.2M255.4 1152.1l-9.1-6.4M182 1146.1l-7.8 6.2M254 1176.9l-4.7-6.1M139.5 1171.1l-3.8 6.2M638.2 1176.3l-1-6M457.2 1171.2l-2 6M638.3 1089.3l-2.2-11.4M418.2 1079.5l-3.2 11.2M628.3 1160.4l3.2-6.4M346.5 1155.1l1.2 5.7M425.8 1180.2l1.5-6.4M147.9 1175.2l3.9 6.1M375.9 1155.7l0-6M122.5 1150.1l1.5 6.8M314 1151.1l-2.2-6.3M129.9 1146.2l-1.1 6.1M371.9 1169.8l-0.2-5.9M126.8 1164.3l1.4 6.6M312.5 1147.1l-2.4-6.3M130.9 1141.7l-1.3 6M623 1170.2l3.1-6.1M347.8 1164.8l1.3 6.6M684.9 1095.2l11.6-4.5M67.3 1090.4l22.3-6.5M178.1 1084.1l16 4.9 15.7 6.8M498.8 1167.2l4.7-6.5M194 1161.5l6.7 6.3M435.5 1151.7l2.1-6.3M127.5 1145.8l4.2 6.4M124.6 1077.8l17.4 0M119.7 1108.4l17.5 9M450.1 1116.5l4.5-8.9M105.2 1108.6l6.5 8.9M369.2 1064.2l-2.2-11.7M117.3 1054l-1.1 10.9M312.8 1159l-2.1-6.2M129.4 1153.9l-1 6M606.4 1165.7l-6-3.6-5.6-2.6M556 1159.9l-12.2 6.2M248.2 1165.8l-6.2-6.5M148.7 1160.2l-4.9 6.2M641.1 1094.9l-1.1-11.5M409.8 1085.2l-2.2 11.4M621.9 1175.6l3.5-6.7M348.5 1169.9l1.3 6.6"/>
<path stroke="#0040ff" d="M348.7 1157.5l-1.5-6.5M151.1 1151.8l-0.2 6.7M348.8 1157.6l-0.4-1.6M580 1131.5l-7.2-5-7.3-3.7M517.1 1123.1l-7.7 3.7-7.9 5M612.9 1142.6l-0.4-6.8M415.6 1136.5l-1.6 6.6M501.7 1170.3l3.3-6.3M251.2 1164.8l3.4 6.2M615.2 1156.8l0.1-6M408.9 1151.6l-1.1 5.8M606.9 1122.2l1.3-8.1M368.6 1114.4l-0.3 8.6M463 1147.4l2.2-6M187.6 1141.9l4.1 6.2M381 1115.5l-1-8.7M151.4 1107.5l0.5 8.4M310.1 1154.1l-3.1-6.1M157.1 1148.4l-2.2 6.8M605.1 1146.5l-2.5-5.7M464.2 1141.2l-3.9 6.4M588 1165.5l-8.2-6.4M520.5 1159.4l-9 6.3M406.1 1138.2l-1.2 5.8M610.9 1143.6l-0.1-6.7M559.8 1169.7l3.7-6.3M311 1164.3l1.6 6.1M567.3 1078.3l9.5-6.2 9.5-5.3M145.1 1067l10.1 5.5 10.1 6.3M599.8 1168.1l2.3-6.5M359.5 1162.5l0.4 5.9M281.8 1152.9l2.6 6.3M542.6 1158.7l4-6.3M299.3 1174.4l-3.5-6.1M157.2 1168.8l-2.2 6.3M610.8 1140.4l-0.7-6.7M418.5 1134.5l-1.8 6.5M153.2 1145.4l1.8 6.2M399.6 1150.6l0.3-6M320.6 1173.4l-2.2-5.6M152.1 1168.5l-1.1 6.2M589.7 1163.8l2.8-6.1M339.7 1158l1 6.6M193.1 1163l3.6 6.2M446.4 1169.1l1.6-6.2M246.3 1145.7l-6.5-3.5-6.1-2.6M193.7 1139.8l-5.8 2.7-5.9 3.6M249.3 1170.8l-5.4-6.3M144.2 1164.6l-4.7 6.5M637.2 1170.3l-1.1-5.9M459.4 1165.1l-2.2 6.1M636.1 1077.9l-3.4-11.3M422.7 1067.4l-4.5 12.1M631.5 1154l3.2-6.4M345.1 1148.4l1.4 6.7M427.3 1173.8l1.5-5.4M144 1168.9l3.9 6.3M375.9 1149.7l0.1-7.2M121.3 1144.1l1.2 6M311.8 1144.8l-2.3-6.3M131.5 1139.3l-1.6 6.9M371.7 1163.9l-0.1-6M125.6 1158.4l1.2 5.9M310.1 1140.8l-2.5-6.2M132.7 1134.8l-1.8 6.9M626.1 1164.1l3.2-6.3M346.5 1158.2l1.3 6.6M89.6 1083.9l23.1-3.9 22.2-1.2 22.4 1.4 20.8 3.9M503.5 1160.7l5-6.3M187.1 1155.3l6.9 6.2M437.6 1145.4l2.3-6.4M123.5 1139.9l4 5.9M99.3 1099.9l20.4 8.5M454.6 1107.6l4.9-8.7M98.8 1100.3l6.4 8.3M367 1052.5l-3.3-11.6M119.7 1042l-2.4 12M310.7 1152.8l-2.3-6.2M130.7 1147.9l-1.3 6M594.8 1159.5l-9.5-2.6-9.8-0.9-9.8 1-9.7 2.9M242 1159.3l-6.6-5.8M155.1 1153.7l-6.4 6.5M640 1083.4l-2-11.5M412.8 1073.8l-3 11.4M625.4 1168.9l3.2-6.2M347.2 1163.3l1.3 6.6"/>
<path stroke="#000bff" d="M347.2 1151l-1.7-6.4M151.4 1145.9l-0.3 5.9M565.5 1122.8l-11.5-3.5-12.1-1.2-12.2 1.2-12.6 3.8M612.5 1135.8l-0.6-6M417.1 1130.8l-1.5 5.7M505 1164l3.4-6.3M247.7 1158.7l3.5 6.1M615.3 1150.8l0-6M410.3 1145l-1.4 6.6M608.2 1114.1l1.2-8.9M368.9 1105.7l-0.3 8.7M465.2 1141.4l2.7-6.8M183.4 1135.6l4.2 6.3M380 1106.8l-1.2-8.7M151.2 1099l0.2 8.5M307 1148l-3.3-6M159.3 1142.5l-2.2 5.9M602.6 1140.8l-3.1-6.2M468.3 1134.9l-4.1 6.3M579.8 1159.1l-6.5-3.6-6.3-2.5M534.6 1153.1l-7.2 2.7-6.9 3.6M407.5 1131.6l-1.4 6.6M610.8 1136.9l-0.2-6M563.5 1163.4l3.6-6.3M309.2 1158.2l1.8 6.1M586.3 1066.8l13-6 14.3-5.2M116.5 1055.6l15 5.3 13.6 6.1M602.1 1161.6l2-6M359.1 1155.8l0.4 6.7M279 1146.7l2.8 6.2M546.6 1152.4l4.1-6.3M295.8 1168.3l-4-6.7M159.7 1162.7l-2.5 6.1M610.1 1133.7l-0.8-6M420.4 1128.1l-1.9 6.4M151.3 1139l1.9 6.4M399.9 1144.6l0.2-6.1M318.4 1167.8l-2.7-6.4M153.6 1161.5l-1.5 7M592.5 1157.7l2.9-6.3M338.8 1152.2l0.9 5.8M189.7 1157.2l3.4 5.8M448 1162.9l1.7-6.2M233.7 1139.6l-10.3-2.7-9.9-0.9-9.8 1-10 2.8M243.9 1164.5l-6.4-6.3M149.3 1158.7l-5.1 5.9M636.1 1164.4l-1.4-6.7M461.6 1159l-2.2 6.1M632.7 1066.6l-5.1-11.2M428.3 1056.6l-5.6 10.8M634.7 1147.6l3.2-6.5M343.8 1142.7l1.3 5.7M428.8 1168.4l1.7-6.4M140.1 1162.6l3.9 6.3M376 1142.5l0-6.1M120.1 1138l1.2 6.1M309.5 1138.5l-2.6-6.2M133.1 1133.3l-1.6 6M371.6 1157.9l-0.2-7M124.5 1152.5l1.1 5.9M307.6 1134.6l-2.7-6.1M134.5 1128.9l-1.8 5.9M629.3 1157.8l3.2-6.4M345.3 1152.4l1.2 5.8M508.5 1154.4l5.1-6.2M179.5 1148.8l7.6 6.5M439.9 1139l2.5-6.3M119.1 1133.3l4.4 6.6M68.6 1091.1l15.3 3.8 15.4 5M459.5 1098.9l5.5-8.6M91.3 1091.2l7.5 9.1M363.7 1040.9l-5.2-11.5M123.8 1031.1l-4.1 10.9M308.4 1146.6l-2.5-6.1M132.4 1141.1l-1.7 6.8M235.4 1153.5l-9.6-6.6M163.3 1147.5l-8.2 6.2M638 1071.9l-2.9-10.5M417.1 1061.6l-4.3 12.2M628.6 1162.7l3.2-6.2M346 1157.6l1.2 5.7"/>
<path stroke="#2a00ff" d="M345.5 1144.6l-1.7-6.4M152 1139.2l-0.6 6.7M611.9 1129.8l-0.8-6M419.1 1124.3l-2 6.5M508.4 1157.7l3.5-6.3M243.8 1152l3.9 6.7M615.3 1144.8l-0.1-6.8M411.5 1139.2l-1.2 5.8M609.4 1105.2l0.9-9.1M369.4 1097l-0.5 8.7M467.9 1134.6l2.4-6M179.1 1129.4l4.3 6.2M378.8 1098.1l-1.5-8.7M151.4 1089.6l-0.2 9.4M303.7 1142l-4-6.5M162.2 1136.1l-2.9 6.4M599.5 1134.6l-4-6.6M472.8 1128.8l-4.5 6.1M567 1153l-8.2-1.9-7.9-0.6-7.9 0.6-8.4 2M408.9 1125.8l-1.4 5.8M610.6 1130.9l-0.5-6M567.1 1157.1l3.8-6.4M307.2 1151.3l2 6.9M613.6 1055.6l18.9-4.9 20.4-3.3 21.5-1.5 21.6 0.5M67.2 1046.5l25.2 3.2 11.9 2.5 12.2 3.4M604.1 1155.6l2.3-6.7M358.8 1149.8l0.3 6M276.1 1140.4l2.9 6.3M550.7 1146.1l4.2-6.3M291.8 1161.6l-3.9-5.8M162.8 1156.1l-3.1 6.6M609.3 1127.7l-1.2-6.7M422.5 1121.8l-2.1 6.3M149.6 1132.6l1.7 6.4M400.1 1138.5l0.4-7M315.7 1161.4l-2.8-6.2M155.2 1155.4l-1.6 6.1M595.4 1151.4l2.8-6.3M337.7 1145.6l1.1 6.6M185.9 1150.9l3.8 6.3M449.7 1156.7l2-7.1M237.5 1158.2l-8-6.4M156.5 1152.2l-7.2 6.5M634.7 1157.7l-1.6-5.9M464.4 1152.2l-2.8 6.8M627.6 1055.4l-4-6.4-4.3-5.3M436.6 1045.2l-8.3 11.4M637.9 1141.1l2.9-5.9M342.2 1136l1.6 6.7M430.5 1162l1.9-6.4M136 1156.2l4.1 6.4M376 1136.4l0-6.2M118.9 1131.8l1.2 6.2M306.9 1132.3l-2.8-6.1M135 1127.4l-1.9 5.9M371.4 1150.9l-0.1-6.1M123.3 1145.6l1.2 6.9M304.9 1128.5l-3.4-7M136.7 1123l-2.2 5.9M632.5 1151.4l3.2-6.4M343.8 1145.8l1.5 6.6M513.6 1148.2l5.5-6M171.6 1142.4l7.9 6.4M442.4 1132.7l2.6-6.3M114.9 1127.2l4.2 6.1M656 1086.3l20.4 1.2 20.5 3.3M67.8 1090.9l0.8 0.2M465 1090.3l6.3-8.4M83 1082.2l8.3 9M358.5 1029.4l-4.2-6.1-4.5-5M131.8 1019.4l-4.7 5.8-3.3 5.9M305.9 1140.5l-2.6-6.1M134.1 1135.2l-1.7 5.9M225.8 1146.9l-6.9-3.5-6.6-2.5M176.8 1141l-6.9 2.8-6.6 3.7M635.1 1061.4l-5.4-12.3M422.5 1050.6l-5.4 11M631.8 1156.5l3.3-6.4M344.6 1151l1.4 6.6"/>
<path stroke="#6000ff" d="M343.8 1138.2l-1.7-5.6M152.7 1133.2l-0.7 6M611.1 1123.8l-1.1-6.8M421.2 1117.8l-2.1 6.5M511.9 1151.4l3.8-6.2M240 1146l3.8 6M615.2 1138l-0.3-6.1M413 1132.5l-1.5 6.7M610.3 1096.1l0.7-8.5M370.1 1088.3l-0.7 8.7M470.3 1128.6l3-6.7M174.6 1123.1l4.5 6.3M377.3 1089.4l-1.8-8.7M152 1081l-0.6 8.6M299.7 1135.5l-4.3-6.3M165.5 1129.9l-3.3 6.2M595.5 1128l-4.5-6.2M478.2 1122.6l-5.4 6.2M410.6 1119.2l-1.7 6.6M610.1 1124.9l-0.6-6.8M570.9 1150.7l3.5-5.8M305.3 1145.2l1.9 6.1M606.4 1148.9l2-6.2M358.4 1143.8l0.4 6M273 1134.2l3.1 6.2M554.9 1139.8l4.3-6.3M287.9 1155.8l-4.9-6.7M166.4 1149.9l-3.6 6.2M608.1 1121l-1.3-5.9M424.9 1115.4l-2.4 6.4M147.8 1126.2l1.8 6.4M400.5 1131.5l0.2-6.2M312.9 1155.2l-3.3-6.9M157 1149.3l-1.8 6.1M598.2 1145.1l2.9-6.4M336.7 1139.7l1 5.9M182.1 1144.5l3.8 6.4M451.7 1149.6l1.9-6.2M229.5 1151.8l-10.5-6.3M166.3 1145.8l-9.8 6.4M633.1 1151.8l-1.9-6.6M467 1146.3l-2.6 5.9M619.3 1043.7l-6.1-6-6.5-4.9M451 1033l-7.9 5.9-6.5 6.3M640.8 1135.2l3-6M340.7 1130.2l1.5 5.8M432.4 1155.6l1.9-6.4M131.9 1149.7l4.1 6.5M376 1130.2l0-6.2M117.9 1125.6l1 6.2M304.1 1126.2l-3-6M137.5 1120.7l-2.5 6.7M371.3 1144.8l-0.2-6.1M122.3 1139.4l1 6.2M301.5 1121.5l-3.2-5.9M139.4 1116.4l-2.7 6.6M635.7 1145l2.9-5.8M342.5 1140l1.3 5.8M519.1 1142.2l6.3-6.4M163.4 1136.3l8.2 6.1M445 1126.4l2.8-6.3M110.6 1121.1l4.3 6.1M471.3 1081.9l7.8-8.9M74.5 1074l8.5 8.2M349.8 1018.3l-7.3-5.8-10.3-5.5M147.3 1008.2l-9.1 5.5-6.4 5.7M303.3 1134.4l-3.3-6.8M136.4 1128.5l-2.3 6.7M212.3 1140.9l-9.4-2.2-8.8-0.6-8.8 0.8-8.5 2.1M629.7 1049.1l-3.5-5.6-4.3-5.4M431 1039l-4.6 5.7-3.9 5.9M635.1 1150.1l2.9-5.7M343.2 1145.2l1.4 5.8"/>
<path stroke="#9500ff" d="M342.1 1132.6l-2.1-6.4M153.7 1126.5l-1 6.7M610 1117l-1.3-6M423.2 1112.2l-2 5.6M515.7 1145.2l3.8-6.1M235.7 1139.4l4.3 6.6M614.9 1131.9l-0.5-6.2M414.5 1126.6l-1.5 5.9M611 1087.6l0.3-8.5M370.9 1079.6l-0.8 8.7M473.3 1121.9l2.8-5.9M170.1 1116.8l4.5 6.3M375.5 1080.7l-2.2-8.7M153.2 1072.3l-1.2 8.7M295.4 1129.2l-5.2-6.5M169.6 1123.3l-4.1 6.6M591 1121.8l-5.6-6.2M484.6 1116.2l-6.4 6.4M412.6 1112.7l-2 6.5M609.5 1118.1l-0.9-6.1M574.4 1144.9l3.8-6.4M303.3 1139.1l2 6.1M608.4 1142.7l1.9-6.2M358 1137.7l0.4 6.1M269.8 1128l3.2 6.2M559.2 1133.5l4.6-6.2M283 1149.1l-5-5.8M170.7 1143.5l-4.3 6.4M606.8 1115.1l-1.8-6.6M427.5 1109.2l-2.6 6.2M146.3 1120.3l1.5 5.9M400.7 1125.3l0.3-6.2M309.6 1148.3l-3.3-6M159.1 1143.3l-2.1 6M601.1 1138.7l2.9-6.4M335.5 1133l1.2 6.7M178.2 1138.1l3.9 6.4M453.6 1143.4l1.9-6.2M219 1145.5l-11.1-4.1-10.8-2M187.6 1139.5l-10.6 2-10.7 4.3M631.2 1145.2l-2.4-6.5M470.2 1139.6l-3.2 6.7M606.7 1032.8l-12.6-6.7-14.4-4.9M477 1021.7l-14.6 5.2-11.4 6.1M643.8 1129.2l3.4-6.8M338.8 1123.4l1.9 6.8M434.3 1149.2l2.1-6.4M128.2 1143.8l3.7 5.9M376 1124l0-6.3M116.8 1119.3l1.1 6.3M301.1 1120.2l-3.9-6.7M140.5 1114.2l-3 6.5M371.1 1138.7l-0.2-6.1M121.4 1133.2l0.9 6.2M298.3 1115.6l-4.1-6.6M142.7 1109.9l-3.3 6.5M638.6 1139.2l3.3-6.7M340.8 1133.3l1.7 6.7M525.4 1135.8l6.6-6.1M154.3 1129.9l9.1 6.4M447.8 1120.1l3-6.3M106.2 1115l4.4 6.1M479.1 1073l9.1-8.5M694.2 1065.4l2.5 1.9M67.5 1068l7 6M332.2 1007l-9.3-3.4-8.7-2.4-23.1-3.9M286.4 996.8l0 0M281.5 996.4l0 0M202.1 996.2l0 0M197.2 996.7l0 0M192.5 997.2l0 0M188 997.7l-21.9 4-10.6 3.1-8.2 3.4M300 1127.6l-3.2-5.9M138.8 1122.8l-2.4 5.7M621.9 1038.1l-6.4-6.2-6.9-5M445 1027.4l-7.3 5.2-6.7 6.4M638 1144.4l3.3-6.6M341.5 1138.5l1.7 6.7"/>
<path stroke="#ca00ff" d="M340 1126.2l-2.3-6.4M154.9 1120.5l-1.2 6M608.7 1111l-1.6-6M425.7 1105.8l-2.5 6.4M519.5 1139.1l4.1-6.1M231.6 1133.5l4.1 5.9M614.4 1125.7l-0.7-6.1M416.3 1120l-1.8 6.6M611.3 1079.1l-0.1-8.6M372.1 1070.9l-1.2 8.7M476.1 1116l2.9-6M165.3 1110.4l4.8 6.4M373.3 1072l-3.1-9.4M155.1 1063.6l-1.9 8.7M290.2 1122.7l-5.7-6.2M174.4 1117.2l-4.8 6.1M585.4 1115.6l-7.4-6.4M492.8 1109.7l-8.2 6.5M414.4 1106.9l-1.8 5.8M608.6 1112l-1.1-6M578.2 1138.5l4-6.4M301.2 1133l2.1 6.1M610.3 1136.5l2-6.3M357.5 1130.8l0.5 6.9M266.4 1121.9l3.4 6.1M563.8 1127.3l4.6-6.2M278 1143.3l-6.2-6.3M176 1137.1l-5.3 6.4M605 1108.5l-1.9-5.9M430.3 1103l-2.8 6.2M144.7 1113.6l1.6 6.7M401 1119.1l0.3-6.2M306.3 1142.3l-3.4-6M161.9 1136.8l-2.8 6.5M604 1132.3l2.6-5.9M334.4 1127.1l1.1 5.9M174.2 1131.6l4 6.5M455.5 1137.2l2.1-6.3M197.1 1139.4l-9.5 0.1M628.8 1138.7l-2.2-5.6M473.3 1133.8l-3.1 5.8M579.7 1021.2l-13.2-2.9-12.4-1.8-13.3-1-13.9-0.3-13.8 0.6-13.2 1.3-12.1 2-10.8 2.6M647.2 1122.4l3.1-6.2M337.2 1117.6l1.6 5.8M436.4 1142.8l2.3-6.4M123.9 1137.1l4.3 6.7M376 1117.7l0-6.3M115.9 1112.8l0.9 6.5M297.2 1113.5l-3.6-5.8M143.4 1108.6l-2.9 5.6M370.9 1132.6l-0.2-6.2M120.6 1127l0.8 6.2M294.2 1109l-4.6-6.3M146.4 1103.7l-3.7 6.2M641.9 1132.5l3-6M339.3 1127.5l1.5 5.8M532 1129.7l7.6-6.3M144.8 1123.8l9.5 6.1M450.8 1113.8l3.3-6.2M101 1108.1l5.2 6.9M488.2 1064.5l11.6-8.6M681.1 1056.5l13.1 8.9M276.3 996l0 0M271 995.6l0 0M265.4 995.3l0 0M259.7 995.1l0 0M253.8 994.9l0 0M247.9 994.8l0 0M241.9 994.7l0 0M235.9 994.8l0 0M229.9 994.9l0 0M224 995l0 0M218.3 995.2l0 0M212.7 995.5l0 0M207.3 995.8l0 0M296.8 1121.7l-3.9-6.6M141.8 1116.4l-3 6.4M608.6 1026.9l-12-6.2-16-5.2M471.4 1016.3l-14.1 4.7-12.3 6.4M641.3 1137.8l3.4-6.6M340 1132.7l1.5 5.8"/>
<path stroke="#ff00ff" d="M337.7 1119.8l-7.1-16.3-8.3-14.2-9.6-11.7-11.4-9.8-13.1-7.7-14.4-5.5-16.1-3.3-15.9-1-16.8 1.4-15.5 3.6-7 2.6-7.3 3.4-11.7 7.8-9.7 9.7-8.2 12-6.1 13.5-4.6 16.2M607.1 1105l-5.2-13.9-6.6-12-8.7-10.5-9.9-8.2-12.4-7-13.9-4.9-15.9-3-15.8-0.9-15.8 1.1-14.9 3-14.4 5-12.3 6.7-11 8.5-9.4 10.3-7.9 11.8-7.3 14.8M523.6 1133l8.1-11.4 8.5-10.5 8.7-9.7 8.9-8.7 9.1-7.9 9.3-7 10.2-6.6 10.2-5.7 11.2-5.2 11.2-4.3 12-3.7 11.8-2.9 13.5-2.4 13-1.5 13.3-0.8 13.4-0.1M67.2 1044.6l25.1 1.9 12.6 2 12 2.6 11.2 3.2 11.5 4 10.7 4.5 10.7 5.3 9.9 5.8 9.7 6.6 17.9 14.7 16.8 17.5 16.3 20.8M613.7 1119.6l-3.7-19.1-5.7-15.8-3.8-7.3-4.2-6.3-5-6.1-5.3-5.1-6.2-4.8-7.2-4.4-7.1-3.4-7.9-2.9-8.6-2.4-9.4-1.7-9.8-1.1-10.2-0.4-18.8 1.2-9.6 1.7-9.1 2.3-8.4 2.9-7.6 3.4-6.8 3.9-6.9 4.9-6.1 5.2-5.3 5.6-5.2 6.7-4.5 6.8-8.2 16.8-6.8 19.8M611.2 1070.5l-0.8-10.3-1.3-8.7-2.1-8-2.8-7.1-3.4-6.2-4.1-5.4-5.5-5.3-6.2-4.4-8-4.1-8.5-3.2-10.6-2.9-10.2-2-25.4-2.9-30.4-1-30.1 1.3-24.8 3.2-9.9 2.2-10.3 3-8.2 3.4-6.7 3.6-6.4 4.6-5.1 4.7-4.6 5.7-3.6 5.8-3.1 6.8-3 8.5-4 19.1M479 1110l7.8-13.8 8.2-12.1 8.9-11 9.8-9.9 9.9-8.2 11.6-7.5 11.4-5.8 13.1-5.2 14.9-4.3 16.6-3.3 18.1-2.1 17.2-0.7 19 0.4 18.1 1.7 16.8 2.8 16.3 4.1M67.9 1035.5l14.1 5 13.3 6.2 12.3 7.1 11.5 8.1 11.3 9.4 11.6 11.4 11.3 12.7 12 15M370.2 1062.6l-6.3-13.5-7.6-10.5-4.6-4.6-5.4-4.5-11.6-6.9-13.8-5.4-17.8-4.2-21.7-2.7-21.3-0.8-21.1 0.9-21.2 2.8-17 4.2-14.4 5.9-5.7 3.3-5.6 4.1-8.6 8.8-6.6 10.7-4.8 13.4M284.5 1116.5l-6.2-5.6-6.7-5.1-6.6-4-7-3.4-7.4-2.7-7.6-1.9-7.8-1.1-7.1-0.4-7.9 0.5-7.6 1.3-7.4 2-7 2.8-6.5 3.5-6.5 4.5-5.5 4.6-5.3 5.7M578 1109.2l-9.7-6.1-10.2-4.2-10.9-2.5-11.4-0.8-11.5 1-11.2 2.8-10.6 4.4-9.7 5.9M518.6 1036.9l-19.2 0.8-18 3.1-15.7 5.3-7.4 3.6-6.6 3.9-5.9 4.3-5.9 5.3-5.2 5.6-5 6.6-8.4 14.6-6.9 16.9M607.5 1106l-2.2-9.1-2.7-8.2-3.1-7.3-3.9-7.2-4.2-6.2-4.6-5.3-5.3-5.1-6.2-4.7-6.3-3.8-7-3.4-7.9-3-8.7-2.4-9.4-1.8-9.9-1.2-19.2-0.2M582.2 1132.1l15.1-23.2 13.9-19.3 13-15.7 13.1-13.2 13.5-11.2 13.9-8.9 14.8-7.2 16.6-5.9M67.6 1027.1l18.6-4.4 19.7-2.8 21.6-1.5 22.4 0.2 21.5 1.8 19.6 3.3 16.9 4.4 15.6 6 13 6.8 11.6 8.1 10.4 9.3 9.9 11.2 9.1 13 8.5 14.8 7.8 16.6 7.4 19.1M612.3 1130.2l9.4-34.4 7.4-33.6 4.2-27 0.9-10.9 0-9.4-0.7-6.8-1.3-5.1-1.9-4.3-3.2-4.3-3.2-2.6-4.6-2.5-7.3-2.5-7.4-1.6M599.6 984.4l0 0M593.4 983.6l0 0M585.5 982.9l0 0M575.5 982.2l0 0M562.7 981.6l0 0M546.2 981.1l0 0M525.7 980.7l0 0M501.8 980.5l0 0M477 980.6l0 0M453.9 980.8l0 0M434.5 981.2l0 0M419.1 981.8l0 0M407.2 982.4l0 0M397.9 983.1l0 0M390.5 983.9l0 0M384.7 984.6l0 0M380 985.4l-12.1 3.4-5.2 2.5-3.4 2.7-3.1 3.5-2 3.5-2.8 9.8-0.9 12.6 0.4 18.9 6.6 88.5M115.4 1034.3l25.5 2 23.5 4.4 10.7 3 11 3.9 10 4.4 10 5.3 9 5.7 8.1 6.1 8.1 7 7.3 7.3 7.7 8.7 6.9 9.1 13.2 20.7M568.4 1121.1l14.2-17.3 14.6-15.3 14.9-13.2 15.2-11 15.3-8.9 16.9-7.5 17.2-5.7 19.6-4.4M67.6 1037.6l14.8-2 14.1-1.1 15.8-0.3 14.4 0.6M271.8 1137l-11.2-8.9-12.3-6.7-12.7-3.9-13.1-1.4-12.9 1.4-12.1 3.9-5.7 2.9-5.8 3.9-10 8.9M603.1 1102.6l-5.7-12.8-7-10.7-8-8.8-10.1-7.7-11.5-6-13.5-4.5-13.9-2.6-14.8-0.8-14.8 1.1-14.1 2.7-12.8 4.4-12.1 6.2-10.2 7.5-9.1 9.1-8 10.6-7.2 12.7M140.2 1093.1l4.5 20.5M401.3 1112.9l1.5-39.7 0-24.6-1.5-18.2-1.4-7.2-1.9-6.3-2.4-5.4-2.9-4.4-4.1-4.3-4.6-3.5-6.3-3.3-6.6-2.4-16.6-3.8M349.9 989.1l0 0M344.8 988.4l0 0M339.1 987.8l0 0M332.6 987.2l0 0M325.4 986.7l0 0M317.5 986.2l0 0M308.7 985.8l0 0M299.1 985.5l0 0M288.9 985.3l0 0M278.1 985.1l0 0M267.1 985l0 0M256.1 985.1l0 0M245.4 985.2l0 0M235.2 985.5l0 0M225.6 985.8l0 0M216.8 986.2l0 0M208.8 986.7l0 0M201.6 987.2l0 0M195.2 987.8l0 0M189.4 988.4l0 0M184.3 989l0 0M179.7 989.7l-16.6 3.7-6.5 2.4-6.3 3.2-4.5 3.3-3.9 4.3-2.8 4.2-2.2 5.1-1.7 6-1.1 7.6-0.2 18.5 2.5 23.7 5 27.5M302.9 1136.3l-7.4-10.7-7.4-8.7-8.4-7.9-8.7-6.3-9.7-5.2-10.3-3.8-11-2.4-10.3-0.7-11.1 0.8-10.6 2.4-9.9 3.9-8.9 5.2-8.5 6.8-7.2 7.8-6.4 9.3-5.2 10M606.6 1126.4l16.1-36.3 9.9-20.8 9.2-17 8.8-13.4 10.2-12 10.4-8.9 11.9-7.2 13.2-5.5M68.3 1004.7l11.2-3.1 14.1-2.8 17.7-2.3 16.8-1.4M132.7 994.8l0 0M137.4 994.6l0 0M142.3 994.4l0 0M147.2 994.3l0 0M152.2 994.1l0 0M157.2 994.1l0 0M162.3 994l0 0M167.4 994l0 0M172.5 994.1l0 0M177.6 994.2l0 0M182.6 994.3l0 0M187.5 994.5l0 0M192.3 994.7l0 0M197 994.9l0 0M201.6 995.2l16.9 1.4 14.3 1.9 14.7 2.8 11.7 3.2 9.4 3.5 8.9 4.4 8.2 5.4 7.4 6.3 6.6 7.3 5.8 8.2 5.6 10.1 5.3 11.8 5 13.7 4.6 15.3 4.3 17.1 4.1 19.5M509 1047.9l7.9-5.8 8.1-4.9 9.2-4.6 9.1-3.7 10.1-3.3 11.4-2.8 24.1-3.9 27-1.7 14.8 0.1 14.5 0.8 26.4 3.6 13.1 2.9 11.7 3.4M67.7 1028.5l14.8 5.9 14.2 7.6 12.5 8.7 12.5 10.9 12.2 12.9 12.3 15.4 13 18.3 15 23.4M457.6 1130.9l5.8-15.6 6.1-13.9 6.6-13 6.8-11.3 7.4-10.3 8.1-9.2 8.1-7.6 9.4-7.2M626.6 1133.1l-6-11.6-6.8-10.1-7.8-8.5-9.2-7.4-9.7-5.6-10.9-4.3-11.7-2.6-12.3-0.8-11.3 0.8-12 2.6-11.3 4.3-10.3 5.6-9.9 7.6-8.7 8.6-8.1 10.3-7.3 11.8M650.3 1116.2l12.6-23.6 11.5-18.7 11.1-14.7 11.5-12.1M67.9 1046.3l7.6-6.2 7.7-5.4 7.7-4.4 8.8-4.1 10.2-3.9 9.7-2.9 23.2-4.6 27.9-2.6 26.9 0 14.6 0.9 13.7 1.6 12.6 2.1 11.2 2.6 17 5.7 13.6 6.7 12.9 9 10.8 10.4 9.8 12.8 8.6 15.1 7.9 18.2 6.9 20.3M438.7 1136.4l8-20 9.1-17.9 9.6-14.8 11.1-13.2 12-10.9 13.6-9.2 15.3-7.4 16.5-5.5 20.7-4.3 22.9-2.1 23.4 0.2 24 2.8 21.1 5 17.8 6.6 16.9 8.9 15.6 11.2M67.1 1066.5l13.4 12.5 13.1 14.9 13.8 18.4 16.5 24.8M376 1111.4l-0.9-32.9-2-23.6-3.4-17.2-2.4-7.4-2.9-6.4-3.3-5.2-4.3-5.1-4.5-4.1-5.9-3.9-7.9-3.8-7.7-2.6-17.8-4M308.4 994.4l0 0M303.5 993.8l0 0M298.2 993.2l0 0M292.4 992.6l0 0M286.3 992.1l0 0M279.7 991.6l0 0M272.8 991.3l0 0M265.5 991l0 0M257.9 990.7l0 0M250.1 990.6l0 0M242.3 990.5l0 0M234.4 990.6l0 0M226.6 990.7l0 0M219 990.9l0 0M211.6 991.2l0 0M204.6 991.5l0 0M198 992l0 0M191.8 992.4l0 0M186 993l0 0M180.6 993.6l0 0M175.6 994.2l0 0M171 994.9l-18 3.9-7.8 2.7-7.9 3.6-5.9 3.8-5.4 4.9-3.9 5-3.3 6-2.7 7.1-2 8.1-1.3 9-0.7 10 0.6 24.6 3.2 29.2M293.6 1107.7l-7.2-9.4-7.6-7.9-8.8-7.1-9.1-5.6-10.1-4.6-10.9-3.4-11.7-2.1-11.9-0.6-11.9 0.8-11.4 2.2-10.5 3.5-9.5 4.7-8.5 5.6-7.9 7-7.3 8.6-5.9 9.2M370.7 1126.4l-2.3-36.6-1.5-13.7-2.2-12.7-2.6-10.6-3.2-9.4-3.4-7.2-4.5-7.1-5.1-6-6.7-5.8-7.4-4.5-7.6-3.5-9.3-3.2-11.6-2.9-14.2-2.4-12.5-1.3M272.1 999.1l0 0M267.5 998.7l0 0M262.7 998.5l0 0M257.8 998.3l0 0M252.8 998.1l0 0M247.8 998l0 0M242.7 997.9l0 0M237.6 997.9l0 0M232.5 998l0 0M227.5 998.1l0 0M222.5 998.2l0 0M217.7 998.5l0 0M212.9 998.7l0 0M208.3 999.1l-12.9 1.2-14.8 2.2-12 2.7-11.8 3.9-9 4.2-6.8 4.5-6.2 5.6-4.7 5.7-3.9 6.8-3.5 8.9-2.5 9.9-1.7 11.8-0.8 12.6 0.1 14.5 0.9 16 1.9 17.4M289.6 1102.7l-7.1-8.3-7.4-6.9-8.4-6.2-8.4-4.7-10.4-4.3-10-2.8-10.5-1.8-10.7-0.5-10.7 0.6-10.3 1.7-9.8 2.9-9.8 4.2-8.8 5.3-7.7 6.1-7.2 7.5-6 8.2M644.9 1126.5l14.6-27.9 12.6-20.8 11.8-16.3 12.9-13.6M67.7 1047.1l7.5-6.3 7.7-5.3 8.9-5.1 8.9-4.1 10.3-3.8 9.7-2.8 23.2-4.5 27.6-2.4 29.4 0.1 14.2 1.1 13.2 1.7 12.1 2.3 12.8 3.3 16 5.9 14 7.5 12.1 9.1 10.9 11.5 9.7 13.8 8.4 16.1 7.8 19.2 7.2 23.1M539.6 1123.4l15.9-11 17.4-9.4 19.1-7.4 19.4-5 20.2-3 21.5-0.8 22.1 1.4 21.4 3.5M67.4 1091.9l19.3 5.2 19.6 7.1 19.7 9 18.8 10.6M454.1 1107.6l8.9-14.7 9.6-12.6 10.7-11 11.9-9.6 13.2-7.9 14.2-6.3 16.3-5 16.6-3.3 19.6-2 20.2-0.2 19.5 1.7 19.7 3.6 17.3 5.1 16 6.9 14.7 8.3 13.9 10.4M67.2 1071.6l8.3 7.5 8.8 8.9 16.7 20.1M499.8 1055.9l9-5.2 10.1-4.7 9.7-3.7 10.7-3.1 11.6-2.5 12.2-1.9 12.9-1.1 13-0.4 13.1 0.4 12.6 1.1 12.1 1.8 12.8 2.8 11.7 3.4 10.6 3.9 9.6 4.4 9.6 5.4M292.9 1115.1l-7.4-10.1-7.9-8.7-8.3-7.1-9.4-6.2-10.6-5.1-10.4-3.4-12.2-2.2-11.4-0.7-11.3 0.7-11.9 2.4-11 3.9-9.9 5.1-8.7 6.2-8 7.8-6.8 8.6-5.9 10.1M580.6 1015.5l-12.4-2.5-14.1-1.9-15.5-1.1-12.9-0.2-12.9 0.4-15.3 1.3-13.9 2-12.2 2.8M644.7 1131.2l15.2-28.3 12.4-20.6 11.7-16.1 12.3-13.6M67.2 1051.8l7.1-6.2 8.2-6.1 8.4-5 9.7-4.8 9.7-3.8 11-3.5 21.8-4.5 15.1-1.9 13.4-0.9 27.8 0 13.5 1 15.2 1.9 11.6 2.2 12.4 3.2 17.3 6.5 13.6 7.5 12.8 9.9 10.6 11.4 9.6 13.8 8.9 17 8 20.1 7.1 23.1"/>
<path stroke="#000" d="M173.8 1287.9l0.2 0.6M643.1 1281.5l-3.3-5.3M370.9 1271.9l-0.9-3.9M616.1 1284.5l0.2-2M422.3 1282.4l-1.8 4.2M130.8 1268.4l-0.1 0.6M593.9 1268.9l1.7-5.3M387.7 1285l-1.1 4.3M212.4 1281.8l-2-2.1M298.8 1286l0.8 3.2M428.3 1271.8l0.4-4.2M250.8 1273l1.6 3.3M140.1 1259.8l-5.5 3.8M390.6 1267.1l-0.3 2M553.9 1283.2l2.2-4.7M433.7 1286.2l0.1-1.3M356.9 1287.1l-1-2.8M511.9 1280.7l-2.7 4M626.2 1291.6l0.1-1.3M441.9 1286.2l-1.7 3.5M394.3 1283.9l-0.2-1.3M199.9 1285.8l1.2 2.6M354.2 1285.9l-1.2-3.4M641.1 1281.5l-1-3.2M125 1276.3l-0.4 1.1M610.5 1284.7l0.5-2.5M412.7 1281.5l-1.6 4.6M469.3 1283.8l5.8-20.1 6.4-19.4 7-18.9 7.7-18.8 8.3-18 8.7-17.3 9.2-16.4 9.4-15 9.4-13.5 9.8-12.7 9.8-11.2 10.3-10.3 10.7-9.4 11.2-8.4 11-7.1 12.1-6.5M134.1 1281l-0.4 4.3M623.7 1283.3l0-1.3M383.2 1279.5l-0.4 1.9M209.5 1291.2l-3.3-3.3M118.9 1288.8l-0.5 0.7M330.8 1279.2l0.2 2.7M503 1282.4l0.7-1.7M457.8 1276.3l0.9-4M573.3 1285l-3.3 3M383.2 1267.3l-0.6-4.9M182 1270.5l1.9 4.4M360 1284.1l-0.2 2.7M557.6 1264.8l1.3-2.6M316.2 1274.8l0.1 0.7M412.1 1276l0-3.6M223.4 1268.6l1.9 3.6M489.2 1280l-2 3.2M345.1 1288.4l-0.7-1.5M148.6 1286.6l0.6 4.4M126.2 1276.4l-2.2 2.9M208.6 1279.6l0.8 1.5M399.4 1270.1l-0.1-2.1M151.5 1259.7l0.2 1.3M602.5 1285.9l0.5-1.8M223.7 1258.2l-2.3-2.4M119.5 1289.4l-0.3 1M541 1261.1l1.3-2.6M348.9 1279.9l0 2.1M251.1 1271l2.3 4.9M430.7 1260.4l0.3-2.9M634.3 1276.3l-0.7-4.9M478.7 1266.9l-0.3 0.5M140.2 1286.8l0.1 2M637.2 1267.8l0.7-5.4M254 1286.9l-2.5-4.8M103 1283.5l-0.6 2.8M553.9 1288.4l1.4-2.1M361.1 1284l0.1 3.2M488.4 1288.6l1.2-2.4M321.1 1270.8l0.8 3M445.4 1284.8l0.8-3M279 1280.1l0.9 1.8M663.1 1284.7l-7.9 0.9-8.1 2.6M221.4 1283.9l1.7 2.5M675.2 1287.5l-2.1-3.3M576.9 1290.4l-1.1 1.4M379.2 1284.3l-0.2-2.4M156.8 1258.7l1.7 3.8M528.8 1276.3l-1.7 2.9M344.6 1282.4l-0.3-1.6M306.6 1289.4l-2-5.4M674.7 1288.1l-2.1-3.3M165.2 1281.6l1.7 3.6M665.9 1286.4l-1.1-4M522.5 1286.3l-1.6 2.9M135 1283.2l0.5 2.2M651.9 1269l-0.2-1.6M474 1277.4l-1.6 3.9M296.5 1260.9l-1.6-4.3M116.5 1280.8l0 1.5M633.5 1285.3l0.5-3M396.3 1255.9l-0.1 0.8M195.5 1283.9l-1.8-2.3M360.7 1283.3l0.1 2.4M79.9 1289.5l-1.1 0.9M505.5 1263.4l1.7-2.9M319.6 1257.5l1.1 3.8M664.5 1282.6l-6.4 0.6M224.4 1286.1l2.1 3M448.6 1275.2l0.3-0.8M282.3 1281.3l0.3 0.6M412.7 1271.5l0.3-3.3M675.2 1288l-1.3-1.9M582.8 1284.8l-1.8 2.1M128.8 1255l0.5 3M652.4 1282.3l-0.1-2.2M470.5 1286.9l-0.8 2M116.2 1263l-0.2 3.1M635.9 1278l0.6-3.8M435.2 1259.9l-0.6 2.4M246.1 1267.4l-1-1.8M604.1 1282.3l1.3-3.1M393.3 1266.4l-0.3 3.3M184.9 1275.4l-5-5.1M565 1271.2l2.5-3.6M361.1 1283.2l0.1 2.4M496.4 1281.1l2.3-4.1"/>
</g>
<defs><clipPath id="c4"><rect x="736" y="977" width="630" height="315"/></clipPath></defs><g fill="none" stroke-width="2.3" stroke-linecap="round" stroke-linejoin="round" clip-path="url(#c4)">
<path stroke="#ff0000" d="M850.4 1264.5l8.8 23.4M1133.5 1276.2l7.6-12M1182.2 1264.6l7.7 10.9M1333 1268l1.3-4M1019.7 1282.5l1.1-3.2M1157.3 1279.7l1.1 2.7M1266.5 1290.1l5.2-10.9M979.2 1263.6l5.3-14.7M1120.3 1250l11.6 35M1269.1 1279.7l8.3-11.8 7.7-8.1 7.2-4.7 3.5-1.1 3.3-0.2 3.2 0.5 3.5 1.4 7 5.3 7.3 8.8 7.4 12.1M1010.3 1277.8l2.9 8.2M770.3 1267.6l5.3-17.3M944 1250.9l9 22.1M1071.3 1271.7l3.1-8.3M1220.5 1264.4l0.9 2.7M1361.4 1287.5l4.6-7.6M1027.2 1278.5l3.2-8M1197.8 1271.3l5.2 15.8M877.1 1284.9l9.6-30.8M1060.4 1254.4l12.7 32.3M785.7 1284.3l8.3-23.1M925.7 1261.5l10.5 30.2M1213.1 1269.7l3.7-8.4M1284 1261.7l9.6 19M754.2 1285.6l12-27.9M864 1258.2l3.7 10.6M1147 1290.3l11.2-33M1266 1258.2l11.6 28M988.2 1272.6l2.4-7.6M1172.4 1265.4l8.5 22M933.3 1282.6l6.4-19.6M1096.7 1264.2l8.8 21.6M762.5 1261.2l12.2 24.7M891.5 1282.5l7.9-21.6M1029.6 1261.5l8.1 23.6M1313.7 1278.3l7.5-17.5M846.5 1289.2l17.7-35.6M928.5 1254l9.6 22.3M1216.2 1282.2l9.8-29M1350.2 1254.4l9.9 27.1M1227.1 1273.1l5.5 16.2M855.2 1272.6l8.3 18.7M1078.1 1272.3l3.1 8.7M1359.9 1282l3.5-10.2M803.6 1250.9l9.4 28.6M952.1 1287.9l8.3-11.3 7.5-7.6 7.2-4.6 3.5-1.1 3.3-0.3 3.5 0.4 3.3 1.2 7 4.8 7 8 7.4 11.4M1280 1282l12.1-32M740.4 1277.1l0.6 2.1M1178.1 1280.7l1.7-4.4M1125.8 1272.3l0.2-0.6M1317 1272.4l5.2 14.9M836.4 1287.4l6.4-8.9 5.9-6.1 5.9-3.8 5.9-1.5 5.9 0.9 6.1 3.3 6.3 5.7 6.6 8M1190.3 1264.9l2.2 5.6M879.9 1275.1l2.9 9M820.9 1266l2.8 8.8M1257.9 1281.9l6.2-16.6M1173.7 1272.4l7.5-24.9M1339.3 1248.4l8.5 20.2M1089.1 1286.9l2.4-5.9M1229.7 1281.5l1.8 5.1M763.3 1275.3l10.3-28.4M907.7 1247.6l2.9 8.9M1052.8 1285.6l8.7-13.3 7.9-9.5 7.2-5.9 3.5-1.7 3.5-1 3.5-0.1 3.3 0.6 3.5 1.5 3.5 2.3 7 7.1 7.4 10.8M792.2 1258.2l9 21.4M1079 1286.3l4.8 0.8 4.8 2.2M1259.9 1268l3.3-10.8M1088.4 1280.8l4.2 8.3M1205.4 1289.6l3.5-9M888.2 1284.1l9.7-27.5M1030 1257.2l3.5 10.2M1229.9 1256.9l7.3 14.2 8 18.3M967.4 1270.8l2.9 9.1M970.9 1271.4l7-19.5M1065.2 1252.6l6.1 14.3M1186 1287l13.8-35M1308.7 1252.7l11.4 34.1M1203 1277.4l4 13.3M1326.2 1282.1l1.7-4.9M782.6 1272.5l3.5 11M1035.5 1279.4l2.4-7.1M1172.4 1272.6l5 18.2M1313.7 1282.7l5.3-10.5M1366 1272.6l0 0M736 1271.9l0 0M974.4 1286.3l10.8-25.5M1131.1 1261.7l5.9 22.3M912.5 1286.2l3.7-10M861.6 1281.8l3.5-11.8M1037.4 1270.9l3.3 9.2M816.7 1284l0.9-3.3M981.9 1281.4l1.1 2.5M1211.6 1284.2l1.5-3.2M1261.2 1281.3l4.6 9.1M779.5 1281.9l6.8-25.9M915.8 1256.8l0.7 1.9M1177.4 1261.6l2-5.3M1239.1 1256.8l7.7 19.5M745.6 1280.8l8.1-29M864.4 1252.1l5.9 20.4M1128.4 1275.6l7-24.3M1220.8 1252.6l4.8 15.2M1345.4 1284l10.1-32.4M793.3 1284.8l7.7-14.2M837.3 1270.9l5 8.5 5.7 11.1M988.2 1282.9l3.3-12.3M1128.9 1271.3l3.7 10.3M751.5 1282.4l12.7-35.1M816.7 1247.6l15.3 38.7M958.2 1271.3l6.6-24M1073.1 1248l10.3 35.2M1340.6 1267.4l5.9-20.4M804.5 1260.6l5.4 16.8M1030.2 1260.8l5.7 20M1290.5 1282.3l6.4-21.9M896.1 1281.6l5.7-10.9M945.8 1271l3.7 7.5M1184.7 1286.3l6.5-15.5M1343.9 1270.9l3.3 12.4M894.8 1278.8l3.7 0.7 4 2 3.9 3.3 3.9 4.7M1067.8 1290.3l6.8-22.8M1245.5 1268l8.3 23.5M840.8 1283.4l4.6-0.8M1028 1282.1l7.9-30M1180.5 1252.3l14.7 33.8M875.1 1260.3l6.1 21.4M1282 1274.4l4.4-14.7M825.5 1256.7l8.7 24.6M1042.9 1291.9l6.1-4.7 3.1-1.2 3.1-0.4M1241.8 1268.2l3.2-12.5M757.7 1247.1l6.3 15M1000.9 1286.1l6.8-12.8 6.3-8.9 6.2-5.4 3-1.4 3.1-0.5 3 0.4 3.1 1.2 6.1 5 6.6 8.5 7.2 12.6M1199.8 1270l6.1-23.8M1329.2 1247l11.9 33.9M958.7 1288l9.6-28.4M1032.6 1260.5l6.8 17.6M1169.3 1265.9l1.8-6.3M918.9 1280.1l4.1-14.5M1016.9 1266.9l6.5 20M1141.8 1268.5l0.9-2.8M874.9 1274.2l7.4-26.3M986.2 1248.1l3.3 11.8M1123 1265.6l6.8-18.1M1191.7 1248.1l11.5 35.2M820.9 1279.2l0.4-1.3M1154.5 1278.1l1.5 3.3M923.9 1276.6l1.8 6.6M1334.7 1277l0.5-1.1"/>
<path stroke="#ff3500" d="M848.2 1258.4l2.2 6.1M1141.1 1264.2l5.3-6.3M1176.6 1258.1l5.6 6.5M1334.3 1264l1.9-6M738.6 1271.3l1.8 4.6M1020.8 1279.3l3.1-9M1154 1271.4l3.3 8.3M1271.7 1279.2l4-8.3M984.5 1248.9l2.2-6.2M1118.4 1243.7l1.9 6.3M1008.1 1271.5l2.2 6.3M775.6 1250.3l7.4-25M934 1226.1l10 24.8M755.5 1258.4l1.1-0.8M777.1 1257.8l2.4 2M1074.4 1263.4l2.2-6M1218.6 1258.2l1.9 6.2M1030.4 1270.5l3.5-8.6M1194.9 1262.4l2.9 8.9M886.7 1254.1l2-6.4M1058 1248.3l2.4 6.1M794 1261.2l3.9-11.5M921.9 1250.4l3.8 11.1M1216.8 1261.3l5.7-11.5M1277.6 1250.2l6.4 11.5M766.2 1257.7l6.6-15.7M858.3 1242.3l5.7 15.9M1158.2 1257.3l5.2-15.5M1259.9 1242.5l6.1 15.7M990.6 1265l7.9-25.4M1162.8 1240.7l9.6 24.7M939.7 1263l2.6-8.4M1093.2 1255.3l3.5 8.9M759.2 1255l3.3 6.2M899.4 1260.9l2.2-6.3M1027.4 1255l2.2 6.5M1321.2 1260.8l2.8-6.2M864.2 1253.6l3.5-6.4M925.4 1247.6l3.1 6.4M1226 1253.2l2-6M1348.1 1248l2.1 6.4M1221.8 1257.5l5.3 15.6M736 1269.1l1.3-3.8M852.6 1266.3l2.6 6.3M1075.9 1266.2l2.2 6.1M1363.4 1271.8l2.2-6.4M801.6 1244.6l2 6.3M1292.1 1250l2.1-6.1M738.4 1270.9l2 6.2M1179.8 1276.3l2.4-6.1M1126 1271.7l3.8-11.2M1313.1 1261.2l3.9 11.2M1038.5 1262.4l7-23.1M1180.9 1239.8l9.4 25.1M878 1268.8l1.9 6.3M818.7 1259.2l2.2 6.8M1264.1 1265.3l2.4-6.5M1181.2 1247.5l7.2-25.2M1329 1223.4l10.3 25M975.3 1275.4l2.2 4.6M1091.5 1281l2.4-6.1M1227.5 1275.1l2.2 6.4M773.6 1246.9l2.2-6.3M905.8 1241.3l1.9 6.3M789.6 1251.7l2.6 6.5M1263.2 1257.2l1.7-5.9M1085.3 1274.7l3.1 6.1M1208.9 1280.6l2.4-6.5M897.9 1256.6l5.2-15.7M1024.8 1241.4l5.2 15.8M1177.2 1255.8l5.7-8.4 5.5-6.5M1219 1240.9l5.2 6.8 5.7 9.2M965.7 1265.1l1.7 5.7M853.9 1269.9l0.4 1.1M977.9 1251.9l2.2-5.9M1062.6 1246.4l2.6 6.2M1199.8 1252l2.1-5.9M1306.7 1246.8l2 5.9M823.5 1271.5l1.5 5.4M1201.3 1271.3l1.7 6.1M1327.9 1277.2l2.2-6.1M778.9 1261.2l3.7 11.3M1037.9 1272.3l3.9-11.9M1169.3 1261.1l3.1 11.5M1319 1272.2l6.8-11.4M1359.7 1261.3l6.3 11.3M985.2 1260.8l2.6-6.5M1129.3 1254.9l1.8 6.8M916.2 1276.2l6.2-16.2M1086.7 1260.9l2.8 9.9M865.1 1270l4.6-15.6M1031.8 1255.3l5.6 15.6M817.6 1280.7l1.7-6.5M979.2 1275.3l2.7 6.1M1213.1 1281l3.3-6.2M1257.7 1275l3.5 6.3M786.3 1256l1.5-6.1M913.6 1250.4l2.2 6.4M1179.4 1256.3l2.4-6.2M1236.5 1250.5l2.6 6.3M753.7 1251.8l1.8-6.6M862.7 1245.9l1.7 6.2M1135.4 1251.3l1.8-6M1218.8 1246.4l2 6.2M1355.5 1251.6l2-6.6M801 1270.6l4.3-6.2M832.7 1264.7l4.6 6.2M991.5 1270.6l1.7-6.6M1126.7 1265l2.2 6.3M764.2 1247.3l2.6-6.2M814.1 1241.8l2.6 5.8M964.8 1247.3l1.8-6.6M1071.3 1241.7l1.8 6.3M1346.5 1247l1.8-6.1M796.4 1235.5l8.1 25.1M934.8 1256.6l6.6-21.4M1023.2 1236.2l7 24.6M1296.9 1260.4l7-25.2M901.8 1270.7l3.7-6.1M942.3 1264.8l3.5 6.2M1191.2 1270.8l2.6-6.4M1342.4 1265.1l1.5 5.8M1074.6 1267.5l2-6.7M1243.3 1261.9l2.2 6.1M1035.9 1252.1l1.8-6.9M1177.9 1246.1l2.6 6.2M872.1 1249.5l3 10.8M1286.4 1259.7l3.3-11.1M822.4 1248.2l3.1 8.5M1245 1255.7l2.2-8.5M753.1 1236l4.6 11.1M1205.9 1246.2l2.8-11.4M1325.5 1235.5l3.7 11.5M968.3 1259.6l2.2-6M1030 1253.9l2.6 6.6M1171.1 1259.6l1.7-6.4M1283.5 1254.2l0.3 0.8M923 1265.6l1.8-6M1014.9 1260.7l2 6.2M1142.7 1265.7l1.7-5.7M1240.9 1260.7l0.6 2.3M882.3 1247.9l3.3-12M983.2 1236.8l3 11.3M1129.8 1247.5l4.3-11M1187.5 1236.8l4.2 11.3M821.3 1277.9l3.9-11.5M1108.8 1270.3l2.4-3.9M1148.6 1267l5.9 11.1M922.2 1270l1.7 6.6M1335.2 1275.9l2.4-6.4"/>
<path stroke="#ff6a00" d="M846 1252.2l2.2 6.2M1146.4 1257.9l4.1-3.7 4-2.4M1168 1251.9l4.2 2.5 4.4 3.7M1336.2 1258l2.2-6.8M736 1264.6l2.6 6.7M1023.9 1270.3l2.8-8.5M1150.5 1262.3l3.5 9.1M1275.7 1270.9l4.1-8.8M1363.4 1262.3l2.4 6.1M986.7 1242.7l2.2-6.4M1116.4 1237.3l2 6.4M1005.9 1265.1l2.2 6.4M783 1225.3l7.2-25M923.9 1201.1l10.1 25M756.6 1257.6l5.2-2.8 5-0.8 5.1 0.9 5.2 2.9M1076.6 1257.4l2.2-6.1M1216.6 1251.9l2 6.3M1033.9 1261.9l3.5-8.8M1192.3 1254.1l2.6 8.3M888.7 1247.7l2-6.5M1055.6 1242.2l2.4 6.1M797.9 1249.7l3.7-11.3M918.2 1239.1l3.7 11.3M1222.5 1249.8l6.6-11.3M1270.4 1238.8l7.2 11.4M772.8 1242l6.5-15.6M852.6 1227.1l5.7 15.2M1163.4 1241.8l5.3-15.3M1254 1227.1l5.9 15.4M998.5 1239.6l7.4-24.6M1152.9 1215.4l9.9 25.3M942.3 1254.6l2.6-8.5M1089.9 1246.8l3.3 8.5M755.7 1248.7l3.5 6.3M901.6 1254.6l2.2-6.5M1025.4 1249l2 6M1324 1254.6l3.1-6.2M867.7 1247.2l3.5-6M922.2 1241.4l3.2 6.2M1228 1247.2l1.9-6M1345.9 1241.5l2.2 6.5M1216.6 1241.7l5.2 15.8M737.3 1265.3l2-5.8M850 1259.9l2.6 6.4M1073.8 1260.2l2.1 6M1365.6 1265.4l0.4-1.3M799.7 1238.2l1.9 6.4M1294.2 1243.9l2.2-6.2M736.4 1264.6l2 6.3M1182.2 1270.2l2.5-6.1M1364.7 1264.5l1.3 4.2M1129.8 1260.5l3.7-11.3M1309.1 1249.9l4 11.3M1045.5 1239.3l7.3-25.2M1172.2 1214.9l8.7 24.9M876 1262.3l2 6.5M816.7 1253l2 6.2M1266.5 1258.8l2.2-6M1188.4 1222.3l6.8-24.6M1319.2 1198.4l9.8 25M972.2 1269l3.1 6.4M1093.9 1274.9l2.6-6.7M1225.6 1269.3l1.9 5.8M775.8 1240.6l2.2-6.4M903.8 1234.9l2 6.4M787 1245.2l2.6 6.5M1264.9 1251.3l2-6.7M1082.1 1268.2l3.2 6.5M1211.3 1274.1l2.2-6M903.1 1240.9l5.3-16.1M1019.7 1225.6l5.1 15.8M1188.4 1240.9l3.9-3.7 3.9-2.7 4-1.6 3.7-0.6 3.7 0.6 3.7 1.6 3.8 2.6 3.9 3.8M796.6 1258.5l0.2-0.5M963.7 1258.6l2 6.5M851.3 1263.4l2.6 6.5M980.1 1246l2.4-6.3M1060 1240.3l2.6 6.1M1201.9 1246.1l2.4-6.6M1304.5 1240.1l2.2 6.7M821.8 1265.3l1.7 6.2M1199.5 1265.2l1.8 6.1M1330.1 1271.1l2.4-6.6M774.9 1249.7l4 11.5M1041.8 1260.4l3.5-11M1166.5 1250.2l2.8 10.9M1325.8 1260.8l5.4-6.8 5.3-4.4M1349.2 1249.7l5.2 4.6 5.3 7M987.8 1254.3l2.4-6M1127.8 1248.9l1.5 6M922.4 1260l5.9-15.3M1082.1 1244.9l4.6 16M869.7 1254.4l4.5-15.5M1025.8 1239.4l6 15.9M819.3 1274.2l1.6-5.8M976.6 1269.2l2.6 6.1M1216.4 1274.8l3.9-6.4M1253.8 1268.8l3.9 6.2M787.8 1249.9l1.6-6.1M911.7 1244.5l1.9 5.9M1181.8 1250.1l2.6-6.4M1233.7 1244l2.8 6.5M755.5 1245.2l1.5-5.8M860.9 1239.6l1.8 6.3M1137.2 1245.3l1.7-6M1216.6 1239.5l2.2 6.9M1357.5 1245l1.7-5.8M805.3 1264.4l6.6-6.2M825.9 1258.3l6.8 6.4M993.2 1264l1.6-5.9M1124.5 1258.6l2.2 6.4M766.8 1241.1l2.9-6.2M811 1235.5l3.1 6.3M966.6 1240.7l1.5-5.9M1069.6 1235.4l1.7 6.3M1348.3 1240.9l1.7-5.9M788.3 1210.9l8.1 24.6M941.4 1235.2l7.7-25.1M1015.8 1210.5l7.4 25.7M1303.9 1235.2l6.8-25.2M905.5 1264.6l4.6-6.4M937.9 1258.4l4.4 6.4M1193.8 1264.4l2.7-6.4M1340.6 1258.3l1.8 6.8M1130.6 1260.5l2.2-5.6M1292.9 1255.2l0.7 2.3M1076.6 1260.8l1.7-5.8M1240.9 1255.3l2.4 6.6M1037.7 1245.2l1.5-6M1175.2 1239.9l2.7 6.2M868.8 1238l3.3 11.5M1289.7 1248.6l3.5-11.7M819.1 1239.3l3.3 8.9M1247.2 1247.2l2.2-8.5M748.2 1224.1l4.9 11.9M1208.7 1234.8l2.6-10.8M1322 1224.3l3.5 11.2M970.5 1253.6l2.4-6.2M1027.4 1247.6l2.6 6.3M1172.8 1253.2l1.8-6.5M1281.8 1248l1.7 6.2M924.8 1259.6l1.7-6.1M1012.7 1253.9l2.2 6.8M1144.4 1260l2-6.4M1239.1 1254.4l1.8 6.3M885.6 1235.9l3.1-11.4M980.1 1225.3l3.1 11.5M1134.1 1236.5l5.1-11.5M1182.9 1225.6l4.6 11.2M825.2 1266.4l3.8-11.3M954.5 1255.6l2.9 10.8M1111.2 1266.4l4.6-6.5 4.3-4.7M1139.6 1255.3l4.4 4.9 4.6 6.8M771.2 1267.6l1.8-4.2M920.6 1264.1l1.6 5.9M1337.6 1269.5l2.4-6.2"/>
<path stroke="#ff9f00" d="M843.8 1245.9l2.2 6.3M1154.5 1251.8l3.3-1.2 3.4-0.4 3.3 0.4 3.5 1.3M1338.4 1251.2l2-6.3M1026.7 1261.8l2.9-8.5M1147.5 1254l3 8.3M1279.8 1262.1l4.2-8.6M1359.9 1253.7l3.5 8.6M988.9 1236.3l1.9-5.8M1114.4 1230.7l2 6.6M819.8 1264.2l2-5.8M1003.8 1258.7l2.1 6.4M790.2 1200.3l7.3-25.5M913.8 1175.6l10.1 25.5M1078.8 1251.3l2.2-6.1M1214.6 1245.5l2 6.4M1037.4 1253.1l3.3-8.3M1189.7 1245.5l2.6 8.6M890.7 1241.2l1.7-5.8M1053 1235.5l2.6 6.7M801.6 1238.4l3.7-11.6M914.5 1227.5l3.7 11.6M1229.1 1238.5l4.8-6.5 4.8-4.9M1260.3 1227.3l4.9 4.7 5.2 6.8M779.3 1226.4l7-15.9M846.2 1211.3l6.4 15.8M1168.7 1226.5l5.7-16M1247.9 1211.2l6.1 15.9M1005.9 1215l7.5-25.1M1143.3 1190.5l9.6 24.9M944.9 1246.1l2.6-8.8M1086.7 1238.1l3.2 8.7M752.2 1242.7l3.5 6M903.8 1248.1l2-5.8M1023.4 1243l2 6M1327.1 1248.4l3.2-6.1M871.2 1241.2l3.9-6.2M918.4 1235l3.8 6.4M1229.9 1241.2l2.2-6.8M1343.9 1235.6l2 5.9M1211.3 1225.9l5.3 15.8M739.3 1259.5l2.2-6.4M847.3 1253.4l2.7 6.5M976.2 1259.3l2.6-6M1071.3 1253.5l2.5 6.7M797.7 1231.7l2 6.5M1296.4 1237.7l2.2-6.3M736 1263.2l0.4 1.4M1184.7 1264.1l2.6-6.6M1362.7 1258.2l2 6.3M1133.5 1249.2l3.7-11.3M1305 1238.1l4.1 11.8M1052.8 1214.1l6.7-24.7M1163.9 1189.8l8.3 25.1M874.2 1256.6l1.8 5.7M1341.5 1262.2l2.6-6.4M814.8 1246.8l1.9 6.2M1268.7 1252.8l2.4-6.5M1195.2 1197.7l6.7-25.3M1309.8 1173.3l9.4 25.1M884.5 1266.8l1.8-4.4M969.2 1262.5l3 6.5M1096.5 1268.2l2.2-5.8M1223.4 1262.7l2.2 6.6M778 1234.2l2.2-6.5M901.8 1228.4l2 6.5M784.6 1239.1l2.4 6.1M1266.9 1244.6l1.8-6M1078.8 1261.9l3.3 6.3M1213.5 1268.1l2.4-6.8M908.4 1224.8l5-15.9M1014.9 1210l4.8 15.6M796.8 1258l2.6-6.3M961.8 1252l1.9 6.6M848.9 1257.4l2.4 6M1303.4 1257.5l0.3-0.7M982.5 1239.7l2.4-6.2M1057.1 1233.8l2.9 6.5M1204.3 1239.5l2.2-6M1302.6 1234.2l1.9 5.9M820 1259l1.8 6.3M1086.2 1262.4l1.1-3.9M1197.8 1258.9l1.7 6.3M1332.5 1264.5l2.2-5.9M770.8 1238.4l4.1 11.3M1045.3 1249.4l3.5-11.3M1163.7 1238.9l2.8 11.3M1336.5 1249.6l3.3-1.4 3-0.5 3.1 0.5 3.3 1.5M990.2 1248.3l2.6-6.7M1126.2 1242.8l1.6 6.1M928.3 1244.7l6.1-15.5M1077.7 1229.7l4.4 15.2M874.2 1238.9l4.9-16.1M1019.9 1223.9l5.9 15.5M820.9 1268.4l1.7-6.7M973.8 1262.6l2.8 6.6M1220.3 1268.4l4.8-6.2M1248.8 1262.5l5 6.3M789.4 1243.8l1.5-6.2M909.5 1237.8l2.2 6.7M1184.4 1243.7l2.9-6.4M1230.8 1237.9l2.9 6.1M757 1239.4l1.8-6.7M859.2 1233.2l1.7 6.4M1138.9 1239.3l2-6.7M1214.6 1233.3l2 6.2M1359.2 1239.2l2-6.6M811.9 1258.2l3.5-1.7 3.5-0.5 3.5 0.6 3.5 1.7M994.8 1258.1l1.7-6.9M1122.3 1252.1l2.2 6.5M769.7 1234.9l3.3-6.3M807.5 1228.9l3.5 6.6M968.1 1234.8l1.7-6.8M1067.8 1229l1.8 6.4M1350 1235l2-6.6M736 1190.9l2.2-5.7M778.9 1185.3l9.4 25.6M949.1 1210.1l8.1-25.3M1008.1 1185.6l7.7 24.9M1310.7 1210l6.5-24.9M748.5 1252.5l0.8 3.4M910.1 1258.2l6.6-6.3M931.8 1252.2l6.1 6.2M1196.5 1258l2.6-6.5M1339.1 1252.4l1.5 5.9M1132.8 1254.9l4.6-11.7M1289.9 1244.4l3 10.8M1078.3 1255l2-6.6M1238.7 1249.3l2.2 6M1039.2 1239.2l1.5-6M1172.6 1233.6l2.6 6.3M865.5 1226.5l3.3 11.5M1293.2 1236.9l3.2-11M815.8 1230.5l3.3 8.8M1249.4 1238.7l2.2-8.6M743.9 1213l4.3 11.1M1211.3 1224l2.9-12M1318.5 1212.8l3.5 11.5M972.9 1247.4l2.6-6.4M1024.8 1241.6l2.6 6M1174.6 1246.7l1.5-5.7M1280 1241.7l1.8 6.3M926.5 1253.5l1.8-6M1010.8 1247.7l1.9 6.2M1146.4 1253.6l1.9-6.5M1237.4 1248.2l1.7 6.2M888.7 1224.5l3.1-11.5M977.3 1214.4l2.8 10.9M1139.2 1225l5.9-11.5M1177.2 1213.9l5.7 11.7M829 1255.1l3.7-11.7M951.7 1244.4l2.8 11.2M1120.1 1255.2l5.1-3.3 4.8-1.1 4.8 1.2 4.8 3.3M773 1263.4l2.6-6.4M919.1 1258.1l1.5 6M1340 1263.3l2.4-6.2"/>
<path stroke="#ffd400" d="M841.7 1239.5l2.1 6.4M1340.4 1244.9l1.8-5.6M1029.6 1253.3l2.8-8.6M1144.2 1245l3.3 9M1284 1253.5l4.3-8.9M1356.2 1245l3.7 8.7M990.8 1230.5l2.2-6.5M1112.7 1224.8l1.7 5.9M821.8 1258.4l2.1-6.5M1001.6 1252.4l2.2 6.3M797.5 1174.8l7-25M904.2 1150.6l9.6 25M1081 1245.2l2.2-6.3M1212.7 1239l1.9 6.5M1040.7 1244.8l3.5-9.1M1187.1 1236.8l2.6 8.7M892.4 1235.4l2-6.5M1050.6 1229.4l2.4 6.1M805.3 1226.8l3.5-11.2M910.8 1215.8l3.7 11.7M1238.7 1227.1l5.5-3.5 5.2-1 5.5 1.2 5.4 3.5M786.3 1210.5l7.7-15.5M839 1195.6l7.2 15.7M1174.4 1210.5l5.9-15.7M1241.5 1195.3l6.4 15.9M1013.4 1189.9l7.4-25.4M1133.7 1165.4l9.6 25.1M947.5 1237.3l2.7-8.9M1083.4 1229.2l3.3 8.9M748 1236.3l4.2 6.4M905.8 1242.3l2.1-6.7M1021.2 1236.3l2.2 6.7M1330.3 1242.3l3.8-6.3M875.1 1235l4.6-6.3M914.3 1228.9l4.1 6.1M1232.1 1234.4l2-6.1M1341.7 1228.9l2.2 6.7M1206.1 1210l5.2 15.9M741.5 1253.1l2.2-6.4M844.9 1247.4l2.4 6M978.8 1253.3l2.9-6.5M1069.2 1247.6l2.1 5.9M795.9 1225.8l1.8 5.9M1298.6 1231.4l2.2-6.4M1187.3 1257.5l2.4-6.1M1360.8 1251.8l1.9 6.4M1137.2 1237.9l3.9-11.9M1301 1226.9l4 11.2M1059.5 1189.4l6.6-24.9M1156 1164.6l7.9 25.2M872.3 1250l1.9 6.6M1344.1 1255.8l2.7-6.4M812.8 1240.6l2 6.2M1271.1 1246.3l2.4-6.5M1201.9 1172.4l6.6-25M1300.8 1148l9 25.3M886.3 1262.4l2.6-6.4M966.3 1256.6l2.9 5.9M1098.7 1262.4l2.4-6.5M1221.4 1256.8l2 5.9M780.2 1227.7l2-5.9M900.1 1222.6l1.7 5.8M782.2 1233l2.4 6.1M1268.7 1238.6l1.7-6.2M1011.4 1259.5l2-4.1M1075.5 1255.8l3.3 6.1M1215.9 1261.3l2.2-6.3M1345.2 1255.7l1.3 4M913.4 1208.9l4.8-15.4M1010.1 1194.1l4.8 15.9M799.4 1251.7l2.7-6.4M960 1246.1l1.8 5.9M846.2 1250.9l2.7 6.5M1303.7 1256.8l1.9-6.5M984.9 1233.5l2.7-6.5M1054.3 1227.5l2.8 6.3M1206.5 1233.5l2.4-6.7M1300.4 1227.6l2.2 6.6M818.2 1252.8l1.8 6.2M1087.3 1258.5l1.8-6.2M1196 1252.5l1.8 6.4M1334.7 1258.6l2.4-6.4M766.2 1227.1l4.6 11.3M1048.8 1238.1l3.5-11.7M1160.8 1227.5l2.9 11.4M992.8 1241.6l2.4-6.2M1124.5 1235.9l1.7 6.9M934.4 1229.2l6.6-16.2M1073.1 1213.8l4.6 15.9M879.1 1222.8l4.6-15.2M1013.8 1208.2l6.1 15.7M822.6 1261.7l1.6-5.9M971.2 1256.4l2.6 6.2M1225.1 1262.2l4.8-4.1 4.6-2M1239.1 1256.2l4.8 2.1 4.9 4.2M790.9 1237.6l1.5-6.3M907.5 1231.7l2 6.1M1187.3 1237.3l3-6.3M1227.5 1231.5l3.3 6.4M758.8 1232.7l1.5-6M857.6 1227.6l1.6 5.6M1140.9 1232.6l1.8-5.9M1212.7 1227.1l1.9 6.2M1361.2 1232.6l1.7-5.9M996.5 1251.2l1.6-6M1120.3 1246.1l2 6M773 1228.6l3.7-6.1M803.6 1222.7l3.9 6.2M969.8 1228l1.6-6M1066.3 1223.3l1.5 5.7M1352 1228.4l2-6.6M738.2 1185.2l7.2-15.8 3.5-5.5 3.3-3.8M764.7 1160.2l3.2 3.8 3.5 5.5 7.5 15.8M957.2 1184.8l9.4-25.1M998.9 1160.4l9.2 25.2M1317.2 1185.1l6.8-25.5M746.9 1246.5l1.6 6M916.7 1251.9l3.9-2 3.7-0.5 3.8 0.7 3.7 2.1M1199.1 1251.5l2.4-6M1337.6 1246.4l1.5 6M1137.4 1243.2l4.6-11.4M1286.6 1232.9l3.3 11.5M1080.3 1248.4l1.8-5.9M1236.3 1242.8l2.4 6.5M1040.7 1233.2l1.5-6.1M1170.2 1227.7l2.4 5.9M862.2 1215l3.3 11.5M1296.4 1225.9l3.5-11.6M812.6 1221.9l3.2 8.6M1251.6 1230.1l2.2-8.7M739.5 1201.6l4.4 11.4M1214.2 1212l2.6-11.2M1315.2 1201.6l3.3 11.2M975.5 1241l2.9-6.5M1021.7 1235l3.1 6.6M1176.1 1241l1.8-6.7M1278.3 1235.3l1.7 6.4M928.3 1247.5l1.9-6.7M1008.8 1241.5l2 6.2M1148.3 1247.1l2-6.5M1235.6 1242l1.8 6.2M891.8 1213l2.8-10.8M974.2 1202.5l3.1 11.9M1145.1 1213.5l4.1-6.4 4.2-4.7M1169.1 1202.6l4 4.6 4.1 6.7M832.7 1243.4l3.5-11.3M948.8 1233l2.9 11.4M775.6 1257l2.6-6.5M917.3 1251.3l1.8 6.8M1342.4 1257.1l2.4-6.2"/>
<path stroke="#f4ff00" d="M839.5 1233.1l2.2 6.4M1342.2 1239.3l1.9-6.5M1032.4 1244.7l2.8-8.7M1141.1 1236.4l3.1 8.6M1288.3 1244.6l4.6-8.9M1352.2 1236.5l4 8.5M993 1224l2.2-6.6M1110.7 1218.1l2 6.7M823.9 1251.9l2.2-6.5M999.4 1246l2.2 6.4M804.5 1149.8l7-25.1M894.8 1125.5l9.4 25.1M1083.2 1238.9l2.1-6.4M1210.9 1233.1l1.8 5.9M1044.2 1235.7l3.3-8.7M1184.4 1227.9l2.7 8.9M894.4 1228.9l1.9-6.6M1048.2 1223.4l2.4 6M808.8 1215.6l3.5-11.3M907.3 1204.6l3.5 11.2M794 1195l5.2-8.9 4.8-6.6M829.2 1179.7l4.8 6.8 5 9.1M1180.3 1194.8l6.3-15.3M1234.8 1179.7l6.7 15.6M1020.8 1164.5l7.2-24.8M1124.1 1140l9.6 25.4M950.2 1228.4l2.4-8.4M1080.3 1220.7l3.1 8.5M743.2 1229.8l4.8 6.5M907.9 1235.6l2-6M1019.3 1230.2l1.9 6.1M1334.1 1236l4.6-6.4M879.7 1228.7l5.9-6.3M908.6 1222.5l5.7 6.4M1234.1 1228.3l2-6.2M1339.8 1222.8l1.9 6.1M1201.1 1194.9l5 15.1M743.7 1246.7l2.1-6.3M842.5 1241.3l2.4 6.1M981.7 1246.8l2.6-6M1066.8 1241.2l2.4 6.4M794.2 1219.9l1.7 5.9M1300.8 1225l2.2-6.5M1189.7 1251.4l2.4-6.1M1358.8 1245.4l2 6.4M1141.1 1226l3.7-11.3M1297.1 1215.8l3.9 11.1M1066.1 1164.5l6.6-25.6M1148.6 1139.6l7.4 25M870.5 1244l1.8 6M1346.8 1249.4l2.4-6M810.8 1234.4l2 6.2M1273.5 1239.8l2.2-5.9M1208.5 1147.4l6.6-25.6M1292.5 1123.3l8.3 24.7M888.9 1256l2.6-6.2M963.3 1250.3l3 6.3M1101.1 1255.9l2.2-6M1219.2 1250.2l2.2 6.6M782.2 1221.8l2.1-6.7M898.1 1216l2 6.6M779.8 1226.7l2.4 6.3M1270.4 1232.4l1.8-6.1M1013.4 1255.4l3.3-6.5M1072 1249.6l3.5 6.2M1218.1 1255l2-5.7M1343.2 1249.8l2 5.9M918.2 1193.5l4.8-15.6M1005.5 1178.6l4.6 15.5M802.1 1245.3l2.6-6.4M958 1239.4l2 6.7M843.8 1244.9l2.4 6M1305.6 1250.3l2-6.5M987.6 1227l2.6-6.2M1051.4 1221.3l2.9 6.2M1208.9 1226.8l2.2-6.1M1298.4 1221.7l2 5.9M816.5 1246.6l1.7 6.2M1089.1 1252.3l1.7-6.4M1194.3 1246.1l1.7 6.4M1337.1 1252.2l2.4-6.3M760.7 1215.6l5.5 11.5M1052.3 1226.4l3.3-11.3M1158 1215.7l2.8 11.8M995.2 1235.4l2.4-6.3M1123 1229.7l1.5 6.2M941 1213l6.3-15.2M1068.5 1198l4.6 15.8M883.7 1207.6l4.8-15.7M1007.5 1192.6l6.3 15.6M824.2 1255.8l1.5-6M968.5 1250.1l2.7 6.3M1234.5 1256.1l4.6 0.1M792.4 1231.3l1.6-6.3M905.5 1225.4l2 6.3M1190.3 1231l3.5-6.1M1223.8 1225.2l3.7 6.3M760.3 1226.7l1.7-6.9M855.9 1221.1l1.7 6.5M1142.7 1226.7l1.9-6.4M1210.7 1220.9l2 6.2M1362.9 1226.7l2-6.6M998.1 1245.2l1.5-6.2M1118.4 1240l1.9 6.1M776.7 1222.5l5.5-6.4M798.1 1216.4l5.5 6.3M971.4 1222l1.5-6M1064.6 1216.8l1.7 6.5M1354 1221.8l1.7-5.7M752.2 1160.1l3-2.1 3.1-0.7 3.1 0.7 3.3 2.2M966.6 1159.7l4.3-8.9 4.2-6.3 3.9-3.6 3.8-1 3.9 1.3 3.9 3.9 4 6.1 4.3 9.2M1324 1159.6l6.8-24.5M745.2 1239.6l1.7 6.9M1201.5 1245.5l2.4-6.2M1336 1240.3l1.6 6.1M1142 1231.8l4.6-11.3M1283.3 1221.4l3.3 11.5M1082.1 1242.5l1.9-6.6M1233.9 1236.4l2.4 6.4M1042.2 1227.1l1.8-7.1M1167.6 1221.2l2.6 6.5M858.9 1203.6l3.3 11.4M1299.9 1214.3l3.5-11.4M809.3 1213.4l3.3 8.5M1253.8 1221.4l2.2-8.8M736 1192.3l3.5 9.3M1216.8 1200.8l2.6-11.4M1312 1190.1l3.2 11.5M978.4 1234.5l3-6.2M1018.4 1228.6l3.3 6.4M1177.9 1234.3l1.5-5.9M1276.5 1228.9l1.8 6.4M930.2 1240.8l1.8-5.9M1006.8 1235.3l2 6.2M1150.3 1240.6l1.8-5.8M1233.7 1235.1l1.9 6.9M894.6 1202.2l3.1-11.7M971.4 1191.4l2.8 11.1M1153.4 1202.4l3.9-2.8 3.9-0.9 4 1 3.9 2.9M836.2 1232.1l3.5-11.8M946 1221.4l2.8 11.6M778.2 1250.5l2.4-6M915.8 1245.3l1.5 6M1344.8 1250.9l2.4-6.1"/>
<path stroke="#bfff00" d="M837.5 1227.2l2 5.9M1344.1 1232.8l2-6.5M1035.2 1236l2.9-8.7M1138.1 1227.6l3 8.8M1292.9 1235.7l4.9-8.6M1347.8 1227.8l4.4 8.7M995.2 1217.4l2-6M1109 1212.1l1.7 6M826.1 1245.4l2-5.9M997.4 1240.3l2 5.7M811.5 1124.7l7-24.9M885.8 1100.8l9 24.7M1085.3 1232.5l2.2-6.5M1208.9 1226.4l2 6.7M1047.5 1227l3.1-8.3M1181.8 1218.9l2.6 9M896.3 1222.3l1.8-5.9M1045.5 1216.7l2.7 6.7M812.3 1204.3l3.5-11.5M903.8 1193.3l3.5 11.3M804 1179.5l3.3-3.4 3.3-2.4 3.1-1.4 3-0.5 3.1 0.5 3 1.5 6.4 5.9M1186.6 1179.5l8.1-15.9M1226.7 1164.2l8.1 15.5M1028 1139.7l7.5-25.5M1114.7 1114.8l9.4 25.2M952.6 1220l2.6-9.2M1077 1211.5l3.3 9.2M737.1 1223.7l6.1 6.1M909.9 1229.6l2-6.1M1017.3 1224l2 6.2M1338.7 1229.6l5.9-6.2M1365.3 1223.6l0.7 0.6M885.6 1222.4l5.9-4 5.7-1.2 5.7 1.3 5.7 4M1236.1 1222.1l1.9-6.2M1337.8 1216.7l2 6.1M1195.8 1179.1l5.3 15.8M745.8 1240.4l2.2-6.3M839.9 1234.6l2.6 6.7M984.3 1240.8l2.8-6.5M1064.3 1235l2.5 6.2M792.2 1213.1l2 6.8M1303 1218.5l2-5.9M1192.1 1245.3l2.6-6.7M1357 1239.6l1.8 5.8M1144.8 1214.7l3.8-11.3M1292.9 1204.1l4.2 11.7M1072.7 1138.9l6.3-25.2M1141.6 1115.1l7 24.5M868.6 1237.2l1.9 6.8M1349.2 1243.4l2.6-6.5M808.8 1228.1l2 6.3M1275.7 1233.9l2.4-6.5M1215.1 1121.8l6.3-24.9M1284.4 1097.9l8.1 25.4M891.5 1249.8l2.9-6.5M960 1243.7l3.3 6.6M1103.3 1249.9l2.4-6.8M1217.2 1244.2l2 6M784.3 1215.1l2-6M896.3 1210l1.8 6M777.3 1220.4l2.5 6.3M1272.2 1226.3l1.7-6.3M1016.7 1248.9l3.2-5.9M1068.1 1243.2l3.9 6.4M1220.1 1249.3l2.2-6.5M1341.1 1243.2l2.1 6.6M923 1177.9l4.8-15.7M1000.9 1163.1l4.6 15.5M804.7 1238.9l2.4-5.9M956.3 1233.4l1.7 6M841.2 1238.4l2.6 6.5M1307.6 1243.8l1.7-5.8M990.2 1220.8l2.6-6M1048.4 1214.9l3 6.4M1211.1 1220.7l2.2-6M1296.2 1215.2l2.2 6.5M814.8 1240.3l1.7 6.3M1090.8 1245.9l1.8-6.4M1192.8 1240.4l1.5 5.7M1339.5 1245.9l2.7-6.6M753.1 1204.1l3.7 4.8 3.9 6.7M1055.6 1215.1l3.3-11.6M1155.3 1204.7l2.7 11M997.6 1229.1l2.2-5.9M1121.4 1223.5l1.6 6.2M947.3 1197.8l6.8-15.9M1063.9 1182.5l4.6 15.5M888.5 1191.9l5-16M1000.7 1176.5l6.8 16.1M825.7 1249.8l1.7-6.8M965.9 1243.8l2.6 6.3M794 1225l1.5-6.5M903.6 1219l1.9 6.4M1193.8 1224.9l4.6-6.3M1219.2 1219l4.6 6.2M762 1219.8l1.6-6M854.1 1214.5l1.8 6.6M1144.6 1220.3l2-6.4M1208.7 1214.9l2 6M1364.9 1220.1l1.1-3.6M999.6 1239l1.5-6.2M1116.4 1233.8l2 6.2M782.2 1216.1l3.9-2.6 3.9-0.8 4 0.9 4.1 2.8M972.9 1216l1.5-6.1M1062.8 1210.1l1.8 6.7M1355.7 1216.1l2-6.2M1330.8 1135.1l8.1-25.4M743.7 1233.5l1.5 6.1M1203.9 1239.3l2.4-6.2M1334.3 1233.3l1.7 7M1146.6 1220.5l4.8-11.5M1280 1209.9l3.3 11.5M1084 1235.9l2-6.5M1231.7 1230.6l2.2 5.8M1044 1220l1.5-6.1M1165 1214.7l2.6 6.5M736 1199.2l3.3-7.7M855.7 1192.3l3.2 11.3M1303.4 1202.9l3.5-11.3M805.8 1204.4l3.5 9M1256 1212.6l2.2-8.9M1219.4 1189.4l2.7-11.7M1308.9 1179.1l3.1 11M981.4 1228.3l3.5-6.2M1014.9 1222.7l3.5 5.9M1179.4 1228.4l1.8-6.8M1274.8 1222.4l1.7 6.5M932 1234.9l2-6.6M1004.8 1229.2l2 6.1M1152.1 1234.8l1.9-6.6M1231.9 1228.9l1.8 6.2M897.7 1190.5l3-11.8M968.5 1180.3l2.9 11.1M839.7 1220.3l3.3-11.3M943.4 1210.4l2.6 11M780.6 1244.5l2.4-6.1M914.3 1239.2l1.5 6.1M1347.2 1244.8l2.6-6.6"/>
<path stroke="#8aff00" d="M835.3 1220.6l2.2 6.6M1346.1 1226.3l1.7-5.9M1038.1 1227.3l2.8-8.7M1135 1218.7l3.1 8.9M1297.8 1227.1l5.4-8.6M1342.6 1218.8l5.2 9M997.2 1211.4l2-6.2M1107.2 1206l1.8 6.1M828.1 1239.5l2.2-6.5M995.2 1233.9l2.2 6.4M818.5 1099.8l7.2-25M876.9 1075.6l8.9 25.2M1087.5 1226l2.2-6.5M1207.2 1220.4l1.7 6M1050.6 1218.7l3.2-9M1179.4 1210.5l2.4 8.4M898.1 1216.4l2-6.7M1043.1 1210.6l2.4 6.1M815.8 1192.8l3.5-11.5M900.3 1182l3.5 11.3M1194.7 1163.6l4.2-6.1 3.9-4.2 4-2.5 3.7-0.8 3.9 1 3.9 2.6 4.2 4.5 4.2 6.1M1035.5 1114.2l7.4-25M1105.5 1089.9l9.2 24.9M955.2 1210.8l2.4-8.6M1074.2 1203.3l2.8 8.2M736 1222.8l1.1 0.9M911.9 1223.5l2.2-6.9M1015.3 1217.8l2 6.2M1344.6 1223.4l5.2-3.1 5-1 5.3 1.1 5.2 3.2M1238 1215.9l2-6.2M1335.8 1210.5l2 6.2M1190.6 1163.5l5.2 15.6M748 1234.1l2.2-6.3M837.5 1228.5l2.4 6.1M987.1 1234.3l2.9-6.3M1061.7 1228.3l2.6 6.7M790.5 1207l1.7 6.1M1305 1212.6l2.2-6.6M1194.7 1238.6l2.4-6.1M1355.1 1233.1l1.9 6.5M1148.6 1203.4l3.7-11.3M1288.8 1192.5l4.1 11.6M1079 1113.7l6.3-25.3M1134.6 1089.9l7 25.2M866.8 1231.1l1.8 6.1M1351.8 1236.9l2.4-6.2M806.9 1221.8l1.9 6.3M1278.1 1227.4l2.4-6.4M1221.4 1096.9l6.4-25.1M1276.8 1072.7l7.6 25.2M894.4 1243.3l2.8-6.1M956.7 1237.4l3.3 6.3M1105.7 1243.1l2.2-6.2M1215.1 1237.5l2.1 6.7M786.3 1209.1l2-6.2M894.4 1203.2l1.9 6.8M774.9 1213.9l2.4 6.5M1273.9 1220l1.8-6.3M1019.9 1243l4-6.2M1063.9 1237.1l4.2 6.1M1222.3 1242.8l2.2-6.7M1339.1 1237.1l2 6.1M927.8 1162.2l4.9-15.6M996.1 1146.9l4.8 16.2M807.1 1233l2.6-6.5M954.5 1227.3l1.8 6.1M838.8 1232.4l2.4 6M1309.3 1238l2-6.7M992.8 1214.8l3.1-6.4M1045.3 1208.8l3.1 6.1M1213.3 1214.7l2.4-6.7M1294 1208.7l2.2 6.5M813 1234.1l1.8 6.2M1092.6 1239.5l1.7-6.4M1191 1233.8l1.8 6.6M1342.2 1239.3l2.6-6.3M736 1202.6l4.4-2.9 4.1-0.7 4.2 1.4 4.4 3.7M1058.9 1203.5l3-11.2M1152.7 1193.4l2.6 11.3M999.8 1223.2l2.4-6.5M1119.9 1217.2l1.5 6.3M954.1 1181.9l7-15.8M1059.1 1166.7l4.8 15.8M893.5 1175.9l5-15.4M993.9 1161.1l6.8 15.4M827.4 1243l1.6-6M963.3 1237.5l2.6 6.3M795.5 1218.5l1.5-6.5M901.6 1212.5l2 6.5M1198.4 1218.6l5.3-4.4 5-1.4 2.6 0.4 2.7 1.2 5.2 4.6M763.6 1213.8l1.5-6.2M852.6 1208.7l1.5 5.8M1146.6 1213.9l2-6.2M1206.5 1208.3l2.2 6.6M1001.1 1232.8l1.6-6.3M1114.4 1227.5l2 6.3M974.4 1209.9l1.6-6.2M1061.3 1204.3l1.5 5.8M1357.7 1209.9l2.2-6.8M1338.9 1109.7l3.7-9.2 3.5-6.5 3.3-3.8 3-1.3 3.3 1.1 3.3 3.7 3.3 5.9 3.7 9.1M742.1 1227.3l1.6 6.2M1206.3 1233.1l2.4-6.4M1332.8 1227.1l1.5 6.2M1151.4 1209l4.8-11.4M1276.8 1198.5l3.2 11.4M1086 1229.4l1.8-5.8M1229.3 1224.3l2.4 6.3M1045.5 1213.9l1.6-6.2M1162.6 1208.6l2.4 6.1M739.3 1191.5l4.8-11.1M852.4 1181.1l3.3 11.2M1306.9 1191.6l3.8-11.8M802.3 1195.7l3.5 8.7M1258.2 1203.7l2.1-8.9M1222.1 1177.7l2.4-10.8M1305.8 1167.7l3.1 11.4M984.9 1222.1l4.6-6.3M1010.1 1216.1l4.8 6.6M1181.2 1221.6l1.5-6M1273.2 1216.6l1.6 5.8M934 1228.3l1.9-6.5M1002.9 1223.1l1.9 6.1M1154 1228.2l1.8-5.8M1230.2 1222.8l1.7 6.1M900.7 1178.7l2.9-10.8M965.5 1168.4l3 11.9M843 1209l3-10.9M940.5 1198.3l2.9 12.1M783 1238.4l2.4-6.2M912.8 1233l1.5 6.2M1349.8 1238.2l2.4-6"/>
<path stroke="#55ff00" d="M833.3 1214.5l2 6.1M1347.8 1220.4l2-6.7M1040.9 1218.6l2.9-8.8M1132.2 1210.4l2.8 8.3M1303.2 1218.5l7-8.7M1336 1210.1l6.6 8.7M999.2 1205.2l1.9-6.2M1105.5 1199.9l1.7 6.1M830.3 1233l2.2-6.5M993 1227.6l2.2 6.3M825.7 1074.8l7.6-24.8M867.7 1050.2l9.2 25.4M1089.7 1219.5l2-6M1205.4 1214.3l1.8 6.1M1053.8 1209.7l3.1-8.6M1177 1202l2.4 8.5M900.1 1209.7l1.7-5.9M1040.7 1204.5l2.4 6.1M819.3 1181.3l3.5-11.6M896.8 1170.7l3.5 11.3M1042.9 1089.2l7.7-24.6M1096.3 1065.1l9.2 24.8M957.6 1202.2l2.4-8.7M1071.1 1194.3l3.1 9M914.1 1216.6l1.9-6.3M1013.4 1211.6l1.9 6.2M1240 1209.7l2-6.3M1333.8 1204.2l2 6.3M1185.1 1147.4l5.5 16.1M750.2 1227.8l2.2-6.2M835.1 1222.3l2.4 6.2M990 1228l2.8-6.3M1059.3 1222.5l2.4 5.8M788.7 1200.9l1.8 6.1M1307.2 1206l1.9-6.1M1197.1 1232.5l2.4-6.1M1353.1 1226.5l2 6.6M1152.3 1192.1l3.7-11.2M1284.8 1181.6l4 10.9M1085.3 1088.4l6.4-24.7M1127.6 1064.6l7 25.3M865.1 1225l1.7 6.1M1354.2 1230.7l2.4-6.2M804.9 1215.5l2 6.3M1280.5 1221l2.2-5.9M1227.8 1071.8l6.3-24.8M1269.3 1047.4l7.5 25.3M897.2 1237.2l3.1-6.2M953.4 1231.4l3.3 6M1107.9 1236.9l2.2-6.2M1213.1 1231.5l2 6M788.3 1202.9l1.9-6.2M892.6 1197.1l1.8 6.1M772.8 1208l2.1 5.9M1275.7 1213.7l1.7-6.4M1023.9 1236.8l4.8-6.3M1058.7 1230.6l5.2 6.5M1224.5 1236.1l1.9-6M1337.1 1231l2 6.1M932.7 1146.6l5-16M991.3 1131.2l4.8 15.7M809.7 1226.5l2.4-6M952.8 1221.2l1.7 6.1M836.2 1225.9l2.6 6.5M1311.3 1231.3l1.8-5.9M995.9 1208.4l3.3-6.3M1041.8 1202.4l3.5 6.4M1215.7 1208l2.2-6M1291.8 1202.3l2.2 6.4M811.2 1227.9l1.8 6.2M1094.3 1233.1l1.8-6.5M1189.5 1227.9l1.5 5.9M1344.8 1233l2.6-5.9M1061.9 1192.3l3.1-11.5M1150.1 1182l2.6 11.4M1002.2 1216.7l2.2-6.1M1118.4 1210.9l1.5 6.3M961.1 1166.1l7-15.4M1054.3 1151.4l4.8 15.3M898.5 1160.5l5.5-15.9M986.7 1145.5l7.2 15.6M829 1237l1.5-6.1M960.9 1231.6l2.4 5.9M797 1212l1.6-6.5M899.8 1206.7l1.8 5.8M765.1 1207.6l1.5-6.1M850.8 1202l1.8 6.7M1148.6 1207.7l1.9-6M1204.3 1201.9l2.2 6.4M1002.7 1226.5l1.5-6.3M1112.5 1221.1l1.9 6.4M976 1203.7l1.7-7.1M1059.5 1197.6l1.8 6.7M1359.9 1203.1l1.9-5.9M740.6 1221l1.5 6.3M1208.7 1226.7l2.4-6.4M1331.2 1220.9l1.6 6.2M1156.2 1197.6l4.8-11.1M1273.5 1187.3l3.3 11.2M1087.8 1223.6l1.9-6.5M1226.9 1218.1l2.4 6.2M1047.1 1207.7l1.5-6.3M1160.2 1202.4l2.4 6.2M744.1 1180.4l5-11.5M848.9 1169.4l3.5 11.7M1310.7 1179.8l3.7-11.4M798.8 1187.1l3.5 8.6M1260.3 1194.8l2.2-8.9M1365.3 1187.2l0.7 1.8M1224.5 1166.9l2.6-11.9M1302.8 1156l3 11.7M989.5 1215.8l5.3-4.4 2.6-1.1 2.4-0.3 5 1.6 5.3 4.5M1182.7 1215.6l1.5-6.1M1271.5 1210l1.7 6.6M935.9 1221.8l2-6.3M1000.7 1216.4l2.2 6.7M1155.8 1222.4l2-6.5M1228.4 1216.7l1.8 6.1M903.6 1167.9l3-11.6M962.6 1157.4l2.9 11M846 1198.1l3.3-12M937.9 1186.9l2.6 11.4M785.4 1232.2l2.4-6.3M911.2 1226.8l1.6 6.2M1352.2 1232.2l2.6-6.5"/>
<path stroke="#20ff00" d="M831.4 1208.4l1.9 6.1M1349.8 1213.7l1.8-6M1043.8 1209.8l2.8-8.6M1129.1 1201.5l3.1 8.9M1310.2 1209.8l6.8-5.2 3.3-1.2 3-0.3 3.1 0.5 3.3 1.3 6.3 5.2M1001.1 1199l2-6.2M1103.7 1193.6l1.8 6.3M832.5 1226.5l1.9-5.8M990.8 1221.2l2.2 6.4M833.3 1050l5.5-15.4 4.6-10M857 1025.2l4.6 9.5 6.1 15.5M1091.7 1213.5l2-6.1M1203.7 1208.1l1.7 6.2M1056.9 1201.1l3.1-8.8M1174.6 1193.3l2.4 8.7M901.8 1203.8l1.8-6M1038.1 1197.9l2.6 6.6M822.8 1169.7l3.5-11.5M893.3 1159.4l3.5 11.3M1050.6 1064.6l8.9-25.5M1086.2 1039.7l10.1 25.4M960 1193.5l2.4-8.9M1068.3 1185.7l2.8 8.6M916 1210.3l2-6.3M1011.4 1205.3l2 6.3M1242 1203.4l1.9-6.2M1331.9 1198l1.9 6.2M1179.6 1131.6l5.5 15.8M752.4 1221.6l2.2-6M832.7 1216.2l2.4 6.1M992.8 1221.7l2.9-6M1056.5 1215.8l2.8 6.7M787 1194.7l1.7 6.2M1309.1 1199.9l2-6.1M1199.5 1226.4l2.7-6.7M1351.3 1220.7l1.8 5.8M1156 1180.9l3.9-11.8M1280.7 1170.2l4.1 11.4M1091.7 1063.7l7-25M1120.1 1039.4l7.5 25.2M863.3 1218.8l1.8 6.2M1356.6 1224.5l2.4-6.3M802.9 1209.2l2 6.3M1282.7 1215.1l2.4-6.4M1234.1 1047l6.6-24.8M1262.1 1022.6l7.2 24.8M900.3 1231l3.5-6.4M949.7 1225.1l3.7 6.3M1110.1 1230.7l2.1-6.4M1211.1 1225.5l2 6M790.2 1196.7l2-6.3M890.9 1190.9l1.7 6.2M770.3 1201.4l2.5 6.6M1277.4 1207.3l1.8-6.4M1028.7 1230.5l3.7-3.7 3.5-2.6M1051.2 1224.3l3.7 2.7 3.8 3.6M1226.4 1230.1l2-6.1M1335.2 1224.9l1.9 6.1M937.7 1130.6l5.2-15.7M986.2 1115.7l5.1 15.5M812.1 1220.5l2.7-6.7M951 1215l1.8 6.2M833.8 1219.8l2.4 6.1M1313.1 1225.4l1.9-6.7M999.2 1202.1l3.7-6.3M1038.1 1196.4l3.7 6M1217.9 1202l2.2-6M1289.7 1196.1l2.1 6.2M736 1223.4l0.9-2.9M809.3 1221l1.9 6.9M1096.1 1226.6l1.5-5.8M1187.7 1221.2l1.8 6.7M1347.4 1227.1l3.1-6.4M1065 1180.8l3.1-11.7M1147.5 1170.4l2.6 11.6M1004.4 1210.6l2.4-6.7M1116.8 1204.6l1.6 6.3M968.1 1150.7l7.4-15.7M1049 1135.7l5.3 15.7M904 1144.6l5.7-15.3M978.8 1129.5l7.9 16M830.5 1230.9l1.5-6.1M958.2 1225.1l2.7 6.5M798.6 1205.5l1.3-5.7M898.1 1200.7l1.7 6M766.6 1201.5l1.6-6.2M849.3 1196.1l1.5 5.9M1150.5 1201.7l2.2-6.5M1202.2 1195.6l2.1 6.3M1004.2 1220.2l1.5-6.5M1110.5 1214.5l2 6.6M977.7 1196.6l1.5-6.2M1058 1191.6l1.5 6M1361.8 1197.2l2.2-6.3M739.1 1214.7l1.5 6.3M1211.1 1220.3l2.2-6M1329.7 1214.6l1.5 6.3M1161 1186.5l5.1-11.5M1270 1175.4l3.5 11.9M1089.7 1217.1l2-6.5M1224.2 1211.4l2.7 6.7M1048.6 1201.4l1.5-6.2M1157.8 1196.1l2.4 6.3M749.1 1168.9l5.3-11.7M845.4 1157.9l3.5 11.5M1314.4 1168.4l3.7-11.1M795.1 1178.3l3.7 8.8M1262.5 1185.9l2-8.1M1362.1 1178.2l3.2 9M1227.1 1155l2.4-11.2M1299.9 1144.9l2.9 11.1M1184.2 1209.5l1.6-6.1M1270 1204.2l1.5 5.8M937.9 1215.5l2-6.2M998.7 1210.5l2 5.9M1157.8 1215.9l1.9-6.5M1226.7 1210.7l1.7 6M906.6 1156.3l3.1-11.4M959.6 1145.8l3 11.6M849.3 1186.1l2.9-10.7M935.5 1176.3l2.4 10.6M787.8 1225.9l2.4-6.4M909.7 1220.6l1.5 6.2M1354.8 1225.7l2.7-6.5"/>
<path stroke="#00ff15" d="M829.4 1202.2l2 6.2M1351.6 1207.7l1.7-6.1M1046.6 1201.2l3.1-9.3M1126 1192.6l3.1 8.9M1003.1 1192.8l2-6.4M1102 1187.4l1.7 6.2M834.4 1220.7l2.2-6.5M988.7 1214.9l2.1 6.3M843.4 1024.6l3.3-4.5 1.7-1.3 1.6-0.3 3.2 1.6 3.8 5.1M1093.7 1207.4l1.9-6.2M1201.9 1201.9l1.8 6.2M1060 1192.3l3-8.9M1172.2 1184.5l2.4 8.8M903.6 1197.8l1.9-6.7M1035.7 1191.8l2.4 6.1M826.3 1158.2l3.5-11.3M889.6 1147.7l3.7 11.7M1059.5 1039.1l3.7-8.4 3.3-5.8 3.1-3.4 2.8-1 3.1 1.1 3.1 3.4 3.5 5.9 4.1 8.8M962.4 1184.6l2.2-8.1M1065.4 1177l2.9 8.7M918 1204l1.8-5.6M1009.4 1199l2 6.3M1243.9 1197.2l2-6.3M1329.9 1191.7l2 6.3M1174.2 1116.2l5.4 15.4M754.6 1215.6l2.4-6.6M830.1 1209.6l2.6 6.6M995.7 1215.7l3-6.3M1053.6 1209.5l2.9 6.3M785.2 1188.4l1.8 6.3M1311.1 1193.8l2-6.2M1202.2 1219.7l2.4-6.1M1349.4 1214l1.9 6.7M1159.9 1169.1l3.8-11M1276.3 1158.3l4.4 11.9M1098.7 1038.7l5.7-15.2 2.4-3.6 2.4-1.3 2.4 1.2 2.4 3.6 6.1 16M861.6 1212.5l1.7 6.3M1359 1218.2l2.4-6.4M801 1202.9l1.9 6.3M1285.1 1208.7l2.4-6.5M1240.7 1022.2l5-17 3.5-8.2M1253.3 997.4l3.3 7.7 5.5 17.5M903.8 1224.6l3.9-6.3M945.6 1218.8l4.1 6.3M1112.2 1224.3l2.2-6.4M1208.9 1218.7l2.2 6.8M792.2 1190.4l2-6.3M889.1 1184.7l1.8 6.2M768.2 1195.2l2.1 6.2M1279.2 1200.9l1.7-6.5M1035.9 1224.2l3.9-1.7 3.8-0.6 3.7 0.6 3.9 1.8M1228.4 1224l2-6.2M1333 1218l2.2 6.9M942.9 1114.9l5.7-15.3M980.6 1100l5.6 15.7M814.8 1213.8l2.4-6.1M949.3 1208.8l1.7 6.2M831.2 1213.3l2.6 6.5M1315 1218.7l1.8-6M1002.9 1195.8l4.3-6.1M1033.3 1189.9l4.8 6.5M1220.1 1196l2.4-6.4M1287.5 1189.9l2.2 6.2M736.9 1220.5l1.7-5.8M807.5 1215l1.8 6M1097.6 1220.8l1.7-6.6M1186.2 1215.3l1.5 5.9M1350.5 1220.7l3.3-6.1M1068.1 1169.1l2.8-11.2M1144.8 1158.6l2.7 11.8M1006.8 1203.9l2.2-6.3M1115.5 1199.1l1.3 5.5M975.5 1135l7.9-15.8M1043.3 1120l5.7 15.7M909.7 1129.3l6.5-15.6M970.3 1113.8l8.5 15.7M832 1224.8l1.8-7M955.8 1219l2.4 6.1M799.9 1199.8l1.5-6.7M896.1 1193.9l2 6.8M768.2 1195.3l1.5-6.3M847.6 1189.3l1.7 6.8M1152.7 1195.2l2.2-6.2M1200 1189.7l2.2 5.9M1005.7 1213.7l1.5-6.5M1108.8 1208.6l1.7 5.9M979.2 1190.4l1.6-6.3M1056.5 1185.7l1.5 5.9M1364 1190.9l2-5.3M737.5 1208.3l1.6 6.4M1213.3 1214.3l2.4-6.7M1328.2 1208.3l1.5 6.3M1166.1 1175l5-11.2M1266.7 1164.6l3.3 10.8M1091.7 1210.6l1.7-5.7M1221.8 1205.3l2.4 6.1M1050.1 1195.2l1.6-6.3M1155.3 1189.7l2.5 6.4M754.4 1157.2l5-11.1M841.9 1146.8l3.5 11.1M1318.1 1157.3l3.9-11.3M791.3 1169.6l3.8 8.7M1264.5 1177.8l2.2-9M1359 1169.7l3.1 8.5M1229.5 1143.8l2.4-11.2M1297.1 1133.5l2.8 11.4M1185.8 1203.4l1.7-7M1268.2 1197.4l1.8 6.8M939.9 1209.3l1.9-6M996.5 1204.1l2.2 6.4M1159.7 1209.4l2-6.4M1224.7 1204l2 6.7M909.7 1144.9l3.1-11.1M956.5 1134.5l3.1 11.3M852.2 1175.4l3-11.7M932.9 1164.6l2.6 11.7M790.2 1219.5l2.5-6.6M908.2 1214.3l1.5 6.3M1357.5 1219.2l2.4-5.8"/>
<path stroke="#00ff4a" d="M827.4 1195.9l2 6.3M1353.3 1201.6l2-6.9M1049.7 1191.9l2.8-8.4M1123.2 1184.3l2.8 8.3M1005.1 1186.4l1.9-6.4M1100.2 1181l1.8 6.4M836.6 1214.2l2-5.9M986.5 1208.5l2.2 6.4M1095.6 1201.2l2.2-6.9M1200.2 1195.6l1.7 6.3M1063 1183.4l2.9-8.4M1169.8 1175.7l2.4 8.8M905.5 1191.1l1.8-6M1033.3 1185.7l2.4 6.1M829.8 1146.9l3.8-11.6M885.8 1136.2l3.8 11.5M964.6 1176.5l2.4-9.1M1062.6 1168.1l2.8 8.9M919.8 1198.4l1.9-6.4M1007.5 1192.7l1.9 6.3M1245.9 1190.9l2-6.3M1327.9 1185.4l2 6.3M1168.5 1100.7l5.7 15.5M757 1209l2.2-5.9M827.7 1203.6l2.4 6M998.7 1209.4l3.3-6.2M1050.6 1203.2l3 6.3M783.5 1182.1l1.7 6.3M1313.1 1187.6l1.9-6.3M1204.6 1213.6l2.4-6.1M1347.6 1208.1l1.8 5.9M1163.7 1158.1l3.9-11.5M1272.2 1147.2l4.1 11.1M859.8 1206.1l1.8 6.4M1361.4 1211.8l2.4-6.4M799 1196.6l2 6.3M1287.5 1202.2l2.2-5.8M1249.2 997l2-1.5 2.1 1.9M907.7 1218.3l4.6-6M940.5 1212.5l5.1 6.3M1114.4 1217.9l2-5.8M1207 1212.7l1.9 6M794.2 1184.1l2-6.4M887.4 1178.4l1.7 6.3M766 1189l2.2 6.2M1280.9 1194.4l1.5-5.8M1230.4 1217.8l1.9-6.2M1331 1211.8l2 6.2M948.6 1099.6l4-8.9 3.7-6.6M973.1 1084.5l3.5 6.4 4 9.1M817.2 1207.7l2.4-6.2M947.5 1202.5l1.8 6.3M828.8 1207.2l2.4 6.1M1316.8 1212.7l1.7-6M1007.2 1189.7l3.6-3.7 3.4-2.5M1026.1 1183.5l3.5 2.6 3.7 3.8M1222.5 1189.6l2.4-6.3M1285.3 1184l2.2 5.9M738.6 1214.7l2-6.5M805.8 1208.9l1.7 6.1M1099.3 1214.2l1.6-5.9M1184.7 1209.3l1.5 6M1353.8 1214.6l4.1-6.4M1070.9 1157.9l2.9-11.4M1142.4 1147.7l2.4 10.9M1009 1197.6l2-5.7M1114 1192.7l1.5 6.4M983.4 1119.2l8.5-15.5M1036.8 1104.2l6.5 15.8M916.2 1113.7l8.4-15.7M960.2 1098.3l10.1 15.5M833.8 1217.8l1.5-6.2M953.2 1212.3l2.6 6.7M801.4 1193.1l1.3-5.8M894.4 1187.7l1.7 6.2M769.7 1189l1.5-6.3M846 1183.4l1.6 5.9M1154.9 1189l2.4-6.3M1197.6 1183.4l2.4 6.3M1007.2 1207.2l1.4-5.6M1107 1202.6l1.8 6M980.8 1184.1l1.5-6.3M1054.7 1178.8l1.8 6.9M736.2 1202.7l1.3 5.6M1215.7 1207.6l2.2-6.1M1326.6 1202l1.6 6.3M1171.1 1163.8l5.2-11.5M1263 1152.6l3.7 12M1093.4 1204.9l2-6.3M1219.2 1198.8l2.6 6.5M1051.7 1188.9l1.5-6.3M1153.2 1183.8l2.1 5.9M759.4 1146.1l5.5-11.7M837.9 1134.8l4 12M1322 1146l4.4-11.8M787.4 1160.7l3.9 8.9M1266.7 1168.8l2.2-9M1355.9 1161l3.1 8.7M1231.9 1132.6l2.4-11.4M1294.2 1121.8l2.9 11.7M1187.5 1196.4l1.5-6.2M1266.7 1191.5l1.5 5.9M941.8 1203.3l2.2-6.5M994.3 1197.8l2.2 6.3M1161.7 1203l1.7-5.7M1222.7 1197.4l2 6.6M912.8 1133.8l3.4-11.9M953.2 1123.1l3.3 11.4M855.2 1163.7l2.9-11.3M930.2 1152.7l2.7 11.9M792.7 1212.9l2.1-6M906.6 1207.9l1.6 6.4M1359.9 1213.4l2.6-6.3"/>
<path stroke="#00ff80" d="M825.5 1189.6l1.9 6.3M1355.3 1194.7l1.7-6.2M1052.5 1183.5l3.1-8.9M1120.1 1175.6l3.1 8.7M1007 1180l2-6.4M1098.5 1174.6l1.7 6.4M838.6 1208.3l2.2-6.5M984.3 1202.2l2.2 6.3M1097.8 1194.3l1.8-5.6M1198.4 1189.2l1.8 6.4M1065.9 1175l2.8-8.7M1167.4 1166.7l2.4 9M907.3 1185.1l1.9-6.8M1030.9 1179.6l2.4 6.1M833.6 1135.3l3.7-11.1M881.9 1124.7l3.9 11.5M967 1167.4l2.2-8.3M1060 1159.8l2.6 8.3M921.7 1192l2-6.3M1005.5 1186.4l2 6.3M1247.9 1184.6l1.9-6.3M1326 1179.1l1.9 6.3M1162.3 1085l6.2 15.7M759.2 1203.1l2.4-6.2M825 1197.2l2.7 6.4M1002 1203.2l3.7-6.6M1047.3 1197l3.3 6.2M781.7 1175.7l1.8 6.4M1315 1181.3l2-6.4M1207 1207.5l2.4-6.2M1345.9 1202.1l1.7 6M1167.6 1146.6l3.9-11.3M1267.8 1135.6l4.4 11.6M736 1204.1l1.8-4.8M858.1 1199.7l1.7 6.4M1363.8 1205.4l2.2-6M797 1190.2l2 6.4M1289.7 1196.4l2.4-6.4M912.3 1212.3l3.7-3.7 3.8-2.6M932.9 1206.1l3.7 2.6 3.9 3.8M1116.4 1212.1l2.2-6.4M1205 1206.6l2 6.1M796.2 1177.7l1.9-6.5M885.6 1172.1l1.8 6.3M763.8 1182.7l2.2 6.3M1282.4 1188.6l1.8-6.6M1232.3 1211.6l2-6.3M1329 1205.5l2 6.3M956.3 1084.1l4.4-5.1 2.1-1.2 2-0.3 2 0.5 2.2 1.4 4.1 5.1M819.6 1201.5l2.4-6.3M945.8 1196.2l1.7 6.3M826.1 1200.6l2.7 6.6M1318.5 1206.7l2-6.9M1014.2 1183.5l3.1-1.3 2.9-0.4 2.8 0.4 3.1 1.3M1224.9 1183.3l2.4-6.1M1282.9 1177.6l2.4 6.4M740.6 1208.2l2-6.4M803.8 1202.3l2 6.6M1100.9 1208.3l1.7-6.7M1182.9 1202.4l1.8 6.9M1357.9 1208.2l5.9-6.2M1073.8 1146.5l2.8-11.6M1140 1136.6l2.4 11.1M1011 1191.9l2.2-6.5M1112.5 1186.2l1.5 6.5M991.9 1103.7l5.7-9 5.1-6.7M1027.8 1088.3l4.4 6.8 4.6 9.1M924.6 1098l4.3-6.1 4.2-4.1 4.1-2.5 4.4-0.9 4.4 0.9 4.4 2.5 4.8 4.4 5 6.1M835.3 1211.6l1.5-6.3M950.8 1206l2.4 6.3M802.7 1187.3l1.5-6.8M892.6 1181.4l1.8 6.3M771.2 1182.7l1.6-6.3M844.5 1177.3l1.5 6.1M1157.3 1182.7l2.6-6.4M1194.9 1177.1l2.7 6.3M1008.6 1201.6l1.5-6.6M1105 1195.7l2 6.9M982.3 1177.8l1.5-6.3M1053.2 1172.8l1.5 6M736 1201.8l0.2 0.9M1217.9 1201.5l2.2-6.3M1325.3 1196.5l1.3 5.5M1176.3 1152.3l5.3-11.3M1259.5 1141.7l3.5 10.9M1095.4 1198.6l2-6.3M1216.8 1192.9l2.4 5.9M1053.2 1182.6l1.5-6.4M1150.8 1177.2l2.4 6.6M764.9 1134.4l5.4-11.3M834 1123.5l3.9 11.3M1326.4 1134.2l4.4-10.9M783.5 1152.1l3.9 8.6M1268.9 1159.8l1.9-8.2M1352.9 1152.1l3 8.9M1234.3 1121.2l2.4-11.4M1291.6 1110.8l2.6 11M1189 1190.2l1.6-6.2M1264.9 1184.7l1.8 6.8M944 1196.8l2.2-6.1M991.9 1191.3l2.4 6.5M1163.4 1197.3l2.2-6.8M1221 1191.7l1.7 5.7M916.2 1121.9l3.6-10.9M949.5 1111.3l3.7 11.8M858.1 1152.4l2.8-11.4M927.8 1141.6l2.4 11.1M794.8 1206.9l2.2-6.2M905.1 1201.5l1.5 6.4M1362.5 1207.1l2.6-6.3"/>
<path stroke="#00ffb5" d="M823.5 1183.2l2 6.4M1357 1188.5l1.8-6.3M1055.6 1174.6l3.1-8.7M1116.8 1166.5l3.3 9.1M1009 1173.6l1.8-5.9M1096.7 1168.2l1.8 6.4M840.8 1201.8l2.2-6.4M982.1 1195.9l2.2 6.3M1099.6 1188.7l1.9-6.4M1196.7 1182.8l1.7 6.4M1068.7 1166.3l2.9-8.7M1165.2 1158.4l2.2 8.3M909.2 1178.3l1.8-6M1028.2 1172.9l2.7 6.7M837.3 1124.2l4.1-11.4M877.8 1113.4l4.1 11.3M969.2 1159.1l2.4-9.3M1057.1 1150.6l2.9 9.2M923.7 1185.7l2-6.4M1003.5 1180.1l2 6.3M1249.8 1178.3l2-6.2M1324 1172.8l2 6.3M1155.6 1069l6.7 16M761.6 1196.9l2.6-6.6M822.4 1191l2.6 6.2M1005.7 1196.6l4-6.1M1043.6 1190.9l3.7 6.1M780 1169.3l1.7 6.4M1317 1174.9l2-6.4M1209.4 1201.3l2.4-6.1M1343.9 1195.4l2 6.7M1171.5 1135.3l4.2-11.7M1263.4 1124.3l4.4 11.3M737.8 1199.3l2.1-6.1M856.5 1194l1.6 5.7M1366 1199.4l0 0M795.3 1184.6l1.7 5.6M1292.1 1190l2.4-6.4M919.8 1206l3.2-1.4 3.3-0.4 3.3 0.5 3.3 1.4M1118.6 1205.7l2.2-6.5M1202.8 1199.9l2.2 6.7M798.1 1171.2l1.8-5.8M883.9 1165.8l1.7 6.3M761.6 1176.2l2.2 6.5M1284.2 1182l1.5-5.8M1234.3 1205.3l2-6.4M1327.1 1199.3l1.9 6.2M822 1195.2l2.4-6.4M944 1189.8l1.8 6.4M823.7 1194.5l2.4 6.1M1320.5 1199.8l1.7-6.1M1227.3 1177.2l2.6-6.5M1280.5 1171.5l2.4 6.1M742.6 1201.8l1.9-6.3M802.1 1196.5l1.7 5.8M1102.6 1201.6l1.6-5.8M1181.4 1196.4l1.5 6M1363.8 1202l2.2-1.3M1076.6 1134.9l2.6-11M1137.4 1124.4l2.6 12.2M1013.2 1185.4l2.1-6.6M1110.9 1179.6l1.6 6.6M1002.7 1088l6.7-6.1 3.1-1.4 3.1-0.5 3 0.5 3.1 1.5 3.1 2.6 3 3.7M836.8 1205.3l1.6-6.2M948.6 1200.3l2.2 5.7M804.2 1180.5l1.4-5.8M890.9 1175l1.7 6.4M772.8 1176.4l1.5-6.3M843 1171.3l1.5 6M1159.9 1176.3l2.9-6.1M1191.9 1170.6l3 6.5M1010.1 1195l1.3-5.7M1103.3 1189.4l1.7 6.3M983.8 1171.5l1.4-5.4M1051.7 1166.7l1.5 6.1M1220.1 1195.2l2.2-6.4M1323.8 1190l1.5 6.5M1181.6 1141l5.5-11.4M1255.5 1130l4 11.7M1097.4 1192.3l1.9-6.2M1214.2 1186.6l2.6 6.3M1054.7 1176.2l1.5-6.3M1148.6 1171.1l2.2 6.1M770.3 1123.1l5.7-11.3M829.8 1112.4l4.2 11.1M1330.8 1123.3l5.2-11.6M779.3 1143.3l4.2 8.8M1270.8 1151.6l2.2-9M1350 1143.6l2.9 8.5M1236.7 1109.8l2.4-11.6M1288.8 1098.7l2.8 12.1M1190.6 1184l1.5-6.2M1263.4 1178.7l1.5 6M946.2 1190.7l2.4-6.4M989.5 1185l2.4 6.3M1165.6 1190.5l2-6.1M1219 1185.5l2 6.2M919.8 1111l4.3-11.6M945.3 1100.1l4.2 11.2M860.9 1141l2.9-11.7M925.4 1130.5l2.4 11.1M797 1200.7l2.2-6.3M903.6 1195.1l1.5 6.4M1365.1 1200.8l0.9-2.1"/>
<path stroke="#00ffea" d="M821.5 1176.7l2 6.5M1358.8 1182.2l1.7-6.3M1058.7 1165.9l3-8.2M1113.6 1157.8l3.2 8.7M1010.8 1167.7l1.9-6.5M1095 1161.8l1.7 6.4M843 1195.4l2.2-6.5M979.9 1189.7l2.2 6.2M1101.5 1182.3l2-6.5M1194.9 1176.3l1.8 6.5M1071.6 1157.6l2.8-9M1162.8 1149.3l2.4 9.1M911 1172.3l1.8-6M1025.8 1166.7l2.4 6.2M841.4 1112.8l4.8-11.3M872.9 1102.1l4.9 11.3M971.6 1149.8l2.2-8.5M1054.5 1141.9l2.6 8.7M925.7 1179.3l1.9-6.4M1001.6 1173.8l1.9 6.3M1251.8 1172.1l2-6.2M1322 1166.6l2 6.2M1114.9 1060.8l4.3-7.7M1147.5 1053.3l8.1 15.7M764.2 1190.3l2.6-6.2M819.6 1184.6l2.8 6.4M1009.7 1190.5l5-6.3M1038.8 1184.6l4.8 6.3M778.2 1162.8l1.8 6.5M1319 1168.5l1.7-5.8M1211.8 1195.2l2.6-6.8M1342.2 1189.4l1.7 6M1175.7 1123.6l4.1-11.4M1258.8 1112.8l4.6 11.5M739.9 1193.2l2.4-6.7M854.8 1187.5l1.7 6.5M793.3 1178.2l2 6.4M1294.5 1183.6l2.4-6.4M1120.8 1199.2l2-5.8M1200.8 1193.9l2 6M799.9 1165.4l1.9-6.6M882.1 1159.4l1.8 6.4M759.6 1170.4l2 5.8M1285.7 1176.2l1.8-6.8M1236.3 1198.9l1.9-6.3M1325.1 1193l2 6.3M824.4 1188.8l2.4-6.4M942.3 1183.3l1.7 6.5M821.3 1188.4l2.4 6.1M1322.2 1193.7l1.8-6.1M1229.9 1170.7l2.7-6M1277.8 1165.2l2.7 6.3M744.5 1195.5l2-6.2M800.1 1190.1l2 6.4M1104.2 1195.8l1.7-6.8M1179.8 1190.3l1.6 6.1M1079.2 1123.9l2.6-11.1M1135 1113.2l2.4 11.2M1015.3 1178.8l2-6M1109.6 1174l1.3 5.6M838.4 1199.1l1.5-6.3M946.2 1193.9l2.4 6.4M805.6 1174.7l1.5-7M889.3 1169.3l1.6 5.7M774.3 1170.1l1.5-6.4M841.2 1164.4l1.8 6.9M1162.8 1170.2l3.3-6M1188.4 1164.3l3.5 6.3M1011.4 1189.3l1.5-6.8M1101.5 1183.1l1.8 6.3M985.2 1166.1l1.5-6.4M1050.1 1160.7l1.6 6M1222.3 1188.8l1.9-5.9M1322.2 1183.5l1.6 6.5M1187.1 1129.6l5.7-11.4M1251.4 1118.5l4.1 11.5M1099.3 1186.1l2-6.2M1211.6 1180.4l2.6 6.2M1056.2 1169.9l1.4-5.4M1146.4 1164.9l2.2 6.2M776 1111.8l6.4-11.5M825 1101l4.8 11.4M1336 1111.7l6.2-11.3M775.2 1134.9l4.1 8.4M1273 1142.6l2-8.2M1347.2 1135.1l2.8 8.5M1239.1 1098.2l2.4-11.6M1286.2 1087.2l2.6 11.5M1192.1 1177.8l1.5-6.3M1261.9 1172.7l1.5 6M948.6 1184.3l2.4-5.9M986.9 1178.7l2.6 6.3M1167.6 1184.4l2-5.8M1216.8 1178.8l2.2 6.7M924.1 1099.4l3.5-7 3.3-4.2M938.6 1088.4l3.2 4.5 3.5 7.2M863.8 1129.3l2.6-11M923 1119.2l2.4 11.3M799.2 1194.4l2.2-6.4M902 1188.6l1.6 6.5"/>
<path stroke="#00dfff" d="M819.8 1170.9l1.7 5.8M1360.5 1175.9l1.8-6.3M1061.7 1157.7l3.5-8.9M1110.1 1149l3.5 8.8M1012.7 1161.2l1.8-5.9M1093.4 1156.1l1.6 5.7M845.2 1188.9l1.9-5.8M977.7 1183.4l2.2 6.3M1103.5 1175.8l2-6.5M1193.4 1170.6l1.5 5.7M1074.4 1148.6l2.6-8.4M1160.6 1140.8l2.2 8.5M912.8 1166.3l1.9-6.8M1023.4 1160.5l2.4 6.2M846.2 1101.5l3.6-6.5 3.4-4.9M865.9 1090.5l3.5 5 3.5 6.6M973.8 1141.3l2.2-8.5M1051.9 1133.1l2.6 8.8M927.6 1172.9l2-6.3M999.6 1167.5l2 6.3M1253.8 1165.9l2.2-6.8M1320.1 1160.4l1.9 6.2M1119.2 1053.1l4-5.6 3.5-3.7 3.5-2.3 3.3-0.7 3.3 0.7 3.4 2.4 3.6 3.9 3.7 5.5M766.8 1184.1l2.9-6.4M816.7 1178.5l2.9 6.1M1014.7 1184.2l4.6-4 4.6-2.1M1029.6 1178.1l4.6 2.3 4.6 4.2M776.7 1157.1l1.5 5.7M1320.7 1162.7l2-6.6M1214.4 1188.4l2.4-6.2M1340.4 1183.3l1.8 6.1M1179.8 1112.2l4.2-11M1254.2 1101.6l4.6 11.2M742.3 1186.5l2.2-6.3M853 1180.9l1.8 6.6M791.3 1171.9l2 6.3M1296.9 1177.2l2.4-6.4M1122.8 1193.4l2.1-6.4M1198.7 1187.4l2.1 6.5M801.8 1158.8l2-6.6M880.4 1153l1.7 6.4M757.4 1163.8l2.2 6.6M1287.5 1169.4l1.5-5.9M1238.2 1192.6l2-6.4M1323.1 1186.7l2 6.3M826.8 1182.4l2.2-5.9M940.5 1176.9l1.8 6.4M818.9 1182.2l2.4 6.2M1324 1187.6l1.8-6.1M1232.6 1164.7l3-6.6M1275 1158.9l2.8 6.3M746.5 1189.3l2-6M798.1 1183.9l2 6.2M1105.9 1189l1.5-5.9M1178.3 1184.2l1.5 6.1M1081.8 1112.8l2.9-12.2M1132.6 1102l2.4 11.2M1017.3 1172.8l2-6.2M1108.1 1167.4l1.5 6.6M839.9 1192.8l1.5-6.3M943.8 1187.3l2.4 6.6M807.1 1167.7l1.3-5.9M887.6 1162.8l1.7 6.5M775.8 1163.7l1.5-6.3M839.7 1158.3l1.5 6.1M1166.1 1164.2l5-6.4M1183.6 1158.1l4.8 6.2M1012.9 1182.5l1.3-5.8M1100 1177.5l1.5 5.6M986.7 1159.7l1.5-6.3M1048.4 1153.7l1.7 7M1224.2 1182.9l2.2-6.6M1320.7 1177l1.5 6.5M1192.8 1118.2l6.1-11.6M1246.8 1107l4.6 11.5M1101.3 1179.9l2.2-6.7M1208.7 1173.8l2.9 6.6M1057.6 1164.5l1.5-6.4M1144.2 1158.6l2.2 6.3M782.4 1100.3l7.2-11.3M818.9 1089.3l6.1 11.7M1342.2 1100.4l4.8-6.8 4.6-4.5M770.6 1126l4.6 8.9M1275 1134.4l2.2-9M1344.3 1126.4l2.9 8.7M1241.5 1086.6l2.4-11.7M1283.8 1076.6l2.4 10.6M1193.6 1171.5l1.6-6.2M1260.3 1166.7l1.6 6M951 1178.4l2.9-6.2M984.1 1172.6l2.8 6.1M1169.6 1178.6l2.4-6.9M1214.6 1172.4l2.2 6.4M930.9 1088.2l2-1.4 1.9-0.3 1.8 0.4 2 1.5M866.4 1118.3l2.8-12.1M920.6 1107.9l2.4 11.3M801.4 1188l2.2-6.4M900.5 1182.1l1.5 6.5"/>
<path stroke="#00aaff" d="M817.8 1164.4l2 6.5M1362.3 1169.6l1.5-5.6M1065.2 1148.8l3.7-8.6M1106.3 1140.5l3.8 8.5M1014.5 1155.3l1.9-6.7M1091.7 1149.6l1.7 6.5M847.1 1183.1l2.2-6.4M975.5 1177.2l2.2 6.2M1105.5 1169.3l1.7-5.9M1191.7 1164l1.7 6.6M1077 1140.2l2.7-8.6M1158.4 1132.4l2.2 8.4M914.7 1159.5l1.8-6M1021 1154.3l2.4 6.2M853.2 1090.1l3.3-2.6 3.1-0.8 3.1 1 3.2 2.8M976 1132.8l2.2-8.6M1049.5 1124.9l2.4 8.2M929.6 1166.6l2-6.3M997.6 1161.3l2 6.2M1256 1159.1l1.9-6M1317.9 1153.6l2.2 6.8M769.7 1177.7l3.1-6.2M813.4 1171.9l3.3 6.6M1023.9 1178.1l2.8-0.4 2.9 0.4M774.9 1150.5l1.8 6.6M1322.7 1156.1l2-6.6M1216.8 1182.2l2.4-6.2M1338.4 1176.5l2 6.8M1184 1101.2l4.6-11.6M1249.2 1089.8l5 11.8M744.5 1180.2l2.2-6.3M851.5 1175.1l1.5 5.8M789.4 1165.6l1.9 6.3M1299.3 1170.8l2.2-5.8M1124.9 1187l2.2-6.3M1196.7 1181.5l2 5.9M803.8 1152.2l1.8-5.9M878.8 1147.4l1.6 5.6M755.5 1157.7l1.9 6.1M1289 1163.5l1.8-6.9M1240.2 1186.2l2-6.4M1321.2 1180.3l1.9 6.4M829 1176.5l2.4-6.6M939 1171.2l1.5 5.7M816.5 1176l2.4 6.2M1325.8 1181.5l1.7-6.2M1235.6 1158.1l3.1-6M1271.7 1152.3l3.3 6.6M748.5 1183.3l2.2-6.4M795.9 1177.3l2.2 6.6M1107.4 1183.1l1.8-6.8M1176.6 1177.2l1.7 7M1084.7 1100.6l2.6-11.3M1130.2 1090.7l2.4 11.3M1019.3 1166.6l1.9-6.2M1106.6 1160.8l1.5 6.6M841.4 1186.5l1.6-6.3M941.6 1181.3l2.2 6M808.4 1161.8l1.3-6.1M886.1 1156.9l1.5 5.9M777.3 1157.4l1.6-6.3M838.2 1152.3l1.5 6M1171.1 1157.8l3.1-2.2 3-0.7 3.1 0.8 3.3 2.4M1014.2 1176.7l1.6-6.9M1098.2 1170.9l1.8 6.6M988.2 1153.4l1.6-6.3M1046.8 1147.7l1.6 6M1226.4 1176.3l2-6.1M1319.4 1171.4l1.3 5.6M1198.9 1106.6l6.8-11.4M1241.5 1095.8l5.3 11.2M1103.5 1173.2l2-6M1206.1 1167.8l2.6 6M1059.1 1158.1l1.5-6.4M1142 1152.2l2.2 6.4M789.6 1089l7-7.8 3.3-2.3 3-1.1M806.7 1077.8l3 1.2 3.1 2.4 6.1 7.9M1351.6 1089.1l3.5-2.2 3.7-1 3.5 0.1 3.7 1.3M765.8 1117.4l4.8 8.6M1277.2 1125.4l2.2-8.9M1341.5 1117.5l2.8 8.9M1243.9 1074.9l2.2-10.7M1281.1 1064.9l2.7 11.7M1195.2 1165.3l1.5-6.3M1258.6 1159.9l1.7 6.8M953.9 1172.2l3.5-6.5M980.6 1166.1l3.5 6.5M1172 1171.7l2.2-5.9M1212.4 1166.4l2.2 6M869.2 1106.2l2.6-11.3M918.2 1096.6l2.4 11.3M803.6 1181.6l2-6M899.2 1176.5l1.3 5.6"/>
<path stroke="#0075ff" d="M736 1162.3l1.3-4.8M816.1 1158.5l1.7 5.9M1363.8 1164l1.8-6.4M1068.9 1140.2l4.4-8.7M1102 1131.8l4.3 8.7M1016.4 1148.6l1.8-6M1089.9 1143.1l1.8 6.5M849.3 1176.7l2.2-6.4M973.3 1171l2.2 6.2M1107.2 1163.4l2-6.6M1189.9 1157.4l1.8 6.6M1079.7 1131.6l2.8-9.4M1156 1123l2.4 9.4M916.5 1153.5l1.7-6.1M1018.6 1148.1l2.4 6.2M978.2 1124.2l2.1-8.7M1046.8 1115.9l2.7 9M931.6 1160.3l1.9-6.2M995.7 1155.2l1.9 6.1M1257.9 1153.1l2.2-6.6M1315.9 1147.6l2 6M772.8 1171.5l3.2-6M809.9 1165.7l3.5 6.2M773.2 1144l1.7 6.5M1324.7 1149.5l1.7-5.9M1219.2 1176l2.4-6.3M1336.7 1170.4l1.7 6.1M1188.6 1089.6l4.8-11.3M1244.2 1078.8l5 11M746.7 1173.9l2-5.8M849.8 1168.4l1.7 6.7M787.4 1159.2l2 6.4M1301.5 1165l2.4-6.3M1127.1 1180.7l2.2-6.3M1194.5 1175.1l2.2 6.4M805.6 1146.3l1.7-5.9M877.1 1141l1.7 6.4M753.5 1151.6l2 6.1M1290.8 1156.6l1.5-6M1242.2 1179.8l2-6.4M1319.4 1174.7l1.8 5.6M831.4 1169.9l2.2-6.1M937.2 1164.6l1.8 6.6M813.9 1169.2l2.6 6.8M1327.5 1175.3l1.7-6.2M1238.7 1152.1l3.9-6.4M1268 1146.1l3.7 6.2M750.7 1176.9l2.1-6.1M793.8 1171.1l2.1 6.2M1109.2 1176.3l1.5-6M1175 1171.2l1.6 6M1087.3 1089.3l2.6-11.4M1127.8 1079.5l2.4 11.2M1021.2 1160.4l2-6.4M1105.2 1155.1l1.4 5.7M843 1180.2l1.5-6.4M939.4 1175.2l2.2 6.1M809.7 1155.7l1.3-6M884.3 1150.1l1.8 6.8M778.9 1151.1l1.5-6.3M836.6 1146.2l1.6 6.1M1015.8 1169.8l1.3-5.9M1096.5 1164.3l1.7 6.6M989.8 1147.1l1.5-6.3M1045.3 1141.7l1.5 6M1228.4 1170.2l2-6.1M1317.9 1164.8l1.5 6.6M1205.7 1095.2l4.5-6.5 4.2-4.8M1233.9 1084.1l3.7 4.9 3.9 6.8M1105.5 1167.2l2.2-6.5M1203.2 1161.5l2.9 6.3M1060.6 1151.7l1.6-6.3M1139.8 1145.8l2.2 6.4M802.9 1077.8l3.8 0M760.3 1108.4l5.5 9M1279.4 1116.5l2.2-8.9M1338.7 1108.6l2.8 8.9M1246.1 1064.2l2.4-11.7M1278.7 1054l2.4 10.9M1196.7 1159l1.5-6.2M1257.1 1153.9l1.5 6M957.4 1165.7l4.6-6.2M976 1159.9l4.6 6.2M1174.2 1165.8l2.6-6.5M1210 1160.2l2.4 6.2M871.8 1094.9l2.7-11.5M915.8 1085.2l2.4 11.4M805.6 1175.6l2.2-6.7M897.7 1169.9l1.5 6.6"/>
<path stroke="#0040ff" d="M737.3 1157.5l1.8-6.5M814.1 1151.8l2 6.7M1365.6 1157.6l0.4-1.6M1073.3 1131.5l5.9-8.7M1096.1 1123.1l5.9 8.7M1018.2 1142.6l2-6.8M1088.2 1136.5l1.7 6.6M851.5 1170.3l2.2-6.3M971.2 1164.8l2.1 6.2M1109.2 1156.8l1.7-6M1188.4 1151.6l1.5 5.8M1082.5 1122.2l2.4-8.1M1153.8 1114.4l2.2 8.6M918.2 1147.4l1.8-6M1016.2 1141.9l2.4 6.2M980.3 1115.5l2.2-8.7M1044.4 1107.5l2.4 8.4M933.5 1154.1l2-6.1M993.5 1148.4l2.2 6.8M1260.1 1146.5l2-5.7M1313.7 1141.2l2.2 6.4M776 1165.5l4.2-6.4M805.8 1159.4l4.1 6.3M771.7 1138.2l1.5 5.8M1326.4 1143.6l2-6.7M1221.6 1169.7l2.4-6.3M1334.9 1164.3l1.8 6.1M1193.4 1078.3l5.5-11.5M1238.2 1067l6 11.8M748.7 1168.1l2.2-6.5M848.2 1162.5l1.6 5.9M785.4 1152.9l2 6.3M1303.9 1158.7l2.4-6.3M1129.3 1174.4l2.2-6.1M1192.3 1168.8l2.2 6.3M807.3 1140.4l2-6.7M875.3 1134.5l1.8 6.5M751.5 1145.4l2 6.2M1292.3 1150.6l1.5-6M1244.2 1173.4l1.7-5.6M1317.4 1168.5l2 6.2M833.6 1163.8l2.2-6.1M935.5 1158l1.7 6.6M811.5 1163l2.4 6.2M1329.2 1169.1l1.8-6.2M1242.6 1145.7l5.1-6.1M1263 1139.8l5 6.3M752.8 1170.8l2.4-6.3M791.3 1164.6l2.5 6.5M1110.7 1170.3l1.5-5.9M1173.5 1165.1l1.5 6.1M1089.9 1077.9l2.7-11.3M1125.2 1067.4l2.6 12.1M1023.2 1154l2-6.4M1103.7 1148.4l1.5 6.7M844.5 1173.8l1.3-5.4M937.2 1168.9l2.2 6.3M811 1149.7l1.6-7.2M882.8 1144.1l1.5 6M780.4 1144.8l1.5-6.3M834.9 1139.3l1.7 6.9M1017.1 1163.9l1.3-6M1095 1158.4l1.5 5.9M991.3 1140.8l1.5-6.2M1043.6 1134.8l1.7 6.9M1230.4 1164.1l1.9-6.3M1316.3 1158.2l1.6 6.6M1214.4 1083.9l5.3-3.9 4.8-1.2 4.6 1.3 4.8 4M1107.7 1160.7l2.1-6.3M1200.4 1155.3l2.8 6.2M1062.2 1145.4l1.5-6.4M1137.8 1139.9l2 5.9M754.4 1099.9l5.9 8.5M1281.6 1107.6l2.2-8.7M1336 1100.3l2.7 8.3M1248.5 1052.5l2.4-11.6M1276.1 1042l2.6 12M1198.2 1152.8l1.6-6.2M1255.5 1147.9l1.6 6M962 1159.5l3.5-2.6 3.5-0.9 3.5 1 3.5 2.9M1176.8 1159.3l2.6-5.8M1207.2 1153.7l2.8 6.5M874.5 1083.4l2.6-11.5M913.4 1073.8l2.4 11.4M807.8 1168.9l1.9-6.2M896.1 1163.3l1.6 6.6"/>
<path stroke="#000bff" d="M739.1 1151l1.7-6.4M812.3 1145.9l1.8 5.9M1079.2 1122.8l4.2-3.5 4.1-1.2 4.2 1.2 4.4 3.8M1020.2 1135.8l1.7-6M1086.7 1130.8l1.5 5.7M853.7 1164l2.2-6.3M969 1158.7l2.2 6.1M1110.9 1150.8l1.8-6M1186.6 1145l1.8 6.6M1084.9 1114.1l2.6-8.9M1151.6 1105.7l2.2 8.7M920 1141.4l1.9-6.8M1013.8 1135.6l2.4 6.3M982.5 1106.8l2.2-8.7M1042 1099l2.4 8.5M935.5 1148l2-6M991.5 1142.5l2 5.9M1262.1 1140.8l2.2-6.2M1311.5 1134.9l2.2 6.3M780.2 1159.1l5.9-6.1M799.7 1153.1l6.1 6.3M769.9 1131.6l1.8 6.6M1328.4 1136.9l1.7-6M1224 1163.4l2.4-6.3M1333.2 1158.2l1.7 6.1M1198.9 1066.8l6.5-11.2M1231.2 1055.6l7 11.4M750.9 1161.6l1.9-6M846.5 1155.8l1.7 6.7M783.5 1146.7l1.9 6.2M1306.3 1152.4l2.4-6.3M1131.5 1168.3l2.4-6.7M1190.1 1162.7l2.2 6.1M809.3 1133.7l1.7-6M873.6 1128.1l1.7 6.4M749.6 1139l1.9 6.4M1293.8 1144.6l1.5-6.1M1245.9 1167.8l2-6.4M1315.2 1161.5l2.2 7M835.8 1157.7l2.1-6.3M934 1152.2l1.5 5.8M809.3 1157.2l2.2 5.8M1331 1162.9l1.8-6.2M1247.7 1139.6l3.9-2.7 3.7-0.9 3.7 1 4 2.8M755.2 1164.5l2.7-6.3M788.9 1158.7l2.4 5.9M1112.2 1164.4l1.8-6.7M1172 1159l1.5 6.1M1092.6 1066.6l2.6-11.2M1122.8 1056.6l2.4 10.8M1025.2 1147.6l2-6.5M1102.4 1142.7l1.3 5.7M845.8 1168.4l1.5-6.4M935.1 1162.6l2.1 6.3M812.6 1142.5l1.3-6.1M881.2 1138l1.6 6.1M781.9 1138.5l1.6-6.2M833.3 1133.3l1.6 6M1018.4 1157.9l1.5-7M1093.4 1152.5l1.6 5.9M992.8 1134.6l1.5-6.1M1042 1128.9l1.6 5.9M1232.3 1157.8l2-6.4M1315 1152.4l1.3 5.8M1109.8 1154.4l2.2-6.2M1197.3 1148.8l3.1 6.5M1063.7 1139l1.5-6.3M1135.7 1133.3l2.1 6.6M746.3 1091.1l8.1 8.8M1283.8 1098.9l2.1-8.6M1333.2 1091.2l2.8 9.1M1250.9 1040.9l2.4-11.5M1273.7 1031.1l2.4 10.9M1199.8 1146.6l1.5-6.1M1253.8 1141.1l1.7 6.8M1179.4 1153.5l3.5-6.6M1203.9 1147.5l3.3 6.2M877.1 1071.9l2.4-10.5M910.8 1061.6l2.6 12.2M809.7 1162.7l2-6.2M894.8 1157.6l1.3 5.7"/>
<path stroke="#2a00ff" d="M740.8 1144.6l1.8-6.4M810.4 1139.2l1.9 6.7M1021.9 1129.8l1.8-6M1084.9 1124.3l1.8 6.5M855.9 1157.7l2.2-6.3M966.6 1152l2.4 6.7M1112.7 1144.8l2-6.8M1185.1 1139.2l1.5 5.8M1087.5 1105.2l2.7-9.1M1149.4 1097l2.2 8.7M921.9 1134.6l1.8-6M1011.4 1129.4l2.4 6.2M984.7 1098.1l2.2-8.7M1039.4 1089.6l2.6 9.4M937.5 1142l2.2-6.5M989.3 1136.1l2.2 6.4M1264.3 1134.6l2.4-6.6M1309.3 1128.8l2.2 6.1M786.1 1153l3.5-1.9 3.3-0.6 3.3 0.6 3.5 2M768.4 1125.8l1.5 5.8M1330.1 1130.9l1.8-6M1226.4 1157.1l2.4-6.4M1331.2 1151.3l2 6.9M1205.4 1055.6l3.3-4.2 3.3-3.1 3.1-1.8 3-0.6 3.1 0.5 3.3 1.9 3.3 3 3.4 4.3M752.8 1155.6l2.2-6.7M844.9 1149.8l1.6 6M781.5 1140.4l2 6.3M1308.7 1146.1l2.4-6.3M1133.9 1161.6l2.2-5.8M1187.7 1156.1l2.4 6.6M811 1127.7l2-6.7M871.8 1121.8l1.8 6.3M747.6 1132.6l2 6.4M1295.3 1138.5l1.8-7M1247.9 1161.4l1.9-6.2M1313.3 1155.4l1.9 6.1M837.9 1151.4l2.2-6.3M932.2 1145.6l1.8 6.6M806.9 1150.9l2.4 6.3M1332.8 1156.7l1.9-7.1M757.9 1158.2l3-6.4M785.9 1152.2l3 6.5M1114 1157.7l1.5-5.9M1170.2 1152.2l1.8 6.8M1095.2 1055.4l2.8-11.7M1120.1 1045.2l2.7 11.4M1027.2 1141.1l1.7-5.9M1100.9 1136l1.5 6.7M847.3 1162l1.6-6.4M932.9 1156.2l2.2 6.4M813.9 1136.4l1.3-6.2M879.7 1131.8l1.5 6.2M783.5 1132.3l1.5-6.1M831.8 1127.4l1.5 5.9M1019.9 1150.9l1.3-6.1M1091.7 1145.6l1.7 6.9M994.3 1128.5l1.8-7M1040.5 1123l1.5 5.9M1234.3 1151.4l2-6.4M1313.5 1145.8l1.5 6.6M1112 1148.2l2.2-6M1194.3 1142.4l3 6.4M1065.2 1132.7l1.6-6.3M1133.7 1127.2l2 6.1M736 1086.3l5 1.3 5.3 3.5M1285.9 1090.3l2.2-8.4M1330.3 1082.2l2.9 9M1253.3 1029.4l2.5-11.1M1271.1 1019.4l2.6 11.7M1201.3 1140.5l1.5-6.1M1252.2 1135.2l1.6 5.9M1182.9 1146.9l4.6-6M1199.1 1141l4.8 6.5M879.5 1061.4l2.8-12.3M908.4 1050.6l2.4 11M811.7 1156.5l2-6.4M893.3 1151l1.5 6.6"/>
<path stroke="#6000ff" d="M742.6 1138.2l1.5-5.6M808.6 1133.2l1.8 6M1023.7 1123.8l1.9-6.8M1083.2 1117.8l1.7 6.5M858.1 1151.4l2.1-6.2M964.4 1146l2.2 6M1114.7 1138l1.7-6.1M1183.3 1132.5l1.8 6.7M1090.2 1096.1l2.4-8.5M1147.2 1088.3l2.2 8.7M923.7 1128.6l2-6.7M1009 1123.1l2.4 6.3M986.9 1089.4l2.2-8.7M1037 1081l2.4 8.6M939.7 1135.5l2.1-6.3M987.1 1129.9l2.2 6.2M1266.7 1128l2.4-6.2M1306.9 1122.6l2.4 6.2M766.6 1119.2l1.8 6.6M1331.9 1124.9l1.9-6.8M1228.8 1150.7l2.2-5.8M1329.5 1145.2l1.7 6.1M755 1148.9l2-6.2M843.4 1143.8l1.5 6M779.5 1134.2l2 6.2M1311.1 1139.8l2.4-6.3M1136.1 1155.8l2.6-6.7M1185.3 1149.9l2.4 6.2M813 1121l1.8-5.9M870.1 1115.4l1.7 6.4M745.6 1126.2l2 6.4M1297.1 1131.5l1.5-6.2M1249.8 1155.2l2.2-6.9M1311.3 1149.3l2 6.1M840.1 1145.1l2.2-6.4M930.7 1139.7l1.5 5.9M804.5 1144.5l2.4 6.4M1334.7 1149.6l1.8-6.2M760.9 1151.8l3.8-6.3M782.2 1145.8l3.7 6.4M1115.5 1151.8l1.8-6.6M1168.7 1146.3l1.5 5.9M1098 1043.7l2.9-10.9M1117.1 1033l3 12.2M1028.9 1135.2l1.8-6M1099.6 1130.2l1.3 5.8M848.9 1155.6l1.5-6.4M930.7 1149.7l2.2 6.5M815.2 1130.2l1.3-6.2M878.2 1125.6l1.5 6.2M785 1126.2l1.5-6M830.1 1120.7l1.7 6.7M1021.2 1144.8l1.4-6.1M1090.2 1139.4l1.5 6.2M996.1 1121.5l1.5-5.9M1038.8 1116.4l1.7 6.6M1236.3 1145l1.7-5.8M1312.2 1140l1.3 5.8M1114.2 1142.2l2.4-6.4M1191.2 1136.3l3.1 6.1M1066.8 1126.4l1.5-6.3M1131.7 1121.1l2 6.1M1288.1 1081.9l2.4-8.9M1327.7 1074l2.6 8.2M1255.8 1018.3l2.6-11.3M1268.4 1008.2l2.7 11.2M1202.8 1134.4l1.8-6.8M1250.5 1128.5l1.7 6.7M1187.5 1140.9l3.1-2.2 2.8-0.6 2.8 0.8 2.9 2.1M882.3 1049.1l2.7-11M905.8 1039l2.6 11.6M813.7 1150.1l1.7-5.7M892 1145.2l1.3 5.8"/>
<path stroke="#9500ff" d="M744.1 1132.6l1.7-6.4M806.7 1126.5l1.9 6.7M1025.6 1117l1.8-6M1081.6 1112.2l1.6 5.6M860.2 1145.2l2.2-6.1M962 1139.4l2.4 6.6M1116.4 1131.9l1.8-6.2M1181.8 1126.6l1.5 5.9M1092.6 1087.6l2.4-8.5M1145.1 1079.6l2.1 8.7M925.7 1121.9l1.7-5.9M1006.6 1116.8l2.4 6.3M989.1 1080.7l2.2-8.7M1034.6 1072.3l2.4 8.7M941.8 1129.2l2.4-6.5M984.7 1123.3l2.4 6.6M1269.1 1121.8l2.6-6.2M1304.3 1116.2l2.6 6.4M764.9 1112.7l1.7 6.5M1333.8 1118.1l1.8-6.1M1231 1144.9l2.4-6.4M1327.7 1139.1l1.8 6.1M757 1142.7l2-6.2M841.9 1137.7l1.5 6.1M777.6 1128l1.9 6.2M1313.5 1133.5l2.4-6.2M1138.7 1149.1l2.4-5.8M1182.7 1143.5l2.6 6.4M814.8 1115.1l1.9-6.6M868.3 1109.2l1.8 6.2M743.9 1120.3l1.7 5.9M1298.6 1125.3l1.6-6.2M1252 1148.3l2-6M1309.3 1143.3l2 6M842.3 1138.7l2.2-6.4M928.9 1133l1.8 6.7M802.1 1138.1l2.4 6.4M1336.5 1143.4l1.7-6.2M764.7 1145.5l3.7-4.1 3.5-2M774.9 1139.5l3.5 2 3.8 4.3M1117.3 1145.2l1.7-6.5M1166.9 1139.6l1.8 6.7M1100.9 1032.8l3.7-11.6M1113.6 1021.7l3.5 11.3M1030.7 1129.2l1.9-6.8M1098 1123.4l1.6 6.8M850.4 1149.2l1.5-6.4M928.7 1143.8l2 5.9M816.5 1124l1.3-6.3M876.7 1119.3l1.5 6.3M786.5 1120.2l1.8-6.7M828.3 1114.2l1.8 6.5M1022.6 1138.7l1.3-6.1M1088.6 1133.2l1.6 6.2M997.6 1115.6l1.8-6.6M1037 1109.9l1.8 6.5M1238 1139.2l2-6.7M1310.7 1133.3l1.5 6.7M1116.6 1135.8l2.4-6.1M1187.9 1129.9l3.3 6.4M1068.3 1120.1l1.5-6.3M1129.8 1115l1.9 6.1M1290.5 1073l2.4-8.5M1324.9 1065.4l2.8 8.6M1258.4 1007l3.5-11M1264.7 996.2l3.7 12M1204.6 1127.6l1.5-5.9M1249 1122.8l1.5 5.7M885 1038.1l2.8-11.2M902.9 1027.4l2.9 11.6M815.4 1144.4l2-6.6M890.4 1138.5l1.6 6.7"/>
<path stroke="#ca00ff" d="M745.8 1126.2l1.8-6.4M804.9 1120.5l1.8 6M1027.4 1111l1.7-6M1079.9 1105.8l1.7 6.4M862.4 1139.1l2.2-6.1M959.8 1133.5l2.2 5.9M1118.2 1125.7l1.7-6.1M1180.1 1120l1.7 6.6M1095 1079.1l2.4-8.6M1142.9 1070.9l2.2 8.7M927.4 1116l1.8-6M1004.2 1110.4l2.4 6.4M991.3 1072l2.4-9.4M1032.2 1063.6l2.4 8.7M944.2 1122.7l2.5-6.2M982.3 1117.2l2.4 6.1M1271.7 1115.6l3.1-6.4M1301.2 1109.7l3.1 6.5M763.3 1106.9l1.6 5.8M1335.6 1112l1.7-6M1233.4 1138.5l2.4-6.4M1326 1133l1.7 6.1M759 1136.5l1.9-6.3M840.1 1130.8l1.8 6.9M775.6 1121.9l2 6.1M1315.9 1127.3l2.4-6.2M1141.1 1143.3l2.9-6.3M1179.8 1137.1l2.9 6.4M816.7 1108.5l1.8-5.9M866.6 1103l1.7 6.2M741.9 1113.6l2 6.7M1300.2 1119.1l1.5-6.2M1254 1142.3l2-6M1307.2 1136.8l2.1 6.5M844.5 1132.3l2-5.9M927.4 1127.1l1.5 5.9M799.7 1131.6l2.4 6.5M1338.2 1137.2l1.8-6.3M771.9 1139.4l3 0.1M1119 1138.7l1.6-5.6M1165.4 1133.8l1.5 5.8M1104.6 1021.2l2.4-4.7 2.2-1.3 2.2 1.9 2.2 4.6M1032.6 1122.4l1.8-6.2M1096.7 1117.6l1.3 5.8M851.9 1142.8l1.6-6.4M926.5 1137.1l2.2 6.7M817.8 1117.7l1.3-6.3M875.1 1112.8l1.6 6.5M788.3 1113.5l1.5-5.8M826.8 1108.6l1.5 5.6M1023.9 1132.6l1.3-6.2M1087.1 1127l1.5 6.2M999.4 1109l1.7-6.3M1035.2 1103.7l1.8 6.2M1240 1132.5l1.8-6M1309.3 1127.5l1.4 5.8M1119 1129.7l2.7-6.3M1184.7 1123.8l3.2 6.1M1069.8 1113.8l1.5-6.2M1127.6 1108.1l2.2 6.9M1292.9 1064.5l2.7-8.6M1321.8 1056.5l3.1 8.9M1261.9 996l1.3-1.3 1.5 1.5M1206.1 1121.7l1.7-6.6M1247.2 1116.4l1.8 6.4M887.8 1026.9l3.5-11.4M899.6 1016.3l3.3 11.1M817.4 1137.8l1.9-6.6M889.1 1132.7l1.3 5.8"/>
<path stroke="#ff00ff" d="M747.6 1119.8l9.8-34 7-20.2 3.1-6.8 2.8-4.8 2.9-2.8 2.6-0.9 2.6 1 2.9 3 2.8 4.8 3.1 6.7 7.2 20.2 10.5 34.5M1029.1 1105l9-29.3 6.6-18 2.8-6 2.6-4.1 2.4-2.2 2.4-0.8 2.4 1 2.5 2.5 5.2 10.1 6.3 18.1 8.6 29.5M864.6 1133l16-41.9 12.2-26.8 5.3-8.9 4.8-6.2 4.4-3.5 4.4-1.2 4.3 1.2 4.6 3.7 4.8 6.2 5.3 8.8 12.7 27.2 16.4 41.9M1119.9 1119.6l12-41.4 7.5-22.5 5.9-12.7 2.6-3.1 2.6-1.1 2.7 1.1 2.6 3.1 2.8 5.3 3.1 7.7 7.4 23.6 11 40.4M1097.4 1070.5l16.6-58.8 3.7-9.7 1.5-2.3 1.4-0.7 1.5 0.8 1.5 2.3 3.7 10 15.6 58.8M929.2 1110l12.6-41 9-24.8 3.7-8.1 3.5-5.8 3.1-3.2 3.1-1 2.8 0.9 3.1 2.9 3.2 4.9 4 7.6 9.2 21.7 17.7 46.3M993.7 1062.6l7-26.3 4.8-15.6 3.7-8.5 1.8-2.1 1.5-0.6 1.5 0.7 1.8 2.2 3.7 8.4 4.8 15 7.9 27.8M946.7 1116.5l4.8-10.7 4.6-7.7 4.1-4.3 2.2-1.1 2-0.4 4.1 1.6 4.2 4.4 4.6 7.7 5 11.2M1274.8 1109.2l3.5-6.1 3.5-4.4 3.3-2.5 3-0.6 3.1 0.9 3.3 2.6 3.3 4.4 3.4 6.2M736 1036.9l2.4 0.5 2.6 2.5 2.7 4.4 3 7 6.8 20.4 9.8 35.2M1337.3 1106l11-36.6 7-19.8 3-6.5 2.7-3.9 2.6-2.1 2.4 0M1235.8 1132.1l27-73.8 8.3-21.4 3.9-8.6 3.3-5.6 3-3.4 2.9-1 3 1.4 3.3 4.3 3.5 7 4.2 10.5 10.7 33 17.1 58.5M760.9 1130.2l16.4-56.1 23.2-88.1 2-5.5 1.3 2.6 2.9 10.9 33.4 136.8M736 1034.3l3.5 1.6 3.7 3.9 4 6.2 4.3 8.8 10.3 26.1 13.8 41M1318.3 1121.1l18.8-46.8 12.1-25.6 4.8-7.7 4.1-4.6 4-2.1 3.9 0.5M1144 1137l4.8-9.3 4.6-6.5 4.4-3.9 4.1-1.2 4.2 1.2 4.3 3.9 4.6 6.6 4.8 9.3M818.5 1102.6l8.1-25.5 6.1-16 5.2-9.3 2.4-2.3 2.5-0.8 2.4 0.8 2.4 2.2 5.2 9.4 6.1 16.6 7.7 25.3M736 1093.1l5.9 20.5M1301.7 1112.9l27.1-111.9 3.5-12.6 1.1-2.6 0.9-0.8 1.5 2.2 2.2 7 28 105M1256 1136.3l7.6-21 6.4-13.8 3-4.9 2.9-3.4 2.8-2 2.6-0.6 2.7 0.6 2.8 2 2.9 3.2 3 4.9 6.6 14 7.9 21.5M846.5 1126.4l14.2-44.8 22.1-74.3 3.7-10 1.5-2.5 1.3-0.8 1.8 1.2 1.7 3.3 5.3 16.2 29.3 112.4M736 1047.9l6.6-17.9 5.2-9.9 2.4-2.3 2.2-0.6 2.2 0.8 2.4 2.4 4.6 8.1 6.1 14.6 32 88.5M1340 1130.9l15.9-56 10.1-32.1M1120.6 1133.1l7-23.7 5.6-15.4 5.1-8.9 2.4-2.2 2.4-0.7 2.4 0.8 2.4 2.3 5 9.2 5.7 15.8 6.8 23.5M1034.4 1116.2l24.3-88 4.8-12.6 1.9-2.9 1.8-0.8 2 1.2 2.1 3.7 5.3 15.8 7.2 28.6 12.9 56.4M853.5 1136.4l13.1-53.5 8.5-30.5 3.5-9.9 3.1-6.7 2.8-3.8 2.7-1.1 2.6 1.2 2.6 3.3 6.1 13.7 6.6 19.5 21.4 68.5M819.1 1111.4l21.5-103.8 3.2-13.2 1.1-2.8 1.1-1.1 0.9 0.7 1.1 2.4 2.6 9.7 24.5 109.5M789.8 1107.7l5.5-18.7 4.8-12.8 4.1-7 2-1.7 2-0.5 2 0.7 1.9 1.8 4.2 7.2 4.8 12.8 5.7 19.1M1025.2 1126.4l23-109.1 4.1-15.3 1.5-3.3 1.4-0.8 1.3 1.2 1.3 2.8 3.5 12.3 25.8 112.8M1001.1 1102.7l5.1-16.5 4.1-10.6 3.9-6.4 2-1.6 1.8-0.4 1.7 0.5 2 1.6 3.9 6.4 4.4 11 5.2 17M1241.8 1126.5l26.9-96.8 5-13.3 2-2.9 1.9-1 2.2 1.5 2.2 4 5.5 16.7 7.6 30.7 14.2 62.1M1121.7 1123.4l7.8-16.5 7.5-11.5 3.5-3.9 3.5-2.7 3.5-1.6 3.5-0.5 3.5 0.6 3.7 1.7 3.9 2.9 4 3.9 8.7 11.6 9.9 16.4M1071.3 1107.6l9-34.5 6.8-21.9 5.5-12.2 2.6-3.1 2.4-1 2.4 0.8 2.4 2.6 5.7 11.2 6.8 18.8 12.7 39.8M1295.6 1055.9l3.5-9.9 3.2-7.2 3.1-4.2 2.8-1.3 2.9 1.3 3.1 4 3.5 7.1 4.1 10.8M1207.8 1115.1l6-20.2 5-13.4 4.4-7.5 2.1-1.9 2-0.5 2 0.6 2.2 2 4.6 8 5 13.5 6.1 20.7M891.3 1015.5l2.2-4.4 2-1.3 1.9 1.7 2.2 4.8M819.3 1131.2l27.8-98.8 5.1-13.3 2.1-3.3 2-1 2.2 1.3 2.4 4.1 5.7 17.2 7.9 31.4 14.6 63.9"/>
<path stroke="#000" d="M859.2 1287.9l0.2 0.6M1130.6 1281.5l2.9-5.3M1331.7 1271.9l1.3-3.9M1019.1 1284.5l0.6-2M1158.4 1282.4l1.8 4.2M1365.8 1268.4l0.2 0.6M977.3 1268.9l1.9-5.3M1131.9 1285l1.6 4.3M1267.8 1281.8l1.3-2.1M1013.2 1286l1 3.2M769 1271.8l1.3-4.2M953 1273l1.3 3.3M779.5 1259.8l3.7 3.8M1221.4 1267.1l0.7 2M1025.2 1283.2l2-4.7M876.7 1286.2l0.4-1.3M784.6 1287.1l1.1-2.8M1293.6 1280.7l2 4M1146.6 1291.6l0.4-1.3M1277.6 1286.2l1.6 3.5M932.9 1283.9l0.4-1.3M1105.5 1285.8l1.1 2.6M890.2 1285.9l1.3-3.4M1312.4 1281.5l1.3-3.2M938.1 1276.3l0.5 1.1M1215.3 1284.7l0.9-2.5M1360.1 1281.5l1.7 4.6M1031.5 1283.8l35-100.2 19.7-54.3 16.4-41.9 12.3-26.6M1081.2 1281l1.5 4.3M1359.4 1283.3l0.5-1.3M813 1279.5l0.7 1.9M949.9 1291.2l2.2-3.3M1010.1 1288.8l0.4 0.7M741 1279.2l0.9 2.7M1177.4 1282.4l0.7-1.7M1124.5 1276.3l1.3-4M885.4 1285l2.2 3M1037 1267.3l1.5-4.9M1192.5 1270.5l1.8 4.4M882.8 1284.1l0.9 2.7M1340.4 1264.8l1.1-2.6M823.7 1274.8l0.2 0.7M1172.6 1276l1.1-3.6M1347.8 1268.6l1.6 3.6M977.5 1280l1.5 3.2M1088.4 1288.4l0.7-1.5M1231.5 1286.6l1.5 4.4M1111.8 1276.4l1.8 2.9M801.2 1279.6l0.6 1.5M1259.2 1270.1l0.7-2.1M1346.5 1259.7l0.5 1.3M887.6 1285.9l0.6-1.8M1175.7 1258.2l1.5-2.4M1245.2 1289.4l0.5 1M795.5 1261.1l1.1-2.6M970.3 1279.9l0.6 2.1M854.3 1271l2 4.9M1302.6 1260.4l0.8-2.9M969.2 1276.3l1.7-4.9M1071.3 1266.9l0.3 0.5M1320.1 1286.8l0.6 2M1084.7 1267.8l1.5-5.4M1324.4 1286.9l1.8-4.8M786.1 1283.5l0.9 2.8M973.6 1288.4l0.8-2.1M1137 1284l0.8 3.2M911.7 1288.6l0.8-2.4M1089.5 1270.8l0.9 3M860.7 1284.8l0.9-3M1040.7 1280.1l0.7 1.8M1263.6 1284.7l4.4 0.9 4.6 2.6M983 1283.9l1.1 2.5M1210 1287.5l1.6-3.3M1265.8 1290.4l0.7 1.4M778.9 1284.3l0.6-2.4M916.5 1258.7l1.3 3.8M1246.8 1276.3l1.1 2.9M745.2 1282.4l0.4-1.6M1343.7 1289.4l1.7-5.4M791.8 1288.1l1.5-3.3M1132.6 1281.6l1.3 3.6M750.2 1286.4l1.3-4M832 1286.3l1.1 2.9M1083.4 1283.2l0.6 2.2M1340.2 1269l0.4-1.6M809.9 1277.4l1.3 3.9M933.5 1260.9l1.3-4.3M1035.9 1280.8l0.4 1.5M1289.7 1285.3l0.8-3M749.3 1255.9l0.3 0.8M895 1283.9l1.1-2.3M1347.2 1283.3l0.6 2.4M910.3 1289.5l0.7 0.9M1129.5 1263.4l1.1-2.9M1293.6 1257.5l1.1 3.8M845.4 1282.6l3.5 0.6M1195.2 1286.1l1.3 3M1281.8 1275.2l0.2-0.8M834.2 1281.3l0.2 0.6M1240.9 1271.5l0.9-3.3M1000 1288l0.9-1.9M1052.3 1284.8l1.1 2.1M1283.8 1255l0.8 3M918.2 1282.3l0.7-2.2M1023.4 1286.9l0.7 2M1241.5 1263l0.9 3.1M873.8 1278l1.1-3.8M989.5 1259.9l0.7 2.4M1122.3 1267.4l0.7-1.8M819.8 1282.3l1.1-3.1M957.4 1266.4l0.8 3.3M1105.9 1275.4l2.9-5.1M769.7 1271.2l1.5-3.6M925.7 1283.2l0.6 2.4M1333.2 1281.1l1.5-4.1"/>
</g>
<g font-family="'Liberation Sans', Arial, Helvetica, sans-serif" font-size="22" fill="#000">
<rect x="736" y="465" width="630" height="1" fill="#000"/>
<rect x="736" y="426" width="630" height="1" fill="#000"/>
<rect x="736" y="386" width="630" height="1" fill="#000"/>
<rect x="736" y="347" width="630" height="1" fill="#000"/>
<rect x="736" y="308" width="630" height="1" fill="#000"/>
<rect x="736" y="268" width="630" height="1" fill="#000"/>
<rect x="736" y="229" width="630" height="1" fill="#000"/>
<rect x="761.35" y="190.95" width="1.8" height="3.3" fill="#000"/>
<rect x="761.35" y="499.75" width="1.8" height="3.3" fill="#000"/>
<rect x="787.60" y="190.95" width="1.8" height="3.3" fill="#000"/>
<rect x="787.60" y="499.75" width="1.8" height="3.3" fill="#000"/>
<rect x="813.85" y="190.95" width="1.8" height="3.3" fill="#000"/>
<rect x="813.85" y="499.75" width="1.8" height="3.3" fill="#000"/>
<rect x="840.10" y="190.95" width="1.8" height="3.3" fill="#000"/>
<rect x="840.10" y="499.75" width="1.8" height="3.3" fill="#000"/>
<rect x="866.35" y="190.95" width="1.8" height="3.3" fill="#000"/>
<rect x="866.35" y="499.75" width="1.8" height="3.3" fill="#000"/>
<rect x="892.60" y="190.95" width="1.8" height="3.3" fill="#000"/>
<rect x="892.60" y="499.75" width="1.8" height="3.3" fill="#000"/>
<rect x="918.85" y="190.95" width="1.8" height="3.3" fill="#000"/>
<rect x="918.85" y="499.75" width="1.8" height="3.3" fill="#000"/>
<rect x="945.10" y="190.95" width="1.8" height="3.3" fill="#000"/>
<rect x="945.10" y="499.75" width="1.8" height="3.3" fill="#000"/>
<rect x="971.35" y="190.95" width="1.8" height="3.3" fill="#000"/>
<rect x="971.35" y="499.75" width="1.8" height="3.3" fill="#000"/>
<rect x="997.60" y="190.95" width="1.8" height="3.3" fill="#000"/>
<rect x="997.60" y="499.75" width="1.8" height="3.3" fill="#000"/>
<rect x="1023.85" y="190.95" width="1.8" height="3.3" fill="#000"/>
<rect x="1023.85" y="499.75" width="1.8" height="3.3" fill="#000"/>
<rect x="1050.10" y="190.95" width="1.8" height="3.3" fill="#000"/>
<rect x="1050.10" y="499.75" width="1.8" height="3.3" fill="#000"/>
<rect x="1076.35" y="190.95" width="1.8" height="3.3" fill="#000"/>
<rect x="1076.35" y="499.75" width="1.8" height="3.3" fill="#000"/>
<rect x="1102.60" y="190.95" width="1.8" height="3.3" fill="#000"/>
<rect x="1102.60" y="499.75" width="1.8" height="3.3" fill="#000"/>
<rect x="1128.85" y="190.95" width="1.8" height="3.3" fill="#000"/>
<rect x="1128.85" y="499.75" width="1.8" height="3.3" fill="#000"/>
<rect x="1155.10" y="190.95" width="1.8" height="3.3" fill="#000"/>
<rect x="1155.10" y="499.75" width="1.8" height="3.3" fill="#000"/>
<rect x="1181.35" y="190.95" width="1.8" height="3.3" fill="#000"/>
<rect x="1181.35" y="499.75" width="1.8" height="3.3" fill="#000"/>
<rect x="1207.60" y="190.95" width="1.8" height="3.3" fill="#000"/>
<rect x="1207.60" y="499.75" width="1.8" height="3.3" fill="#000"/>
<rect x="1233.85" y="190.95" width="1.8" height="3.3" fill="#000"/>
<rect x="1233.85" y="499.75" width="1.8" height="3.3" fill="#000"/>
<rect x="1260.10" y="190.95" width="1.8" height="3.3" fill="#000"/>
<rect x="1260.10" y="499.75" width="1.8" height="3.3" fill="#000"/>
<rect x="1286.35" y="190.95" width="1.8" height="3.3" fill="#000"/>
<rect x="1286.35" y="499.75" width="1.8" height="3.3" fill="#000"/>
<rect x="1312.60" y="190.95" width="1.8" height="3.3" fill="#000"/>
<rect x="1312.60" y="499.75" width="1.8" height="3.3" fill="#000"/>
<rect x="1338.85" y="190.95" width="1.8" height="3.3" fill="#000"/>
<rect x="1338.85" y="499.75" width="1.8" height="3.3" fill="#000"/>
<rect x="737.65" y="464" width="4.5" height="2" fill="#000"/>
<rect x="1359.85" y="464" width="4.5" height="2" fill="#000"/>
<rect x="737.65" y="425" width="4.5" height="2" fill="#000"/>
<rect x="1359.85" y="425" width="4.5" height="2" fill="#000"/>
<rect x="737.65" y="385" width="4.5" height="2" fill="#000"/>
<rect x="1359.85" y="385" width="4.5" height="2" fill="#000"/>
<rect x="737.65" y="346" width="4.5" height="2" fill="#000"/>
<rect x="1359.85" y="346" width="4.5" height="2" fill="#000"/>
<rect x="737.65" y="307" width="4.5" height="2" fill="#000"/>
<rect x="1359.85" y="307" width="4.5" height="2" fill="#000"/>
<rect x="737.65" y="267" width="4.5" height="2" fill="#000"/>
<rect x="1359.85" y="267" width="4.5" height="2" fill="#000"/>
<rect x="737.65" y="228" width="4.5" height="2" fill="#000"/>
<rect x="1359.85" y="228" width="4.5" height="2" fill="#000"/>
<rect x="736" y="189.3" width="630" height="315.4" fill="none" stroke="#000" stroke-width="4.3" stroke-linejoin="miter"/>
<text x="736.0" y="528" text-anchor="middle">0</text>
<text x="814.8" y="528" text-anchor="middle">3</text>
<text x="893.5" y="528" text-anchor="middle">6</text>
<text x="972.2" y="528" text-anchor="middle">9</text>
<text x="1051.0" y="528" text-anchor="middle">12</text>
<text x="1129.8" y="528" text-anchor="middle">15</text>
<text x="1208.5" y="528" text-anchor="middle">18</text>
<text x="1287.2" y="528" text-anchor="middle">21</text>
<text x="1366.0" y="528" text-anchor="middle">24</text>
<text x="1397.5" y="512.6" text-anchor="end">0</text>
<text x="1397.5" y="473.2" text-anchor="end">5</text>
<text x="1397.5" y="433.8" text-anchor="end">10</text>
<text x="1397.5" y="394.3" text-anchor="end">15</text>
<text x="1397.5" y="354.9" text-anchor="end">20</text>
<text x="1397.5" y="315.5" text-anchor="end">25</text>
<text x="1397.5" y="276.0" text-anchor="end">30</text>
<text x="1397.5" y="236.6" text-anchor="end">35</text>
<text x="1397.5" y="197.2" text-anchor="end">40</text>
<text transform="translate(1429.5 349.5) rotate(-90)" text-anchor="middle">Número de satélites</text>
<rect x="736" y="846" width="630" height="1" fill="#000"/>
<rect x="736" y="793" width="630" height="1" fill="#000"/>
<rect x="736" y="740" width="630" height="1" fill="#000"/>
<rect x="736" y="688" width="630" height="1" fill="#000"/>
<rect x="736" y="636" width="630" height="1" fill="#000"/>
<rect x="761.35" y="584.65" width="1.8" height="3.3" fill="#000"/>
<rect x="761.35" y="893.05" width="1.8" height="3.3" fill="#000"/>
<rect x="787.60" y="584.65" width="1.8" height="3.3" fill="#000"/>
<rect x="787.60" y="893.05" width="1.8" height="3.3" fill="#000"/>
<rect x="813.85" y="584.65" width="1.8" height="3.3" fill="#000"/>
<rect x="813.85" y="893.05" width="1.8" height="3.3" fill="#000"/>
<rect x="840.10" y="584.65" width="1.8" height="3.3" fill="#000"/>
<rect x="840.10" y="893.05" width="1.8" height="3.3" fill="#000"/>
<rect x="866.35" y="584.65" width="1.8" height="3.3" fill="#000"/>
<rect x="866.35" y="893.05" width="1.8" height="3.3" fill="#000"/>
<rect x="892.60" y="584.65" width="1.8" height="3.3" fill="#000"/>
<rect x="892.60" y="893.05" width="1.8" height="3.3" fill="#000"/>
<rect x="918.85" y="584.65" width="1.8" height="3.3" fill="#000"/>
<rect x="918.85" y="893.05" width="1.8" height="3.3" fill="#000"/>
<rect x="945.10" y="584.65" width="1.8" height="3.3" fill="#000"/>
<rect x="945.10" y="893.05" width="1.8" height="3.3" fill="#000"/>
<rect x="971.35" y="584.65" width="1.8" height="3.3" fill="#000"/>
<rect x="971.35" y="893.05" width="1.8" height="3.3" fill="#000"/>
<rect x="997.60" y="584.65" width="1.8" height="3.3" fill="#000"/>
<rect x="997.60" y="893.05" width="1.8" height="3.3" fill="#000"/>
<rect x="1023.85" y="584.65" width="1.8" height="3.3" fill="#000"/>
<rect x="1023.85" y="893.05" width="1.8" height="3.3" fill="#000"/>
<rect x="1050.10" y="584.65" width="1.8" height="3.3" fill="#000"/>
<rect x="1050.10" y="893.05" width="1.8" height="3.3" fill="#000"/>
<rect x="1076.35" y="584.65" width="1.8" height="3.3" fill="#000"/>
<rect x="1076.35" y="893.05" width="1.8" height="3.3" fill="#000"/>
<rect x="1102.60" y="584.65" width="1.8" height="3.3" fill="#000"/>
<rect x="1102.60" y="893.05" width="1.8" height="3.3" fill="#000"/>
<rect x="1128.85" y="584.65" width="1.8" height="3.3" fill="#000"/>
<rect x="1128.85" y="893.05" width="1.8" height="3.3" fill="#000"/>
<rect x="1155.10" y="584.65" width="1.8" height="3.3" fill="#000"/>
<rect x="1155.10" y="893.05" width="1.8" height="3.3" fill="#000"/>
<rect x="1181.35" y="584.65" width="1.8" height="3.3" fill="#000"/>
<rect x="1181.35" y="893.05" width="1.8" height="3.3" fill="#000"/>
<rect x="1207.60" y="584.65" width="1.8" height="3.3" fill="#000"/>
<rect x="1207.60" y="893.05" width="1.8" height="3.3" fill="#000"/>
<rect x="1233.85" y="584.65" width="1.8" height="3.3" fill="#000"/>
<rect x="1233.85" y="893.05" width="1.8" height="3.3" fill="#000"/>
<rect x="1260.10" y="584.65" width="1.8" height="3.3" fill="#000"/>
<rect x="1260.10" y="893.05" width="1.8" height="3.3" fill="#000"/>
<rect x="1286.35" y="584.65" width="1.8" height="3.3" fill="#000"/>
<rect x="1286.35" y="893.05" width="1.8" height="3.3" fill="#000"/>
<rect x="1312.60" y="584.65" width="1.8" height="3.3" fill="#000"/>
<rect x="1312.60" y="893.05" width="1.8" height="3.3" fill="#000"/>
<rect x="1338.85" y="584.65" width="1.8" height="3.3" fill="#000"/>
<rect x="1338.85" y="893.05" width="1.8" height="3.3" fill="#000"/>
<rect x="737.65" y="845" width="4.5" height="2" fill="#000"/>
<rect x="1359.85" y="845" width="4.5" height="2" fill="#000"/>
<rect x="737.65" y="792" width="4.5" height="2" fill="#000"/>
<rect x="1359.85" y="792" width="4.5" height="2" fill="#000"/>
<rect x="737.65" y="739" width="4.5" height="2" fill="#000"/>
<rect x="1359.85" y="739" width="4.5" height="2" fill="#000"/>
<rect x="737.65" y="687" width="4.5" height="2" fill="#000"/>
<rect x="1359.85" y="687" width="4.5" height="2" fill="#000"/>
<rect x="737.65" y="635" width="4.5" height="2" fill="#000"/>
<rect x="1359.85" y="635" width="4.5" height="2" fill="#000"/>
<rect x="736" y="583" width="630" height="315" fill="none" stroke="#000" stroke-width="4.3" stroke-linejoin="miter"/>
<text x="736.0" y="922" text-anchor="middle">0</text>
<text x="814.8" y="922" text-anchor="middle">3</text>
<text x="893.5" y="922" text-anchor="middle">6</text>
<text x="972.2" y="922" text-anchor="middle">9</text>
<text x="1051.0" y="922" text-anchor="middle">12</text>
<text x="1129.8" y="922" text-anchor="middle">15</text>
<text x="1208.5" y="922" text-anchor="middle">18</text>
<text x="1287.2" y="922" text-anchor="middle">21</text>
<text x="1366.0" y="922" text-anchor="middle">24</text>
<text x="1411.5" y="905.9" text-anchor="end">0</text>
<text x="1411.5" y="853.4" text-anchor="end">60</text>
<text x="1411.5" y="800.9" text-anchor="end">120</text>
<text x="1411.5" y="748.4" text-anchor="end">180</text>
<text x="1411.5" y="695.9" text-anchor="end">240</text>
<text x="1411.5" y="643.4" text-anchor="end">300</text>
<text x="1411.5" y="590.9" text-anchor="end">360</text>
<text transform="translate(1441 741) rotate(-90)" text-anchor="middle">Azimut (grados)</text>
<rect x="67" y="1240" width="630" height="1" fill="#000"/>
<rect x="67" y="1187" width="630" height="1" fill="#000"/>
<rect x="67" y="1134" width="630" height="1" fill="#000"/>
<rect x="67" y="1082" width="630" height="1" fill="#000"/>
<rect x="67" y="1030" width="630" height="1" fill="#000"/>
<rect x="83.60" y="978.65" width="1.8" height="2.7" fill="#000"/>
<rect x="83.60" y="1287.65" width="1.8" height="2.7" fill="#000"/>
<rect x="101.10" y="978.65" width="1.8" height="2.7" fill="#000"/>
<rect x="101.10" y="1287.65" width="1.8" height="2.7" fill="#000"/>
<rect x="118.60" y="978.65" width="1.8" height="4.0" fill="#000"/>
<rect x="118.60" y="1286.35" width="1.8" height="4.0" fill="#000"/>
<rect x="136.10" y="978.65" width="1.8" height="2.7" fill="#000"/>
<rect x="136.10" y="1287.65" width="1.8" height="2.7" fill="#000"/>
<rect x="153.60" y="978.65" width="1.8" height="2.7" fill="#000"/>
<rect x="153.60" y="1287.65" width="1.8" height="2.7" fill="#000"/>
<rect x="171.10" y="978.65" width="1.8" height="4.0" fill="#000"/>
<rect x="171.10" y="1286.35" width="1.8" height="4.0" fill="#000"/>
<rect x="188.60" y="978.65" width="1.8" height="2.7" fill="#000"/>
<rect x="188.60" y="1287.65" width="1.8" height="2.7" fill="#000"/>
<rect x="206.10" y="978.65" width="1.8" height="2.7" fill="#000"/>
<rect x="206.10" y="1287.65" width="1.8" height="2.7" fill="#000"/>
<rect x="223.60" y="978.65" width="1.8" height="4.0" fill="#000"/>
<rect x="223.60" y="1286.35" width="1.8" height="4.0" fill="#000"/>
<rect x="241.10" y="978.65" width="1.8" height="2.7" fill="#000"/>
<rect x="241.10" y="1287.65" width="1.8" height="2.7" fill="#000"/>
<rect x="258.60" y="978.65" width="1.8" height="2.7" fill="#000"/>
<rect x="258.60" y="1287.65" width="1.8" height="2.7" fill="#000"/>
<rect x="276.10" y="978.65" width="1.8" height="4.0" fill="#000"/>
<rect x="276.10" y="1286.35" width="1.8" height="4.0" fill="#000"/>
<rect x="293.60" y="978.65" width="1.8" height="2.7" fill="#000"/>
<rect x="293.60" y="1287.65" width="1.8" height="2.7" fill="#000"/>
<rect x="311.10" y="978.65" width="1.8" height="2.7" fill="#000"/>
<rect x="311.10" y="1287.65" width="1.8" height="2.7" fill="#000"/>
<rect x="328.60" y="978.65" width="1.8" height="4.0" fill="#000"/>
<rect x="328.60" y="1286.35" width="1.8" height="4.0" fill="#000"/>
<rect x="346.10" y="978.65" width="1.8" height="2.7" fill="#000"/>
<rect x="346.10" y="1287.65" width="1.8" height="2.7" fill="#000"/>
<rect x="363.60" y="978.65" width="1.8" height="2.7" fill="#000"/>
<rect x="363.60" y="1287.65" width="1.8" height="2.7" fill="#000"/>
<rect x="381.10" y="978.65" width="1.8" height="4.0" fill="#000"/>
<rect x="381.10" y="1286.35" width="1.8" height="4.0" fill="#000"/>
<rect x="398.60" y="978.65" width="1.8" height="2.7" fill="#000"/>
<rect x="398.60" y="1287.65" width="1.8" height="2.7" fill="#000"/>
<rect x="416.10" y="978.65" width="1.8" height="2.7" fill="#000"/>
<rect x="416.10" y="1287.65" width="1.8" height="2.7" fill="#000"/>
<rect x="433.60" y="978.65" width="1.8" height="4.0" fill="#000"/>
<rect x="433.60" y="1286.35" width="1.8" height="4.0" fill="#000"/>
<rect x="451.10" y="978.65" width="1.8" height="2.7" fill="#000"/>
<rect x="451.10" y="1287.65" width="1.8" height="2.7" fill="#000"/>
<rect x="468.60" y="978.65" width="1.8" height="2.7" fill="#000"/>
<rect x="468.60" y="1287.65" width="1.8" height="2.7" fill="#000"/>
<rect x="486.10" y="978.65" width="1.8" height="4.0" fill="#000"/>
<rect x="486.10" y="1286.35" width="1.8" height="4.0" fill="#000"/>
<rect x="503.60" y="978.65" width="1.8" height="2.7" fill="#000"/>
<rect x="503.60" y="1287.65" width="1.8" height="2.7" fill="#000"/>
<rect x="521.10" y="978.65" width="1.8" height="2.7" fill="#000"/>
<rect x="521.10" y="1287.65" width="1.8" height="2.7" fill="#000"/>
<rect x="538.60" y="978.65" width="1.8" height="4.0" fill="#000"/>
<rect x="538.60" y="1286.35" width="1.8" height="4.0" fill="#000"/>
<rect x="556.10" y="978.65" width="1.8" height="2.7" fill="#000"/>
<rect x="556.10" y="1287.65" width="1.8" height="2.7" fill="#000"/>
<rect x="573.60" y="978.65" width="1.8" height="2.7" fill="#000"/>
<rect x="573.60" y="1287.65" width="1.8" height="2.7" fill="#000"/>
<rect x="591.10" y="978.65" width="1.8" height="4.0" fill="#000"/>
<rect x="591.10" y="1286.35" width="1.8" height="4.0" fill="#000"/>
<rect x="608.60" y="978.65" width="1.8" height="2.7" fill="#000"/>
<rect x="608.60" y="1287.65" width="1.8" height="2.7" fill="#000"/>
<rect x="626.10" y="978.65" width="1.8" height="2.7" fill="#000"/>
<rect x="626.10" y="1287.65" width="1.8" height="2.7" fill="#000"/>
<rect x="643.60" y="978.65" width="1.8" height="4.0" fill="#000"/>
<rect x="643.60" y="1286.35" width="1.8" height="4.0" fill="#000"/>
<rect x="661.10" y="978.65" width="1.8" height="2.7" fill="#000"/>
<rect x="661.10" y="1287.65" width="1.8" height="2.7" fill="#000"/>
<rect x="678.60" y="978.65" width="1.8" height="2.7" fill="#000"/>
<rect x="678.60" y="1287.65" width="1.8" height="2.7" fill="#000"/>
<rect x="68.65" y="1239" width="4.5" height="2" fill="#000"/>
<rect x="690.85" y="1239" width="4.5" height="2" fill="#000"/>
<rect x="68.65" y="1186" width="4.5" height="2" fill="#000"/>
<rect x="690.85" y="1186" width="4.5" height="2" fill="#000"/>
<rect x="68.65" y="1133" width="4.5" height="2" fill="#000"/>
<rect x="690.85" y="1133" width="4.5" height="2" fill="#000"/>
<rect x="68.65" y="1081" width="4.5" height="2" fill="#000"/>
<rect x="690.85" y="1081" width="4.5" height="2" fill="#000"/>
<rect x="68.65" y="1029" width="4.5" height="2" fill="#000"/>
<rect x="690.85" y="1029" width="4.5" height="2" fill="#000"/>
<rect x="67" y="977" width="630" height="315" fill="none" stroke="#000" stroke-width="4.3" stroke-linejoin="miter"/>
<text x="67.0" y="1316" text-anchor="middle">0</text>
<text x="119.5" y="1316" text-anchor="middle">30</text>
<text x="172.0" y="1316" text-anchor="middle">60</text>
<text x="224.5" y="1316" text-anchor="middle">90</text>
<text x="277.0" y="1316" text-anchor="middle">120</text>
<text x="329.5" y="1316" text-anchor="middle">150</text>
<text x="382.0" y="1316" text-anchor="middle">180</text>
<text x="434.5" y="1316" text-anchor="middle">210</text>
<text x="487.0" y="1316" text-anchor="middle">240</text>
<text x="539.5" y="1316" text-anchor="middle">270</text>
<text x="592.0" y="1316" text-anchor="middle">300</text>
<text x="644.5" y="1316" text-anchor="middle">330</text>
<text x="697.0" y="1316" text-anchor="middle">360</text>
<text x="58" y="1299.9" text-anchor="end">0</text>
<text x="58" y="1247.4" text-anchor="end">15</text>
<text x="58" y="1194.9" text-anchor="end">30</text>
<text x="58" y="1142.4" text-anchor="end">45</text>
<text x="58" y="1089.9" text-anchor="end">60</text>
<text x="58" y="1037.4" text-anchor="end">75</text>
<text x="58" y="984.9" text-anchor="end">90</text>
<text transform="translate(21.5 1134) rotate(-90)" text-anchor="middle">Elevación (grados)</text>
<text x="382.0" y="1344" text-anchor="middle">Azimut (grados)</text>
<rect x="736" y="1240" width="630" height="1" fill="#000"/>
<rect x="736" y="1187" width="630" height="1" fill="#000"/>
<rect x="736" y="1134" width="630" height="1" fill="#000"/>
<rect x="736" y="1082" width="630" height="1" fill="#000"/>
<rect x="736" y="1030" width="630" height="1" fill="#000"/>
<rect x="761.35" y="978.65" width="1.8" height="3.3" fill="#000"/>
<rect x="761.35" y="1287.05" width="1.8" height="3.3" fill="#000"/>
<rect x="787.60" y="978.65" width="1.8" height="3.3" fill="#000"/>
<rect x="787.60" y="1287.05" width="1.8" height="3.3" fill="#000"/>
<rect x="813.85" y="978.65" width="1.8" height="3.3" fill="#000"/>
<rect x="813.85" y="1287.05" width="1.8" height="3.3" fill="#000"/>
<rect x="840.10" y="978.65" width="1.8" height="3.3" fill="#000"/>
<rect x="840.10" y="1287.05" width="1.8" height="3.3" fill="#000"/>
<rect x="866.35" y="978.65" width="1.8" height="3.3" fill="#000"/>
<rect x="866.35" y="1287.05" width="1.8" height="3.3" fill="#000"/>
<rect x="892.60" y="978.65" width="1.8" height="3.3" fill="#000"/>
<rect x="892.60" y="1287.05" width="1.8" height="3.3" fill="#000"/>
<rect x="918.85" y="978.65" width="1.8" height="3.3" fill="#000"/>
<rect x="918.85" y="1287.05" width="1.8" height="3.3" fill="#000"/>
<rect x="945.10" y="978.65" width="1.8" height="3.3" fill="#000"/>
<rect x="945.10" y="1287.05" width="1.8" height="3.3" fill="#000"/>
<rect x="971.35" y="978.65" width="1.8" height="3.3" fill="#000"/>
<rect x="971.35" y="1287.05" width="1.8" height="3.3" fill="#000"/>
<rect x="997.60" y="978.65" width="1.8" height="3.3" fill="#000"/>
<rect x="997.60" y="1287.05" width="1.8" height="3.3" fill="#000"/>
<rect x="1023.85" y="978.65" width="1.8" height="3.3" fill="#000"/>
<rect x="1023.85" y="1287.05" width="1.8" height="3.3" fill="#000"/>
<rect x="1050.10" y="978.65" width="1.8" height="3.3" fill="#000"/>
<rect x="1050.10" y="1287.05" width="1.8" height="3.3" fill="#000"/>
<rect x="1076.35" y="978.65" width="1.8" height="3.3" fill="#000"/>
<rect x="1076.35" y="1287.05" width="1.8" height="3.3" fill="#000"/>
<rect x="1102.60" y="978.65" width="1.8" height="3.3" fill="#000"/>
<rect x="1102.60" y="1287.05" width="1.8" height="3.3" fill="#000"/>
<rect x="1128.85" y="978.65" width="1.8" height="3.3" fill="#000"/>
<rect x="1128.85" y="1287.05" width="1.8" height="3.3" fill="#000"/>
<rect x="1155.10" y="978.65" width="1.8" height="3.3" fill="#000"/>
<rect x="1155.10" y="1287.05" width="1.8" height="3.3" fill="#000"/>
<rect x="1181.35" y="978.65" width="1.8" height="3.3" fill="#000"/>
<rect x="1181.35" y="1287.05" width="1.8" height="3.3" fill="#000"/>
<rect x="1207.60" y="978.65" width="1.8" height="3.3" fill="#000"/>
<rect x="1207.60" y="1287.05" width="1.8" height="3.3" fill="#000"/>
<rect x="1233.85" y="978.65" width="1.8" height="3.3" fill="#000"/>
<rect x="1233.85" y="1287.05" width="1.8" height="3.3" fill="#000"/>
<rect x="1260.10" y="978.65" width="1.8" height="3.3" fill="#000"/>
<rect x="1260.10" y="1287.05" width="1.8" height="3.3" fill="#000"/>
<rect x="1286.35" y="978.65" width="1.8" height="3.3" fill="#000"/>
<rect x="1286.35" y="1287.05" width="1.8" height="3.3" fill="#000"/>
<rect x="1312.60" y="978.65" width="1.8" height="3.3" fill="#000"/>
<rect x="1312.60" y="1287.05" width="1.8" height="3.3" fill="#000"/>
<rect x="1338.85" y="978.65" width="1.8" height="3.3" fill="#000"/>
<rect x="1338.85" y="1287.05" width="1.8" height="3.3" fill="#000"/>
<rect x="737.65" y="1239" width="4.5" height="2" fill="#000"/>
<rect x="1359.85" y="1239" width="4.5" height="2" fill="#000"/>
<rect x="737.65" y="1186" width="4.5" height="2" fill="#000"/>
<rect x="1359.85" y="1186" width="4.5" height="2" fill="#000"/>
<rect x="737.65" y="1133" width="4.5" height="2" fill="#000"/>
<rect x="1359.85" y="1133" width="4.5" height="2" fill="#000"/>
<rect x="737.65" y="1081" width="4.5" height="2" fill="#000"/>
<rect x="1359.85" y="1081" width="4.5" height="2" fill="#000"/>
<rect x="737.65" y="1029" width="4.5" height="2" fill="#000"/>
<rect x="1359.85" y="1029" width="4.5" height="2" fill="#000"/>
<rect x="736" y="977" width="630" height="315" fill="none" stroke="#000" stroke-width="4.3" stroke-linejoin="miter"/>
<text x="736.0" y="1316" text-anchor="middle">0</text>
<text x="814.8" y="1316" text-anchor="middle">3</text>
<text x="893.5" y="1316" text-anchor="middle">6</text>
<text x="972.2" y="1316" text-anchor="middle">9</text>
<text x="1051.0" y="1316" text-anchor="middle">12</text>
<text x="1129.8" y="1316" text-anchor="middle">15</text>
<text x="1208.5" y="1316" text-anchor="middle">18</text>
<text x="1287.2" y="1316" text-anchor="middle">21</text>
<text x="1366.0" y="1316" text-anchor="middle">24</text>
<text x="1399.5" y="1299.9" text-anchor="end">0</text>
<text x="1399.5" y="1247.4" text-anchor="end">15</text>
<text x="1399.5" y="1194.9" text-anchor="end">30</text>
<text x="1399.5" y="1142.4" text-anchor="end">45</text>
<text x="1399.5" y="1089.9" text-anchor="end">60</text>
<text x="1399.5" y="1037.4" text-anchor="end">75</text>
<text x="1399.5" y="984.9" text-anchor="end">90</text>
<text transform="translate(1429.5 1129) rotate(-90)" text-anchor="middle">Elevación (grados)</text>
<text x="1051.0" y="1344" text-anchor="middle">Tiempo (horas)</text>
</g>
<g font-family="'Liberation Sans', Arial, Helvetica, sans-serif" font-size="13" fill="#000" letter-spacing="0.56">
<rect x="1189" y="203" width="13" height="12.7" fill="#dcdcdc"/><text x="1206" y="211.8">GNSS predichos</text>
<rect x="1189" y="219" width="13" height="12.9" fill="#000"/><text x="1206" y="226.6">GNSS captados L1</text>
<rect x="1189" y="234" width="13" height="12.9" fill="#00ff00"/><text x="1206" y="242.7">GNSS captados L1 y L2</text>
</g>
<circle cx="382.0" cy="685.4" r="212.4" fill="none" stroke="#000" stroke-width="4.6"/>
<g font-family="'Liberation Sans', Arial, Helvetica, sans-serif" font-size="22" fill="#000">
<text x="384" y="464" text-anchor="middle">Norte</text>
<text x="379.5" y="926" text-anchor="middle">Sur</text>
<text x="158" y="688" text-anchor="end">Oeste</text>
<text x="604" y="688">Este</text>
<text x="385" y="538">30</text>
<text x="385" y="607.7">60</text>
</g>
</svg></body></html>
